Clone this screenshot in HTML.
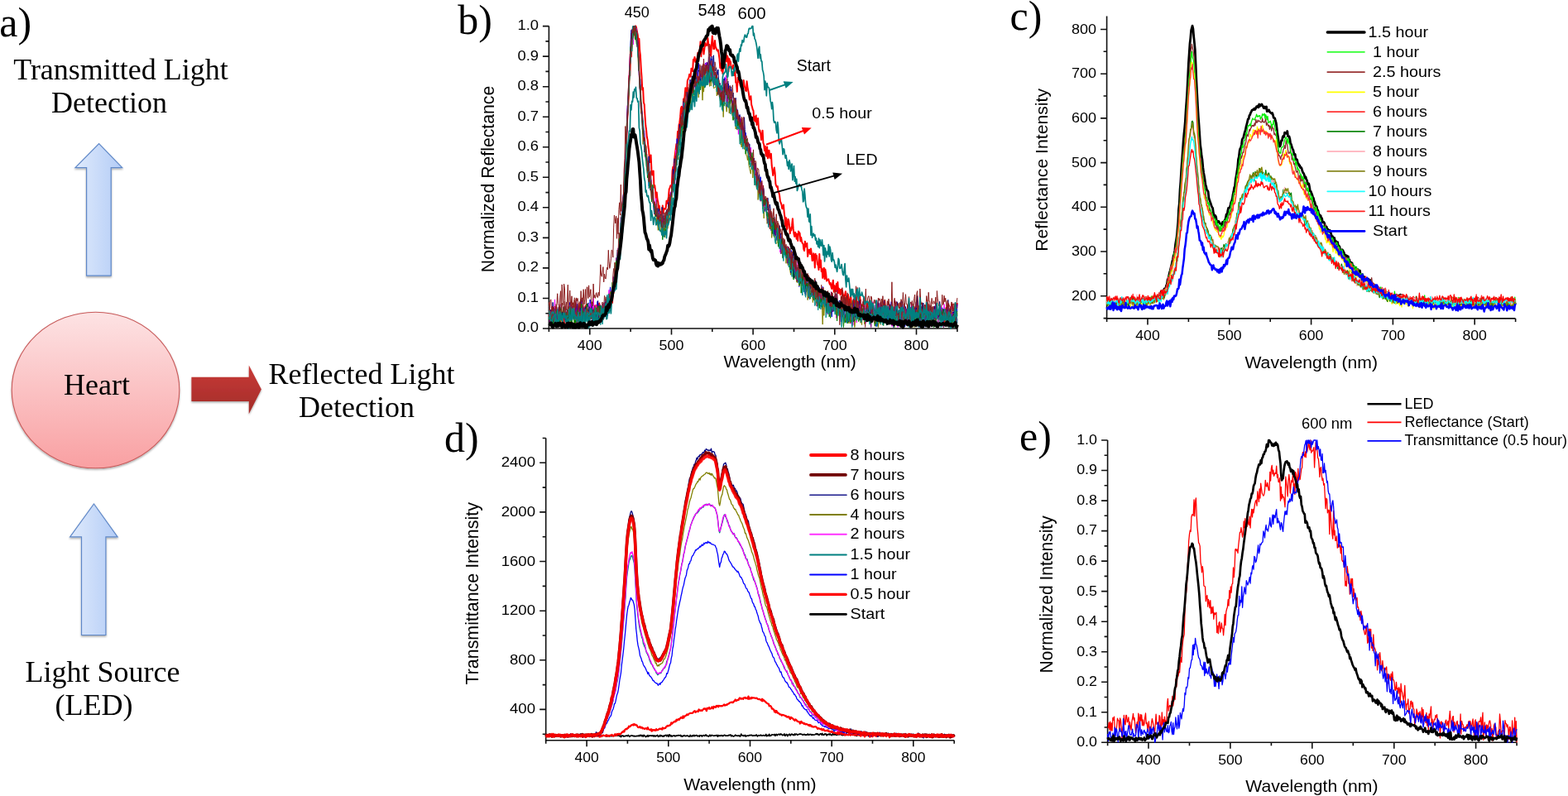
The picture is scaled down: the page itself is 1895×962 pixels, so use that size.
<!DOCTYPE html>
<html><head><meta charset="utf-8"><title>Figure</title>
<style>html,body{margin:0;padding:0;background:#fff;overflow:hidden;}svg{display:block;}</style></head>
<body><svg width="1895" height="962" viewBox="0 0 1895 962">
<rect width="1895" height="962" fill="#fff"/>
<defs>
<linearGradient id="gh" x1="0" y1="0" x2="0" y2="1">
 <stop offset="0" stop-color="#fde3e4"/><stop offset="1" stop-color="#f9a0a2"/>
</linearGradient>
<linearGradient id="gb" x1="0" y1="0" x2="1" y2="0">
 <stop offset="0" stop-color="#dfeafc"/><stop offset="1" stop-color="#b3ccf6"/>
</linearGradient>
<linearGradient id="gr" x1="0" y1="0" x2="0" y2="1">
 <stop offset="0" stop-color="#c93b38"/><stop offset="1" stop-color="#a22b28"/>
</linearGradient>
<filter id="sh" x="-20%" y="-20%" width="140%" height="140%"><feDropShadow dx="0" dy="1.5" stdDeviation="1.2" flood-color="#000" flood-opacity="0.35"/></filter>
</defs>
<path d="M119.6 173.7L147.7 202.7L134.2 202.7L134.2 333.2L104.6 333.2L104.6 202.7L91.0 202.7Z" fill="url(#gb)" stroke="#5f88c8" stroke-width="1.2" filter="url(#sh)"/>
<path d="M113.5 609.0L142.1 648.8L127.9 648.8L127.9 767.5L98.5 767.5L98.5 648.8L84.6 648.8Z" fill="url(#gb)" stroke="#5f88c8" stroke-width="1.2" filter="url(#sh)"/>
<ellipse cx="115.5" cy="471.5" rx="101.3" ry="94.3" fill="url(#gh)" stroke="#c85a5a" stroke-width="1.1" filter="url(#sh)"/>
<path d="M231.4 455.8H300.8V441.6L315.9 470.4L300.8 500.3V485.0H231.4Z" fill="url(#gr)" filter="url(#sh)"/>
<g font-family="Liberation Serif, Times New Roman, serif" fill="#000">
<text x="-0.8" y="44" font-size="50">a)</text>
<text x="146" y="95.8" font-size="36" text-anchor="middle">Transmitted Light</text>
<text x="132" y="136.1" font-size="36" text-anchor="middle">Detection</text>
<text x="117" y="476.5" font-size="36" text-anchor="middle">Heart</text>
<text x="437" y="463.5" font-size="36" text-anchor="middle">Reflected Light</text>
<text x="431" y="503.8" font-size="36" text-anchor="middle">Detection</text>
<text x="124" y="823.5" font-size="36" text-anchor="middle">Light Source</text>
<text x="113.5" y="863.6" font-size="36" text-anchor="middle">(LED)</text>
<text x="553.2" y="40.6" font-size="50">b)</text>
<text x="1220.5" y="35.8" font-size="50">c)</text>
<text x="537" y="546.3" font-size="50">d)</text>
<text x="1232" y="544" font-size="50">e)</text>
</g>
<g stroke="#111" stroke-width="1.6" fill="none">
<path d="M663.4 397.8V31.6"/>
<path d="M662.6 397.0H1156.9"/>
<path d="M655.9 397.0H663.4M655.9 360.5H663.4M655.9 323.9H663.4M655.9 287.4H663.4M655.9 250.8H663.4M655.9 214.3H663.4M655.9 177.8H663.4M655.9 141.2H663.4M655.9 104.7H663.4M655.9 68.1H663.4M655.9 31.6H663.4M659.4 378.7H663.4M659.4 342.2H663.4M659.4 305.6H663.4M659.4 269.1H663.4M659.4 232.6H663.4M659.4 196.0H663.4M659.4 159.5H663.4M659.4 123.0H663.4M659.4 86.4H663.4M659.4 49.9H663.4M712.8 397.0V404.5M811.5 397.0V404.5M910.1 397.0V404.5M1008.8 397.0V404.5M1107.5 397.0V404.5M663.4 397.0V401.0M762.1 397.0V401.0M860.8 397.0V401.0M959.5 397.0V401.0M1058.2 397.0V401.0M1156.9 397.0V401.0"/>
</g>
<g font-family="Liberation Sans, Arial, sans-serif" fill="#000">
<text transform="translate(651.00 401.40) scale(1.080 1.000)" font-size="17" text-anchor="end">0.0</text>
<text transform="translate(651.00 364.86) scale(1.080 1.000)" font-size="17" text-anchor="end">0.1</text>
<text transform="translate(651.00 328.32) scale(1.080 1.000)" font-size="17" text-anchor="end">0.2</text>
<text transform="translate(651.00 291.78) scale(1.080 1.000)" font-size="17" text-anchor="end">0.3</text>
<text transform="translate(651.00 255.24) scale(1.080 1.000)" font-size="17" text-anchor="end">0.4</text>
<text transform="translate(651.00 218.70) scale(1.080 1.000)" font-size="17" text-anchor="end">0.5</text>
<text transform="translate(651.00 182.16) scale(1.080 1.000)" font-size="17" text-anchor="end">0.6</text>
<text transform="translate(651.00 145.62) scale(1.080 1.000)" font-size="17" text-anchor="end">0.7</text>
<text transform="translate(651.00 109.08) scale(1.080 1.000)" font-size="17" text-anchor="end">0.8</text>
<text transform="translate(651.00 72.54) scale(1.080 1.000)" font-size="17" text-anchor="end">0.9</text>
<text transform="translate(651.00 36.00) scale(1.080 1.000)" font-size="17" text-anchor="end">1.0</text>
<text transform="translate(712.75 422.60) scale(1.055 1.000)" font-size="17" text-anchor="middle">400</text>
<text transform="translate(811.45 422.60) scale(1.055 1.000)" font-size="17" text-anchor="middle">500</text>
<text transform="translate(910.15 422.60) scale(1.055 1.000)" font-size="17" text-anchor="middle">600</text>
<text transform="translate(1008.85 422.60) scale(1.055 1.000)" font-size="17" text-anchor="middle">700</text>
<text transform="translate(1107.55 422.60) scale(1.055 1.000)" font-size="17" text-anchor="middle">800</text>
</g>
<g fill="none" stroke-linejoin="round">
<polyline points="663.4,380.2 664.2,383.6 665.0,381.2 665.8,384.2 666.6,378.4 667.3,371.4 668.1,381.4 668.9,382.1 669.7,376.0 670.5,376.7 671.3,378.1 672.1,383.8 672.9,378.8 673.7,374.8 674.5,386.0 675.2,381.1 676.0,389.0 676.8,385.7 677.6,388.7 678.4,379.8 679.2,385.5 680.0,377.0 680.8,377.6 681.6,379.5 682.4,392.3 683.1,381.4 683.9,378.7 684.7,377.8 685.5,386.7 686.3,381.0 687.1,383.7 687.9,382.7 688.7,372.4 689.5,382.6 690.2,378.4 691.0,373.3 691.8,381.3 692.6,378.7 693.4,377.4 694.2,377.7 695.0,384.7 695.8,377.5 696.6,370.5 697.4,386.3 698.1,373.1 698.9,377.1 699.7,381.3 700.5,366.7 701.3,373.5 702.1,384.2 702.9,377.1 703.7,374.3 704.5,378.5 705.2,373.7 706.0,377.7 706.8,373.7 707.6,369.4 708.4,380.9 709.2,376.0 710.0,379.6 710.8,376.3 711.6,383.5 712.4,380.1 713.1,377.9 713.9,371.9 714.7,370.5 715.5,383.9 716.3,380.9 717.1,372.9 717.9,387.2 718.7,378.7 719.5,376.6 720.3,369.0 721.0,371.9 721.8,377.3 722.6,377.4 723.4,376.5 724.2,366.5 725.0,377.0 725.8,376.1 726.6,372.2 727.4,374.5 728.1,374.6 728.9,379.3 729.7,372.9 730.5,374.9 731.3,365.7 732.1,368.1 732.9,371.3 733.7,366.7 734.5,371.2 735.3,362.2 736.0,366.3 736.8,361.2 737.6,369.4 738.4,358.0 739.2,366.7 740.0,365.9 740.8,353.6 741.6,353.9 742.4,344.9 743.1,330.0 743.9,342.5 744.7,336.4 745.5,326.2 746.3,318.4 747.1,315.4 747.9,308.6 748.7,296.4 749.5,290.0 750.3,290.5 751.0,276.5 751.8,266.4 752.6,262.0 753.4,243.5 754.2,237.3 755.0,212.4 755.8,198.6 756.6,179.4 757.4,162.8 758.2,140.9 758.9,134.0 759.7,114.4 760.5,91.5 761.3,91.4 762.1,63.2 762.9,68.4 763.7,48.4 764.5,51.2 765.3,37.0 766.0,36.1 766.8,42.0 767.6,31.6 768.4,31.6 769.2,34.1 770.0,38.6 770.8,42.5 771.6,52.3 772.4,46.7 773.2,61.7 773.9,67.2 774.7,81.8 775.5,92.7 776.3,108.5 777.1,106.1 777.9,123.8 778.7,126.3 779.5,139.9 780.3,151.7 781.1,157.2 781.8,165.5 782.6,168.9 783.4,177.0 784.2,182.4 785.0,193.8 785.8,195.9 786.6,187.4 787.4,204.9 788.2,211.6 788.9,208.3 789.7,206.6 790.5,226.5 791.3,224.1 792.1,230.9 792.9,241.6 793.7,232.4 794.5,240.8 795.3,244.2 796.1,252.2 796.8,248.7 797.6,256.5 798.4,256.1 799.2,262.3 800.0,262.9 800.8,248.5 801.6,257.7 802.4,252.0 803.2,252.3 803.9,252.7 804.7,251.1 805.5,242.8 806.3,245.7 807.1,242.5 807.9,238.5 808.7,228.6 809.5,227.2 810.3,224.3 811.1,224.7 811.8,224.3 812.6,206.6 813.4,201.7 814.2,202.8 815.0,193.6 815.8,186.6 816.6,180.5 817.4,174.0 818.2,175.6 819.0,158.9 819.7,168.3 820.5,151.3 821.3,148.2 822.1,141.4 822.9,131.2 823.7,128.9 824.5,138.9 825.3,137.6 826.1,119.5 826.8,125.3 827.6,115.3 828.4,106.2 829.2,115.6 830.0,114.1 830.8,97.6 831.6,95.6 832.4,94.2 833.2,89.7 834.0,91.8 834.7,92.7 835.5,82.7 836.3,84.7 837.1,86.1 837.9,72.1 838.7,73.3 839.5,68.9 840.3,74.9 841.1,71.7 841.8,72.4 842.6,70.7 843.4,63.7 844.2,68.1 845.0,61.0 845.8,60.2 846.6,50.2 847.4,68.2 848.2,54.9 849.0,59.6 849.7,58.4 850.5,65.5 851.3,59.3 852.1,51.8 852.9,55.4 853.7,53.5 854.5,54.6 855.3,45.8 856.1,51.4 856.9,62.7 857.6,54.0 858.4,60.7 859.2,67.7 860.0,53.1 860.8,43.5 861.6,51.4 862.4,59.1 863.2,59.1 864.0,49.1 864.7,56.0 865.5,58.1 866.3,60.3 867.1,61.6 867.9,60.3 868.7,65.3 869.5,71.1 870.3,81.9 871.1,76.7 871.9,85.6 872.6,76.8 873.4,89.0 874.2,80.9 875.0,77.6 875.8,82.3 876.6,63.5 877.4,63.8 878.2,74.4 879.0,67.6 879.8,69.9 880.5,86.4 881.3,71.0 882.1,73.7 882.9,74.4 883.7,82.8 884.5,80.8 885.3,83.0 886.1,78.4 886.9,86.1 887.6,91.0 888.4,85.5 889.2,99.6 890.0,101.0 890.8,110.8 891.6,93.8 892.4,97.9 893.2,98.7 894.0,100.4 894.8,103.8 895.5,103.5 896.3,106.2 897.1,106.2 897.9,104.9 898.7,97.1 899.5,102.6 900.3,106.2 901.1,109.4 901.9,110.1 902.6,98.3 903.4,105.1 904.2,109.1 905.0,113.6 905.8,120.5 906.6,117.9 907.4,116.2 908.2,126.6 909.0,129.2 909.8,132.6 910.5,133.8 911.3,145.8 912.1,140.9 912.9,146.7 913.7,139.5 914.5,150.9 915.3,145.8 916.1,142.9 916.9,155.3 917.7,159.3 918.4,157.5 919.2,161.1 920.0,169.1 920.8,163.7 921.6,157.7 922.4,172.7 923.2,174.9 924.0,181.9 924.8,176.7 925.5,187.4 926.3,188.6 927.1,177.4 927.9,191.3 928.7,182.2 929.5,181.7 930.3,190.6 931.1,191.1 931.9,185.8 932.7,200.0 933.4,204.9 934.2,212.0 935.0,207.4 935.8,202.6 936.6,208.6 937.4,222.2 938.2,224.8 939.0,226.1 939.8,225.1 940.5,231.4 941.3,232.8 942.1,236.0 942.9,243.0 943.7,245.2 944.5,247.3 945.3,252.2 946.1,252.1 946.9,247.4 947.7,256.8 948.4,261.8 949.2,273.0 950.0,263.2 950.8,277.5 951.6,275.9 952.4,264.7 953.2,266.7 954.0,272.5 954.8,282.2 955.6,275.8 956.3,278.5 957.1,272.2 957.9,264.3 958.7,276.4 959.5,282.8 960.3,285.9 961.1,280.7 961.9,282.4 962.7,288.8 963.4,282.9 964.2,290.9 965.0,279.6 965.8,280.9 966.6,281.9 967.4,291.4 968.2,287.1 969.0,291.7 969.8,294.1 970.6,294.9 971.3,301.2 972.1,303.0 972.9,291.8 973.7,298.3 974.5,297.1 975.3,293.9 976.1,310.0 976.9,305.9 977.7,301.7 978.5,301.7 979.2,307.0 980.0,300.4 980.8,306.1 981.6,315.0 982.4,314.6 983.2,306.2 984.0,309.3 984.8,323.4 985.6,306.7 986.3,312.0 987.1,309.0 987.9,319.6 988.7,320.3 989.5,326.0 990.3,307.0 991.1,323.0 991.9,314.5 992.7,327.9 993.5,324.7 994.2,335.9 995.0,330.0 995.8,323.7 996.6,337.2 997.4,325.6 998.2,330.8 999.0,339.5 999.8,337.7 1000.6,338.5 1001.3,337.3 1002.1,341.1 1002.9,343.7 1003.7,341.8 1004.5,346.6 1005.3,349.0 1006.1,343.0 1006.9,338.8 1007.7,352.8 1008.5,345.3 1009.2,349.7 1010.0,352.3 1010.8,343.1 1011.6,351.4 1012.4,341.1 1013.2,354.3 1014.0,348.7 1014.8,352.8 1015.6,356.4 1016.4,349.7 1017.1,354.5 1017.9,351.0 1018.7,355.2 1019.5,361.6 1020.3,356.8 1021.1,356.6 1021.9,352.2 1022.7,363.0 1023.5,358.8 1024.2,368.6 1025.0,356.1 1025.8,366.1 1026.6,370.6 1027.4,361.6 1028.2,355.7 1029.0,370.6 1029.8,368.8 1030.6,367.4 1031.4,370.0 1032.1,362.3 1032.9,369.3 1033.7,369.3 1034.5,362.6 1035.3,370.4 1036.1,364.4 1036.9,372.5 1037.7,374.3 1038.5,378.1 1039.2,358.3 1040.0,370.6 1040.8,367.9 1041.6,369.7 1042.4,369.0 1043.2,369.9 1044.0,360.0 1044.8,376.4 1045.6,379.4 1046.4,376.6 1047.1,378.6 1047.9,367.3 1048.7,367.0 1049.5,376.8 1050.3,379.3 1051.1,373.7 1051.9,364.2 1052.7,387.3 1053.5,369.1 1054.3,378.0 1055.0,366.4 1055.8,378.1 1056.6,373.9 1057.4,380.6 1058.2,377.8 1059.0,364.9 1059.8,368.1 1060.6,374.9 1061.4,377.5 1062.1,383.2 1062.9,375.1 1063.7,373.2 1064.5,373.5 1065.3,373.6 1066.1,379.3 1066.9,373.6 1067.7,373.6 1068.5,366.3 1069.3,363.2 1070.0,374.3 1070.8,377.8 1071.6,374.0 1072.4,377.1 1073.2,377.9 1074.0,374.2 1074.8,379.6 1075.6,370.7 1076.4,374.6 1077.2,372.7 1077.9,375.2 1078.7,378.2 1079.5,379.5 1080.3,375.6 1081.1,377.4 1081.9,373.2 1082.7,374.5 1083.5,382.0 1084.3,374.3 1085.0,382.0 1085.8,378.1 1086.6,376.4 1087.4,386.2 1088.2,374.4 1089.0,374.1 1089.8,375.8 1090.6,377.3 1091.4,377.1 1092.2,380.5 1092.9,376.6 1093.7,378.2 1094.5,374.8 1095.3,381.9 1096.1,374.1 1096.9,374.6 1097.7,376.2 1098.5,377.9 1099.3,372.5 1100.0,384.7 1100.8,373.1 1101.6,374.3 1102.4,374.1 1103.2,373.6 1104.0,379.3 1104.8,377.2 1105.6,372.3 1106.4,373.5 1107.2,374.7 1107.9,384.2 1108.7,373.0 1109.5,369.6 1110.3,370.5 1111.1,374.8 1111.9,384.6 1112.7,370.9 1113.5,376.9 1114.3,390.0 1115.1,374.1 1115.8,384.4 1116.6,383.4 1117.4,379.8 1118.2,369.3 1119.0,378.4 1119.8,374.9 1120.6,366.8 1121.4,367.7 1122.2,377.0 1122.9,377.8 1123.7,383.4 1124.5,380.3 1125.3,374.2 1126.1,374.4 1126.9,375.9 1127.7,371.1 1128.5,380.8 1129.3,376.9 1130.1,372.6 1130.8,373.4 1131.6,370.8 1132.4,374.5 1133.2,378.4 1134.0,374.7 1134.8,382.2 1135.6,385.7 1136.4,373.6 1137.2,377.1 1137.9,375.1 1138.7,386.1 1139.5,378.8 1140.3,380.1 1141.1,381.5 1141.9,389.2 1142.7,378.7 1143.5,371.9 1144.3,374.8 1145.1,380.1 1145.8,376.9 1146.6,372.7 1147.4,392.0 1148.2,377.6 1149.0,373.9 1149.8,373.1 1150.6,367.6 1151.4,370.7 1152.2,375.2 1153.0,375.2 1153.7,372.6 1154.5,379.9 1155.3,377.1 1156.1,371.9 1156.9,366.2" stroke="#ff0000" stroke-width="2.00"/>
<polyline points="663.4,380.8 664.2,370.9 665.0,386.9 665.8,381.8 666.6,381.9 667.3,375.4 668.1,373.7 668.9,390.5 669.7,386.5 670.5,378.3 671.3,384.8 672.1,390.5 672.9,373.7 673.7,377.2 674.5,377.2 675.2,383.6 676.0,373.7 676.8,382.0 677.6,373.2 678.4,386.4 679.2,386.0 680.0,379.0 680.8,385.0 681.6,375.9 682.4,378.6 683.1,386.3 683.9,379.8 684.7,382.5 685.5,374.2 686.3,384.3 687.1,383.0 687.9,372.1 688.7,365.4 689.5,366.9 690.2,379.6 691.0,378.5 691.8,369.9 692.6,380.7 693.4,386.3 694.2,379.1 695.0,376.8 695.8,385.2 696.6,390.6 697.4,389.1 698.1,375.3 698.9,384.6 699.7,380.5 700.5,378.1 701.3,375.4 702.1,381.6 702.9,376.1 703.7,385.2 704.5,381.7 705.2,386.0 706.0,371.8 706.8,379.3 707.6,384.0 708.4,381.4 709.2,380.4 710.0,374.3 710.8,389.4 711.6,385.6 712.4,381.2 713.1,362.0 713.9,372.3 714.7,379.3 715.5,373.8 716.3,364.8 717.1,379.7 717.9,380.5 718.7,369.9 719.5,374.5 720.3,373.1 721.0,380.7 721.8,364.5 722.6,365.7 723.4,372.9 724.2,371.9 725.0,389.5 725.8,371.6 726.6,376.8 727.4,372.3 728.1,370.3 728.9,376.5 729.7,384.7 730.5,370.3 731.3,376.7 732.1,372.9 732.9,373.5 733.7,370.5 734.5,382.0 735.3,357.3 736.0,361.9 736.8,354.5 737.6,346.9 738.4,357.3 739.2,366.1 740.0,356.3 740.8,354.0 741.6,344.7 742.4,335.9 743.1,344.6 743.9,324.1 744.7,331.4 745.5,314.3 746.3,311.6 747.1,307.2 747.9,299.5 748.7,296.1 749.5,289.6 750.3,289.5 751.0,271.0 751.8,250.4 752.6,240.5 753.4,234.9 754.2,227.9 755.0,223.4 755.8,192.7 756.6,183.8 757.4,164.4 758.2,146.6 758.9,126.4 759.7,113.3 760.5,93.3 761.3,82.9 762.1,63.8 762.9,36.4 763.7,46.4 764.5,42.8 765.3,33.9 766.0,31.6 766.8,40.8 767.6,35.7 768.4,32.0 769.2,41.8 770.0,49.1 770.8,48.4 771.6,75.4 772.4,84.5 773.2,102.8 773.9,102.2 774.7,136.0 775.5,138.6 776.3,148.2 777.1,150.1 777.9,159.2 778.7,161.6 779.5,188.2 780.3,179.4 781.1,192.3 781.8,200.4 782.6,197.8 783.4,212.5 784.2,224.9 785.0,218.3 785.8,230.0 786.6,228.5 787.4,225.8 788.2,230.1 788.9,225.6 789.7,242.6 790.5,254.9 791.3,253.0 792.1,257.1 792.9,261.7 793.7,253.1 794.5,262.2 795.3,273.0 796.1,257.4 796.8,264.5 797.6,263.1 798.4,266.1 799.2,263.7 800.0,268.2 800.8,260.4 801.6,265.4 802.4,264.9 803.2,263.8 803.9,274.7 804.7,264.7 805.5,263.6 806.3,258.6 807.1,266.7 807.9,243.9 808.7,250.1 809.5,254.3 810.3,252.7 811.1,238.5 811.8,232.3 812.6,231.1 813.4,220.1 814.2,218.9 815.0,204.9 815.8,207.2 816.6,196.8 817.4,184.2 818.2,167.6 819.0,185.0 819.7,175.6 820.5,172.5 821.3,156.7 822.1,164.8 822.9,156.0 823.7,148.8 824.5,151.1 825.3,147.2 826.1,140.5 826.8,147.9 827.6,140.3 828.4,130.4 829.2,123.8 830.0,123.3 830.8,131.3 831.6,120.4 832.4,109.9 833.2,109.4 834.0,111.6 834.7,115.0 835.5,103.1 836.3,109.3 837.1,111.5 837.9,107.5 838.7,91.2 839.5,97.8 840.3,90.3 841.1,99.9 841.8,89.4 842.6,98.5 843.4,94.5 844.2,76.1 845.0,86.4 845.8,93.8 846.6,90.2 847.4,86.7 848.2,80.1 849.0,90.6 849.7,98.2 850.5,88.0 851.3,85.5 852.1,84.4 852.9,76.0 853.7,82.1 854.5,78.3 855.3,90.5 856.1,77.2 856.9,68.8 857.6,77.3 858.4,80.6 859.2,81.3 860.0,70.9 860.8,89.3 861.6,84.7 862.4,82.0 863.2,81.3 864.0,90.5 864.7,87.0 865.5,92.5 866.3,91.5 867.1,95.1 867.9,104.9 868.7,101.7 869.5,100.4 870.3,117.1 871.1,116.3 871.9,113.0 872.6,125.5 873.4,116.1 874.2,121.6 875.0,104.0 875.8,93.5 876.6,94.3 877.4,109.2 878.2,103.5 879.0,108.4 879.8,109.6 880.5,101.3 881.3,121.5 882.1,107.2 882.9,115.9 883.7,107.9 884.5,117.8 885.3,125.5 886.1,121.5 886.9,120.9 887.6,127.9 888.4,127.4 889.2,136.5 890.0,149.4 890.8,131.8 891.6,135.4 892.4,141.3 893.2,144.1 894.0,140.1 894.8,152.2 895.5,156.2 896.3,155.2 897.1,148.6 897.9,167.9 898.7,153.4 899.5,167.9 900.3,173.3 901.1,160.3 901.9,171.7 902.6,182.2 903.4,178.5 904.2,172.6 905.0,173.5 905.8,186.8 906.6,183.9 907.4,184.5 908.2,196.1 909.0,192.1 909.8,197.3 910.5,203.2 911.3,205.5 912.1,204.5 912.9,207.4 913.7,214.0 914.5,215.7 915.3,208.3 916.1,216.9 916.9,215.1 917.7,215.7 918.4,222.3 919.2,213.8 920.0,236.6 920.8,228.3 921.6,238.1 922.4,226.1 923.2,229.4 924.0,255.7 924.8,251.5 925.5,242.9 926.3,244.3 927.1,246.8 927.9,254.2 928.7,252.8 929.5,253.6 930.3,260.4 931.1,255.2 931.9,278.7 932.7,261.6 933.4,274.5 934.2,263.3 935.0,272.9 935.8,279.1 936.6,272.6 937.4,282.8 938.2,284.6 939.0,290.6 939.8,282.2 940.5,280.5 941.3,278.8 942.1,288.1 942.9,282.0 943.7,290.5 944.5,292.9 945.3,290.2 946.1,288.6 946.9,299.5 947.7,300.5 948.4,301.6 949.2,301.6 950.0,309.6 950.8,298.5 951.6,309.5 952.4,305.3 953.2,315.3 954.0,309.0 954.8,310.3 955.6,317.2 956.3,302.6 957.1,314.9 957.9,307.1 958.7,313.9 959.5,326.0 960.3,325.5 961.1,321.5 961.9,325.3 962.7,326.7 963.4,330.2 964.2,341.4 965.0,332.2 965.8,346.5 966.6,330.6 967.4,339.0 968.2,340.0 969.0,337.8 969.8,335.7 970.6,347.9 971.3,351.1 972.1,347.6 972.9,355.0 973.7,348.8 974.5,333.0 975.3,351.3 976.1,341.0 976.9,355.1 977.7,345.0 978.5,349.9 979.2,349.1 980.0,345.7 980.8,338.7 981.6,349.8 982.4,351.0 983.2,359.0 984.0,349.6 984.8,355.8 985.6,349.5 986.3,356.0 987.1,345.0 987.9,370.2 988.7,359.9 989.5,352.9 990.3,361.7 991.1,365.2 991.9,362.4 992.7,370.4 993.5,361.1 994.2,346.4 995.0,355.4 995.8,370.7 996.6,369.6 997.4,367.0 998.2,358.2 999.0,370.6 999.8,370.2 1000.6,360.2 1001.3,360.8 1002.1,369.3 1002.9,374.6 1003.7,377.8 1004.5,372.6 1005.3,383.0 1006.1,363.7 1006.9,373.2 1007.7,366.2 1008.5,357.4 1009.2,362.3 1010.0,378.0 1010.8,365.0 1011.6,363.5 1012.4,376.3 1013.2,378.0 1014.0,372.8 1014.8,383.0 1015.6,363.1 1016.4,388.9 1017.1,380.7 1017.9,375.5 1018.7,375.5 1019.5,373.2 1020.3,372.8 1021.1,376.3 1021.9,367.6 1022.7,389.4 1023.5,375.5 1024.2,380.4 1025.0,375.0 1025.8,374.6 1026.6,382.2 1027.4,380.6 1028.2,371.3 1029.0,374.3 1029.8,381.2 1030.6,363.5 1031.4,361.8 1032.1,386.7 1032.9,375.3 1033.7,360.9 1034.5,372.3 1035.3,376.1 1036.1,379.1 1036.9,381.4 1037.7,379.3 1038.5,381.7 1039.2,373.2 1040.0,380.9 1040.8,381.2 1041.6,386.3 1042.4,378.9 1043.2,384.5 1044.0,379.9 1044.8,371.9 1045.6,376.5 1046.4,375.6 1047.1,376.7 1047.9,378.7 1048.7,380.0 1049.5,381.2 1050.3,374.3 1051.1,386.4 1051.9,370.5 1052.7,379.2 1053.5,384.4 1054.3,382.7 1055.0,384.0 1055.8,378.5 1056.6,384.3 1057.4,372.1 1058.2,384.8 1059.0,394.6 1059.8,384.5 1060.6,392.9 1061.4,380.0 1062.1,372.8 1062.9,375.5 1063.7,388.6 1064.5,384.8 1065.3,368.1 1066.1,377.7 1066.9,379.8 1067.7,372.9 1068.5,363.7 1069.3,371.3 1070.0,379.0 1070.8,377.6 1071.6,375.9 1072.4,384.0 1073.2,386.9 1074.0,379.6 1074.8,386.2 1075.6,380.4 1076.4,379.4 1077.2,364.6 1077.9,385.6 1078.7,380.9 1079.5,381.2 1080.3,377.2 1081.1,373.2 1081.9,383.3 1082.7,385.5 1083.5,390.9 1084.3,386.2 1085.0,376.6 1085.8,379.9 1086.6,386.9 1087.4,382.7 1088.2,380.0 1089.0,376.9 1089.8,384.1 1090.6,381.9 1091.4,392.2 1092.2,387.8 1092.9,369.6 1093.7,394.7 1094.5,382.5 1095.3,378.9 1096.1,382.8 1096.9,385.7 1097.7,380.7 1098.5,380.4 1099.3,380.9 1100.0,392.7 1100.8,381.4 1101.6,386.0 1102.4,384.0 1103.2,378.9 1104.0,376.2 1104.8,374.5 1105.6,383.7 1106.4,374.4 1107.2,372.7 1107.9,373.0 1108.7,371.3 1109.5,381.4 1110.3,381.6 1111.1,375.1 1111.9,389.5 1112.7,379.1 1113.5,384.0 1114.3,383.0 1115.1,392.0 1115.8,386.4 1116.6,380.7 1117.4,374.7 1118.2,374.1 1119.0,381.1 1119.8,381.8 1120.6,386.0 1121.4,377.9 1122.2,382.2 1122.9,376.6 1123.7,369.1 1124.5,380.8 1125.3,390.5 1126.1,386.3 1126.9,390.2 1127.7,388.5 1128.5,372.1 1129.3,379.2 1130.1,390.6 1130.8,376.4 1131.6,372.4 1132.4,383.0 1133.2,385.1 1134.0,382.9 1134.8,378.8 1135.6,376.5 1136.4,372.9 1137.2,372.7 1137.9,372.9 1138.7,371.7 1139.5,376.3 1140.3,390.8 1141.1,381.6 1141.9,378.6 1142.7,383.2 1143.5,374.7 1144.3,383.1 1145.1,386.8 1145.8,371.2 1146.6,376.3 1147.4,379.3 1148.2,374.6 1149.0,373.7 1149.8,378.5 1150.6,395.5 1151.4,385.2 1152.2,383.7 1153.0,387.2 1153.7,379.4 1154.5,372.9 1155.3,383.9 1156.1,388.2 1156.9,367.4" stroke="#0000ff" stroke-width="1.00"/>
<polyline points="663.4,385.2 664.2,375.4 665.0,383.8 665.8,386.6 666.6,379.4 667.3,375.5 668.1,384.7 668.9,378.4 669.7,381.1 670.5,361.9 671.3,385.2 672.1,371.4 672.9,380.8 673.7,381.3 674.5,375.7 675.2,374.6 676.0,372.1 676.8,378.3 677.6,384.4 678.4,383.9 679.2,377.0 680.0,376.5 680.8,371.1 681.6,377.6 682.4,373.3 683.1,370.3 683.9,379.2 684.7,390.0 685.5,387.9 686.3,389.6 687.1,369.7 687.9,385.7 688.7,372.0 689.5,376.2 690.2,368.7 691.0,373.4 691.8,380.6 692.6,381.2 693.4,379.3 694.2,378.7 695.0,383.3 695.8,380.0 696.6,369.1 697.4,390.9 698.1,378.0 698.9,385.6 699.7,378.3 700.5,374.0 701.3,379.9 702.1,374.4 702.9,389.8 703.7,372.1 704.5,383.3 705.2,375.2 706.0,378.0 706.8,395.5 707.6,384.1 708.4,377.6 709.2,368.8 710.0,377.0 710.8,377.2 711.6,388.1 712.4,369.3 713.1,366.8 713.9,378.4 714.7,380.0 715.5,389.1 716.3,372.5 717.1,360.4 717.9,373.4 718.7,369.6 719.5,374.2 720.3,384.0 721.0,368.6 721.8,385.3 722.6,378.3 723.4,374.8 724.2,370.6 725.0,373.4 725.8,373.3 726.6,380.5 727.4,383.6 728.1,374.4 728.9,378.9 729.7,382.2 730.5,381.1 731.3,375.0 732.1,382.9 732.9,378.4 733.7,379.0 734.5,365.6 735.3,362.6 736.0,350.4 736.8,371.7 737.6,364.4 738.4,351.5 739.2,355.6 740.0,352.5 740.8,334.8 741.6,343.6 742.4,344.1 743.1,340.1 743.9,324.2 744.7,319.4 745.5,325.3 746.3,317.3 747.1,301.6 747.9,295.2 748.7,296.7 749.5,281.5 750.3,274.6 751.0,282.5 751.8,264.6 752.6,250.8 753.4,247.4 754.2,246.6 755.0,220.8 755.8,197.2 756.6,173.1 757.4,178.3 758.2,127.5 758.9,134.4 759.7,104.1 760.5,84.6 761.3,69.3 762.1,60.4 762.9,59.1 763.7,41.8 764.5,46.0 765.3,54.0 766.0,31.6 766.8,31.6 767.6,31.6 768.4,44.1 769.2,33.9 770.0,39.4 770.8,48.4 771.6,71.1 772.4,93.0 773.2,100.5 773.9,126.5 774.7,134.4 775.5,133.6 776.3,151.3 777.1,155.6 777.9,163.9 778.7,158.1 779.5,169.3 780.3,184.6 781.1,182.4 781.8,201.2 782.6,203.6 783.4,200.5 784.2,219.5 785.0,217.7 785.8,228.9 786.6,223.5 787.4,217.5 788.2,237.1 788.9,234.5 789.7,248.8 790.5,253.9 791.3,257.7 792.1,243.0 792.9,239.6 793.7,254.2 794.5,264.1 795.3,256.7 796.1,265.5 796.8,259.9 797.6,264.9 798.4,266.3 799.2,265.1 800.0,273.5 800.8,272.5 801.6,280.9 802.4,271.7 803.2,277.1 803.9,267.4 804.7,271.2 805.5,262.5 806.3,258.4 807.1,268.6 807.9,261.4 808.7,258.4 809.5,242.9 810.3,231.9 811.1,232.6 811.8,235.7 812.6,218.5 813.4,232.4 814.2,206.6 815.0,214.7 815.8,222.7 816.6,181.2 817.4,182.3 818.2,193.4 819.0,179.5 819.7,176.2 820.5,168.6 821.3,174.0 822.1,164.1 822.9,152.2 823.7,149.7 824.5,139.3 825.3,143.0 826.1,124.6 826.8,141.4 827.6,131.8 828.4,143.0 829.2,135.8 830.0,116.1 830.8,128.6 831.6,116.7 832.4,118.4 833.2,122.8 834.0,116.2 834.7,115.4 835.5,113.4 836.3,103.5 837.1,102.5 837.9,109.0 838.7,109.6 839.5,100.4 840.3,101.6 841.1,93.0 841.8,81.2 842.6,92.0 843.4,96.7 844.2,96.6 845.0,100.2 845.8,99.6 846.6,99.4 847.4,94.5 848.2,94.0 849.0,85.6 849.7,92.5 850.5,90.6 851.3,96.8 852.1,77.5 852.9,84.4 853.7,75.5 854.5,81.6 855.3,76.6 856.1,87.7 856.9,81.1 857.6,67.8 858.4,93.5 859.2,77.8 860.0,74.6 860.8,83.6 861.6,82.1 862.4,79.8 863.2,93.8 864.0,88.0 864.7,98.0 865.5,98.3 866.3,99.5 867.1,98.2 867.9,99.4 868.7,101.5 869.5,118.7 870.3,100.3 871.1,109.7 871.9,115.4 872.6,123.7 873.4,120.8 874.2,113.8 875.0,111.5 875.8,123.0 876.6,105.5 877.4,91.1 878.2,123.7 879.0,105.4 879.8,110.7 880.5,115.1 881.3,106.4 882.1,125.0 882.9,117.3 883.7,110.1 884.5,123.2 885.3,126.7 886.1,125.3 886.9,131.4 887.6,120.4 888.4,139.4 889.2,129.8 890.0,146.5 890.8,135.8 891.6,143.3 892.4,162.3 893.2,147.2 894.0,156.6 894.8,154.7 895.5,143.7 896.3,164.0 897.1,166.0 897.9,151.4 898.7,162.8 899.5,155.6 900.3,166.3 901.1,176.9 901.9,173.8 902.6,167.6 903.4,172.0 904.2,181.0 905.0,183.2 905.8,186.9 906.6,192.6 907.4,178.2 908.2,193.9 909.0,204.2 909.8,202.3 910.5,196.8 911.3,199.9 912.1,207.8 912.9,214.0 913.7,212.0 914.5,226.1 915.3,226.3 916.1,214.7 916.9,226.0 917.7,222.8 918.4,219.7 919.2,226.0 920.0,232.7 920.8,220.9 921.6,233.1 922.4,242.3 923.2,237.2 924.0,241.7 924.8,252.4 925.5,248.3 926.3,252.1 927.1,266.4 927.9,256.3 928.7,259.2 929.5,262.2 930.3,272.4 931.1,265.7 931.9,265.5 932.7,266.5 933.4,276.7 934.2,266.6 935.0,280.9 935.8,276.0 936.6,267.5 937.4,282.7 938.2,283.2 939.0,274.3 939.8,285.8 940.5,286.9 941.3,285.1 942.1,281.2 942.9,304.9 943.7,297.3 944.5,300.1 945.3,302.3 946.1,302.4 946.9,303.9 947.7,297.8 948.4,307.5 949.2,302.2 950.0,301.9 950.8,311.1 951.6,306.9 952.4,298.2 953.2,308.6 954.0,316.5 954.8,314.2 955.6,321.4 956.3,314.9 957.1,312.3 957.9,325.1 958.7,322.4 959.5,314.9 960.3,327.1 961.1,323.9 961.9,333.3 962.7,333.2 963.4,332.4 964.2,315.9 965.0,334.1 965.8,336.0 966.6,337.4 967.4,335.9 968.2,331.6 969.0,335.8 969.8,324.5 970.6,337.7 971.3,330.6 972.1,339.3 972.9,338.1 973.7,352.5 974.5,344.8 975.3,345.3 976.1,347.4 976.9,360.8 977.7,341.7 978.5,350.9 979.2,352.0 980.0,351.6 980.8,352.3 981.6,348.9 982.4,360.7 983.2,359.2 984.0,351.9 984.8,353.6 985.6,357.8 986.3,359.9 987.1,362.3 987.9,358.0 988.7,350.6 989.5,366.0 990.3,349.7 991.1,354.9 991.9,364.0 992.7,356.5 993.5,371.9 994.2,374.1 995.0,371.7 995.8,366.4 996.6,366.4 997.4,368.1 998.2,364.5 999.0,379.6 999.8,362.7 1000.6,375.7 1001.3,371.1 1002.1,369.9 1002.9,375.1 1003.7,376.9 1004.5,374.9 1005.3,368.7 1006.1,365.1 1006.9,365.6 1007.7,376.2 1008.5,375.2 1009.2,376.4 1010.0,367.7 1010.8,384.4 1011.6,363.2 1012.4,374.9 1013.2,377.2 1014.0,370.1 1014.8,365.9 1015.6,370.8 1016.4,366.4 1017.1,372.8 1017.9,365.9 1018.7,366.1 1019.5,375.2 1020.3,365.4 1021.1,374.0 1021.9,374.8 1022.7,381.6 1023.5,377.7 1024.2,370.8 1025.0,384.8 1025.8,372.0 1026.6,374.1 1027.4,374.7 1028.2,391.2 1029.0,377.5 1029.8,372.7 1030.6,382.1 1031.4,376.6 1032.1,393.0 1032.9,373.0 1033.7,381.9 1034.5,372.0 1035.3,389.9 1036.1,373.4 1036.9,379.6 1037.7,372.8 1038.5,384.3 1039.2,382.4 1040.0,363.7 1040.8,384.0 1041.6,383.3 1042.4,380.5 1043.2,385.5 1044.0,371.1 1044.8,367.6 1045.6,383.7 1046.4,390.5 1047.1,371.5 1047.9,372.0 1048.7,373.9 1049.5,371.8 1050.3,385.1 1051.1,380.6 1051.9,388.6 1052.7,388.9 1053.5,373.2 1054.3,384.1 1055.0,364.7 1055.8,379.3 1056.6,384.0 1057.4,374.5 1058.2,368.0 1059.0,376.6 1059.8,387.9 1060.6,377.4 1061.4,370.8 1062.1,383.1 1062.9,385.0 1063.7,373.2 1064.5,379.0 1065.3,387.2 1066.1,382.5 1066.9,385.0 1067.7,378.1 1068.5,379.3 1069.3,372.5 1070.0,375.4 1070.8,390.4 1071.6,377.4 1072.4,374.2 1073.2,377.1 1074.0,373.4 1074.8,383.8 1075.6,386.4 1076.4,374.1 1077.2,387.2 1077.9,394.4 1078.7,373.5 1079.5,385.0 1080.3,382.3 1081.1,389.5 1081.9,389.0 1082.7,387.9 1083.5,382.7 1084.3,377.9 1085.0,395.4 1085.8,375.4 1086.6,388.1 1087.4,387.4 1088.2,375.9 1089.0,380.9 1089.8,390.5 1090.6,368.3 1091.4,386.1 1092.2,378.8 1092.9,379.1 1093.7,371.2 1094.5,383.5 1095.3,373.9 1096.1,385.4 1096.9,373.1 1097.7,385.5 1098.5,382.9 1099.3,368.1 1100.0,378.5 1100.8,379.8 1101.6,365.8 1102.4,378.2 1103.2,386.0 1104.0,375.8 1104.8,388.4 1105.6,373.2 1106.4,372.7 1107.2,384.4 1107.9,384.8 1108.7,379.5 1109.5,380.6 1110.3,387.1 1111.1,376.9 1111.9,394.1 1112.7,383.5 1113.5,383.3 1114.3,382.5 1115.1,378.7 1115.8,388.8 1116.6,376.8 1117.4,381.9 1118.2,385.0 1119.0,389.7 1119.8,388.5 1120.6,378.4 1121.4,387.1 1122.2,380.3 1122.9,373.8 1123.7,374.0 1124.5,370.5 1125.3,382.7 1126.1,387.9 1126.9,374.1 1127.7,378.8 1128.5,373.4 1129.3,380.7 1130.1,372.9 1130.8,375.3 1131.6,376.1 1132.4,377.5 1133.2,378.2 1134.0,379.3 1134.8,379.4 1135.6,374.3 1136.4,384.2 1137.2,369.4 1137.9,381.5 1138.7,374.4 1139.5,381.4 1140.3,382.5 1141.1,367.5 1141.9,382.9 1142.7,389.3 1143.5,385.6 1144.3,383.0 1145.1,366.7 1145.8,379.5 1146.6,374.7 1147.4,387.5 1148.2,378.6 1149.0,376.5 1149.8,369.0 1150.6,385.5 1151.4,376.9 1152.2,378.9 1153.0,387.6 1153.7,381.0 1154.5,382.6 1155.3,395.5 1156.1,376.9 1156.9,377.3" stroke="#ff00ff" stroke-width="1.00"/>
<polyline points="663.4,378.3 664.2,375.7 665.0,388.4 665.8,379.6 666.6,386.5 667.3,385.3 668.1,385.5 668.9,384.9 669.7,377.6 670.5,384.1 671.3,385.9 672.1,386.7 672.9,382.6 673.7,390.7 674.5,388.2 675.2,385.2 676.0,388.5 676.8,385.6 677.6,388.8 678.4,371.6 679.2,376.0 680.0,381.8 680.8,385.1 681.6,370.3 682.4,382.5 683.1,385.2 683.9,382.6 684.7,382.6 685.5,375.3 686.3,384.7 687.1,370.7 687.9,390.3 688.7,379.9 689.5,391.0 690.2,372.5 691.0,386.5 691.8,384.7 692.6,378.2 693.4,376.0 694.2,391.5 695.0,386.5 695.8,393.3 696.6,383.2 697.4,384.7 698.1,386.3 698.9,388.5 699.7,386.5 700.5,388.8 701.3,380.4 702.1,373.8 702.9,395.5 703.7,384.5 704.5,386.4 705.2,380.4 706.0,389.8 706.8,384.5 707.6,390.3 708.4,378.8 709.2,382.7 710.0,384.4 710.8,380.8 711.6,384.8 712.4,393.4 713.1,379.2 713.9,381.1 714.7,383.9 715.5,376.4 716.3,374.7 717.1,389.8 717.9,387.6 718.7,372.1 719.5,372.8 720.3,386.8 721.0,389.5 721.8,385.7 722.6,384.6 723.4,391.5 724.2,380.6 725.0,388.9 725.8,388.2 726.6,373.9 727.4,384.0 728.1,379.6 728.9,374.5 729.7,372.6 730.5,379.4 731.3,375.9 732.1,380.6 732.9,362.5 733.7,368.4 734.5,378.5 735.3,369.6 736.0,363.3 736.8,363.1 737.6,352.3 738.4,352.8 739.2,362.2 740.0,355.4 740.8,358.9 741.6,344.1 742.4,339.9 743.1,318.0 743.9,330.1 744.7,339.6 745.5,325.1 746.3,314.5 747.1,317.7 747.9,309.1 748.7,299.3 749.5,287.8 750.3,283.9 751.0,281.0 751.8,261.8 752.6,261.5 753.4,251.3 754.2,246.0 755.0,228.5 755.8,202.3 756.6,198.5 757.4,168.8 758.2,144.4 758.9,133.9 759.7,113.2 760.5,104.5 761.3,71.5 762.1,58.5 762.9,54.3 763.7,61.9 764.5,52.5 765.3,35.4 766.0,31.6 766.8,35.9 767.6,31.6 768.4,46.4 769.2,49.2 770.0,54.2 770.8,60.2 771.6,85.4 772.4,83.3 773.2,95.0 773.9,123.9 774.7,136.5 775.5,136.3 776.3,153.4 777.1,174.5 777.9,162.2 778.7,174.2 779.5,185.4 780.3,174.8 781.1,193.8 781.8,205.4 782.6,205.1 783.4,217.7 784.2,220.7 785.0,217.7 785.8,228.2 786.6,231.6 787.4,221.6 788.2,230.9 788.9,235.1 789.7,247.7 790.5,251.4 791.3,248.1 792.1,260.7 792.9,250.9 793.7,271.5 794.5,268.9 795.3,278.3 796.1,273.4 796.8,269.5 797.6,264.9 798.4,280.2 799.2,276.7 800.0,279.7 800.8,282.3 801.6,285.0 802.4,276.1 803.2,286.9 803.9,273.5 804.7,272.5 805.5,275.3 806.3,275.9 807.1,276.2 807.9,251.8 808.7,269.1 809.5,245.8 810.3,247.4 811.1,249.1 811.8,249.6 812.6,230.0 813.4,219.9 814.2,231.6 815.0,221.5 815.8,206.8 816.6,205.8 817.4,189.1 818.2,200.1 819.0,186.9 819.7,193.0 820.5,165.7 821.3,179.4 822.1,184.6 822.9,166.7 823.7,162.7 824.5,145.4 825.3,156.6 826.1,151.0 826.8,143.8 827.6,134.2 828.4,142.0 829.2,132.0 830.0,132.8 830.8,135.7 831.6,131.1 832.4,129.3 833.2,133.5 834.0,117.6 834.7,132.8 835.5,114.2 836.3,113.9 837.1,119.2 837.9,122.0 838.7,117.0 839.5,111.1 840.3,108.0 841.1,109.9 841.8,104.1 842.6,113.3 843.4,107.0 844.2,117.9 845.0,101.6 845.8,104.7 846.6,107.6 847.4,96.5 848.2,98.8 849.0,121.2 849.7,101.8 850.5,111.1 851.3,94.0 852.1,84.2 852.9,103.5 853.7,99.1 854.5,100.8 855.3,96.4 856.1,94.1 856.9,89.6 857.6,104.4 858.4,87.5 859.2,104.0 860.0,96.3 860.8,91.0 861.6,94.8 862.4,106.6 863.2,106.2 864.0,106.0 864.7,104.7 865.5,98.3 866.3,115.9 867.1,106.2 867.9,108.3 868.7,112.7 869.5,117.8 870.3,115.3 871.1,125.8 871.9,126.1 872.6,129.0 873.4,119.8 874.2,141.5 875.0,117.5 875.8,125.0 876.6,124.1 877.4,128.8 878.2,135.2 879.0,126.3 879.8,129.3 880.5,122.7 881.3,136.9 882.1,119.1 882.9,128.1 883.7,133.1 884.5,137.9 885.3,140.4 886.1,144.8 886.9,143.3 887.6,142.0 888.4,145.6 889.2,156.0 890.0,150.8 890.8,157.1 891.6,152.4 892.4,143.4 893.2,153.8 894.0,162.2 894.8,173.1 895.5,174.0 896.3,178.0 897.1,164.5 897.9,176.6 898.7,173.5 899.5,180.4 900.3,178.1 901.1,171.8 901.9,188.0 902.6,188.1 903.4,193.7 904.2,185.1 905.0,200.1 905.8,203.3 906.6,207.5 907.4,210.2 908.2,200.4 909.0,189.1 909.8,215.1 910.5,204.8 911.3,211.9 912.1,223.4 912.9,220.5 913.7,222.8 914.5,228.4 915.3,213.7 916.1,241.5 916.9,229.1 917.7,231.9 918.4,240.4 919.2,238.1 920.0,235.7 920.8,242.8 921.6,243.3 922.4,243.7 923.2,263.9 924.0,243.0 924.8,239.9 925.5,250.5 926.3,252.4 927.1,270.4 927.9,264.0 928.7,270.5 929.5,271.0 930.3,262.8 931.1,276.4 931.9,273.8 932.7,287.4 933.4,277.7 934.2,277.9 935.0,284.9 935.8,286.8 936.6,271.4 937.4,293.4 938.2,294.1 939.0,294.2 939.8,282.6 940.5,278.4 941.3,291.6 942.1,300.2 942.9,299.9 943.7,291.7 944.5,306.4 945.3,292.4 946.1,294.3 946.9,304.7 947.7,302.5 948.4,303.4 949.2,299.6 950.0,318.3 950.8,305.1 951.6,316.9 952.4,320.9 953.2,316.7 954.0,320.2 954.8,326.7 955.6,332.2 956.3,329.3 957.1,315.0 957.9,313.0 958.7,323.1 959.5,320.9 960.3,333.4 961.1,331.9 961.9,330.8 962.7,341.0 963.4,341.6 964.2,335.6 965.0,339.5 965.8,345.6 966.6,337.2 967.4,342.5 968.2,335.2 969.0,343.0 969.8,345.9 970.6,344.1 971.3,347.1 972.1,351.3 972.9,350.5 973.7,343.9 974.5,345.5 975.3,342.1 976.1,362.6 976.9,354.9 977.7,355.9 978.5,352.8 979.2,357.7 980.0,358.9 980.8,351.2 981.6,355.9 982.4,365.5 983.2,349.8 984.0,352.8 984.8,363.8 985.6,355.3 986.3,366.4 987.1,354.9 987.9,364.4 988.7,369.0 989.5,366.9 990.3,370.1 991.1,364.5 991.9,365.2 992.7,366.7 993.5,371.2 994.2,392.1 995.0,367.9 995.8,381.4 996.6,367.8 997.4,362.4 998.2,368.5 999.0,373.3 999.8,372.3 1000.6,372.4 1001.3,375.5 1002.1,376.1 1002.9,378.7 1003.7,365.2 1004.5,373.5 1005.3,367.4 1006.1,375.7 1006.9,373.9 1007.7,375.8 1008.5,372.0 1009.2,369.9 1010.0,374.1 1010.8,380.5 1011.6,381.5 1012.4,365.8 1013.2,378.9 1014.0,379.3 1014.8,368.1 1015.6,370.9 1016.4,374.8 1017.1,381.3 1017.9,363.5 1018.7,376.6 1019.5,375.9 1020.3,380.9 1021.1,389.3 1021.9,389.0 1022.7,377.8 1023.5,378.1 1024.2,382.5 1025.0,388.7 1025.8,390.7 1026.6,383.5 1027.4,391.0 1028.2,375.7 1029.0,374.1 1029.8,363.2 1030.6,376.2 1031.4,386.0 1032.1,387.9 1032.9,395.5 1033.7,386.4 1034.5,383.7 1035.3,376.3 1036.1,378.8 1036.9,379.0 1037.7,381.6 1038.5,378.7 1039.2,373.7 1040.0,390.3 1040.8,386.4 1041.6,392.6 1042.4,372.9 1043.2,375.1 1044.0,378.8 1044.8,391.7 1045.6,382.7 1046.4,385.5 1047.1,383.5 1047.9,385.3 1048.7,380.7 1049.5,386.8 1050.3,378.6 1051.1,382.7 1051.9,386.3 1052.7,385.2 1053.5,387.4 1054.3,379.1 1055.0,386.3 1055.8,382.6 1056.6,387.2 1057.4,394.4 1058.2,378.7 1059.0,391.6 1059.8,380.2 1060.6,381.9 1061.4,395.5 1062.1,390.9 1062.9,388.1 1063.7,390.2 1064.5,392.5 1065.3,379.9 1066.1,386.4 1066.9,382.3 1067.7,387.7 1068.5,382.8 1069.3,389.8 1070.0,385.1 1070.8,381.1 1071.6,384.6 1072.4,387.9 1073.2,392.1 1074.0,383.9 1074.8,382.7 1075.6,386.7 1076.4,390.1 1077.2,381.4 1077.9,368.7 1078.7,387.0 1079.5,382.8 1080.3,382.6 1081.1,395.5 1081.9,384.3 1082.7,389.8 1083.5,376.0 1084.3,386.8 1085.0,390.3 1085.8,386.6 1086.6,384.1 1087.4,388.9 1088.2,385.5 1089.0,394.1 1089.8,386.7 1090.6,380.1 1091.4,372.3 1092.2,380.6 1092.9,383.5 1093.7,377.5 1094.5,378.6 1095.3,374.3 1096.1,378.2 1096.9,386.1 1097.7,383.6 1098.5,384.2 1099.3,383.4 1100.0,384.0 1100.8,390.5 1101.6,395.5 1102.4,389.8 1103.2,395.5 1104.0,384.9 1104.8,385.4 1105.6,395.5 1106.4,380.9 1107.2,379.7 1107.9,384.8 1108.7,374.5 1109.5,373.1 1110.3,393.4 1111.1,378.7 1111.9,382.6 1112.7,382.7 1113.5,379.3 1114.3,390.2 1115.1,389.4 1115.8,390.9 1116.6,390.5 1117.4,386.2 1118.2,395.1 1119.0,392.4 1119.8,381.7 1120.6,386.0 1121.4,383.0 1122.2,395.5 1122.9,390.7 1123.7,389.2 1124.5,385.4 1125.3,389.4 1126.1,379.4 1126.9,386.0 1127.7,385.5 1128.5,385.5 1129.3,380.9 1130.1,388.7 1130.8,378.2 1131.6,382.6 1132.4,384.6 1133.2,385.4 1134.0,382.2 1134.8,379.0 1135.6,379.4 1136.4,383.2 1137.2,379.9 1137.9,384.9 1138.7,377.4 1139.5,385.8 1140.3,395.5 1141.1,376.9 1141.9,385.0 1142.7,393.4 1143.5,387.0 1144.3,391.5 1145.1,371.9 1145.8,382.4 1146.6,395.5 1147.4,382.1 1148.2,388.3 1149.0,373.1 1149.8,392.6 1150.6,395.5 1151.4,385.2 1152.2,388.0 1153.0,388.4 1153.7,395.5 1154.5,382.9 1155.3,374.7 1156.1,395.5 1156.9,378.0" stroke="#808000" stroke-width="1.00"/>
<polyline points="663.4,371.5 664.2,375.3 665.0,382.6 665.8,374.1 666.6,382.1 667.3,390.5 668.1,365.4 668.9,381.0 669.7,382.7 670.5,376.5 671.3,388.9 672.1,387.6 672.9,381.9 673.7,382.1 674.5,378.2 675.2,371.2 676.0,381.7 676.8,375.4 677.6,374.6 678.4,385.7 679.2,377.0 680.0,384.7 680.8,371.5 681.6,375.5 682.4,378.4 683.1,387.3 683.9,377.7 684.7,383.4 685.5,373.7 686.3,379.1 687.1,383.7 687.9,372.2 688.7,373.5 689.5,382.1 690.2,370.5 691.0,380.1 691.8,380.2 692.6,377.3 693.4,383.0 694.2,380.9 695.0,379.0 695.8,367.9 696.6,368.0 697.4,379.6 698.1,367.2 698.9,378.1 699.7,375.2 700.5,371.9 701.3,375.7 702.1,361.7 702.9,376.0 703.7,385.4 704.5,368.9 705.2,380.1 706.0,379.4 706.8,395.5 707.6,370.7 708.4,371.8 709.2,371.9 710.0,370.7 710.8,365.9 711.6,377.3 712.4,370.8 713.1,381.8 713.9,379.1 714.7,369.8 715.5,374.0 716.3,385.3 717.1,374.0 717.9,377.4 718.7,381.5 719.5,373.1 720.3,378.4 721.0,385.9 721.8,382.6 722.6,363.5 723.4,384.8 724.2,373.1 725.0,370.3 725.8,369.8 726.6,381.7 727.4,375.5 728.1,372.0 728.9,367.2 729.7,376.0 730.5,378.6 731.3,363.4 732.1,361.7 732.9,365.3 733.7,370.4 734.5,362.3 735.3,362.7 736.0,356.3 736.8,368.2 737.6,357.4 738.4,356.7 739.2,359.7 740.0,347.1 740.8,344.0 741.6,342.3 742.4,332.0 743.1,338.9 743.9,324.9 744.7,316.8 745.5,312.6 746.3,301.9 747.1,311.2 747.9,307.1 748.7,289.1 749.5,280.8 750.3,262.6 751.0,264.9 751.8,266.5 752.6,246.4 753.4,247.4 754.2,240.5 755.0,199.9 755.8,198.2 756.6,176.9 757.4,158.4 758.2,131.0 758.9,123.3 759.7,100.6 760.5,97.7 761.3,83.1 762.1,50.1 762.9,39.9 763.7,40.8 764.5,38.0 765.3,34.5 766.0,37.4 766.8,31.6 767.6,31.6 768.4,32.9 769.2,39.3 770.0,41.2 770.8,53.4 771.6,64.2 772.4,90.9 773.2,94.2 773.9,95.8 774.7,124.8 775.5,133.3 776.3,137.1 777.1,146.4 777.9,157.2 778.7,179.6 779.5,172.7 780.3,190.3 781.1,194.0 781.8,190.6 782.6,201.5 783.4,199.3 784.2,188.8 785.0,208.9 785.8,213.6 786.6,228.3 787.4,230.6 788.2,237.3 788.9,237.7 789.7,245.1 790.5,245.8 791.3,246.1 792.1,254.3 792.9,259.7 793.7,261.6 794.5,251.7 795.3,256.4 796.1,252.0 796.8,253.8 797.6,264.5 798.4,259.3 799.2,274.2 800.0,250.3 800.8,257.6 801.6,266.5 802.4,272.0 803.2,260.8 803.9,274.3 804.7,265.5 805.5,253.7 806.3,256.3 807.1,257.8 807.9,245.1 808.7,254.3 809.5,241.1 810.3,241.4 811.1,238.7 811.8,225.2 812.6,229.4 813.4,204.5 814.2,214.8 815.0,191.7 815.8,205.9 816.6,188.7 817.4,194.6 818.2,189.3 819.0,173.3 819.7,163.9 820.5,171.2 821.3,149.9 822.1,158.2 822.9,147.7 823.7,141.8 824.5,136.4 825.3,148.3 826.1,122.3 826.8,125.9 827.6,129.1 828.4,129.9 829.2,131.4 830.0,126.4 830.8,111.4 831.6,114.9 832.4,118.0 833.2,111.9 834.0,96.1 834.7,106.6 835.5,106.4 836.3,91.8 837.1,96.0 837.9,97.1 838.7,99.9 839.5,104.6 840.3,100.8 841.1,95.1 841.8,92.2 842.6,87.3 843.4,84.9 844.2,86.1 845.0,85.1 845.8,92.2 846.6,98.9 847.4,87.3 848.2,89.4 849.0,86.7 849.7,83.6 850.5,89.4 851.3,88.0 852.1,80.8 852.9,78.9 853.7,83.5 854.5,75.4 855.3,79.7 856.1,84.6 856.9,77.3 857.6,65.0 858.4,81.7 859.2,69.6 860.0,68.6 860.8,68.3 861.6,84.4 862.4,66.8 863.2,80.5 864.0,84.3 864.7,85.6 865.5,81.8 866.3,87.1 867.1,90.5 867.9,84.1 868.7,101.5 869.5,108.3 870.3,100.8 871.1,105.4 871.9,105.6 872.6,120.9 873.4,105.6 874.2,106.8 875.0,95.1 875.8,112.2 876.6,101.4 877.4,104.9 878.2,114.1 879.0,109.2 879.8,98.1 880.5,109.9 881.3,112.9 882.1,103.8 882.9,104.4 883.7,106.0 884.5,119.6 885.3,116.9 886.1,112.0 886.9,125.4 887.6,128.5 888.4,120.6 889.2,118.3 890.0,138.5 890.8,150.3 891.6,145.1 892.4,144.5 893.2,141.1 894.0,138.5 894.8,145.9 895.5,151.9 896.3,148.7 897.1,158.4 897.9,154.9 898.7,161.2 899.5,141.8 900.3,156.6 901.1,169.9 901.9,173.5 902.6,172.4 903.4,182.9 904.2,179.5 905.0,182.2 905.8,174.2 906.6,185.4 907.4,190.5 908.2,196.8 909.0,198.3 909.8,193.7 910.5,197.3 911.3,191.1 912.1,205.3 912.9,196.9 913.7,204.9 914.5,209.3 915.3,225.2 916.1,223.2 916.9,212.5 917.7,210.8 918.4,221.3 919.2,220.2 920.0,230.4 920.8,232.6 921.6,236.9 922.4,228.5 923.2,234.9 924.0,241.0 924.8,243.9 925.5,240.3 926.3,244.0 927.1,253.8 927.9,239.2 928.7,250.9 929.5,254.6 930.3,247.0 931.1,252.0 931.9,261.3 932.7,259.1 933.4,271.6 934.2,270.7 935.0,283.2 935.8,262.2 936.6,284.5 937.4,269.3 938.2,281.0 939.0,283.8 939.8,280.4 940.5,279.1 941.3,278.5 942.1,272.6 942.9,283.6 943.7,281.9 944.5,293.3 945.3,286.4 946.1,291.8 946.9,297.5 947.7,296.7 948.4,298.1 949.2,298.1 950.0,298.3 950.8,305.9 951.6,309.0 952.4,300.7 953.2,318.3 954.0,312.8 954.8,300.0 955.6,329.5 956.3,317.8 957.1,310.2 957.9,327.0 958.7,300.5 959.5,336.1 960.3,311.0 961.1,311.6 961.9,317.1 962.7,325.9 963.4,323.4 964.2,332.9 965.0,322.9 965.8,336.8 966.6,332.4 967.4,325.2 968.2,340.2 969.0,336.4 969.8,334.0 970.6,344.9 971.3,329.5 972.1,335.9 972.9,349.1 973.7,340.4 974.5,346.2 975.3,346.3 976.1,342.4 976.9,348.4 977.7,338.3 978.5,350.1 979.2,339.9 980.0,347.5 980.8,342.4 981.6,352.3 982.4,352.9 983.2,357.9 984.0,347.3 984.8,345.7 985.6,338.7 986.3,345.0 987.1,352.6 987.9,356.4 988.7,353.2 989.5,356.6 990.3,347.5 991.1,351.6 991.9,364.0 992.7,363.6 993.5,350.7 994.2,358.2 995.0,362.3 995.8,353.4 996.6,364.3 997.4,364.0 998.2,365.7 999.0,376.0 999.8,357.8 1000.6,371.9 1001.3,368.1 1002.1,369.6 1002.9,360.3 1003.7,365.9 1004.5,365.7 1005.3,377.2 1006.1,367.1 1006.9,376.6 1007.7,365.2 1008.5,365.2 1009.2,368.1 1010.0,354.8 1010.8,365.2 1011.6,365.1 1012.4,368.4 1013.2,371.0 1014.0,363.7 1014.8,363.1 1015.6,379.3 1016.4,364.1 1017.1,368.0 1017.9,365.4 1018.7,368.9 1019.5,380.5 1020.3,380.3 1021.1,360.8 1021.9,371.4 1022.7,382.6 1023.5,371.2 1024.2,376.1 1025.0,386.0 1025.8,389.1 1026.6,384.7 1027.4,372.5 1028.2,374.8 1029.0,376.2 1029.8,372.8 1030.6,370.9 1031.4,388.8 1032.1,377.1 1032.9,380.7 1033.7,383.5 1034.5,379.1 1035.3,376.4 1036.1,377.4 1036.9,385.4 1037.7,379.1 1038.5,362.8 1039.2,383.1 1040.0,387.3 1040.8,374.5 1041.6,372.5 1042.4,373.5 1043.2,384.0 1044.0,370.1 1044.8,381.9 1045.6,384.3 1046.4,380.9 1047.1,377.7 1047.9,372.4 1048.7,373.0 1049.5,377.3 1050.3,371.1 1051.1,376.8 1051.9,371.5 1052.7,386.6 1053.5,387.8 1054.3,372.4 1055.0,386.7 1055.8,379.5 1056.6,378.2 1057.4,380.8 1058.2,380.6 1059.0,368.5 1059.8,394.3 1060.6,371.9 1061.4,362.6 1062.1,377.6 1062.9,377.9 1063.7,373.0 1064.5,365.7 1065.3,385.6 1066.1,377.2 1066.9,379.1 1067.7,374.2 1068.5,376.8 1069.3,373.5 1070.0,380.7 1070.8,377.6 1071.6,382.3 1072.4,382.3 1073.2,378.9 1074.0,378.9 1074.8,385.7 1075.6,367.7 1076.4,378.9 1077.2,387.1 1077.9,370.8 1078.7,383.0 1079.5,374.7 1080.3,378.2 1081.1,376.5 1081.9,377.0 1082.7,381.9 1083.5,377.9 1084.3,364.8 1085.0,392.9 1085.8,377.7 1086.6,375.3 1087.4,385.1 1088.2,387.2 1089.0,364.0 1089.8,380.7 1090.6,364.6 1091.4,374.7 1092.2,377.8 1092.9,375.2 1093.7,374.1 1094.5,370.6 1095.3,375.5 1096.1,377.4 1096.9,377.2 1097.7,369.5 1098.5,373.0 1099.3,385.0 1100.0,382.6 1100.8,376.2 1101.6,382.5 1102.4,380.9 1103.2,384.7 1104.0,380.2 1104.8,375.7 1105.6,371.9 1106.4,378.4 1107.2,364.8 1107.9,379.0 1108.7,357.5 1109.5,371.9 1110.3,375.2 1111.1,381.8 1111.9,395.5 1112.7,379.5 1113.5,377.4 1114.3,365.9 1115.1,387.6 1115.8,366.0 1116.6,380.2 1117.4,373.8 1118.2,395.3 1119.0,377.7 1119.8,380.8 1120.6,374.1 1121.4,378.0 1122.2,386.1 1122.9,372.4 1123.7,374.0 1124.5,374.7 1125.3,372.0 1126.1,371.4 1126.9,378.8 1127.7,387.6 1128.5,387.8 1129.3,369.8 1130.1,374.0 1130.8,378.0 1131.6,381.5 1132.4,378.5 1133.2,378.5 1134.0,380.9 1134.8,383.3 1135.6,364.4 1136.4,377.2 1137.2,382.7 1137.9,387.3 1138.7,383.5 1139.5,374.0 1140.3,373.7 1141.1,380.1 1141.9,378.4 1142.7,380.7 1143.5,386.0 1144.3,370.2 1145.1,376.3 1145.8,362.4 1146.6,383.7 1147.4,379.6 1148.2,372.9 1149.0,380.3 1149.8,387.9 1150.6,385.0 1151.4,378.1 1152.2,376.5 1153.0,379.4 1153.7,372.1 1154.5,372.2 1155.3,376.6 1156.1,378.6 1156.9,380.4" stroke="#000080" stroke-width="1.00"/>
<polyline points="663.4,382.7 664.2,389.8 665.0,387.1 665.8,375.5 666.6,377.6 667.3,370.1 668.1,380.2 668.9,374.8 669.7,371.8 670.5,374.0 671.3,384.5 672.1,381.7 672.9,379.6 673.7,387.0 674.5,377.3 675.2,373.7 676.0,383.6 676.8,367.4 677.6,382.3 678.4,381.7 679.2,381.9 680.0,385.0 680.8,377.6 681.6,380.2 682.4,369.4 683.1,376.3 683.9,376.7 684.7,381.7 685.5,389.5 686.3,380.8 687.1,385.7 687.9,373.8 688.7,380.3 689.5,369.1 690.2,375.2 691.0,374.5 691.8,378.4 692.6,378.5 693.4,375.6 694.2,373.8 695.0,384.5 695.8,376.5 696.6,362.5 697.4,380.3 698.1,381.3 698.9,384.2 699.7,389.1 700.5,371.7 701.3,379.1 702.1,377.5 702.9,367.3 703.7,362.8 704.5,385.1 705.2,372.3 706.0,375.1 706.8,376.5 707.6,375.9 708.4,379.2 709.2,368.5 710.0,374.9 710.8,376.6 711.6,370.6 712.4,372.8 713.1,375.7 713.9,376.5 714.7,367.0 715.5,375.1 716.3,378.9 717.1,383.8 717.9,380.3 718.7,384.8 719.5,377.0 720.3,375.9 721.0,390.8 721.8,377.0 722.6,372.6 723.4,375.6 724.2,382.7 725.0,367.8 725.8,380.4 726.6,383.6 727.4,382.3 728.1,374.9 728.9,367.8 729.7,365.9 730.5,371.4 731.3,379.7 732.1,375.1 732.9,375.5 733.7,369.4 734.5,378.5 735.3,364.5 736.0,359.4 736.8,362.8 737.6,356.9 738.4,363.6 739.2,363.8 740.0,354.6 740.8,338.5 741.6,334.6 742.4,339.5 743.1,323.5 743.9,328.5 744.7,311.5 745.5,313.1 746.3,313.8 747.1,299.9 747.9,304.1 748.7,298.7 749.5,295.2 750.3,276.7 751.0,271.1 751.8,263.1 752.6,256.3 753.4,234.2 754.2,235.4 755.0,223.7 755.8,194.0 756.6,174.1 757.4,161.7 758.2,156.2 758.9,131.0 759.7,106.4 760.5,92.6 761.3,65.5 762.1,70.3 762.9,47.0 763.7,50.1 764.5,32.6 765.3,37.9 766.0,31.6 766.8,37.7 767.6,43.6 768.4,45.4 769.2,47.6 770.0,56.6 770.8,50.7 771.6,62.1 772.4,83.3 773.2,106.2 773.9,112.8 774.7,127.7 775.5,124.7 776.3,142.7 777.1,151.3 777.9,165.8 778.7,184.0 779.5,182.9 780.3,191.7 781.1,187.9 781.8,195.4 782.6,206.7 783.4,209.0 784.2,201.0 785.0,222.2 785.8,226.2 786.6,225.8 787.4,232.8 788.2,235.0 788.9,232.5 789.7,232.3 790.5,258.8 791.3,250.4 792.1,253.0 792.9,256.4 793.7,259.3 794.5,262.3 795.3,255.5 796.1,267.1 796.8,266.7 797.6,267.4 798.4,268.1 799.2,270.9 800.0,263.8 800.8,270.6 801.6,269.0 802.4,269.8 803.2,275.0 803.9,272.6 804.7,272.5 805.5,262.6 806.3,266.8 807.1,266.9 807.9,255.3 808.7,249.5 809.5,260.1 810.3,232.7 811.1,238.8 811.8,234.9 812.6,222.0 813.4,222.9 814.2,221.4 815.0,197.0 815.8,212.5 816.6,200.3 817.4,188.2 818.2,194.7 819.0,182.4 819.7,173.4 820.5,154.6 821.3,171.3 822.1,161.2 822.9,152.2 823.7,151.9 824.5,156.4 825.3,142.1 826.1,140.6 826.8,135.1 827.6,127.4 828.4,125.1 829.2,126.2 830.0,124.2 830.8,131.0 831.6,122.5 832.4,118.0 833.2,120.0 834.0,114.8 834.7,118.9 835.5,101.6 836.3,95.7 837.1,110.8 837.9,104.0 838.7,106.7 839.5,95.5 840.3,99.6 841.1,100.8 841.8,101.6 842.6,98.3 843.4,104.6 844.2,92.6 845.0,100.8 845.8,91.7 846.6,93.5 847.4,86.3 848.2,92.9 849.0,85.3 849.7,97.5 850.5,86.9 851.3,91.8 852.1,88.6 852.9,88.9 853.7,82.7 854.5,101.7 855.3,85.9 856.1,97.5 856.9,79.4 857.6,100.1 858.4,93.7 859.2,98.1 860.0,76.6 860.8,96.4 861.6,88.0 862.4,93.3 863.2,102.8 864.0,94.5 864.7,89.4 865.5,96.5 866.3,90.7 867.1,101.2 867.9,101.9 868.7,108.6 869.5,108.4 870.3,102.6 871.1,116.6 871.9,120.4 872.6,126.7 873.4,126.5 874.2,109.3 875.0,123.1 875.8,119.1 876.6,112.6 877.4,115.0 878.2,99.9 879.0,129.1 879.8,112.2 880.5,111.1 881.3,124.5 882.1,122.7 882.9,117.0 883.7,110.7 884.5,129.3 885.3,135.7 886.1,121.1 886.9,119.8 887.6,134.4 888.4,149.2 889.2,127.5 890.0,140.7 890.8,134.2 891.6,144.1 892.4,148.6 893.2,151.4 894.0,141.0 894.8,143.6 895.5,169.4 896.3,163.8 897.1,148.3 897.9,164.8 898.7,173.7 899.5,167.2 900.3,170.3 901.1,172.7 901.9,177.7 902.6,179.0 903.4,182.5 904.2,179.9 905.0,190.0 905.8,189.1 906.6,190.7 907.4,183.8 908.2,192.5 909.0,198.3 909.8,196.6 910.5,200.0 911.3,198.1 912.1,204.5 912.9,198.7 913.7,204.2 914.5,216.0 915.3,221.1 916.1,215.2 916.9,220.2 917.7,226.8 918.4,238.5 919.2,243.3 920.0,231.4 920.8,231.0 921.6,233.1 922.4,249.2 923.2,236.1 924.0,248.7 924.8,244.8 925.5,246.8 926.3,257.0 927.1,257.7 927.9,269.5 928.7,264.0 929.5,271.8 930.3,259.1 931.1,263.6 931.9,259.9 932.7,265.5 933.4,273.9 934.2,269.2 935.0,275.9 935.8,271.1 936.6,274.8 937.4,285.2 938.2,280.4 939.0,281.7 939.8,285.8 940.5,279.6 941.3,275.9 942.1,291.3 942.9,292.8 943.7,307.0 944.5,294.7 945.3,298.4 946.1,311.4 946.9,296.9 947.7,296.5 948.4,306.8 949.2,306.0 950.0,311.5 950.8,301.6 951.6,318.2 952.4,311.8 953.2,298.4 954.0,312.3 954.8,311.1 955.6,316.6 956.3,324.8 957.1,318.8 957.9,317.3 958.7,328.1 959.5,320.5 960.3,316.0 961.1,318.5 961.9,337.2 962.7,334.5 963.4,339.9 964.2,323.5 965.0,327.7 965.8,328.2 966.6,339.8 967.4,342.8 968.2,335.7 969.0,336.7 969.8,344.0 970.6,338.5 971.3,336.2 972.1,339.9 972.9,349.2 973.7,357.2 974.5,345.9 975.3,344.1 976.1,347.7 976.9,349.7 977.7,352.3 978.5,343.9 979.2,349.7 980.0,349.4 980.8,357.4 981.6,355.9 982.4,351.5 983.2,359.9 984.0,362.3 984.8,357.0 985.6,347.7 986.3,355.1 987.1,347.5 987.9,358.7 988.7,360.6 989.5,368.4 990.3,363.7 991.1,351.2 991.9,359.1 992.7,357.0 993.5,357.8 994.2,363.0 995.0,364.8 995.8,363.1 996.6,360.0 997.4,361.8 998.2,362.0 999.0,364.7 999.8,371.2 1000.6,368.2 1001.3,373.1 1002.1,360.7 1002.9,381.5 1003.7,369.5 1004.5,352.7 1005.3,371.0 1006.1,376.6 1006.9,369.6 1007.7,361.3 1008.5,371.2 1009.2,366.4 1010.0,370.1 1010.8,373.6 1011.6,350.7 1012.4,371.3 1013.2,375.7 1014.0,375.7 1014.8,370.3 1015.6,370.5 1016.4,368.4 1017.1,372.9 1017.9,383.5 1018.7,370.9 1019.5,376.7 1020.3,376.8 1021.1,384.9 1021.9,379.2 1022.7,380.4 1023.5,376.1 1024.2,385.6 1025.0,375.9 1025.8,375.6 1026.6,383.9 1027.4,380.8 1028.2,382.4 1029.0,370.9 1029.8,393.7 1030.6,379.4 1031.4,388.2 1032.1,380.3 1032.9,372.0 1033.7,381.8 1034.5,376.9 1035.3,383.5 1036.1,365.3 1036.9,372.1 1037.7,370.8 1038.5,387.1 1039.2,385.7 1040.0,371.4 1040.8,379.9 1041.6,380.4 1042.4,376.6 1043.2,387.1 1044.0,373.9 1044.8,378.9 1045.6,376.0 1046.4,383.6 1047.1,375.9 1047.9,384.0 1048.7,373.1 1049.5,372.0 1050.3,373.5 1051.1,376.2 1051.9,375.5 1052.7,395.5 1053.5,374.2 1054.3,381.6 1055.0,379.2 1055.8,381.7 1056.6,389.0 1057.4,383.4 1058.2,375.6 1059.0,370.6 1059.8,384.0 1060.6,385.9 1061.4,370.4 1062.1,385.8 1062.9,366.4 1063.7,379.7 1064.5,385.8 1065.3,373.6 1066.1,368.9 1066.9,389.5 1067.7,369.9 1068.5,382.0 1069.3,370.4 1070.0,382.7 1070.8,390.5 1071.6,376.9 1072.4,374.1 1073.2,366.4 1074.0,368.9 1074.8,375.7 1075.6,381.8 1076.4,383.7 1077.2,382.2 1077.9,385.8 1078.7,382.1 1079.5,395.5 1080.3,379.2 1081.1,380.5 1081.9,363.5 1082.7,375.4 1083.5,383.6 1084.3,376.7 1085.0,388.5 1085.8,384.4 1086.6,392.7 1087.4,371.0 1088.2,376.6 1089.0,388.2 1089.8,380.9 1090.6,374.3 1091.4,377.3 1092.2,378.0 1092.9,386.2 1093.7,384.7 1094.5,379.9 1095.3,374.5 1096.1,386.0 1096.9,388.0 1097.7,373.1 1098.5,386.7 1099.3,373.5 1100.0,379.0 1100.8,374.8 1101.6,369.2 1102.4,376.1 1103.2,375.6 1104.0,386.7 1104.8,385.3 1105.6,376.5 1106.4,370.6 1107.2,371.6 1107.9,365.5 1108.7,378.7 1109.5,379.4 1110.3,374.1 1111.1,380.6 1111.9,381.2 1112.7,387.7 1113.5,374.3 1114.3,387.8 1115.1,377.4 1115.8,390.1 1116.6,373.6 1117.4,387.6 1118.2,375.3 1119.0,391.3 1119.8,383.7 1120.6,373.1 1121.4,386.1 1122.2,380.4 1122.9,384.0 1123.7,395.5 1124.5,378.8 1125.3,378.0 1126.1,388.2 1126.9,377.1 1127.7,386.1 1128.5,387.5 1129.3,380.8 1130.1,385.4 1130.8,365.8 1131.6,391.1 1132.4,376.1 1133.2,374.4 1134.0,393.9 1134.8,392.3 1135.6,377.2 1136.4,384.1 1137.2,378.4 1137.9,373.4 1138.7,383.4 1139.5,387.9 1140.3,395.5 1141.1,379.6 1141.9,387.1 1142.7,378.9 1143.5,379.4 1144.3,390.1 1145.1,369.6 1145.8,373.8 1146.6,375.4 1147.4,388.7 1148.2,383.6 1149.0,384.6 1149.8,383.7 1150.6,388.4 1151.4,378.1 1152.2,379.5 1153.0,378.6 1153.7,384.3 1154.5,372.5 1155.3,379.7 1156.1,395.5 1156.9,385.2" stroke="#800080" stroke-width="1.00"/>
<polyline points="663.4,386.7 664.2,378.0 665.0,385.3 665.8,386.3 666.6,387.3 667.3,378.7 668.1,385.9 668.9,393.4 669.7,378.3 670.5,387.0 671.3,380.0 672.1,379.9 672.9,374.4 673.7,375.4 674.5,386.1 675.2,383.4 676.0,390.8 676.8,371.2 677.6,379.3 678.4,373.0 679.2,384.3 680.0,395.5 680.8,372.1 681.6,381.5 682.4,381.2 683.1,381.7 683.9,377.8 684.7,378.5 685.5,392.5 686.3,374.8 687.1,385.4 687.9,385.0 688.7,370.5 689.5,375.8 690.2,384.1 691.0,394.0 691.8,380.7 692.6,378.2 693.4,382.2 694.2,389.9 695.0,386.8 695.8,389.9 696.6,380.1 697.4,376.1 698.1,374.7 698.9,386.3 699.7,379.8 700.5,377.7 701.3,384.7 702.1,382.2 702.9,367.2 703.7,379.8 704.5,375.3 705.2,383.9 706.0,380.7 706.8,392.2 707.6,381.1 708.4,373.0 709.2,367.0 710.0,372.9 710.8,376.2 711.6,380.3 712.4,384.5 713.1,381.6 713.9,376.4 714.7,385.5 715.5,374.1 716.3,386.6 717.1,391.7 717.9,386.6 718.7,390.7 719.5,388.6 720.3,371.9 721.0,380.5 721.8,377.5 722.6,371.1 723.4,370.2 724.2,381.5 725.0,369.2 725.8,375.1 726.6,377.3 727.4,374.1 728.1,386.0 728.9,381.2 729.7,376.1 730.5,370.6 731.3,376.1 732.1,373.4 732.9,365.0 733.7,360.8 734.5,363.6 735.3,358.8 736.0,368.1 736.8,365.7 737.6,359.7 738.4,361.3 739.2,359.4 740.0,341.3 740.8,349.2 741.6,349.6 742.4,335.1 743.1,321.2 743.9,327.7 744.7,315.2 745.5,321.0 746.3,315.9 747.1,311.5 747.9,301.8 748.7,282.3 749.5,295.0 750.3,269.5 751.0,279.2 751.8,265.9 752.6,249.9 753.4,241.3 754.2,232.5 755.0,231.6 755.8,201.6 756.6,192.0 757.4,148.9 758.2,148.0 758.9,127.6 759.7,119.8 760.5,97.7 761.3,86.1 762.1,56.7 762.9,55.0 763.7,44.1 764.5,47.6 765.3,42.6 766.0,31.6 766.8,41.7 767.6,48.1 768.4,37.2 769.2,52.9 770.0,54.6 770.8,54.4 771.6,78.1 772.4,81.1 773.2,105.7 773.9,104.0 774.7,116.3 775.5,139.2 776.3,148.0 777.1,161.8 777.9,163.7 778.7,165.1 779.5,189.2 780.3,180.1 781.1,200.9 781.8,203.5 782.6,215.0 783.4,194.5 784.2,212.7 785.0,216.1 785.8,226.4 786.6,219.1 787.4,243.9 788.2,233.8 788.9,223.3 789.7,249.6 790.5,250.4 791.3,249.2 792.1,261.9 792.9,259.0 793.7,255.0 794.5,262.0 795.3,262.8 796.1,269.5 796.8,266.9 797.6,270.2 798.4,262.4 799.2,268.2 800.0,275.1 800.8,289.7 801.6,268.6 802.4,267.6 803.2,277.6 803.9,283.4 804.7,276.3 805.5,261.0 806.3,272.3 807.1,266.2 807.9,258.6 808.7,248.2 809.5,252.0 810.3,247.9 811.1,246.1 811.8,227.0 812.6,225.5 813.4,227.6 814.2,230.3 815.0,220.3 815.8,205.4 816.6,208.2 817.4,191.8 818.2,189.3 819.0,183.8 819.7,175.7 820.5,171.3 821.3,175.3 822.1,167.2 822.9,145.4 823.7,164.7 824.5,156.0 825.3,142.2 826.1,146.8 826.8,147.8 827.6,148.1 828.4,132.8 829.2,126.8 830.0,121.7 830.8,128.1 831.6,119.4 832.4,130.9 833.2,121.0 834.0,124.6 834.7,117.1 835.5,111.5 836.3,107.6 837.1,119.5 837.9,103.1 838.7,113.1 839.5,115.4 840.3,108.5 841.1,115.8 841.8,105.0 842.6,102.1 843.4,104.3 844.2,98.4 845.0,103.1 845.8,100.1 846.6,108.7 847.4,98.2 848.2,103.3 849.0,100.0 849.7,97.0 850.5,94.6 851.3,106.2 852.1,105.1 852.9,96.3 853.7,90.7 854.5,91.0 855.3,87.1 856.1,84.1 856.9,89.1 857.6,92.3 858.4,98.9 859.2,98.3 860.0,95.5 860.8,91.2 861.6,92.3 862.4,94.7 863.2,96.9 864.0,93.1 864.7,97.3 865.5,98.3 866.3,99.8 867.1,107.3 867.9,113.6 868.7,107.6 869.5,112.6 870.3,121.3 871.1,126.4 871.9,111.3 872.6,132.3 873.4,127.6 874.2,121.8 875.0,128.1 875.8,117.1 876.6,104.9 877.4,110.8 878.2,113.3 879.0,114.4 879.8,118.6 880.5,114.2 881.3,122.9 882.1,125.9 882.9,123.8 883.7,120.1 884.5,125.7 885.3,125.5 886.1,145.4 886.9,126.5 887.6,121.3 888.4,130.4 889.2,143.6 890.0,149.4 890.8,144.2 891.6,154.8 892.4,145.7 893.2,156.2 894.0,148.7 894.8,148.4 895.5,173.0 896.3,160.0 897.1,168.9 897.9,175.9 898.7,173.1 899.5,172.8 900.3,167.0 901.1,186.2 901.9,171.7 902.6,167.8 903.4,179.7 904.2,182.5 905.0,188.7 905.8,198.9 906.6,190.2 907.4,193.8 908.2,194.0 909.0,184.5 909.8,199.2 910.5,203.7 911.3,198.8 912.1,220.5 912.9,221.7 913.7,219.3 914.5,223.7 915.3,217.5 916.1,226.7 916.9,215.8 917.7,219.8 918.4,227.3 919.2,237.3 920.0,233.2 920.8,234.2 921.6,248.9 922.4,241.8 923.2,241.7 924.0,247.2 924.8,240.4 925.5,244.9 926.3,260.5 927.1,256.3 927.9,264.7 928.7,257.4 929.5,268.9 930.3,259.1 931.1,264.6 931.9,262.7 932.7,271.9 933.4,282.4 934.2,263.0 935.0,277.6 935.8,269.2 936.6,277.1 937.4,277.3 938.2,271.4 939.0,282.9 939.8,277.6 940.5,298.2 941.3,284.4 942.1,293.4 942.9,294.3 943.7,295.1 944.5,294.5 945.3,287.5 946.1,312.2 946.9,301.3 947.7,307.9 948.4,297.1 949.2,309.1 950.0,304.9 950.8,312.0 951.6,306.5 952.4,305.7 953.2,316.5 954.0,315.0 954.8,326.2 955.6,316.3 956.3,314.1 957.1,324.8 957.9,315.2 958.7,337.6 959.5,337.6 960.3,335.9 961.1,331.2 961.9,329.2 962.7,331.1 963.4,332.3 964.2,328.3 965.0,337.3 965.8,343.7 966.6,344.7 967.4,323.7 968.2,354.2 969.0,340.9 969.8,331.2 970.6,338.6 971.3,348.3 972.1,343.8 972.9,339.1 973.7,337.7 974.5,352.5 975.3,342.5 976.1,346.7 976.9,342.0 977.7,340.9 978.5,353.2 979.2,361.2 980.0,349.9 980.8,341.6 981.6,349.6 982.4,353.3 983.2,339.8 984.0,363.2 984.8,351.1 985.6,361.6 986.3,358.2 987.1,358.7 987.9,350.1 988.7,366.9 989.5,365.0 990.3,372.6 991.1,359.6 991.9,366.4 992.7,361.2 993.5,371.6 994.2,367.5 995.0,358.8 995.8,367.2 996.6,362.4 997.4,363.5 998.2,369.7 999.0,378.1 999.8,361.8 1000.6,367.5 1001.3,362.6 1002.1,382.7 1002.9,380.7 1003.7,384.3 1004.5,376.3 1005.3,364.0 1006.1,367.5 1006.9,371.8 1007.7,371.0 1008.5,367.2 1009.2,374.5 1010.0,370.3 1010.8,372.3 1011.6,387.9 1012.4,376.4 1013.2,365.3 1014.0,377.2 1014.8,375.8 1015.6,379.2 1016.4,378.7 1017.1,368.5 1017.9,377.9 1018.7,383.2 1019.5,395.5 1020.3,380.8 1021.1,390.2 1021.9,389.5 1022.7,372.5 1023.5,373.3 1024.2,390.7 1025.0,372.7 1025.8,375.4 1026.6,383.7 1027.4,373.9 1028.2,389.5 1029.0,386.9 1029.8,388.5 1030.6,386.5 1031.4,373.6 1032.1,388.2 1032.9,387.1 1033.7,386.0 1034.5,378.5 1035.3,382.2 1036.1,374.4 1036.9,384.8 1037.7,388.7 1038.5,383.7 1039.2,380.2 1040.0,386.7 1040.8,378.8 1041.6,368.8 1042.4,384.7 1043.2,380.7 1044.0,372.2 1044.8,385.4 1045.6,386.8 1046.4,388.5 1047.1,378.8 1047.9,378.1 1048.7,382.5 1049.5,381.3 1050.3,373.3 1051.1,376.0 1051.9,391.0 1052.7,381.9 1053.5,381.2 1054.3,377.2 1055.0,383.4 1055.8,386.2 1056.6,385.0 1057.4,393.7 1058.2,382.2 1059.0,386.0 1059.8,379.1 1060.6,388.9 1061.4,385.0 1062.1,388.6 1062.9,389.2 1063.7,377.6 1064.5,385.3 1065.3,379.4 1066.1,389.7 1066.9,381.7 1067.7,393.5 1068.5,385.5 1069.3,385.7 1070.0,378.6 1070.8,381.2 1071.6,383.6 1072.4,377.0 1073.2,381.2 1074.0,379.0 1074.8,377.5 1075.6,383.0 1076.4,384.5 1077.2,380.4 1077.9,385.3 1078.7,380.1 1079.5,375.3 1080.3,377.0 1081.1,385.2 1081.9,391.1 1082.7,383.0 1083.5,383.5 1084.3,375.4 1085.0,385.2 1085.8,384.1 1086.6,377.9 1087.4,385.9 1088.2,383.8 1089.0,371.5 1089.8,373.0 1090.6,378.7 1091.4,381.1 1092.2,389.2 1092.9,379.2 1093.7,382.5 1094.5,381.4 1095.3,386.3 1096.1,383.0 1096.9,384.1 1097.7,380.8 1098.5,373.5 1099.3,380.6 1100.0,393.8 1100.8,389.3 1101.6,393.4 1102.4,388.2 1103.2,379.3 1104.0,380.4 1104.8,386.9 1105.6,381.3 1106.4,388.0 1107.2,392.3 1107.9,392.3 1108.7,388.7 1109.5,373.7 1110.3,391.9 1111.1,374.9 1111.9,374.4 1112.7,384.3 1113.5,383.4 1114.3,387.1 1115.1,383.3 1115.8,378.8 1116.6,383.1 1117.4,376.6 1118.2,375.4 1119.0,380.9 1119.8,381.0 1120.6,383.6 1121.4,380.9 1122.2,390.5 1122.9,380.5 1123.7,381.8 1124.5,388.9 1125.3,369.1 1126.1,389.6 1126.9,388.9 1127.7,381.4 1128.5,395.5 1129.3,388.4 1130.1,393.2 1130.8,389.6 1131.6,384.1 1132.4,381.2 1133.2,376.0 1134.0,378.0 1134.8,375.5 1135.6,379.4 1136.4,386.3 1137.2,376.0 1137.9,386.5 1138.7,387.3 1139.5,373.2 1140.3,378.1 1141.1,381.9 1141.9,378.4 1142.7,377.5 1143.5,392.3 1144.3,383.9 1145.1,391.1 1145.8,382.5 1146.6,387.7 1147.4,374.4 1148.2,379.9 1149.0,388.6 1149.8,383.4 1150.6,391.3 1151.4,383.1 1152.2,379.7 1153.0,381.6 1153.7,395.5 1154.5,385.5 1155.3,380.0 1156.1,381.3 1156.9,375.7" stroke="#008000" stroke-width="1.00"/>
<polyline points="663.4,375.3 664.2,373.5 665.0,381.8 665.8,376.8 666.6,385.7 667.3,387.3 668.1,374.3 668.9,378.3 669.7,388.6 670.5,383.6 671.3,377.8 672.1,367.7 672.9,371.1 673.7,372.7 674.5,389.7 675.2,378.5 676.0,374.8 676.8,375.3 677.6,375.1 678.4,379.4 679.2,366.3 680.0,368.1 680.8,378.4 681.6,384.2 682.4,364.2 683.1,381.4 683.9,369.8 684.7,365.1 685.5,383.9 686.3,375.7 687.1,379.9 687.9,374.2 688.7,375.4 689.5,364.7 690.2,373.6 691.0,377.5 691.8,370.0 692.6,379.2 693.4,379.7 694.2,362.6 695.0,382.7 695.8,380.4 696.6,376.9 697.4,384.1 698.1,391.0 698.9,370.1 699.7,382.2 700.5,380.5 701.3,379.4 702.1,383.4 702.9,383.9 703.7,375.7 704.5,361.0 705.2,371.9 706.0,371.7 706.8,386.5 707.6,376.7 708.4,384.3 709.2,371.4 710.0,377.9 710.8,376.1 711.6,376.9 712.4,380.1 713.1,386.2 713.9,372.3 714.7,385.1 715.5,383.7 716.3,377.8 717.1,380.3 717.9,373.8 718.7,368.7 719.5,373.6 720.3,373.7 721.0,374.7 721.8,369.0 722.6,386.5 723.4,371.7 724.2,380.0 725.0,381.7 725.8,373.3 726.6,375.5 727.4,368.8 728.1,365.0 728.9,387.0 729.7,371.5 730.5,357.3 731.3,363.6 732.1,358.7 732.9,366.4 733.7,375.2 734.5,371.7 735.3,358.1 736.0,354.8 736.8,364.1 737.6,359.2 738.4,353.2 739.2,363.2 740.0,350.2 740.8,332.9 741.6,324.5 742.4,334.6 743.1,316.9 743.9,327.3 744.7,324.2 745.5,328.5 746.3,302.0 747.1,305.0 747.9,281.1 748.7,287.8 749.5,281.8 750.3,287.7 751.0,258.4 751.8,262.4 752.6,252.1 753.4,255.6 754.2,223.9 755.0,209.9 755.8,203.6 756.6,180.3 757.4,158.8 758.2,135.8 758.9,123.8 759.7,96.5 760.5,91.8 761.3,77.2 762.1,61.9 762.9,65.6 763.7,48.7 764.5,32.1 765.3,33.1 766.0,37.6 766.8,31.6 767.6,45.1 768.4,37.4 769.2,37.6 770.0,42.7 770.8,61.1 771.6,62.3 772.4,70.2 773.2,99.6 773.9,104.5 774.7,130.9 775.5,144.6 776.3,138.2 777.1,151.6 777.9,159.3 778.7,172.1 779.5,177.2 780.3,176.4 781.1,176.5 781.8,194.9 782.6,209.7 783.4,195.5 784.2,204.7 785.0,208.8 785.8,216.4 786.6,206.4 787.4,225.1 788.2,226.2 788.9,245.6 789.7,242.5 790.5,246.7 791.3,245.7 792.1,246.2 792.9,256.0 793.7,241.9 794.5,262.4 795.3,260.4 796.1,257.8 796.8,269.5 797.6,259.1 798.4,260.1 799.2,267.2 800.0,253.3 800.8,265.4 801.6,263.8 802.4,271.3 803.2,274.9 803.9,266.7 804.7,263.1 805.5,262.3 806.3,252.4 807.1,270.9 807.9,259.5 808.7,260.2 809.5,234.9 810.3,242.6 811.1,237.4 811.8,236.4 812.6,217.9 813.4,220.8 814.2,210.6 815.0,219.3 815.8,192.2 816.6,191.4 817.4,184.4 818.2,173.8 819.0,177.1 819.7,171.0 820.5,159.6 821.3,156.5 822.1,156.2 822.9,149.9 823.7,149.3 824.5,137.4 825.3,132.2 826.1,134.8 826.8,119.1 827.6,138.3 828.4,126.7 829.2,110.9 830.0,122.3 830.8,127.5 831.6,105.5 832.4,109.0 833.2,118.4 834.0,103.4 834.7,113.3 835.5,113.5 836.3,103.9 837.1,104.4 837.9,106.8 838.7,100.5 839.5,103.3 840.3,95.0 841.1,94.3 841.8,88.1 842.6,94.9 843.4,99.6 844.2,98.5 845.0,90.5 845.8,77.8 846.6,81.4 847.4,90.4 848.2,79.2 849.0,92.4 849.7,77.4 850.5,86.1 851.3,78.0 852.1,78.4 852.9,83.8 853.7,79.4 854.5,88.1 855.3,81.1 856.1,73.1 856.9,53.0 857.6,75.2 858.4,79.1 859.2,86.4 860.0,73.0 860.8,91.5 861.6,86.7 862.4,80.0 863.2,91.6 864.0,74.8 864.7,79.2 865.5,91.8 866.3,93.3 867.1,100.3 867.9,104.0 868.7,96.0 869.5,99.5 870.3,105.8 871.1,110.3 871.9,118.5 872.6,113.5 873.4,124.4 874.2,112.0 875.0,99.1 875.8,97.4 876.6,108.0 877.4,107.4 878.2,96.6 879.0,94.8 879.8,117.5 880.5,111.7 881.3,108.7 882.1,103.5 882.9,118.4 883.7,110.3 884.5,118.4 885.3,102.8 886.1,117.9 886.9,124.0 887.6,127.7 888.4,121.0 889.2,125.9 890.0,139.9 890.8,133.6 891.6,146.2 892.4,144.6 893.2,150.5 894.0,153.0 894.8,151.1 895.5,155.4 896.3,147.9 897.1,148.5 897.9,157.7 898.7,166.0 899.5,155.7 900.3,176.8 901.1,178.7 901.9,163.7 902.6,166.7 903.4,167.1 904.2,177.6 905.0,187.1 905.8,184.7 906.6,180.2 907.4,191.6 908.2,193.8 909.0,201.1 909.8,202.1 910.5,191.5 911.3,196.7 912.1,210.0 912.9,212.1 913.7,211.3 914.5,206.7 915.3,220.7 916.1,216.8 916.9,232.5 917.7,229.3 918.4,220.8 919.2,220.2 920.0,236.2 920.8,236.1 921.6,228.1 922.4,238.3 923.2,241.5 924.0,236.8 924.8,241.2 925.5,237.3 926.3,241.6 927.1,252.8 927.9,251.9 928.7,253.6 929.5,264.2 930.3,263.7 931.1,252.9 931.9,271.7 932.7,256.6 933.4,263.2 934.2,267.9 935.0,265.2 935.8,267.5 936.6,264.4 937.4,276.8 938.2,277.5 939.0,279.3 939.8,267.0 940.5,274.9 941.3,289.0 942.1,286.8 942.9,290.9 943.7,287.9 944.5,288.2 945.3,276.2 946.1,305.0 946.9,287.8 947.7,293.4 948.4,302.5 949.2,300.4 950.0,304.3 950.8,302.3 951.6,297.5 952.4,315.7 953.2,298.5 954.0,311.2 954.8,300.3 955.6,309.0 956.3,305.1 957.1,310.9 957.9,309.0 958.7,317.2 959.5,324.4 960.3,315.9 961.1,317.0 961.9,309.2 962.7,337.5 963.4,326.9 964.2,319.8 965.0,336.3 965.8,330.7 966.6,316.4 967.4,322.1 968.2,338.4 969.0,324.3 969.8,327.0 970.6,330.7 971.3,334.3 972.1,336.3 972.9,344.6 973.7,343.2 974.5,335.9 975.3,340.7 976.1,330.3 976.9,345.6 977.7,360.1 978.5,347.3 979.2,344.1 980.0,344.2 980.8,347.1 981.6,353.8 982.4,339.3 983.2,354.3 984.0,346.0 984.8,353.3 985.6,360.1 986.3,343.6 987.1,370.2 987.9,360.1 988.7,352.3 989.5,358.3 990.3,351.7 991.1,357.9 991.9,360.9 992.7,344.3 993.5,360.6 994.2,360.7 995.0,367.3 995.8,365.6 996.6,356.8 997.4,357.9 998.2,362.0 999.0,367.0 999.8,358.3 1000.6,374.5 1001.3,365.9 1002.1,365.7 1002.9,370.0 1003.7,363.8 1004.5,369.5 1005.3,370.8 1006.1,354.0 1006.9,361.3 1007.7,358.6 1008.5,366.5 1009.2,360.9 1010.0,362.4 1010.8,359.9 1011.6,352.7 1012.4,370.1 1013.2,367.2 1014.0,369.6 1014.8,392.7 1015.6,379.1 1016.4,370.1 1017.1,366.4 1017.9,374.7 1018.7,363.7 1019.5,363.0 1020.3,374.4 1021.1,362.6 1021.9,360.7 1022.7,369.4 1023.5,379.1 1024.2,363.2 1025.0,374.1 1025.8,375.6 1026.6,372.5 1027.4,377.0 1028.2,366.5 1029.0,368.6 1029.8,365.8 1030.6,370.1 1031.4,379.3 1032.1,375.3 1032.9,368.6 1033.7,377.1 1034.5,355.4 1035.3,376.3 1036.1,378.7 1036.9,367.3 1037.7,370.1 1038.5,375.3 1039.2,376.7 1040.0,372.5 1040.8,369.9 1041.6,370.5 1042.4,377.6 1043.2,372.8 1044.0,370.2 1044.8,370.8 1045.6,395.5 1046.4,381.9 1047.1,381.2 1047.9,377.7 1048.7,375.0 1049.5,370.2 1050.3,372.3 1051.1,377.2 1051.9,376.3 1052.7,364.9 1053.5,380.6 1054.3,374.6 1055.0,366.3 1055.8,374.4 1056.6,390.1 1057.4,374.2 1058.2,379.3 1059.0,377.5 1059.8,369.8 1060.6,373.7 1061.4,378.5 1062.1,370.9 1062.9,374.0 1063.7,376.1 1064.5,374.9 1065.3,375.2 1066.1,379.1 1066.9,379.9 1067.7,376.8 1068.5,383.2 1069.3,385.2 1070.0,368.4 1070.8,378.6 1071.6,377.2 1072.4,377.9 1073.2,376.9 1074.0,376.9 1074.8,376.6 1075.6,382.4 1076.4,371.0 1077.2,381.7 1077.9,370.3 1078.7,389.8 1079.5,384.1 1080.3,370.6 1081.1,378.1 1081.9,381.6 1082.7,374.7 1083.5,384.1 1084.3,376.7 1085.0,391.8 1085.8,380.2 1086.6,381.5 1087.4,373.7 1088.2,371.5 1089.0,382.9 1089.8,366.7 1090.6,381.2 1091.4,390.9 1092.2,393.0 1092.9,367.2 1093.7,377.9 1094.5,381.6 1095.3,382.3 1096.1,384.6 1096.9,368.5 1097.7,378.0 1098.5,365.7 1099.3,378.8 1100.0,392.9 1100.8,371.9 1101.6,379.9 1102.4,379.0 1103.2,367.2 1104.0,379.2 1104.8,369.9 1105.6,377.6 1106.4,382.5 1107.2,374.2 1107.9,381.5 1108.7,369.5 1109.5,371.2 1110.3,377.2 1111.1,373.6 1111.9,373.9 1112.7,379.4 1113.5,371.7 1114.3,379.1 1115.1,373.6 1115.8,383.9 1116.6,377.0 1117.4,374.9 1118.2,382.8 1119.0,380.4 1119.8,381.1 1120.6,372.9 1121.4,382.4 1122.2,374.8 1122.9,367.6 1123.7,375.3 1124.5,388.3 1125.3,376.8 1126.1,370.8 1126.9,379.5 1127.7,370.4 1128.5,373.6 1129.3,374.9 1130.1,379.4 1130.8,381.0 1131.6,379.4 1132.4,377.3 1133.2,374.2 1134.0,374.9 1134.8,379.7 1135.6,377.3 1136.4,375.1 1137.2,388.4 1137.9,382.7 1138.7,382.9 1139.5,379.0 1140.3,379.5 1141.1,379.4 1141.9,383.4 1142.7,373.3 1143.5,375.9 1144.3,388.5 1145.1,377.6 1145.8,385.1 1146.6,366.5 1147.4,380.7 1148.2,380.3 1149.0,377.1 1149.8,379.0 1150.6,378.1 1151.4,367.5 1152.2,376.2 1153.0,372.2 1153.7,370.3 1154.5,384.1 1155.3,366.6 1156.1,373.2 1156.9,371.4" stroke="#8b3030" stroke-width="1.00"/>
<polyline points="663.4,368.3 664.2,379.6 665.0,384.9 665.8,382.1 666.6,377.4 667.3,375.9 668.1,379.5 668.9,375.3 669.7,373.7 670.5,391.4 671.3,386.5 672.1,389.5 672.9,382.6 673.7,373.8 674.5,379.0 675.2,390.1 676.0,385.2 676.8,376.4 677.6,386.7 678.4,383.8 679.2,381.2 680.0,395.1 680.8,378.0 681.6,380.9 682.4,379.3 683.1,389.5 683.9,388.1 684.7,386.9 685.5,381.3 686.3,382.5 687.1,382.1 687.9,371.1 688.7,374.3 689.5,387.6 690.2,387.1 691.0,371.5 691.8,384.8 692.6,373.6 693.4,372.2 694.2,386.2 695.0,384.4 695.8,382.0 696.6,388.2 697.4,388.9 698.1,385.1 698.9,376.8 699.7,385.3 700.5,383.7 701.3,385.3 702.1,391.2 702.9,372.4 703.7,395.5 704.5,386.4 705.2,378.4 706.0,391.2 706.8,378.0 707.6,373.6 708.4,387.5 709.2,380.4 710.0,389.0 710.8,378.3 711.6,381.0 712.4,380.1 713.1,372.5 713.9,378.3 714.7,372.5 715.5,377.1 716.3,389.0 717.1,379.3 717.9,377.6 718.7,390.2 719.5,371.8 720.3,379.9 721.0,377.7 721.8,385.8 722.6,379.2 723.4,377.5 724.2,381.3 725.0,378.4 725.8,392.6 726.6,369.3 727.4,385.3 728.1,391.9 728.9,383.4 729.7,381.9 730.5,372.0 731.3,380.6 732.1,371.7 732.9,378.7 733.7,356.5 734.5,366.0 735.3,355.2 736.0,373.1 736.8,360.3 737.6,369.1 738.4,356.5 739.2,352.6 740.0,363.7 740.8,356.4 741.6,351.9 742.4,349.2 743.1,339.1 743.9,335.5 744.7,333.8 745.5,318.5 746.3,310.1 747.1,316.6 747.9,305.5 748.7,295.3 749.5,290.0 750.3,285.8 751.0,268.3 751.8,259.8 752.6,251.9 753.4,247.8 754.2,222.3 755.0,210.3 755.8,207.7 756.6,187.1 757.4,159.0 758.2,152.8 758.9,127.2 759.7,113.0 760.5,100.2 761.3,80.1 762.1,74.5 762.9,57.9 763.7,61.9 764.5,31.6 765.3,31.6 766.0,31.6 766.8,34.4 767.6,31.6 768.4,32.6 769.2,39.8 770.0,46.7 770.8,67.5 771.6,71.0 772.4,91.5 773.2,110.0 773.9,122.4 774.7,123.3 775.5,130.2 776.3,156.6 777.1,145.9 777.9,156.4 778.7,176.2 779.5,183.8 780.3,187.7 781.1,186.8 781.8,201.4 782.6,211.6 783.4,207.1 784.2,227.8 785.0,217.8 785.8,215.5 786.6,225.2 787.4,226.0 788.2,231.8 788.9,234.1 789.7,248.0 790.5,257.8 791.3,257.0 792.1,258.9 792.9,252.7 793.7,252.4 794.5,262.3 795.3,272.0 796.1,273.8 796.8,272.0 797.6,263.2 798.4,271.5 799.2,275.0 800.0,280.3 800.8,269.6 801.6,273.2 802.4,274.7 803.2,272.7 803.9,261.0 804.7,271.6 805.5,257.8 806.3,258.9 807.1,264.6 807.9,256.1 808.7,258.9 809.5,259.2 810.3,250.9 811.1,250.4 811.8,236.3 812.6,234.4 813.4,225.2 814.2,217.7 815.0,237.7 815.8,209.2 816.6,217.4 817.4,198.7 818.2,199.6 819.0,187.3 819.7,173.2 820.5,188.1 821.3,170.7 822.1,167.9 822.9,175.6 823.7,154.8 824.5,155.0 825.3,155.0 826.1,152.9 826.8,123.8 827.6,144.4 828.4,150.6 829.2,142.1 830.0,135.8 830.8,133.5 831.6,129.3 832.4,133.5 833.2,121.1 834.0,125.8 834.7,129.7 835.5,124.3 836.3,119.8 837.1,110.0 837.9,110.9 838.7,114.8 839.5,111.1 840.3,108.5 841.1,95.4 841.8,111.7 842.6,103.5 843.4,100.8 844.2,110.8 845.0,102.4 845.8,101.7 846.6,105.0 847.4,97.4 848.2,93.6 849.0,92.2 849.7,100.3 850.5,97.3 851.3,82.5 852.1,104.8 852.9,95.6 853.7,90.7 854.5,95.1 855.3,91.4 856.1,94.2 856.9,90.1 857.6,86.4 858.4,96.2 859.2,93.5 860.0,95.4 860.8,98.3 861.6,96.5 862.4,104.8 863.2,93.7 864.0,88.7 864.7,90.1 865.5,94.5 866.3,110.8 867.1,96.3 867.9,114.1 868.7,113.8 869.5,105.8 870.3,129.4 871.1,120.6 871.9,127.0 872.6,130.8 873.4,134.5 874.2,123.3 875.0,126.1 875.8,113.5 876.6,111.2 877.4,128.6 878.2,123.4 879.0,122.9 879.8,129.7 880.5,130.4 881.3,123.8 882.1,127.0 882.9,137.9 883.7,132.1 884.5,126.9 885.3,140.3 886.1,140.6 886.9,126.4 887.6,130.5 888.4,152.2 889.2,152.8 890.0,143.8 890.8,156.3 891.6,152.3 892.4,155.9 893.2,151.5 894.0,174.0 894.8,174.2 895.5,170.0 896.3,157.6 897.1,167.6 897.9,180.2 898.7,168.0 899.5,169.0 900.3,177.6 901.1,180.6 901.9,178.0 902.6,175.4 903.4,184.8 904.2,184.8 905.0,191.1 905.8,195.9 906.6,201.9 907.4,196.7 908.2,203.0 909.0,205.1 909.8,200.0 910.5,205.4 911.3,205.4 912.1,224.0 912.9,212.6 913.7,222.7 914.5,226.8 915.3,229.7 916.1,218.7 916.9,223.8 917.7,236.5 918.4,241.8 919.2,236.6 920.0,242.2 920.8,230.6 921.6,253.4 922.4,258.1 923.2,249.9 924.0,250.4 924.8,251.8 925.5,249.8 926.3,243.2 927.1,261.2 927.9,264.6 928.7,274.6 929.5,263.4 930.3,261.4 931.1,270.6 931.9,263.1 932.7,272.5 933.4,264.6 934.2,274.2 935.0,285.1 935.8,284.1 936.6,291.8 937.4,294.8 938.2,283.4 939.0,281.1 939.8,275.6 940.5,290.5 941.3,293.4 942.1,300.7 942.9,288.6 943.7,294.2 944.5,302.3 945.3,295.5 946.1,297.9 946.9,315.5 947.7,299.9 948.4,305.5 949.2,310.5 950.0,312.2 950.8,299.5 951.6,302.4 952.4,302.0 953.2,323.0 954.0,321.2 954.8,312.4 955.6,327.8 956.3,326.0 957.1,334.5 957.9,311.9 958.7,318.5 959.5,323.8 960.3,326.8 961.1,332.3 961.9,333.4 962.7,328.0 963.4,338.0 964.2,326.4 965.0,338.9 965.8,342.5 966.6,329.4 967.4,340.0 968.2,336.4 969.0,343.9 969.8,357.0 970.6,339.6 971.3,353.1 972.1,338.1 972.9,356.3 973.7,359.3 974.5,345.9 975.3,346.1 976.1,349.0 976.9,358.6 977.7,345.6 978.5,361.9 979.2,356.1 980.0,359.0 980.8,357.1 981.6,349.8 982.4,360.3 983.2,353.2 984.0,353.1 984.8,369.6 985.6,366.8 986.3,362.4 987.1,364.5 987.9,359.3 988.7,374.8 989.5,358.0 990.3,358.5 991.1,365.2 991.9,373.8 992.7,365.3 993.5,369.4 994.2,362.6 995.0,367.4 995.8,362.6 996.6,370.7 997.4,358.8 998.2,383.8 999.0,375.8 999.8,366.3 1000.6,379.8 1001.3,365.5 1002.1,378.7 1002.9,370.4 1003.7,377.4 1004.5,374.7 1005.3,371.0 1006.1,373.1 1006.9,375.3 1007.7,359.0 1008.5,373.4 1009.2,380.2 1010.0,368.0 1010.8,369.0 1011.6,366.7 1012.4,363.4 1013.2,381.6 1014.0,368.8 1014.8,368.6 1015.6,376.4 1016.4,375.1 1017.1,395.5 1017.9,381.1 1018.7,365.9 1019.5,389.7 1020.3,381.7 1021.1,376.6 1021.9,374.9 1022.7,368.2 1023.5,390.7 1024.2,379.0 1025.0,373.8 1025.8,388.3 1026.6,380.0 1027.4,367.5 1028.2,371.4 1029.0,376.6 1029.8,395.5 1030.6,381.3 1031.4,378.0 1032.1,382.7 1032.9,381.2 1033.7,360.6 1034.5,382.4 1035.3,387.5 1036.1,379.6 1036.9,383.4 1037.7,383.5 1038.5,382.1 1039.2,376.5 1040.0,380.2 1040.8,389.7 1041.6,382.8 1042.4,378.9 1043.2,385.2 1044.0,374.6 1044.8,377.1 1045.6,388.8 1046.4,380.3 1047.1,369.4 1047.9,372.3 1048.7,383.0 1049.5,376.8 1050.3,387.2 1051.1,392.3 1051.9,379.2 1052.7,381.2 1053.5,379.5 1054.3,383.1 1055.0,380.8 1055.8,386.4 1056.6,379.9 1057.4,377.6 1058.2,383.5 1059.0,377.7 1059.8,394.8 1060.6,388.3 1061.4,373.7 1062.1,371.6 1062.9,381.5 1063.7,383.9 1064.5,391.6 1065.3,380.8 1066.1,378.1 1066.9,393.0 1067.7,379.6 1068.5,380.1 1069.3,380.4 1070.0,390.7 1070.8,379.8 1071.6,393.2 1072.4,373.6 1073.2,382.5 1074.0,391.1 1074.8,374.6 1075.6,375.8 1076.4,387.7 1077.2,369.0 1077.9,390.1 1078.7,381.4 1079.5,375.7 1080.3,395.5 1081.1,376.9 1081.9,384.0 1082.7,383.7 1083.5,390.7 1084.3,381.4 1085.0,390.9 1085.8,390.0 1086.6,386.6 1087.4,391.7 1088.2,373.3 1089.0,392.4 1089.8,388.6 1090.6,385.8 1091.4,383.7 1092.2,378.5 1092.9,378.3 1093.7,385.7 1094.5,386.3 1095.3,383.5 1096.1,378.3 1096.9,379.2 1097.7,387.2 1098.5,395.5 1099.3,369.7 1100.0,377.5 1100.8,382.1 1101.6,381.6 1102.4,387.3 1103.2,390.4 1104.0,386.0 1104.8,385.3 1105.6,388.0 1106.4,393.5 1107.2,385.9 1107.9,380.1 1108.7,387.2 1109.5,383.8 1110.3,395.5 1111.1,385.3 1111.9,384.7 1112.7,392.0 1113.5,395.3 1114.3,381.2 1115.1,389.3 1115.8,380.8 1116.6,386.7 1117.4,379.9 1118.2,386.2 1119.0,393.9 1119.8,384.6 1120.6,386.2 1121.4,379.7 1122.2,387.0 1122.9,386.6 1123.7,378.4 1124.5,376.4 1125.3,379.0 1126.1,377.2 1126.9,381.1 1127.7,379.0 1128.5,378.3 1129.3,381.4 1130.1,383.7 1130.8,383.1 1131.6,368.3 1132.4,384.0 1133.2,385.6 1134.0,386.5 1134.8,384.3 1135.6,382.5 1136.4,391.5 1137.2,395.5 1137.9,382.2 1138.7,394.7 1139.5,382.4 1140.3,383.2 1141.1,376.5 1141.9,373.1 1142.7,381.7 1143.5,387.8 1144.3,391.8 1145.1,389.3 1145.8,383.9 1146.6,395.5 1147.4,383.6 1148.2,384.2 1149.0,379.9 1149.8,386.3 1150.6,383.5 1151.4,389.0 1152.2,387.2 1153.0,395.5 1153.7,383.3 1154.5,374.0 1155.3,383.1 1156.1,381.7 1156.9,390.6" stroke="#008b8b" stroke-width="1.00"/>
<polyline points="663.4,365.2 664.2,375.3 665.0,362.9 665.8,361.9 666.6,376.6 667.3,374.2 668.1,370.2 668.9,376.5 669.7,371.3 670.5,369.9 671.3,370.8 672.1,375.7 672.9,366.9 673.7,354.8 674.5,366.7 675.2,369.3 676.0,376.3 676.8,359.1 677.6,351.7 678.4,374.5 679.2,343.9 680.0,360.9 680.8,368.7 681.6,343.2 682.4,348.9 683.1,373.7 683.9,374.8 684.7,374.2 685.5,364.0 686.3,344.2 687.1,373.3 687.9,363.0 688.7,351.0 689.5,366.4 690.2,369.9 691.0,357.8 691.8,372.9 692.6,365.7 693.4,371.6 694.2,359.9 695.0,360.7 695.8,372.4 696.6,359.9 697.4,363.5 698.1,360.5 698.9,369.0 699.7,373.6 700.5,364.6 701.3,372.2 702.1,351.6 702.9,364.5 703.7,359.9 704.5,360.8 705.2,349.7 706.0,367.9 706.8,361.7 707.6,349.6 708.4,368.4 709.2,347.1 710.0,346.9 710.8,360.6 711.6,344.9 712.4,359.1 713.1,355.6 713.9,349.7 714.7,367.1 715.5,364.8 716.3,370.0 717.1,343.1 717.9,360.2 718.7,356.5 719.5,360.4 720.3,354.3 721.0,353.6 721.8,359.2 722.6,359.4 723.4,353.3 724.2,357.5 725.0,341.0 725.8,319.8 726.6,332.8 727.4,334.3 728.1,329.3 728.9,322.6 729.7,340.9 730.5,331.0 731.3,336.0 732.1,337.1 732.9,327.0 733.7,323.2 734.5,325.9 735.3,302.3 736.0,315.6 736.8,324.4 737.6,320.2 738.4,312.8 739.2,302.1 740.0,302.7 740.8,311.1 741.6,275.9 742.4,260.1 743.1,263.8 743.9,270.0 744.7,261.2 745.5,288.3 746.3,263.5 747.1,282.8 747.9,253.6 748.7,244.8 749.5,259.9 750.3,223.1 751.0,255.3 751.8,245.9 752.6,242.3 753.4,235.1 754.2,204.9 755.0,191.6 755.8,152.6 756.6,173.6 757.4,163.9 758.2,152.0 758.9,131.5 759.7,114.3 760.5,85.0 761.3,85.1 762.1,62.1 762.9,56.1 763.7,35.5 764.5,39.7 765.3,40.5 766.0,31.6 766.8,33.4 767.6,38.2 768.4,31.6 769.2,38.8 770.0,37.7 770.8,50.5 771.6,65.6 772.4,84.5 773.2,107.6 773.9,107.2 774.7,123.0 775.5,129.7 776.3,145.2 777.1,159.8 777.9,170.8 778.7,166.1 779.5,168.8 780.3,186.8 781.1,187.4 781.8,186.3 782.6,207.8 783.4,209.3 784.2,219.7 785.0,207.6 785.8,218.6 786.6,227.9 787.4,240.6 788.2,233.8 788.9,229.1 789.7,243.7 790.5,248.2 791.3,243.7 792.1,260.3 792.9,253.6 793.7,251.9 794.5,263.9 795.3,266.3 796.1,260.5 796.8,264.8 797.6,267.4 798.4,265.6 799.2,266.5 800.0,275.4 800.8,273.7 801.6,265.3 802.4,259.7 803.2,256.9 803.9,271.5 804.7,255.9 805.5,256.6 806.3,260.5 807.1,254.5 807.9,248.9 808.7,238.0 809.5,254.2 810.3,237.4 811.1,237.9 811.8,233.5 812.6,218.4 813.4,215.0 814.2,222.3 815.0,210.8 815.8,201.1 816.6,207.1 817.4,184.6 818.2,185.3 819.0,177.5 819.7,170.3 820.5,154.1 821.3,161.8 822.1,160.0 822.9,140.4 823.7,152.5 824.5,148.7 825.3,151.2 826.1,129.8 826.8,132.3 827.6,127.6 828.4,126.7 829.2,126.0 830.0,128.0 830.8,125.5 831.6,114.4 832.4,114.5 833.2,101.5 834.0,116.8 834.7,112.9 835.5,114.9 836.3,95.7 837.1,112.9 837.9,96.8 838.7,90.5 839.5,100.5 840.3,92.9 841.1,112.3 841.8,98.6 842.6,106.7 843.4,92.4 844.2,92.6 845.0,97.2 845.8,83.9 846.6,87.3 847.4,92.8 848.2,92.0 849.0,98.2 849.7,88.3 850.5,71.0 851.3,91.0 852.1,82.3 852.9,88.8 853.7,78.5 854.5,80.7 855.3,85.1 856.1,96.0 856.9,86.5 857.6,73.9 858.4,84.2 859.2,78.0 860.0,86.3 860.8,96.9 861.6,81.1 862.4,82.9 863.2,90.6 864.0,90.4 864.7,87.2 865.5,95.1 866.3,90.0 867.1,95.8 867.9,114.6 868.7,102.8 869.5,110.7 870.3,117.0 871.1,111.9 871.9,121.1 872.6,114.7 873.4,109.6 874.2,113.8 875.0,122.8 875.8,114.2 876.6,101.2 877.4,109.8 878.2,114.4 879.0,110.0 879.8,106.8 880.5,109.8 881.3,108.3 882.1,120.3 882.9,117.7 883.7,119.1 884.5,119.3 885.3,136.4 886.1,125.2 886.9,135.5 887.6,118.2 888.4,119.5 889.2,121.0 890.0,129.7 890.8,141.3 891.6,133.2 892.4,143.8 893.2,140.3 894.0,153.5 894.8,153.6 895.5,148.4 896.3,141.3 897.1,156.7 897.9,142.6 898.7,141.4 899.5,173.0 900.3,166.4 901.1,175.6 901.9,172.2 902.6,177.6 903.4,176.8 904.2,171.9 905.0,174.7 905.8,182.2 906.6,186.7 907.4,188.5 908.2,191.0 909.0,190.4 909.8,197.2 910.5,180.9 911.3,205.0 912.1,196.2 912.9,194.2 913.7,195.5 914.5,223.5 915.3,202.9 916.1,203.9 916.9,205.0 917.7,234.3 918.4,225.6 919.2,224.0 920.0,229.0 920.8,218.4 921.6,235.4 922.4,223.9 923.2,231.0 924.0,248.0 924.8,246.9 925.5,245.2 926.3,243.3 927.1,238.9 927.9,249.6 928.7,243.7 929.5,263.9 930.3,276.7 931.1,258.9 931.9,255.0 932.7,263.0 933.4,269.6 934.2,261.0 935.0,251.8 935.8,268.5 936.6,274.9 937.4,277.5 938.2,258.7 939.0,275.2 939.8,272.1 940.5,269.4 941.3,272.1 942.1,288.5 942.9,276.4 943.7,278.9 944.5,283.2 945.3,281.1 946.1,294.2 946.9,292.3 947.7,297.2 948.4,289.5 949.2,301.4 950.0,295.3 950.8,307.8 951.6,302.2 952.4,305.5 953.2,305.2 954.0,304.9 954.8,308.8 955.6,310.5 956.3,325.5 957.1,303.8 957.9,317.9 958.7,316.5 959.5,322.2 960.3,310.2 961.1,325.5 961.9,316.6 962.7,312.9 963.4,310.8 964.2,315.3 965.0,320.7 965.8,335.2 966.6,318.1 967.4,320.0 968.2,323.7 969.0,325.0 969.8,331.4 970.6,336.8 971.3,326.2 972.1,325.7 972.9,343.6 973.7,330.3 974.5,336.1 975.3,332.3 976.1,337.7 976.9,332.5 977.7,334.0 978.5,335.8 979.2,346.2 980.0,337.9 980.8,344.4 981.6,353.7 982.4,341.1 983.2,357.0 984.0,341.3 984.8,336.2 985.6,353.0 986.3,343.4 987.1,347.6 987.9,346.9 988.7,362.2 989.5,348.6 990.3,352.8 991.1,349.0 991.9,355.0 992.7,347.7 993.5,354.2 994.2,351.8 995.0,347.3 995.8,356.4 996.6,351.0 997.4,357.0 998.2,355.3 999.0,363.4 999.8,354.4 1000.6,351.5 1001.3,361.4 1002.1,355.4 1002.9,355.9 1003.7,369.9 1004.5,359.7 1005.3,353.1 1006.1,366.5 1006.9,360.2 1007.7,362.2 1008.5,364.3 1009.2,350.6 1010.0,362.2 1010.8,365.0 1011.6,369.9 1012.4,363.9 1013.2,369.2 1014.0,365.6 1014.8,367.2 1015.6,368.4 1016.4,357.9 1017.1,372.3 1017.9,347.7 1018.7,373.2 1019.5,360.9 1020.3,356.9 1021.1,370.7 1021.9,358.9 1022.7,369.8 1023.5,359.1 1024.2,353.8 1025.0,365.1 1025.8,371.1 1026.6,361.0 1027.4,369.4 1028.2,374.7 1029.0,371.1 1029.8,375.8 1030.6,370.3 1031.4,360.6 1032.1,367.9 1032.9,370.5 1033.7,363.0 1034.5,345.8 1035.3,376.1 1036.1,347.4 1036.9,354.5 1037.7,369.3 1038.5,369.8 1039.2,367.5 1040.0,361.8 1040.8,373.1 1041.6,375.9 1042.4,366.2 1043.2,364.2 1044.0,369.7 1044.8,370.7 1045.6,362.9 1046.4,349.1 1047.1,374.1 1047.9,367.6 1048.7,360.0 1049.5,357.9 1050.3,357.9 1051.1,374.6 1051.9,364.5 1052.7,357.9 1053.5,360.0 1054.3,374.7 1055.0,367.6 1055.8,367.1 1056.6,362.1 1057.4,366.6 1058.2,362.7 1059.0,368.2 1059.8,368.2 1060.6,371.7 1061.4,360.1 1062.1,363.2 1062.9,360.7 1063.7,364.7 1064.5,370.9 1065.3,361.2 1066.1,371.7 1066.9,357.7 1067.7,369.7 1068.5,369.1 1069.3,361.9 1070.0,373.2 1070.8,374.1 1071.6,373.2 1072.4,363.7 1073.2,369.0 1074.0,361.2 1074.8,370.2 1075.6,372.1 1076.4,369.2 1077.2,369.2 1077.9,340.8 1078.7,373.3 1079.5,375.9 1080.3,366.9 1081.1,360.3 1081.9,370.3 1082.7,365.6 1083.5,364.6 1084.3,373.9 1085.0,371.6 1085.8,366.4 1086.6,372.6 1087.4,365.6 1088.2,372.2 1089.0,361.7 1089.8,364.5 1090.6,368.3 1091.4,353.5 1092.2,368.4 1092.9,371.3 1093.7,365.1 1094.5,355.7 1095.3,367.6 1096.1,367.2 1096.9,374.1 1097.7,367.8 1098.5,358.6 1099.3,371.6 1100.0,367.0 1100.8,364.9 1101.6,369.1 1102.4,363.5 1103.2,370.5 1104.0,371.2 1104.8,360.6 1105.6,356.0 1106.4,371.8 1107.2,371.7 1107.9,354.3 1108.7,351.6 1109.5,373.9 1110.3,372.0 1111.1,374.7 1111.9,349.1 1112.7,363.2 1113.5,368.0 1114.3,365.7 1115.1,371.3 1115.8,372.0 1116.6,376.7 1117.4,368.2 1118.2,370.1 1119.0,369.6 1119.8,357.6 1120.6,364.7 1121.4,374.6 1122.2,353.3 1122.9,364.1 1123.7,364.2 1124.5,374.3 1125.3,370.9 1126.1,360.4 1126.9,366.9 1127.7,367.5 1128.5,363.7 1129.3,365.6 1130.1,367.5 1130.8,359.2 1131.6,376.7 1132.4,351.5 1133.2,360.9 1134.0,365.9 1134.8,370.0 1135.6,368.0 1136.4,374.5 1137.2,371.3 1137.9,370.5 1138.7,356.3 1139.5,368.4 1140.3,367.5 1141.1,357.3 1141.9,364.8 1142.7,360.3 1143.5,367.4 1144.3,374.3 1145.1,363.3 1145.8,371.5 1146.6,367.5 1147.4,370.0 1148.2,370.1 1149.0,374.8 1149.8,365.0 1150.6,365.5 1151.4,375.9 1152.2,368.7 1153.0,366.7 1153.7,371.3 1154.5,366.5 1155.3,369.5 1156.1,366.6 1156.9,360.1" stroke="#8b1a1a" stroke-width="1.00"/>
<polyline points="663.4,385.3 664.2,383.7 665.0,386.2 665.8,386.4 666.6,389.1 667.3,388.2 668.1,384.3 668.9,382.9 669.7,382.5 670.5,380.6 671.3,379.6 672.1,395.4 672.9,388.6 673.7,386.7 674.5,389.3 675.2,380.4 676.0,381.9 676.8,386.4 677.6,385.2 678.4,379.2 679.2,387.7 680.0,387.5 680.8,381.1 681.6,383.3 682.4,378.3 683.1,383.9 683.9,381.9 684.7,388.6 685.5,390.7 686.3,385.8 687.1,397.0 687.9,383.6 688.7,380.6 689.5,385.3 690.2,386.9 691.0,380.0 691.8,385.9 692.6,380.5 693.4,374.1 694.2,381.8 695.0,380.7 695.8,383.0 696.6,384.3 697.4,384.1 698.1,385.2 698.9,379.8 699.7,394.0 700.5,386.9 701.3,382.0 702.1,389.9 702.9,386.0 703.7,389.1 704.5,383.1 705.2,380.9 706.0,377.7 706.8,382.7 707.6,389.1 708.4,384.0 709.2,382.3 710.0,377.9 710.8,396.5 711.6,383.3 712.4,394.7 713.1,381.4 713.9,382.8 714.7,382.4 715.5,380.3 716.3,382.8 717.1,388.1 717.9,382.8 718.7,378.2 719.5,384.9 720.3,383.9 721.0,390.2 721.8,377.6 722.6,386.0 723.4,387.0 724.2,385.2 725.0,387.0 725.8,383.5 726.6,375.2 727.4,377.3 728.1,373.6 728.9,372.9 729.7,384.9 730.5,377.3 731.3,371.5 732.1,366.8 732.9,385.7 733.7,384.9 734.5,373.9 735.3,376.7 736.0,378.5 736.8,369.4 737.6,373.3 738.4,378.8 739.2,364.5 740.0,361.1 740.8,355.6 741.6,351.1 742.4,352.1 743.1,350.8 743.9,349.0 744.7,349.4 745.5,337.8 746.3,324.5 747.1,320.2 747.9,306.5 748.7,311.4 749.5,313.1 750.3,292.1 751.0,282.9 751.8,285.7 752.6,278.8 753.4,259.9 754.2,247.0 755.0,245.6 755.8,229.3 756.6,218.6 757.4,207.3 758.2,194.9 758.9,174.9 759.7,166.3 760.5,158.1 761.3,158.7 762.1,126.8 762.9,132.9 763.7,122.3 764.5,123.0 765.3,111.1 766.0,117.8 766.8,107.8 767.6,109.6 768.4,105.3 769.2,118.3 770.0,119.0 770.8,123.2 771.6,122.3 772.4,154.4 773.2,158.4 773.9,173.8 774.7,176.8 775.5,182.6 776.3,192.5 777.1,198.8 777.9,205.2 778.7,215.8 779.5,219.4 780.3,232.2 781.1,230.1 781.8,236.5 782.6,237.8 783.4,236.4 784.2,242.0 785.0,245.0 785.8,245.0 786.6,266.4 787.4,254.7 788.2,259.8 788.9,262.7 789.7,271.3 790.5,263.6 791.3,262.3 792.1,264.5 792.9,271.8 793.7,269.5 794.5,269.4 795.3,266.1 796.1,270.5 796.8,277.4 797.6,278.7 798.4,279.2 799.2,279.7 800.0,284.0 800.8,277.7 801.6,285.5 802.4,285.8 803.2,279.1 803.9,282.9 804.7,279.8 805.5,287.7 806.3,270.7 807.1,272.6 807.9,270.9 808.7,265.2 809.5,263.9 810.3,265.9 811.1,249.0 811.8,259.0 812.6,248.1 813.4,239.6 814.2,247.8 815.0,239.0 815.8,238.5 816.6,223.2 817.4,224.7 818.2,223.0 819.0,204.7 819.7,201.3 820.5,205.5 821.3,189.8 822.1,190.3 822.9,172.3 823.7,172.7 824.5,179.7 825.3,173.4 826.1,171.9 826.8,162.0 827.6,158.0 828.4,150.1 829.2,149.5 830.0,153.9 830.8,147.0 831.6,132.3 832.4,130.7 833.2,134.8 834.0,131.9 834.7,129.5 835.5,126.0 836.3,132.5 837.1,116.7 837.9,122.7 838.7,116.5 839.5,128.6 840.3,112.4 841.1,105.0 841.8,122.2 842.6,101.0 843.4,105.1 844.2,110.1 845.0,113.3 845.8,97.7 846.6,101.2 847.4,98.4 848.2,101.9 849.0,103.7 849.7,94.1 850.5,102.8 851.3,92.3 852.1,104.9 852.9,100.2 853.7,102.2 854.5,86.9 855.3,102.2 856.1,98.3 856.9,88.2 857.6,90.0 858.4,79.2 859.2,80.7 860.0,86.9 860.8,86.4 861.6,99.9 862.4,95.7 863.2,93.9 864.0,94.5 864.7,102.4 865.5,101.8 866.3,103.1 867.1,94.8 867.9,99.7 868.7,104.9 869.5,105.5 870.3,103.1 871.1,108.1 871.9,104.2 872.6,109.2 873.4,93.4 874.2,88.7 875.0,89.3 875.8,87.3 876.6,87.0 877.4,77.5 878.2,86.6 879.0,94.0 879.8,92.2 880.5,82.5 881.3,80.3 882.1,81.4 882.9,80.6 883.7,83.4 884.5,91.6 885.3,86.7 886.1,91.5 886.9,82.7 887.6,86.3 888.4,76.9 889.2,76.4 890.0,83.6 890.8,67.4 891.6,65.1 892.4,74.1 893.2,63.9 894.0,58.8 894.8,62.1 895.5,54.0 896.3,55.4 897.1,48.5 897.9,51.0 898.7,50.8 899.5,45.3 900.3,42.1 901.1,43.2 901.9,45.1 902.6,45.0 903.4,41.0 904.2,40.5 905.0,35.0 905.8,34.1 906.6,34.8 907.4,34.3 908.2,33.9 909.0,31.6 909.8,31.6 910.5,43.0 911.3,40.2 912.1,46.8 912.9,48.2 913.7,51.5 914.5,55.9 915.3,62.1 916.1,70.4 916.9,58.9 917.7,56.4 918.4,70.3 919.2,65.9 920.0,73.9 920.8,74.1 921.6,84.6 922.4,87.1 923.2,91.9 924.0,108.6 924.8,98.1 925.5,102.0 926.3,115.8 927.1,100.5 927.9,105.3 928.7,105.4 929.5,106.5 930.3,113.4 931.1,121.9 931.9,125.0 932.7,131.6 933.4,123.7 934.2,129.9 935.0,145.6 935.8,148.2 936.6,146.9 937.4,148.1 938.2,157.1 939.0,160.9 939.8,147.5 940.5,154.3 941.3,170.4 942.1,173.9 942.9,171.5 943.7,168.6 944.5,169.6 945.3,177.2 946.1,186.7 946.9,179.8 947.7,180.4 948.4,186.2 949.2,191.2 950.0,187.7 950.8,193.1 951.6,200.4 952.4,195.5 953.2,204.4 954.0,193.7 954.8,197.7 955.6,206.9 956.3,202.0 957.1,198.0 957.9,217.7 958.7,208.6 959.5,200.6 960.3,219.2 961.1,213.5 961.9,221.8 962.7,216.3 963.4,230.4 964.2,228.1 965.0,224.2 965.8,222.6 966.6,223.3 967.4,225.3 968.2,223.8 969.0,228.9 969.8,231.6 970.6,243.9 971.3,242.7 972.1,228.0 972.9,236.2 973.7,247.0 974.5,250.5 975.3,252.0 976.1,262.1 976.9,252.1 977.7,267.4 978.5,268.4 979.2,258.9 980.0,284.3 980.8,273.6 981.6,287.1 982.4,283.4 983.2,282.2 984.0,285.2 984.8,283.8 985.6,290.2 986.3,287.9 987.1,294.9 987.9,291.7 988.7,298.2 989.5,288.1 990.3,299.6 991.1,289.8 991.9,296.7 992.7,297.0 993.5,289.9 994.2,296.7 995.0,308.4 995.8,296.5 996.6,315.9 997.4,299.8 998.2,304.5 999.0,310.9 999.8,304.0 1000.6,307.1 1001.3,295.6 1002.1,309.9 1002.9,298.1 1003.7,302.1 1004.5,314.0 1005.3,316.1 1006.1,305.6 1006.9,314.5 1007.7,314.0 1008.5,317.3 1009.2,323.5 1010.0,320.0 1010.8,324.2 1011.6,328.3 1012.4,322.6 1013.2,312.3 1014.0,314.2 1014.8,324.3 1015.6,324.3 1016.4,323.2 1017.1,319.7 1017.9,326.4 1018.7,331.9 1019.5,332.6 1020.3,325.5 1021.1,318.7 1021.9,337.7 1022.7,346.9 1023.5,333.0 1024.2,339.6 1025.0,340.2 1025.8,336.1 1026.6,344.2 1027.4,353.4 1028.2,358.4 1029.0,349.3 1029.8,356.5 1030.6,349.5 1031.4,359.0 1032.1,354.8 1032.9,361.8 1033.7,356.5 1034.5,357.8 1035.3,352.8 1036.1,349.5 1036.9,358.5 1037.7,362.8 1038.5,348.1 1039.2,357.4 1040.0,356.6 1040.8,357.2 1041.6,353.2 1042.4,356.2 1043.2,358.5 1044.0,358.5 1044.8,367.9 1045.6,367.1 1046.4,364.8 1047.1,364.3 1047.9,365.2 1048.7,364.1 1049.5,366.2 1050.3,369.1 1051.1,376.2 1051.9,363.3 1052.7,365.1 1053.5,373.6 1054.3,366.6 1055.0,367.6 1055.8,369.8 1056.6,380.7 1057.4,377.7 1058.2,374.8 1059.0,363.1 1059.8,377.1 1060.6,374.6 1061.4,379.2 1062.1,376.1 1062.9,371.9 1063.7,385.4 1064.5,389.8 1065.3,371.0 1066.1,374.6 1066.9,378.3 1067.7,369.8 1068.5,370.0 1069.3,386.9 1070.0,376.5 1070.8,369.6 1071.6,379.4 1072.4,377.6 1073.2,370.8 1074.0,377.6 1074.8,382.8 1075.6,380.1 1076.4,383.7 1077.2,373.5 1077.9,386.1 1078.7,371.2 1079.5,385.8 1080.3,376.6 1081.1,385.0 1081.9,378.8 1082.7,371.5 1083.5,371.1 1084.3,370.1 1085.0,377.9 1085.8,376.9 1086.6,376.2 1087.4,374.2 1088.2,379.8 1089.0,371.7 1089.8,376.0 1090.6,371.6 1091.4,375.3 1092.2,374.2 1092.9,382.0 1093.7,380.3 1094.5,385.2 1095.3,379.8 1096.1,379.2 1096.9,373.7 1097.7,385.2 1098.5,360.6 1099.3,379.1 1100.0,371.6 1100.8,372.8 1101.6,392.4 1102.4,380.0 1103.2,370.6 1104.0,392.0 1104.8,374.5 1105.6,383.8 1106.4,381.4 1107.2,377.6 1107.9,389.1 1108.7,377.9 1109.5,382.5 1110.3,383.1 1111.1,375.2 1111.9,359.9 1112.7,377.3 1113.5,376.2 1114.3,379.5 1115.1,383.2 1115.8,377.9 1116.6,371.0 1117.4,378.4 1118.2,374.6 1119.0,380.7 1119.8,365.7 1120.6,388.6 1121.4,376.4 1122.2,376.7 1122.9,378.2 1123.7,385.8 1124.5,386.0 1125.3,381.1 1126.1,379.3 1126.9,386.5 1127.7,385.8 1128.5,376.9 1129.3,374.3 1130.1,383.1 1130.8,383.9 1131.6,384.1 1132.4,366.5 1133.2,377.5 1134.0,380.6 1134.8,374.7 1135.6,367.7 1136.4,373.9 1137.2,388.1 1137.9,380.8 1138.7,382.6 1139.5,382.3 1140.3,387.1 1141.1,382.6 1141.9,386.4 1142.7,378.6 1143.5,380.3 1144.3,388.3 1145.1,389.9 1145.8,383.2 1146.6,377.0 1147.4,377.9 1148.2,381.0 1149.0,397.0 1149.8,383.4 1150.6,384.8 1151.4,382.6 1152.2,387.4 1153.0,383.1 1153.7,384.4 1154.5,365.8 1155.3,376.9 1156.1,381.8 1156.9,381.0" stroke="#008080" stroke-width="1.70"/>
<polyline points="663.4,390.8 664.2,391.2 665.0,392.2 665.8,390.3 666.6,392.4 667.3,394.6 668.1,395.5 668.9,394.1 669.7,393.0 670.5,392.2 671.3,390.9 672.1,394.0 672.9,394.4 673.7,391.5 674.5,390.8 675.2,393.9 676.0,392.4 676.8,390.5 677.6,392.4 678.4,393.1 679.2,395.5 680.0,390.6 680.8,391.8 681.6,392.8 682.4,393.9 683.1,395.3 683.9,393.2 684.7,393.2 685.5,391.0 686.3,395.3 687.1,390.4 687.9,393.0 688.7,390.9 689.5,394.8 690.2,392.4 691.0,390.8 691.8,392.8 692.6,395.5 693.4,393.7 694.2,392.1 695.0,395.5 695.8,395.5 696.6,392.6 697.4,394.7 698.1,391.7 698.9,395.1 699.7,395.5 700.5,394.3 701.3,390.1 702.1,394.4 702.9,392.8 703.7,392.2 704.5,394.4 705.2,390.6 706.0,392.2 706.8,391.7 707.6,395.5 708.4,395.5 709.2,395.5 710.0,392.6 710.8,392.6 711.6,390.7 712.4,389.3 713.1,392.4 713.9,392.3 714.7,390.9 715.5,388.8 716.3,393.0 717.1,390.2 717.9,391.6 718.7,391.6 719.5,389.3 720.3,392.0 721.0,392.3 721.8,388.8 722.6,389.8 723.4,389.8 724.2,389.1 725.0,387.2 725.8,388.0 726.6,385.0 727.4,384.7 728.1,381.7 728.9,381.1 729.7,380.7 730.5,381.3 731.3,379.4 732.1,379.2 732.9,371.3 733.7,375.2 734.5,372.0 735.3,368.6 736.0,371.5 736.8,368.4 737.6,365.4 738.4,363.9 739.2,361.5 740.0,357.0 740.8,350.4 741.6,347.9 742.4,345.4 743.1,341.5 743.9,340.4 744.7,331.4 745.5,327.0 746.3,324.4 747.1,316.5 747.9,311.5 748.7,306.1 749.5,300.9 750.3,294.0 751.0,287.8 751.8,278.2 752.6,271.1 753.4,263.5 754.2,256.4 755.0,248.4 755.8,234.7 756.6,231.9 757.4,216.2 758.2,207.8 758.9,198.8 759.7,190.0 760.5,179.8 761.3,174.0 762.1,169.4 762.9,162.7 763.7,162.2 764.5,156.2 765.3,156.0 766.0,165.5 766.8,163.7 767.6,163.2 768.4,168.1 769.2,173.4 770.0,178.1 770.8,183.3 771.6,189.8 772.4,196.0 773.2,208.2 773.9,217.6 774.7,235.0 775.5,243.1 776.3,254.0 777.1,257.4 777.9,263.0 778.7,272.5 779.5,280.9 780.3,282.6 781.1,285.9 781.8,288.7 782.6,289.9 783.4,292.7 784.2,301.6 785.0,296.5 785.8,302.0 786.6,304.1 787.4,302.6 788.2,307.8 788.9,312.0 789.7,314.1 790.5,313.6 791.3,314.0 792.1,314.6 792.9,319.0 793.7,320.7 794.5,317.5 795.3,321.5 796.1,317.9 796.8,319.9 797.6,319.4 798.4,319.8 799.2,318.2 800.0,318.9 800.8,318.1 801.6,315.5 802.4,314.5 803.2,310.5 803.9,308.6 804.7,306.9 805.5,304.5 806.3,302.5 807.1,296.8 807.9,297.9 808.7,296.6 809.5,293.2 810.3,287.8 811.1,284.5 811.8,278.5 812.6,272.1 813.4,264.6 814.2,257.5 815.0,251.2 815.8,249.2 816.6,242.6 817.4,239.8 818.2,228.0 819.0,221.9 819.7,215.9 820.5,212.3 821.3,204.6 822.1,200.6 822.9,194.5 823.7,190.7 824.5,182.9 825.3,176.2 826.1,167.1 826.8,159.6 827.6,157.2 828.4,149.2 829.2,143.0 830.0,138.6 830.8,134.4 831.6,127.2 832.4,123.5 833.2,117.0 834.0,112.7 834.7,108.9 835.5,105.3 836.3,100.7 837.1,100.0 837.9,93.5 838.7,95.0 839.5,88.7 840.3,84.9 841.1,83.9 841.8,82.0 842.6,74.5 843.4,73.5 844.2,67.5 845.0,64.3 845.8,62.7 846.6,59.9 847.4,55.7 848.2,54.7 849.0,55.3 849.7,51.7 850.5,49.4 851.3,48.5 852.1,46.9 852.9,45.8 853.7,43.8 854.5,43.2 855.3,42.1 856.1,35.8 856.9,37.3 857.6,34.1 858.4,36.0 859.2,32.5 860.0,35.1 860.8,31.6 861.6,39.2 862.4,40.0 863.2,36.3 864.0,35.4 864.7,40.6 865.5,35.6 866.3,33.8 867.1,37.2 867.9,34.0 868.7,39.3 869.5,44.1 870.3,47.8 871.1,53.7 871.9,62.2 872.6,66.7 873.4,81.8 874.2,79.9 875.0,72.6 875.8,69.7 876.6,61.5 877.4,59.3 878.2,55.1 879.0,55.5 879.8,56.6 880.5,59.2 881.3,61.2 882.1,60.0 882.9,65.7 883.7,66.6 884.5,67.3 885.3,66.8 886.1,68.6 886.9,69.2 887.6,75.1 888.4,74.1 889.2,76.9 890.0,79.3 890.8,80.8 891.6,87.2 892.4,86.0 893.2,89.4 894.0,95.7 894.8,96.9 895.5,97.6 896.3,104.9 897.1,106.8 897.9,111.9 898.7,116.4 899.5,119.9 900.3,121.9 901.1,121.5 901.9,125.0 902.6,130.3 903.4,129.6 904.2,133.9 905.0,137.2 905.8,137.4 906.6,142.1 907.4,145.5 908.2,142.5 909.0,150.5 909.8,148.5 910.5,154.6 911.3,154.4 912.1,157.3 912.9,160.3 913.7,166.1 914.5,165.0 915.3,167.5 916.1,171.7 916.9,173.0 917.7,173.8 918.4,179.6 919.2,180.6 920.0,186.0 920.8,186.0 921.6,188.3 922.4,187.9 923.2,193.6 924.0,197.5 924.8,198.7 925.5,206.1 926.3,205.3 927.1,211.2 927.9,214.3 928.7,214.1 929.5,218.4 930.3,219.1 931.1,226.7 931.9,226.1 932.7,230.0 933.4,232.0 934.2,237.4 935.0,234.6 935.8,238.3 936.6,242.7 937.4,245.6 938.2,247.0 939.0,245.2 939.8,250.2 940.5,253.0 941.3,253.9 942.1,257.2 942.9,259.4 943.7,261.3 944.5,265.0 945.3,266.9 946.1,273.4 946.9,273.7 947.7,276.6 948.4,277.8 949.2,279.9 950.0,282.7 950.8,283.9 951.6,283.3 952.4,287.7 953.2,290.8 954.0,289.3 954.8,290.4 955.6,294.5 956.3,295.6 957.1,299.1 957.9,299.9 958.7,299.4 959.5,301.9 960.3,305.1 961.1,307.9 961.9,312.3 962.7,310.8 963.4,312.3 964.2,312.9 965.0,312.8 965.8,317.4 966.6,317.9 967.4,323.1 968.2,320.5 969.0,322.6 969.8,323.3 970.6,326.1 971.3,328.2 972.1,328.0 972.9,333.3 973.7,332.2 974.5,332.5 975.3,336.8 976.1,338.3 976.9,336.3 977.7,337.7 978.5,337.5 979.2,338.2 980.0,341.5 980.8,340.3 981.6,339.6 982.4,343.1 983.2,343.7 984.0,346.0 984.8,343.3 985.6,342.0 986.3,348.7 987.1,345.6 987.9,346.1 988.7,349.4 989.5,349.8 990.3,351.7 991.1,352.0 991.9,351.0 992.7,350.8 993.5,352.4 994.2,351.8 995.0,353.6 995.8,356.7 996.6,352.7 997.4,353.8 998.2,357.8 999.0,354.0 999.8,356.9 1000.6,358.1 1001.3,355.5 1002.1,364.0 1002.9,363.0 1003.7,359.4 1004.5,361.7 1005.3,363.5 1006.1,359.6 1006.9,362.0 1007.7,365.7 1008.5,365.1 1009.2,363.0 1010.0,361.8 1010.8,369.1 1011.6,365.6 1012.4,367.3 1013.2,370.2 1014.0,367.9 1014.8,371.0 1015.6,369.6 1016.4,366.2 1017.1,368.7 1017.9,368.7 1018.7,369.5 1019.5,370.4 1020.3,369.7 1021.1,374.0 1021.9,373.0 1022.7,371.2 1023.5,374.5 1024.2,374.4 1025.0,371.8 1025.8,371.6 1026.6,375.8 1027.4,376.6 1028.2,374.5 1029.0,375.4 1029.8,377.5 1030.6,375.6 1031.4,376.0 1032.1,377.2 1032.9,372.5 1033.7,375.7 1034.5,377.0 1035.3,377.0 1036.1,373.8 1036.9,377.5 1037.7,381.0 1038.5,379.5 1039.2,380.2 1040.0,381.7 1040.8,380.5 1041.6,380.8 1042.4,381.6 1043.2,382.6 1044.0,380.5 1044.8,385.1 1045.6,381.0 1046.4,382.7 1047.1,382.4 1047.9,387.3 1048.7,380.2 1049.5,386.5 1050.3,385.1 1051.1,382.6 1051.9,385.0 1052.7,384.8 1053.5,388.2 1054.3,385.1 1055.0,384.1 1055.8,383.4 1056.6,385.2 1057.4,384.5 1058.2,384.2 1059.0,386.4 1059.8,386.7 1060.6,382.0 1061.4,387.2 1062.1,383.6 1062.9,385.9 1063.7,383.5 1064.5,387.5 1065.3,385.7 1066.1,386.2 1066.9,387.4 1067.7,386.7 1068.5,388.8 1069.3,387.8 1070.0,388.5 1070.8,386.7 1071.6,388.4 1072.4,390.9 1073.2,389.2 1074.0,388.9 1074.8,390.5 1075.6,386.6 1076.4,388.4 1077.2,387.7 1077.9,390.7 1078.7,390.1 1079.5,387.6 1080.3,392.1 1081.1,388.9 1081.9,389.5 1082.7,390.6 1083.5,389.6 1084.3,391.8 1085.0,389.5 1085.8,392.2 1086.6,392.3 1087.4,387.6 1088.2,391.4 1089.0,394.0 1089.8,388.5 1090.6,391.7 1091.4,395.5 1092.2,390.5 1092.9,388.8 1093.7,389.9 1094.5,387.5 1095.3,390.8 1096.1,389.5 1096.9,392.5 1097.7,390.4 1098.5,388.0 1099.3,389.9 1100.0,390.5 1100.8,394.4 1101.6,391.5 1102.4,393.2 1103.2,389.5 1104.0,392.3 1104.8,390.3 1105.6,392.8 1106.4,387.7 1107.2,393.2 1107.9,390.9 1108.7,386.4 1109.5,390.8 1110.3,392.7 1111.1,390.1 1111.9,389.5 1112.7,389.7 1113.5,394.8 1114.3,390.9 1115.1,395.2 1115.8,387.9 1116.6,391.3 1117.4,392.2 1118.2,390.2 1119.0,390.6 1119.8,393.6 1120.6,388.6 1121.4,392.0 1122.2,394.7 1122.9,389.1 1123.7,388.8 1124.5,389.4 1125.3,390.7 1126.1,393.3 1126.9,390.0 1127.7,388.4 1128.5,390.3 1129.3,388.9 1130.1,393.2 1130.8,390.0 1131.6,390.1 1132.4,394.5 1133.2,394.8 1134.0,393.2 1134.8,391.7 1135.6,391.1 1136.4,392.3 1137.2,392.1 1137.9,392.2 1138.7,391.8 1139.5,390.9 1140.3,391.1 1141.1,392.1 1141.9,391.6 1142.7,392.9 1143.5,390.6 1144.3,393.0 1145.1,389.1 1145.8,392.1 1146.6,391.6 1147.4,393.5 1148.2,392.7 1149.0,391.8 1149.8,392.1 1150.6,393.3 1151.4,394.2 1152.2,392.1 1153.0,391.9 1153.7,391.2 1154.5,389.9 1155.3,392.7 1156.1,395.5 1156.9,392.4" stroke="#000000" stroke-width="3.90"/>
</g>
<g font-family="Liberation Sans, Arial, sans-serif" fill="#000">
<text transform="translate(769.80 21.10)" font-size="18" text-anchor="middle">450</text>
<text transform="translate(860.30 18.60) scale(1.030 1.000)" font-size="19.5" text-anchor="middle">548</text>
<text transform="translate(908.60 23.00) scale(1.050 1.000)" font-size="19.5" text-anchor="middle">600</text>
<text transform="translate(962.80 85.60)" font-size="19.5">Start</text>
<text transform="translate(981.30 142.50) scale(1.040 1.000)" font-size="19">0.5 hour</text>
<text transform="translate(1022.50 198.60) scale(1.030 1.000)" font-size="19">LED</text>
<text transform="translate(954.75 443.60) scale(1.059 1.000)" font-size="20" text-anchor="middle">Wavelength (nm)</text>
<text transform="translate(597.30 216.45) scale(1.090 1.012) rotate(-90)" font-size="21" text-anchor="middle">Normalized Reflectance</text>
</g>
<path d="M929.1 109.3L950.1 101.9" stroke="#008080" stroke-width="2.0"/>
<path d="M958.6 98.9L949.7 106.8L946.7 98.3Z" fill="#008080"/>
<path d="M926.0 174.7L972.3 157.5" stroke="#ff0000" stroke-width="2.0"/>
<path d="M980.7 154.4L972.0 162.4L968.8 154.0Z" fill="#ff0000"/>
<path d="M934.3 233.4L1009.4 212.1" stroke="#000000" stroke-width="2.0"/>
<path d="M1018.1 209.7L1008.7 217.0L1006.3 208.4Z" fill="#000000"/>
<g stroke="#111" stroke-width="1.6" fill="none">
<path d="M1337.6 385.7V19.6"/>
<path d="M1336.8 384.9H1831.6"/>
<path d="M1330.1 357.7H1337.6M1330.1 304.0H1337.6M1330.1 250.3H1337.6M1330.1 196.6H1337.6M1330.1 142.9H1337.6M1330.1 89.2H1337.6M1330.1 35.5H1337.6M1333.6 384.6H1337.6M1333.6 330.8H1337.6M1333.6 277.1H1337.6M1333.6 223.4H1337.6M1333.6 169.7H1337.6M1333.6 116.0H1337.6M1333.6 62.3H1337.6M1387.0 384.9V392.4M1485.8 384.9V392.4M1584.6 384.9V392.4M1683.4 384.9V392.4M1782.2 384.9V392.4M1337.6 384.9V388.9M1436.4 384.9V388.9M1535.2 384.9V388.9M1634.0 384.9V388.9M1732.8 384.9V388.9M1831.6 384.9V388.9"/>
</g>
<g font-family="Liberation Sans, Arial, sans-serif" fill="#000">
<text transform="translate(1325.00 362.70) scale(1.060 1.000)" font-size="17" text-anchor="end">200</text>
<text transform="translate(1325.00 309.00) scale(1.060 1.000)" font-size="17" text-anchor="end">300</text>
<text transform="translate(1325.00 255.30) scale(1.060 1.000)" font-size="17" text-anchor="end">400</text>
<text transform="translate(1325.00 201.60) scale(1.060 1.000)" font-size="17" text-anchor="end">500</text>
<text transform="translate(1325.00 147.90) scale(1.060 1.000)" font-size="17" text-anchor="end">600</text>
<text transform="translate(1325.00 94.20) scale(1.060 1.000)" font-size="17" text-anchor="end">700</text>
<text transform="translate(1325.00 40.50) scale(1.060 1.000)" font-size="17" text-anchor="end">800</text>
<text transform="translate(1387.00 411.20) scale(1.040 1.000)" font-size="17" text-anchor="middle">400</text>
<text transform="translate(1485.80 411.20) scale(1.040 1.000)" font-size="17" text-anchor="middle">500</text>
<text transform="translate(1584.60 411.20) scale(1.040 1.000)" font-size="17" text-anchor="middle">600</text>
<text transform="translate(1683.40 411.20) scale(1.040 1.000)" font-size="17" text-anchor="middle">700</text>
<text transform="translate(1782.20 411.20) scale(1.040 1.000)" font-size="17" text-anchor="middle">800</text>
</g>
<g fill="none" stroke-linejoin="round">
<polyline points="1337.6,366.0 1338.4,366.0 1339.2,365.3 1340.0,367.5 1340.8,364.5 1341.6,365.6 1342.3,362.7 1343.1,366.5 1343.9,363.8 1344.7,366.0 1345.5,363.7 1346.3,366.4 1347.1,364.1 1347.9,365.7 1348.7,366.2 1349.5,365.3 1350.2,364.4 1351.0,364.5 1351.8,362.9 1352.6,363.9 1353.4,368.5 1354.2,365.5 1355.0,367.6 1355.8,365.5 1356.6,364.1 1357.4,366.7 1358.2,366.5 1358.9,364.7 1359.7,365.2 1360.5,362.7 1361.3,364.4 1362.1,364.1 1362.9,362.4 1363.7,365.4 1364.5,364.7 1365.3,366.0 1366.1,364.3 1366.8,363.2 1367.6,362.8 1368.4,364.6 1369.2,365.5 1370.0,365.5 1370.8,366.3 1371.6,364.3 1372.4,362.6 1373.2,367.5 1374.0,367.2 1374.7,362.4 1375.5,366.4 1376.3,363.8 1377.1,365.8 1377.9,363.1 1378.7,363.0 1379.5,363.8 1380.3,362.9 1381.1,363.9 1381.9,363.1 1382.7,361.4 1383.4,362.3 1384.2,364.6 1385.0,364.7 1385.8,363.9 1386.6,363.9 1387.4,363.4 1388.2,364.2 1389.0,362.4 1389.8,363.0 1390.6,362.4 1391.3,362.6 1392.1,361.5 1392.9,363.6 1393.7,359.6 1394.5,360.9 1395.3,360.4 1396.1,359.8 1396.9,358.8 1397.7,358.9 1398.5,359.1 1399.3,359.1 1400.0,360.5 1400.8,357.4 1401.6,357.4 1402.4,356.7 1403.2,352.3 1404.0,357.2 1404.8,353.8 1405.6,351.2 1406.4,350.5 1407.2,348.9 1407.9,351.0 1408.7,349.1 1409.5,345.1 1410.3,343.8 1411.1,338.0 1411.9,336.6 1412.7,333.1 1413.5,329.3 1414.3,326.9 1415.1,323.2 1415.8,320.9 1416.6,316.7 1417.4,313.8 1418.2,309.0 1419.0,307.2 1419.8,302.9 1420.6,295.4 1421.4,290.4 1422.2,285.8 1423.0,276.9 1423.8,268.3 1424.5,253.1 1425.3,246.0 1426.1,229.0 1426.9,219.6 1427.7,205.3 1428.5,194.1 1429.3,183.1 1430.1,171.3 1430.9,162.2 1431.7,154.7 1432.4,146.3 1433.2,132.4 1434.0,122.1 1434.8,109.5 1435.6,93.3 1436.4,76.6 1437.2,64.9 1438.0,52.8 1438.8,45.8 1439.6,36.7 1440.4,33.6 1441.1,31.2 1441.9,34.8 1442.7,44.2 1443.5,51.8 1444.3,60.4 1445.1,78.2 1445.9,97.8 1446.7,113.3 1447.5,128.1 1448.3,141.4 1449.0,150.6 1449.8,162.8 1450.6,175.0 1451.4,180.5 1452.2,188.6 1453.0,193.1 1453.8,202.2 1454.6,208.4 1455.4,212.8 1456.2,217.6 1457.0,223.8 1457.7,225.4 1458.5,229.4 1459.3,230.2 1460.1,231.7 1460.9,239.2 1461.7,241.6 1462.5,244.0 1463.3,246.2 1464.1,248.8 1464.9,250.4 1465.6,251.5 1466.4,257.2 1467.2,259.9 1468.0,262.5 1468.8,260.6 1469.6,262.1 1470.4,267.4 1471.2,268.8 1472.0,267.5 1472.8,267.3 1473.5,268.4 1474.3,270.3 1475.1,270.3 1475.9,271.1 1476.7,272.3 1477.5,268.3 1478.3,269.6 1479.1,269.3 1479.9,266.5 1480.7,266.1 1481.5,262.3 1482.2,258.9 1483.0,260.1 1483.8,254.8 1484.6,251.3 1485.4,251.3 1486.2,250.8 1487.0,247.8 1487.8,244.4 1488.6,242.8 1489.4,239.6 1490.1,235.0 1490.9,231.4 1491.7,226.6 1492.5,225.0 1493.3,216.6 1494.1,212.9 1494.9,207.1 1495.7,202.5 1496.5,192.7 1497.3,189.7 1498.1,182.3 1498.8,179.5 1499.6,178.7 1500.4,175.0 1501.2,168.9 1502.0,167.2 1502.8,165.9 1503.6,162.5 1504.4,159.4 1505.2,157.3 1506.0,153.1 1506.7,150.5 1507.5,147.3 1508.3,143.8 1509.1,143.7 1509.9,139.7 1510.7,138.8 1511.5,136.4 1512.3,134.9 1513.1,133.2 1513.9,133.0 1514.6,132.1 1515.4,132.6 1516.2,130.9 1517.0,132.2 1517.8,130.7 1518.6,128.7 1519.4,129.3 1520.2,128.1 1521.0,129.7 1521.8,126.0 1522.6,128.4 1523.3,126.8 1524.1,127.3 1524.9,125.9 1525.7,127.8 1526.5,128.9 1527.3,130.6 1528.1,129.0 1528.9,130.9 1529.7,129.3 1530.5,128.9 1531.2,134.7 1532.0,134.4 1532.8,133.2 1533.6,132.9 1534.4,135.0 1535.2,135.9 1536.0,136.5 1536.8,137.2 1537.6,136.5 1538.4,138.8 1539.2,142.3 1539.9,142.5 1540.7,142.9 1541.5,146.0 1542.3,148.8 1543.1,154.9 1543.9,161.8 1544.7,166.4 1545.5,173.2 1546.3,177.1 1547.1,176.6 1547.8,174.4 1548.6,169.8 1549.4,169.9 1550.2,165.6 1551.0,164.2 1551.8,165.4 1552.6,160.1 1553.4,160.6 1554.2,161.1 1555.0,161.3 1555.8,158.5 1556.5,164.6 1557.3,165.2 1558.1,165.0 1558.9,168.1 1559.7,174.0 1560.5,174.5 1561.3,177.8 1562.1,180.0 1562.9,181.2 1563.7,185.3 1564.4,186.9 1565.2,186.4 1566.0,192.6 1566.8,192.4 1567.6,192.9 1568.4,196.9 1569.2,197.7 1570.0,200.3 1570.8,199.9 1571.6,202.6 1572.3,202.3 1573.1,203.6 1573.9,206.6 1574.7,208.8 1575.5,209.6 1576.3,211.6 1577.1,215.0 1577.9,213.7 1578.7,216.7 1579.5,217.8 1580.3,222.6 1581.0,221.6 1581.8,222.0 1582.6,226.1 1583.4,231.1 1584.2,231.3 1585.0,233.6 1585.8,235.5 1586.6,238.3 1587.4,239.6 1588.2,243.1 1588.9,244.3 1589.7,247.8 1590.5,248.8 1591.3,249.7 1592.1,253.8 1592.9,254.2 1593.7,258.2 1594.5,259.4 1595.3,260.9 1596.1,260.6 1596.9,264.9 1597.6,263.7 1598.4,268.8 1599.2,268.5 1600.0,268.5 1600.8,270.2 1601.6,273.8 1602.4,275.5 1603.2,273.9 1604.0,278.1 1604.8,276.9 1605.5,279.6 1606.3,280.1 1607.1,278.2 1607.9,280.4 1608.7,282.5 1609.5,286.7 1610.3,285.5 1611.1,287.0 1611.9,288.3 1612.7,287.5 1613.4,292.8 1614.2,291.1 1615.0,292.5 1615.8,294.8 1616.6,292.6 1617.4,297.8 1618.2,297.1 1619.0,298.2 1619.8,302.4 1620.6,302.5 1621.4,303.0 1622.1,301.8 1622.9,302.7 1623.7,304.3 1624.5,305.9 1625.3,310.3 1626.1,308.2 1626.9,310.3 1627.7,309.1 1628.5,309.9 1629.3,309.8 1630.0,313.0 1630.8,313.9 1631.6,317.4 1632.4,317.0 1633.2,319.8 1634.0,317.9 1634.8,321.8 1635.6,321.4 1636.4,323.2 1637.2,323.7 1638.0,323.4 1638.7,325.7 1639.5,325.5 1640.3,328.0 1641.1,325.6 1641.9,329.2 1642.7,327.8 1643.5,327.1 1644.3,334.1 1645.1,333.0 1645.9,332.7 1646.6,331.6 1647.4,334.6 1648.2,334.2 1649.0,336.4 1649.8,335.4 1650.6,338.5 1651.4,336.4 1652.2,342.3 1653.0,341.5 1653.8,337.1 1654.6,340.1 1655.3,342.2 1656.1,338.6 1656.9,340.8 1657.7,341.3 1658.5,344.0 1659.3,343.2 1660.1,343.9 1660.9,347.5 1661.7,345.0 1662.5,346.6 1663.2,345.2 1664.0,345.7 1664.8,348.9 1665.6,349.5 1666.4,348.9 1667.2,348.9 1668.0,350.9 1668.8,351.1 1669.6,350.6 1670.4,351.4 1671.1,350.9 1671.9,352.7 1672.7,354.8 1673.5,356.5 1674.3,353.4 1675.1,355.5 1675.9,356.0 1676.7,356.3 1677.5,358.5 1678.3,357.3 1679.1,360.7 1679.8,358.0 1680.6,359.0 1681.4,355.5 1682.2,357.7 1683.0,358.9 1683.8,358.6 1684.6,358.0 1685.4,360.2 1686.2,359.7 1687.0,360.1 1687.7,356.4 1688.5,359.9 1689.3,362.9 1690.1,359.3 1690.9,357.0 1691.7,362.0 1692.5,356.1 1693.3,361.1 1694.1,359.8 1694.9,362.1 1695.7,361.9 1696.4,363.4 1697.2,363.3 1698.0,364.9 1698.8,360.5 1699.6,363.8 1700.4,361.8 1701.2,362.0 1702.0,363.5 1702.8,362.7 1703.6,363.0 1704.3,363.6 1705.1,363.0 1705.9,363.1 1706.7,364.7 1707.5,365.1 1708.3,364.6 1709.1,363.4 1709.9,361.7 1710.7,361.6 1711.5,363.3 1712.2,362.5 1713.0,363.7 1713.8,362.4 1714.6,363.8 1715.4,363.5 1716.2,364.5 1717.0,364.1 1717.8,361.5 1718.6,365.9 1719.4,364.2 1720.2,365.1 1720.9,363.0 1721.7,361.8 1722.5,364.8 1723.3,368.3 1724.1,363.6 1724.9,363.7 1725.7,366.9 1726.5,364.9 1727.3,364.7 1728.1,367.9 1728.8,363.7 1729.6,364.1 1730.4,364.4 1731.2,366.2 1732.0,365.8 1732.8,365.7 1733.6,364.2 1734.4,366.3 1735.2,362.9 1736.0,364.4 1736.8,368.0 1737.5,362.6 1738.3,364.8 1739.1,365.8 1739.9,364.9 1740.7,367.6 1741.5,364.8 1742.3,368.5 1743.1,366.5 1743.9,363.2 1744.7,363.4 1745.4,365.6 1746.2,366.5 1747.0,363.8 1747.8,365.2 1748.6,364.9 1749.4,364.3 1750.2,366.7 1751.0,364.0 1751.8,368.1 1752.6,363.1 1753.4,367.3 1754.1,366.0 1754.9,366.1 1755.7,364.1 1756.5,364.1 1757.3,364.7 1758.1,364.4 1758.9,364.5 1759.7,365.3 1760.5,367.8 1761.3,368.4 1762.0,368.4 1762.8,365.2 1763.6,365.5 1764.4,365.4 1765.2,364.8 1766.0,365.5 1766.8,366.6 1767.6,367.3 1768.4,367.8 1769.2,363.5 1769.9,363.9 1770.7,367.1 1771.5,365.6 1772.3,364.6 1773.1,362.9 1773.9,366.0 1774.7,364.9 1775.5,363.5 1776.3,367.6 1777.1,366.2 1777.9,365.2 1778.6,366.2 1779.4,362.2 1780.2,364.0 1781.0,364.9 1781.8,366.5 1782.6,364.0 1783.4,364.3 1784.2,365.9 1785.0,365.8 1785.8,367.2 1786.5,365.3 1787.3,364.0 1788.1,363.8 1788.9,364.4 1789.7,364.0 1790.5,366.0 1791.3,365.8 1792.1,363.5 1792.9,364.5 1793.7,366.3 1794.5,364.5 1795.2,364.0 1796.0,364.2 1796.8,365.0 1797.6,365.9 1798.4,364.6 1799.2,362.8 1800.0,365.0 1800.8,366.1 1801.6,364.7 1802.4,366.9 1803.1,364.9 1803.9,365.6 1804.7,363.8 1805.5,365.0 1806.3,363.7 1807.1,362.0 1807.9,365.5 1808.7,366.4 1809.5,364.5 1810.3,365.3 1811.0,365.0 1811.8,366.0 1812.6,364.4 1813.4,365.1 1814.2,368.2 1815.0,365.5 1815.8,364.7 1816.6,363.5 1817.4,366.0 1818.2,366.3 1819.0,363.6 1819.7,366.0 1820.5,365.0 1821.3,364.5 1822.1,364.2 1822.9,365.2 1823.7,366.7 1824.5,363.8 1825.3,365.8 1826.1,365.9 1826.9,362.4 1827.6,364.0 1828.4,366.7 1829.2,365.9 1830.0,365.5 1830.8,366.2 1831.6,367.9" stroke="#000000" stroke-width="2.80"/>
<polyline points="1337.6,365.2 1338.4,364.1 1339.2,368.3 1340.0,366.5 1340.8,367.1 1341.6,364.0 1342.3,365.0 1343.1,368.9 1343.9,367.2 1344.7,361.3 1345.5,368.1 1346.3,365.3 1347.1,367.2 1347.9,362.5 1348.7,365.8 1349.5,366.7 1350.2,368.6 1351.0,366.2 1351.8,363.5 1352.6,363.9 1353.4,368.9 1354.2,361.7 1355.0,366.2 1355.8,368.2 1356.6,365.2 1357.4,367.1 1358.2,366.9 1358.9,367.1 1359.7,365.7 1360.5,366.7 1361.3,369.7 1362.1,364.1 1362.9,366.7 1363.7,362.4 1364.5,364.0 1365.3,363.8 1366.1,364.8 1366.8,362.0 1367.6,366.0 1368.4,367.7 1369.2,364.3 1370.0,371.9 1370.8,366.0 1371.6,364.5 1372.4,366.1 1373.2,361.9 1374.0,363.2 1374.7,364.6 1375.5,365.9 1376.3,362.1 1377.1,366.5 1377.9,365.8 1378.7,362.9 1379.5,363.2 1380.3,359.6 1381.1,365.1 1381.9,369.3 1382.7,362.9 1383.4,361.3 1384.2,364.8 1385.0,360.5 1385.8,359.9 1386.6,365.9 1387.4,365.4 1388.2,367.2 1389.0,362.6 1389.8,362.0 1390.6,362.1 1391.3,366.5 1392.1,365.0 1392.9,366.4 1393.7,366.6 1394.5,365.6 1395.3,365.9 1396.1,362.0 1396.9,360.2 1397.7,359.3 1398.5,360.5 1399.3,361.6 1400.0,359.4 1400.8,357.4 1401.6,358.9 1402.4,357.4 1403.2,357.6 1404.0,357.4 1404.8,355.2 1405.6,357.1 1406.4,350.7 1407.2,356.1 1407.9,349.9 1408.7,353.0 1409.5,344.2 1410.3,343.4 1411.1,344.7 1411.9,340.6 1412.7,339.0 1413.5,333.2 1414.3,328.9 1415.1,320.5 1415.8,327.2 1416.6,317.6 1417.4,318.8 1418.2,313.2 1419.0,307.9 1419.8,304.7 1420.6,300.4 1421.4,297.0 1422.2,290.9 1423.0,283.0 1423.8,271.4 1424.5,267.8 1425.3,254.2 1426.1,244.4 1426.9,231.8 1427.7,219.7 1428.5,203.7 1429.3,190.7 1430.1,183.3 1430.9,181.0 1431.7,169.5 1432.4,164.0 1433.2,150.8 1434.0,138.4 1434.8,126.7 1435.6,110.4 1436.4,98.1 1437.2,91.6 1438.0,81.7 1438.8,67.9 1439.6,59.0 1440.4,53.3 1441.1,57.8 1441.9,60.7 1442.7,66.6 1443.5,72.4 1444.3,84.3 1445.1,101.3 1445.9,113.4 1446.7,131.9 1447.5,145.1 1448.3,160.6 1449.0,168.2 1449.8,182.2 1450.6,191.7 1451.4,195.1 1452.2,202.7 1453.0,206.8 1453.8,210.7 1454.6,219.9 1455.4,220.3 1456.2,230.5 1457.0,230.8 1457.7,239.3 1458.5,239.0 1459.3,243.0 1460.1,245.4 1460.9,246.0 1461.7,254.6 1462.5,252.0 1463.3,256.7 1464.1,256.8 1464.9,258.5 1465.6,262.8 1466.4,265.1 1467.2,269.2 1468.0,267.1 1468.8,272.0 1469.6,270.9 1470.4,276.9 1471.2,271.2 1472.0,278.1 1472.8,273.7 1473.5,278.6 1474.3,277.0 1475.1,279.3 1475.9,277.6 1476.7,279.2 1477.5,275.4 1478.3,275.7 1479.1,274.1 1479.9,269.9 1480.7,274.0 1481.5,267.4 1482.2,268.7 1483.0,270.8 1483.8,264.0 1484.6,263.6 1485.4,256.7 1486.2,259.9 1487.0,256.1 1487.8,253.1 1488.6,255.7 1489.4,246.9 1490.1,247.6 1490.9,238.3 1491.7,234.2 1492.5,234.7 1493.3,234.6 1494.1,225.8 1494.9,220.3 1495.7,212.8 1496.5,209.2 1497.3,206.0 1498.1,199.3 1498.8,197.7 1499.6,187.8 1500.4,191.1 1501.2,188.2 1502.0,184.1 1502.8,184.4 1503.6,179.7 1504.4,176.0 1505.2,173.8 1506.0,170.0 1506.7,163.3 1507.5,162.7 1508.3,164.9 1509.1,160.9 1509.9,156.3 1510.7,158.2 1511.5,155.0 1512.3,154.0 1513.1,151.5 1513.9,152.3 1514.6,151.5 1515.4,152.6 1516.2,148.9 1517.0,151.5 1517.8,144.3 1518.6,148.1 1519.4,148.1 1520.2,145.1 1521.0,146.9 1521.8,146.1 1522.6,146.2 1523.3,147.7 1524.1,148.0 1524.9,147.4 1525.7,143.0 1526.5,147.6 1527.3,147.5 1528.1,148.1 1528.9,145.9 1529.7,143.4 1530.5,151.4 1531.2,148.5 1532.0,150.5 1532.8,152.4 1533.6,151.2 1534.4,156.5 1535.2,152.1 1536.0,154.4 1536.8,158.1 1537.6,152.5 1538.4,155.1 1539.2,155.3 1539.9,162.8 1540.7,161.2 1541.5,163.4 1542.3,163.9 1543.1,167.3 1543.9,181.5 1544.7,182.8 1545.5,188.1 1546.3,188.0 1547.1,190.6 1547.8,192.6 1548.6,188.2 1549.4,188.0 1550.2,185.0 1551.0,180.5 1551.8,179.6 1552.6,175.9 1553.4,179.3 1554.2,169.7 1555.0,172.8 1555.8,175.1 1556.5,181.5 1557.3,185.4 1558.1,184.3 1558.9,185.0 1559.7,181.3 1560.5,186.1 1561.3,193.1 1562.1,191.3 1562.9,193.6 1563.7,198.7 1564.4,197.6 1565.2,201.4 1566.0,205.5 1566.8,208.4 1567.6,207.4 1568.4,206.2 1569.2,213.5 1570.0,215.7 1570.8,211.8 1571.6,221.4 1572.3,211.7 1573.1,218.8 1573.9,217.4 1574.7,216.1 1575.5,225.8 1576.3,226.4 1577.1,219.9 1577.9,227.8 1578.7,229.0 1579.5,229.9 1580.3,229.6 1581.0,230.8 1581.8,235.8 1582.6,238.8 1583.4,240.1 1584.2,241.3 1585.0,240.8 1585.8,245.8 1586.6,243.7 1587.4,252.4 1588.2,251.0 1588.9,250.0 1589.7,253.2 1590.5,257.5 1591.3,262.5 1592.1,263.9 1592.9,264.4 1593.7,265.0 1594.5,268.1 1595.3,272.7 1596.1,272.5 1596.9,270.8 1597.6,271.4 1598.4,278.3 1599.2,277.1 1600.0,281.7 1600.8,280.2 1601.6,271.3 1602.4,281.1 1603.2,283.4 1604.0,285.1 1604.8,287.8 1605.5,290.6 1606.3,287.2 1607.1,288.9 1607.9,285.7 1608.7,294.4 1609.5,290.4 1610.3,289.2 1611.1,298.4 1611.9,293.0 1612.7,299.6 1613.4,295.4 1614.2,294.1 1615.0,298.8 1615.8,299.1 1616.6,302.5 1617.4,301.1 1618.2,300.1 1619.0,304.4 1619.8,305.3 1620.6,305.1 1621.4,305.1 1622.1,312.2 1622.9,309.0 1623.7,311.9 1624.5,310.1 1625.3,309.8 1626.1,312.6 1626.9,311.2 1627.7,317.8 1628.5,317.4 1629.3,319.9 1630.0,318.3 1630.8,319.2 1631.6,320.9 1632.4,324.3 1633.2,322.5 1634.0,324.3 1634.8,322.7 1635.6,325.7 1636.4,323.1 1637.2,326.3 1638.0,332.3 1638.7,329.0 1639.5,332.9 1640.3,327.8 1641.1,327.4 1641.9,331.8 1642.7,331.4 1643.5,336.9 1644.3,339.6 1645.1,336.1 1645.9,336.1 1646.6,339.9 1647.4,336.7 1648.2,336.8 1649.0,336.7 1649.8,335.1 1650.6,337.6 1651.4,341.2 1652.2,340.6 1653.0,340.1 1653.8,344.8 1654.6,339.5 1655.3,341.2 1656.1,344.5 1656.9,346.1 1657.7,335.7 1658.5,343.6 1659.3,343.9 1660.1,342.4 1660.9,344.9 1661.7,347.3 1662.5,346.6 1663.2,351.2 1664.0,347.7 1664.8,353.8 1665.6,349.4 1666.4,349.6 1667.2,355.4 1668.0,347.3 1668.8,355.4 1669.6,350.5 1670.4,354.9 1671.1,353.3 1671.9,356.2 1672.7,348.9 1673.5,353.0 1674.3,351.5 1675.1,354.4 1675.9,355.1 1676.7,356.8 1677.5,358.2 1678.3,356.4 1679.1,357.9 1679.8,359.0 1680.6,362.3 1681.4,359.9 1682.2,357.9 1683.0,360.8 1683.8,359.0 1684.6,360.4 1685.4,362.8 1686.2,362.6 1687.0,362.4 1687.7,361.5 1688.5,361.6 1689.3,358.3 1690.1,364.0 1690.9,366.5 1691.7,359.9 1692.5,362.9 1693.3,362.2 1694.1,355.7 1694.9,358.6 1695.7,360.9 1696.4,360.1 1697.2,362.3 1698.0,360.4 1698.8,364.4 1699.6,364.8 1700.4,364.3 1701.2,359.3 1702.0,359.5 1702.8,365.0 1703.6,360.7 1704.3,364.1 1705.1,361.1 1705.9,364.6 1706.7,361.6 1707.5,364.3 1708.3,364.8 1709.1,364.2 1709.9,363.9 1710.7,365.8 1711.5,367.8 1712.2,360.2 1713.0,365.5 1713.8,369.1 1714.6,370.2 1715.4,371.6 1716.2,366.2 1717.0,361.4 1717.8,368.8 1718.6,365.6 1719.4,369.4 1720.2,362.1 1720.9,364.0 1721.7,364.1 1722.5,361.6 1723.3,360.9 1724.1,362.5 1724.9,366.5 1725.7,368.4 1726.5,367.7 1727.3,369.5 1728.1,360.7 1728.8,365.7 1729.6,364.9 1730.4,364.8 1731.2,360.3 1732.0,366.7 1732.8,362.4 1733.6,364.6 1734.4,365.8 1735.2,370.2 1736.0,363.2 1736.8,367.3 1737.5,366.6 1738.3,365.0 1739.1,365.3 1739.9,362.8 1740.7,367.2 1741.5,365.2 1742.3,364.9 1743.1,365.5 1743.9,363.9 1744.7,366.3 1745.4,362.6 1746.2,367.4 1747.0,369.2 1747.8,365.8 1748.6,362.7 1749.4,366.9 1750.2,367.2 1751.0,366.5 1751.8,365.2 1752.6,366.1 1753.4,364.9 1754.1,369.9 1754.9,361.9 1755.7,364.2 1756.5,367.8 1757.3,362.2 1758.1,364.5 1758.9,362.0 1759.7,368.6 1760.5,361.5 1761.3,365.5 1762.0,370.8 1762.8,363.8 1763.6,366.4 1764.4,368.2 1765.2,366.2 1766.0,370.5 1766.8,364.2 1767.6,366.2 1768.4,366.3 1769.2,362.1 1769.9,365.6 1770.7,367.3 1771.5,368.0 1772.3,365.8 1773.1,363.0 1773.9,367.1 1774.7,368.2 1775.5,363.4 1776.3,365.5 1777.1,365.7 1777.9,360.5 1778.6,368.7 1779.4,365.2 1780.2,370.1 1781.0,366.4 1781.8,364.2 1782.6,362.9 1783.4,368.8 1784.2,363.6 1785.0,363.7 1785.8,366.0 1786.5,359.5 1787.3,365.7 1788.1,367.8 1788.9,364.6 1789.7,370.3 1790.5,361.8 1791.3,363.2 1792.1,366.6 1792.9,364.1 1793.7,364.3 1794.5,360.8 1795.2,367.2 1796.0,368.9 1796.8,370.7 1797.6,366.4 1798.4,369.6 1799.2,366.1 1800.0,364.6 1800.8,366.8 1801.6,368.0 1802.4,362.7 1803.1,366.2 1803.9,365.1 1804.7,363.3 1805.5,368.9 1806.3,367.9 1807.1,359.4 1807.9,366.0 1808.7,368.2 1809.5,366.3 1810.3,367.1 1811.0,368.7 1811.8,366.7 1812.6,365.7 1813.4,365.7 1814.2,364.3 1815.0,370.0 1815.8,369.4 1816.6,363.7 1817.4,366.8 1818.2,362.6 1819.0,364.9 1819.7,369.2 1820.5,364.3 1821.3,368.2 1822.1,365.0 1822.9,362.6 1823.7,360.4 1824.5,365.8 1825.3,363.9 1826.1,364.9 1826.9,363.7 1827.6,372.0 1828.4,366.6 1829.2,364.9 1830.0,364.5 1830.8,367.5 1831.6,363.6" stroke="#8b2d2d" stroke-width="1.30"/>
<polyline points="1337.6,364.2 1338.4,361.6 1339.2,360.9 1340.0,365.7 1340.8,366.9 1341.6,366.5 1342.3,362.1 1343.1,364.0 1343.9,363.8 1344.7,363.4 1345.5,363.6 1346.3,364.8 1347.1,367.1 1347.9,366.1 1348.7,364.2 1349.5,363.5 1350.2,365.4 1351.0,365.5 1351.8,361.1 1352.6,365.6 1353.4,363.9 1354.2,365.2 1355.0,366.6 1355.8,368.2 1356.6,365.7 1357.4,366.4 1358.2,362.3 1358.9,367.2 1359.7,365.3 1360.5,362.7 1361.3,364.6 1362.1,363.0 1362.9,362.2 1363.7,368.3 1364.5,365.2 1365.3,366.5 1366.1,360.8 1366.8,364.4 1367.6,362.9 1368.4,359.9 1369.2,364.9 1370.0,363.8 1370.8,363.0 1371.6,364.6 1372.4,360.8 1373.2,361.9 1374.0,361.4 1374.7,363.7 1375.5,364.6 1376.3,364.6 1377.1,364.6 1377.9,367.7 1378.7,362.7 1379.5,361.6 1380.3,363.6 1381.1,364.7 1381.9,363.4 1382.7,362.8 1383.4,362.5 1384.2,358.9 1385.0,365.4 1385.8,362.3 1386.6,361.5 1387.4,362.9 1388.2,363.6 1389.0,365.4 1389.8,364.2 1390.6,360.8 1391.3,358.7 1392.1,363.7 1392.9,360.6 1393.7,360.2 1394.5,358.7 1395.3,360.3 1396.1,359.5 1396.9,358.0 1397.7,362.7 1398.5,359.3 1399.3,363.3 1400.0,363.3 1400.8,359.9 1401.6,361.0 1402.4,355.4 1403.2,353.5 1404.0,356.0 1404.8,354.8 1405.6,354.1 1406.4,353.2 1407.2,351.2 1407.9,349.5 1408.7,350.1 1409.5,349.3 1410.3,346.3 1411.1,340.3 1411.9,340.2 1412.7,332.5 1413.5,333.5 1414.3,326.6 1415.1,329.9 1415.8,325.7 1416.6,319.8 1417.4,316.6 1418.2,314.8 1419.0,305.8 1419.8,306.6 1420.6,301.7 1421.4,299.0 1422.2,288.1 1423.0,282.8 1423.8,275.2 1424.5,270.3 1425.3,254.6 1426.1,245.3 1426.9,231.7 1427.7,219.1 1428.5,212.2 1429.3,199.8 1430.1,189.1 1430.9,182.6 1431.7,175.7 1432.4,169.2 1433.2,159.3 1434.0,150.7 1434.8,132.3 1435.6,119.3 1436.4,108.2 1437.2,94.5 1438.0,88.1 1438.8,84.0 1439.6,66.1 1440.4,62.4 1441.1,69.2 1441.9,71.2 1442.7,75.1 1443.5,84.1 1444.3,94.0 1445.1,107.2 1445.9,123.4 1446.7,140.4 1447.5,151.3 1448.3,163.4 1449.0,175.0 1449.8,182.5 1450.6,195.1 1451.4,195.0 1452.2,209.5 1453.0,211.8 1453.8,216.6 1454.6,221.7 1455.4,226.7 1456.2,228.2 1457.0,237.5 1457.7,238.1 1458.5,240.4 1459.3,244.5 1460.1,247.1 1460.9,244.8 1461.7,251.8 1462.5,253.3 1463.3,254.8 1464.1,256.7 1464.9,257.9 1465.6,260.9 1466.4,261.5 1467.2,264.0 1468.0,265.1 1468.8,264.6 1469.6,271.5 1470.4,266.7 1471.2,272.8 1472.0,271.1 1472.8,273.2 1473.5,275.2 1474.3,279.9 1475.1,271.8 1475.9,277.8 1476.7,277.9 1477.5,272.7 1478.3,273.8 1479.1,267.7 1479.9,266.4 1480.7,267.0 1481.5,266.4 1482.2,263.4 1483.0,266.5 1483.8,260.9 1484.6,258.9 1485.4,258.1 1486.2,254.0 1487.0,255.7 1487.8,247.4 1488.6,243.7 1489.4,247.0 1490.1,240.4 1490.9,233.6 1491.7,232.8 1492.5,232.5 1493.3,228.3 1494.1,219.3 1494.9,211.3 1495.7,212.0 1496.5,203.0 1497.3,199.4 1498.1,194.0 1498.8,188.9 1499.6,186.5 1500.4,185.1 1501.2,175.6 1502.0,178.3 1502.8,175.7 1503.6,169.8 1504.4,169.4 1505.2,166.7 1506.0,160.7 1506.7,162.4 1507.5,155.4 1508.3,152.5 1509.1,151.5 1509.9,151.8 1510.7,149.8 1511.5,152.5 1512.3,147.4 1513.1,145.2 1513.9,142.9 1514.6,143.9 1515.4,144.5 1516.2,144.9 1517.0,142.3 1517.8,141.3 1518.6,138.2 1519.4,140.5 1520.2,141.3 1521.0,139.9 1521.8,140.4 1522.6,139.6 1523.3,144.1 1524.1,142.5 1524.9,141.5 1525.7,137.6 1526.5,139.2 1527.3,139.1 1528.1,137.2 1528.9,143.1 1529.7,138.6 1530.5,141.2 1531.2,144.6 1532.0,140.3 1532.8,148.1 1533.6,148.3 1534.4,147.0 1535.2,146.3 1536.0,148.6 1536.8,154.0 1537.6,150.3 1538.4,150.7 1539.2,145.3 1539.9,149.3 1540.7,153.6 1541.5,158.1 1542.3,158.1 1543.1,167.1 1543.9,170.1 1544.7,175.9 1545.5,182.8 1546.3,184.0 1547.1,185.4 1547.8,184.9 1548.6,178.1 1549.4,178.1 1550.2,177.7 1551.0,176.3 1551.8,171.8 1552.6,169.0 1553.4,167.3 1554.2,165.6 1555.0,168.5 1555.8,173.3 1556.5,167.3 1557.3,171.2 1558.1,174.1 1558.9,175.2 1559.7,184.4 1560.5,184.3 1561.3,187.3 1562.1,185.7 1562.9,193.7 1563.7,193.9 1564.4,191.4 1565.2,195.2 1566.0,199.3 1566.8,195.6 1567.6,204.9 1568.4,202.2 1569.2,205.4 1570.0,205.2 1570.8,208.6 1571.6,211.5 1572.3,210.5 1573.1,215.7 1573.9,212.8 1574.7,216.4 1575.5,215.1 1576.3,219.9 1577.1,222.1 1577.9,221.2 1578.7,221.0 1579.5,230.6 1580.3,227.3 1581.0,228.0 1581.8,234.8 1582.6,235.5 1583.4,233.9 1584.2,239.5 1585.0,241.2 1585.8,237.7 1586.6,246.1 1587.4,248.1 1588.2,253.6 1588.9,252.8 1589.7,255.2 1590.5,250.2 1591.3,253.4 1592.1,261.3 1592.9,255.5 1593.7,260.1 1594.5,264.2 1595.3,263.5 1596.1,266.1 1596.9,270.3 1597.6,274.1 1598.4,273.5 1599.2,272.7 1600.0,274.9 1600.8,277.1 1601.6,274.3 1602.4,280.5 1603.2,277.0 1604.0,281.5 1604.8,281.3 1605.5,285.4 1606.3,283.9 1607.1,286.9 1607.9,290.3 1608.7,287.3 1609.5,288.5 1610.3,287.5 1611.1,289.9 1611.9,294.0 1612.7,294.1 1613.4,299.7 1614.2,297.5 1615.0,292.8 1615.8,293.3 1616.6,296.2 1617.4,298.3 1618.2,298.7 1619.0,300.0 1619.8,306.4 1620.6,305.4 1621.4,301.6 1622.1,302.7 1622.9,306.0 1623.7,308.4 1624.5,309.6 1625.3,311.1 1626.1,313.1 1626.9,316.5 1627.7,312.6 1628.5,315.1 1629.3,315.5 1630.0,312.0 1630.8,315.6 1631.6,319.7 1632.4,317.7 1633.2,323.6 1634.0,318.5 1634.8,321.3 1635.6,323.3 1636.4,322.4 1637.2,321.2 1638.0,326.7 1638.7,328.8 1639.5,322.3 1640.3,328.1 1641.1,325.4 1641.9,331.4 1642.7,329.6 1643.5,332.9 1644.3,330.6 1645.1,333.5 1645.9,335.2 1646.6,330.6 1647.4,334.2 1648.2,340.6 1649.0,337.0 1649.8,339.3 1650.6,340.7 1651.4,339.9 1652.2,340.3 1653.0,339.7 1653.8,342.3 1654.6,345.5 1655.3,343.0 1656.1,340.2 1656.9,346.2 1657.7,342.0 1658.5,343.0 1659.3,345.7 1660.1,344.5 1660.9,347.6 1661.7,347.3 1662.5,349.3 1663.2,346.3 1664.0,344.6 1664.8,350.1 1665.6,346.1 1666.4,354.7 1667.2,352.2 1668.0,353.1 1668.8,347.0 1669.6,353.1 1670.4,350.3 1671.1,357.6 1671.9,352.9 1672.7,352.3 1673.5,354.3 1674.3,361.2 1675.1,354.7 1675.9,353.6 1676.7,352.7 1677.5,355.4 1678.3,360.8 1679.1,357.5 1679.8,355.2 1680.6,359.7 1681.4,356.6 1682.2,359.4 1683.0,358.2 1683.8,356.8 1684.6,360.6 1685.4,352.2 1686.2,358.9 1687.0,358.6 1687.7,361.4 1688.5,359.6 1689.3,360.6 1690.1,363.7 1690.9,364.0 1691.7,359.8 1692.5,360.8 1693.3,367.1 1694.1,366.1 1694.9,361.8 1695.7,361.4 1696.4,359.9 1697.2,364.5 1698.0,360.2 1698.8,362.5 1699.6,363.1 1700.4,362.4 1701.2,359.8 1702.0,360.9 1702.8,360.2 1703.6,364.2 1704.3,363.3 1705.1,365.5 1705.9,364.1 1706.7,363.9 1707.5,364.1 1708.3,361.3 1709.1,362.1 1709.9,361.4 1710.7,363.0 1711.5,360.8 1712.2,363.1 1713.0,361.1 1713.8,362.3 1714.6,361.8 1715.4,363.8 1716.2,366.7 1717.0,367.2 1717.8,359.0 1718.6,362.9 1719.4,362.8 1720.2,364.3 1720.9,365.0 1721.7,357.0 1722.5,366.7 1723.3,364.2 1724.1,364.2 1724.9,366.8 1725.7,367.2 1726.5,365.8 1727.3,365.0 1728.1,365.4 1728.8,362.3 1729.6,367.1 1730.4,363.3 1731.2,360.8 1732.0,362.2 1732.8,367.1 1733.6,371.5 1734.4,362.4 1735.2,363.3 1736.0,365.9 1736.8,361.4 1737.5,365.5 1738.3,364.3 1739.1,367.1 1739.9,363.8 1740.7,365.6 1741.5,365.8 1742.3,362.0 1743.1,364.1 1743.9,368.3 1744.7,363.0 1745.4,362.6 1746.2,366.7 1747.0,365.6 1747.8,364.5 1748.6,365.3 1749.4,364.4 1750.2,363.1 1751.0,365.9 1751.8,359.7 1752.6,366.4 1753.4,366.0 1754.1,359.9 1754.9,358.9 1755.7,364.6 1756.5,365.1 1757.3,367.3 1758.1,361.9 1758.9,364.3 1759.7,366.7 1760.5,363.7 1761.3,361.4 1762.0,363.0 1762.8,359.3 1763.6,361.9 1764.4,363.6 1765.2,364.8 1766.0,363.4 1766.8,361.7 1767.6,362.6 1768.4,362.1 1769.2,364.1 1769.9,362.8 1770.7,361.7 1771.5,365.1 1772.3,367.8 1773.1,360.5 1773.9,363.3 1774.7,365.7 1775.5,364.1 1776.3,365.3 1777.1,368.8 1777.9,365.1 1778.6,368.1 1779.4,364.2 1780.2,364.9 1781.0,361.9 1781.8,365.0 1782.6,363.8 1783.4,365.4 1784.2,365.6 1785.0,368.1 1785.8,362.3 1786.5,364.3 1787.3,366.1 1788.1,364.2 1788.9,365.7 1789.7,366.4 1790.5,364.1 1791.3,361.7 1792.1,365.3 1792.9,368.1 1793.7,366.2 1794.5,360.3 1795.2,366.6 1796.0,361.8 1796.8,365.3 1797.6,362.9 1798.4,364.9 1799.2,368.5 1800.0,365.7 1800.8,359.6 1801.6,365.0 1802.4,363.3 1803.1,365.5 1803.9,365.0 1804.7,363.9 1805.5,363.5 1806.3,359.3 1807.1,364.7 1807.9,365.1 1808.7,366.3 1809.5,367.9 1810.3,368.6 1811.0,363.1 1811.8,369.2 1812.6,361.3 1813.4,362.6 1814.2,365.4 1815.0,367.5 1815.8,364.6 1816.6,364.6 1817.4,362.0 1818.2,366.5 1819.0,365.6 1819.7,364.8 1820.5,365.3 1821.3,366.2 1822.1,368.8 1822.9,368.6 1823.7,366.3 1824.5,365.2 1825.3,362.3 1826.1,359.1 1826.9,360.5 1827.6,363.7 1828.4,360.1 1829.2,365.0 1830.0,365.9 1830.8,359.1 1831.6,367.3" stroke="#00ee00" stroke-width="1.30"/>
<polyline points="1337.6,366.0 1338.4,368.9 1339.2,370.8 1340.0,367.3 1340.8,367.5 1341.6,370.7 1342.3,370.0 1343.1,369.8 1343.9,365.5 1344.7,366.8 1345.5,367.3 1346.3,366.7 1347.1,369.0 1347.9,366.7 1348.7,369.3 1349.5,371.0 1350.2,369.5 1351.0,367.3 1351.8,367.6 1352.6,365.2 1353.4,371.8 1354.2,368.3 1355.0,366.8 1355.8,370.1 1356.6,367.1 1357.4,368.7 1358.2,370.4 1358.9,365.0 1359.7,371.0 1360.5,365.2 1361.3,368.6 1362.1,369.9 1362.9,369.7 1363.7,369.3 1364.5,369.6 1365.3,366.8 1366.1,372.0 1366.8,364.4 1367.6,365.4 1368.4,364.0 1369.2,369.7 1370.0,372.9 1370.8,368.8 1371.6,367.7 1372.4,366.5 1373.2,368.5 1374.0,367.4 1374.7,366.8 1375.5,370.8 1376.3,362.7 1377.1,369.7 1377.9,366.4 1378.7,364.3 1379.5,368.8 1380.3,366.9 1381.1,362.9 1381.9,367.5 1382.7,364.2 1383.4,366.0 1384.2,366.1 1385.0,364.9 1385.8,367.1 1386.6,367.0 1387.4,364.1 1388.2,365.7 1389.0,365.0 1389.8,369.0 1390.6,365.8 1391.3,362.7 1392.1,363.3 1392.9,364.3 1393.7,366.1 1394.5,366.1 1395.3,363.2 1396.1,360.6 1396.9,363.6 1397.7,360.2 1398.5,363.6 1399.3,359.5 1400.0,364.3 1400.8,360.9 1401.6,363.4 1402.4,358.6 1403.2,358.1 1404.0,361.1 1404.8,359.8 1405.6,358.3 1406.4,359.9 1407.2,357.5 1407.9,356.2 1408.7,350.9 1409.5,347.9 1410.3,350.0 1411.1,347.0 1411.9,342.8 1412.7,341.5 1413.5,337.9 1414.3,332.3 1415.1,330.9 1415.8,328.8 1416.6,327.1 1417.4,319.1 1418.2,320.8 1419.0,315.5 1419.8,314.5 1420.6,309.2 1421.4,302.9 1422.2,298.7 1423.0,289.5 1423.8,282.2 1424.5,276.2 1425.3,268.0 1426.1,249.0 1426.9,241.7 1427.7,225.8 1428.5,218.8 1429.3,210.9 1430.1,199.0 1430.9,192.9 1431.7,184.5 1432.4,178.7 1433.2,166.3 1434.0,155.5 1434.8,146.9 1435.6,126.7 1436.4,118.6 1437.2,106.2 1438.0,101.5 1438.8,93.6 1439.6,77.1 1440.4,75.1 1441.1,76.1 1441.9,86.7 1442.7,88.0 1443.5,94.8 1444.3,104.2 1445.1,117.2 1445.9,136.4 1446.7,150.3 1447.5,165.0 1448.3,173.8 1449.0,182.0 1449.8,193.9 1450.6,200.9 1451.4,208.5 1452.2,214.1 1453.0,218.0 1453.8,225.4 1454.6,230.1 1455.4,239.1 1456.2,240.4 1457.0,241.0 1457.7,248.1 1458.5,249.9 1459.3,253.8 1460.1,250.7 1460.9,257.3 1461.7,260.2 1462.5,259.0 1463.3,260.0 1464.1,263.5 1464.9,264.5 1465.6,268.5 1466.4,271.4 1467.2,274.1 1468.0,276.2 1468.8,278.1 1469.6,277.3 1470.4,279.7 1471.2,280.3 1472.0,280.0 1472.8,282.5 1473.5,286.5 1474.3,285.8 1475.1,287.1 1475.9,289.4 1476.7,284.5 1477.5,287.0 1478.3,286.0 1479.1,284.0 1479.9,277.5 1480.7,278.7 1481.5,274.0 1482.2,275.0 1483.0,274.0 1483.8,269.7 1484.6,267.7 1485.4,266.8 1486.2,267.3 1487.0,263.6 1487.8,262.9 1488.6,258.1 1489.4,254.5 1490.1,248.2 1490.9,245.3 1491.7,243.7 1492.5,239.4 1493.3,237.4 1494.1,227.0 1494.9,224.6 1495.7,216.0 1496.5,215.7 1497.3,210.4 1498.1,204.8 1498.8,203.5 1499.6,200.2 1500.4,200.5 1501.2,193.3 1502.0,192.7 1502.8,188.5 1503.6,188.4 1504.4,189.3 1505.2,180.8 1506.0,176.2 1506.7,179.2 1507.5,175.9 1508.3,172.2 1509.1,170.4 1509.9,172.2 1510.7,162.4 1511.5,162.8 1512.3,165.5 1513.1,167.4 1513.9,161.2 1514.6,156.6 1515.4,158.8 1516.2,157.4 1517.0,161.8 1517.8,158.4 1518.6,162.1 1519.4,153.2 1520.2,156.1 1521.0,162.2 1521.8,161.3 1522.6,155.4 1523.3,156.0 1524.1,157.0 1524.9,154.7 1525.7,151.4 1526.5,155.6 1527.3,161.3 1528.1,157.8 1528.9,161.2 1529.7,160.6 1530.5,158.6 1531.2,160.6 1532.0,163.6 1532.8,161.9 1533.6,164.7 1534.4,162.3 1535.2,164.9 1536.0,164.1 1536.8,166.4 1537.6,164.7 1538.4,167.6 1539.2,168.2 1539.9,170.6 1540.7,170.1 1541.5,176.2 1542.3,168.7 1543.1,181.9 1543.9,185.9 1544.7,193.1 1545.5,197.8 1546.3,198.3 1547.1,200.5 1547.8,199.3 1548.6,199.9 1549.4,196.7 1550.2,195.0 1551.0,185.4 1551.8,190.9 1552.6,188.5 1553.4,184.5 1554.2,181.3 1555.0,189.3 1555.8,189.9 1556.5,187.3 1557.3,188.5 1558.1,194.7 1558.9,197.8 1559.7,198.1 1560.5,196.4 1561.3,200.7 1562.1,201.2 1562.9,205.5 1563.7,207.3 1564.4,207.5 1565.2,210.9 1566.0,211.6 1566.8,216.0 1567.6,216.7 1568.4,215.6 1569.2,218.8 1570.0,221.5 1570.8,219.6 1571.6,221.3 1572.3,224.0 1573.1,227.3 1573.9,224.8 1574.7,222.4 1575.5,231.9 1576.3,235.1 1577.1,234.8 1577.9,236.8 1578.7,239.2 1579.5,240.6 1580.3,237.5 1581.0,239.2 1581.8,239.6 1582.6,243.2 1583.4,248.1 1584.2,246.3 1585.0,252.3 1585.8,253.7 1586.6,257.7 1587.4,253.9 1588.2,256.4 1588.9,261.9 1589.7,263.5 1590.5,264.5 1591.3,266.0 1592.1,266.3 1592.9,269.9 1593.7,270.8 1594.5,277.0 1595.3,275.7 1596.1,280.8 1596.9,273.5 1597.6,275.8 1598.4,278.8 1599.2,279.1 1600.0,278.2 1600.8,282.0 1601.6,289.4 1602.4,287.2 1603.2,293.6 1604.0,291.0 1604.8,293.1 1605.5,291.3 1606.3,291.4 1607.1,295.6 1607.9,295.1 1608.7,294.8 1609.5,296.9 1610.3,298.0 1611.1,304.3 1611.9,300.6 1612.7,298.6 1613.4,300.9 1614.2,306.1 1615.0,304.2 1615.8,303.9 1616.6,307.9 1617.4,304.9 1618.2,309.5 1619.0,309.3 1619.8,309.8 1620.6,305.2 1621.4,312.3 1622.1,313.9 1622.9,311.8 1623.7,315.7 1624.5,315.1 1625.3,322.0 1626.1,316.8 1626.9,318.6 1627.7,322.7 1628.5,317.2 1629.3,322.1 1630.0,322.9 1630.8,326.6 1631.6,328.3 1632.4,326.6 1633.2,329.8 1634.0,325.9 1634.8,325.9 1635.6,330.4 1636.4,333.6 1637.2,331.5 1638.0,334.0 1638.7,331.8 1639.5,332.6 1640.3,334.8 1641.1,334.4 1641.9,332.8 1642.7,331.9 1643.5,338.0 1644.3,335.7 1645.1,338.7 1645.9,341.4 1646.6,336.5 1647.4,339.3 1648.2,340.6 1649.0,340.7 1649.8,342.6 1650.6,345.4 1651.4,339.2 1652.2,341.9 1653.0,344.1 1653.8,343.0 1654.6,342.8 1655.3,347.0 1656.1,345.6 1656.9,348.4 1657.7,346.6 1658.5,349.3 1659.3,343.4 1660.1,350.6 1660.9,349.0 1661.7,349.7 1662.5,352.1 1663.2,349.5 1664.0,352.5 1664.8,353.8 1665.6,353.3 1666.4,355.7 1667.2,351.5 1668.0,353.3 1668.8,353.0 1669.6,359.1 1670.4,355.7 1671.1,358.7 1671.9,357.1 1672.7,354.6 1673.5,357.5 1674.3,359.0 1675.1,356.3 1675.9,357.0 1676.7,355.3 1677.5,364.7 1678.3,359.7 1679.1,361.9 1679.8,363.3 1680.6,361.2 1681.4,364.5 1682.2,367.4 1683.0,364.4 1683.8,363.0 1684.6,358.0 1685.4,364.5 1686.2,365.7 1687.0,367.9 1687.7,364.1 1688.5,364.0 1689.3,363.2 1690.1,367.2 1690.9,365.8 1691.7,369.5 1692.5,363.8 1693.3,368.2 1694.1,371.1 1694.9,361.8 1695.7,363.6 1696.4,364.1 1697.2,364.2 1698.0,367.7 1698.8,362.7 1699.6,368.0 1700.4,360.9 1701.2,365.1 1702.0,370.2 1702.8,363.8 1703.6,361.2 1704.3,366.7 1705.1,363.6 1705.9,366.8 1706.7,367.8 1707.5,372.6 1708.3,363.5 1709.1,367.6 1709.9,365.7 1710.7,369.4 1711.5,369.0 1712.2,364.1 1713.0,367.8 1713.8,367.9 1714.6,370.0 1715.4,366.5 1716.2,365.2 1717.0,368.2 1717.8,367.6 1718.6,370.1 1719.4,363.8 1720.2,368.7 1720.9,367.6 1721.7,363.2 1722.5,367.9 1723.3,371.1 1724.1,369.6 1724.9,368.3 1725.7,363.1 1726.5,367.0 1727.3,368.1 1728.1,365.5 1728.8,364.4 1729.6,369.4 1730.4,364.2 1731.2,365.6 1732.0,366.6 1732.8,373.4 1733.6,367.3 1734.4,364.4 1735.2,368.4 1736.0,362.2 1736.8,367.6 1737.5,370.3 1738.3,366.4 1739.1,367.1 1739.9,365.9 1740.7,368.4 1741.5,364.7 1742.3,369.3 1743.1,367.6 1743.9,371.0 1744.7,369.9 1745.4,367.5 1746.2,369.6 1747.0,369.1 1747.8,368.5 1748.6,367.3 1749.4,366.1 1750.2,366.1 1751.0,365.5 1751.8,367.5 1752.6,369.3 1753.4,371.8 1754.1,368.8 1754.9,369.9 1755.7,372.4 1756.5,363.9 1757.3,372.4 1758.1,367.1 1758.9,366.6 1759.7,368.5 1760.5,361.6 1761.3,367.9 1762.0,369.8 1762.8,363.7 1763.6,369.9 1764.4,371.5 1765.2,370.4 1766.0,369.5 1766.8,367.8 1767.6,367.1 1768.4,371.7 1769.2,367.1 1769.9,362.5 1770.7,369.7 1771.5,368.3 1772.3,366.3 1773.1,365.0 1773.9,369.6 1774.7,370.3 1775.5,370.4 1776.3,365.3 1777.1,365.8 1777.9,373.3 1778.6,373.2 1779.4,371.0 1780.2,371.6 1781.0,367.0 1781.8,367.4 1782.6,363.2 1783.4,366.0 1784.2,367.7 1785.0,365.1 1785.8,370.1 1786.5,371.4 1787.3,367.9 1788.1,365.7 1788.9,371.9 1789.7,365.8 1790.5,365.8 1791.3,369.2 1792.1,367.5 1792.9,368.6 1793.7,367.8 1794.5,366.0 1795.2,369.9 1796.0,365.4 1796.8,365.8 1797.6,365.7 1798.4,372.8 1799.2,372.5 1800.0,366.3 1800.8,369.4 1801.6,369.7 1802.4,369.8 1803.1,371.3 1803.9,368.7 1804.7,369.7 1805.5,369.6 1806.3,366.8 1807.1,370.9 1807.9,365.2 1808.7,373.4 1809.5,361.8 1810.3,371.3 1811.0,366.5 1811.8,365.7 1812.6,368.0 1813.4,366.1 1814.2,368.2 1815.0,372.3 1815.8,367.1 1816.6,365.1 1817.4,369.3 1818.2,372.1 1819.0,369.4 1819.7,367.2 1820.5,367.2 1821.3,365.2 1822.1,366.6 1822.9,366.7 1823.7,372.9 1824.5,362.5 1825.3,367.8 1826.1,365.8 1826.9,368.8 1827.6,368.3 1828.4,367.8 1829.2,364.1 1830.0,364.2 1830.8,366.4 1831.6,363.1" stroke="#ffff00" stroke-width="1.30"/>
<polyline points="1337.6,363.0 1338.4,360.7 1339.2,358.9 1340.0,368.2 1340.8,357.8 1341.6,362.3 1342.3,363.9 1343.1,367.8 1343.9,363.8 1344.7,368.8 1345.5,362.9 1346.3,363.5 1347.1,358.6 1347.9,363.9 1348.7,360.4 1349.5,360.2 1350.2,357.9 1351.0,363.6 1351.8,361.1 1352.6,366.7 1353.4,365.7 1354.2,363.6 1355.0,363.0 1355.8,365.9 1356.6,363.9 1357.4,361.2 1358.2,364.0 1358.9,363.3 1359.7,365.1 1360.5,359.4 1361.3,358.4 1362.1,362.3 1362.9,363.1 1363.7,358.6 1364.5,361.5 1365.3,364.4 1366.1,366.0 1366.8,364.1 1367.6,357.2 1368.4,364.1 1369.2,355.4 1370.0,362.5 1370.8,363.0 1371.6,359.2 1372.4,363.1 1373.2,361.5 1374.0,365.0 1374.7,365.4 1375.5,364.1 1376.3,361.7 1377.1,363.9 1377.9,367.1 1378.7,361.0 1379.5,362.5 1380.3,362.8 1381.1,363.6 1381.9,367.6 1382.7,358.0 1383.4,363.1 1384.2,360.6 1385.0,358.4 1385.8,359.0 1386.6,361.2 1387.4,361.7 1388.2,360.8 1389.0,359.2 1389.8,359.9 1390.6,362.2 1391.3,359.8 1392.1,359.8 1392.9,358.7 1393.7,359.7 1394.5,356.5 1395.3,359.1 1396.1,357.1 1396.9,358.9 1397.7,360.0 1398.5,360.6 1399.3,358.2 1400.0,355.9 1400.8,353.6 1401.6,356.4 1402.4,356.8 1403.2,356.2 1404.0,351.0 1404.8,353.2 1405.6,353.9 1406.4,349.9 1407.2,354.0 1407.9,349.3 1408.7,348.5 1409.5,347.1 1410.3,347.5 1411.1,339.5 1411.9,334.9 1412.7,339.4 1413.5,332.8 1414.3,328.7 1415.1,321.9 1415.8,325.8 1416.6,324.2 1417.4,318.9 1418.2,310.7 1419.0,312.1 1419.8,307.8 1420.6,299.9 1421.4,305.1 1422.2,300.0 1423.0,285.6 1423.8,277.7 1424.5,273.6 1425.3,258.7 1426.1,249.2 1426.9,237.9 1427.7,229.7 1428.5,218.6 1429.3,210.1 1430.1,199.2 1430.9,192.1 1431.7,179.7 1432.4,174.5 1433.2,171.5 1434.0,157.1 1434.8,142.4 1435.6,131.0 1436.4,115.5 1437.2,108.1 1438.0,97.2 1438.8,92.9 1439.6,82.0 1440.4,83.8 1441.1,77.6 1441.9,88.1 1442.7,95.5 1443.5,96.0 1444.3,106.1 1445.1,118.6 1445.9,133.7 1446.7,150.3 1447.5,164.4 1448.3,172.1 1449.0,181.5 1449.8,190.1 1450.6,194.4 1451.4,208.3 1452.2,212.7 1453.0,217.5 1453.8,225.6 1454.6,232.5 1455.4,235.4 1456.2,235.2 1457.0,241.9 1457.7,242.7 1458.5,248.9 1459.3,248.6 1460.1,253.8 1460.9,256.4 1461.7,256.3 1462.5,258.5 1463.3,257.1 1464.1,266.9 1464.9,263.7 1465.6,263.1 1466.4,265.8 1467.2,272.1 1468.0,274.7 1468.8,275.9 1469.6,275.4 1470.4,277.0 1471.2,277.6 1472.0,277.9 1472.8,283.0 1473.5,284.0 1474.3,284.9 1475.1,285.7 1475.9,282.9 1476.7,281.9 1477.5,275.8 1478.3,279.6 1479.1,279.4 1479.9,274.3 1480.7,278.0 1481.5,273.8 1482.2,270.6 1483.0,269.4 1483.8,268.5 1484.6,268.5 1485.4,268.7 1486.2,263.9 1487.0,262.7 1487.8,257.2 1488.6,256.7 1489.4,252.3 1490.1,254.9 1490.9,245.4 1491.7,246.7 1492.5,245.1 1493.3,240.9 1494.1,234.9 1494.9,225.4 1495.7,220.7 1496.5,219.8 1497.3,211.6 1498.1,208.2 1498.8,208.6 1499.6,204.2 1500.4,204.1 1501.2,198.7 1502.0,200.6 1502.8,193.6 1503.6,191.4 1504.4,188.4 1505.2,185.5 1506.0,177.7 1506.7,178.6 1507.5,174.6 1508.3,171.4 1509.1,169.4 1509.9,168.4 1510.7,170.0 1511.5,170.0 1512.3,168.0 1513.1,166.3 1513.9,164.2 1514.6,163.8 1515.4,160.2 1516.2,162.6 1517.0,157.3 1517.8,158.6 1518.6,161.9 1519.4,158.1 1520.2,166.9 1521.0,156.0 1521.8,158.1 1522.6,157.8 1523.3,162.8 1524.1,152.3 1524.9,159.1 1525.7,158.9 1526.5,156.0 1527.3,159.7 1528.1,161.8 1528.9,158.6 1529.7,163.4 1530.5,159.8 1531.2,162.0 1532.0,160.4 1532.8,167.0 1533.6,161.7 1534.4,164.9 1535.2,161.5 1536.0,168.7 1536.8,163.1 1537.6,166.7 1538.4,167.2 1539.2,171.9 1539.9,169.7 1540.7,170.6 1541.5,175.8 1542.3,179.7 1543.1,183.6 1543.9,183.8 1544.7,192.6 1545.5,195.3 1546.3,199.4 1547.1,199.9 1547.8,198.6 1548.6,198.5 1549.4,192.5 1550.2,192.8 1551.0,190.4 1551.8,192.3 1552.6,186.5 1553.4,187.9 1554.2,187.3 1555.0,184.0 1555.8,190.2 1556.5,189.3 1557.3,188.9 1558.1,189.5 1558.9,195.7 1559.7,195.9 1560.5,198.3 1561.3,204.2 1562.1,208.9 1562.9,210.6 1563.7,206.3 1564.4,209.2 1565.2,214.4 1566.0,214.2 1566.8,215.1 1567.6,216.4 1568.4,217.1 1569.2,213.0 1570.0,221.8 1570.8,220.9 1571.6,224.5 1572.3,225.6 1573.1,227.6 1573.9,227.4 1574.7,229.6 1575.5,228.8 1576.3,230.6 1577.1,234.8 1577.9,229.4 1578.7,238.6 1579.5,236.4 1580.3,233.6 1581.0,242.4 1581.8,239.2 1582.6,240.8 1583.4,245.3 1584.2,252.6 1585.0,246.4 1585.8,251.6 1586.6,255.1 1587.4,252.5 1588.2,259.4 1588.9,256.9 1589.7,262.7 1590.5,261.9 1591.3,267.7 1592.1,267.7 1592.9,270.7 1593.7,271.9 1594.5,271.2 1595.3,273.6 1596.1,274.2 1596.9,272.8 1597.6,277.6 1598.4,283.2 1599.2,280.5 1600.0,280.8 1600.8,279.7 1601.6,280.9 1602.4,282.2 1603.2,286.2 1604.0,285.2 1604.8,291.4 1605.5,285.7 1606.3,288.9 1607.1,289.7 1607.9,292.9 1608.7,292.9 1609.5,295.7 1610.3,293.6 1611.1,299.2 1611.9,294.5 1612.7,296.6 1613.4,293.9 1614.2,299.9 1615.0,301.0 1615.8,301.3 1616.6,302.6 1617.4,303.9 1618.2,307.4 1619.0,308.3 1619.8,308.0 1620.6,308.3 1621.4,311.5 1622.1,312.4 1622.9,311.2 1623.7,309.6 1624.5,312.9 1625.3,311.7 1626.1,311.9 1626.9,313.4 1627.7,317.3 1628.5,318.2 1629.3,322.7 1630.0,320.7 1630.8,318.8 1631.6,323.6 1632.4,318.4 1633.2,319.1 1634.0,324.4 1634.8,322.1 1635.6,328.7 1636.4,328.7 1637.2,327.8 1638.0,327.7 1638.7,328.9 1639.5,331.4 1640.3,325.2 1641.1,330.0 1641.9,330.8 1642.7,330.5 1643.5,332.4 1644.3,334.1 1645.1,335.6 1645.9,339.0 1646.6,331.9 1647.4,338.5 1648.2,341.0 1649.0,339.5 1649.8,342.1 1650.6,333.8 1651.4,338.5 1652.2,336.5 1653.0,337.0 1653.8,339.7 1654.6,340.3 1655.3,344.1 1656.1,343.0 1656.9,344.9 1657.7,343.8 1658.5,346.2 1659.3,341.8 1660.1,343.6 1660.9,346.2 1661.7,350.6 1662.5,345.2 1663.2,345.2 1664.0,348.1 1664.8,351.5 1665.6,347.8 1666.4,346.8 1667.2,354.6 1668.0,349.0 1668.8,355.3 1669.6,351.1 1670.4,347.5 1671.1,352.0 1671.9,351.5 1672.7,353.9 1673.5,353.6 1674.3,348.2 1675.1,351.1 1675.9,355.5 1676.7,356.1 1677.5,355.5 1678.3,350.4 1679.1,355.6 1679.8,353.7 1680.6,357.6 1681.4,360.1 1682.2,354.0 1683.0,357.6 1683.8,359.6 1684.6,359.5 1685.4,359.6 1686.2,359.6 1687.0,362.1 1687.7,355.5 1688.5,357.7 1689.3,356.4 1690.1,359.8 1690.9,358.3 1691.7,358.9 1692.5,356.5 1693.3,357.5 1694.1,358.8 1694.9,361.4 1695.7,362.9 1696.4,362.1 1697.2,361.8 1698.0,361.7 1698.8,363.5 1699.6,356.5 1700.4,360.0 1701.2,365.8 1702.0,363.6 1702.8,364.3 1703.6,360.5 1704.3,358.6 1705.1,363.7 1705.9,359.8 1706.7,362.1 1707.5,358.7 1708.3,358.3 1709.1,360.9 1709.9,360.0 1710.7,361.8 1711.5,362.8 1712.2,364.8 1713.0,361.2 1713.8,362.2 1714.6,363.0 1715.4,362.3 1716.2,362.6 1717.0,364.7 1717.8,363.5 1718.6,359.5 1719.4,362.9 1720.2,358.9 1720.9,365.2 1721.7,365.7 1722.5,362.1 1723.3,360.6 1724.1,364.1 1724.9,361.0 1725.7,360.3 1726.5,360.0 1727.3,362.9 1728.1,362.8 1728.8,366.7 1729.6,362.6 1730.4,362.0 1731.2,359.3 1732.0,365.9 1732.8,364.9 1733.6,365.3 1734.4,360.6 1735.2,369.1 1736.0,365.5 1736.8,357.9 1737.5,361.3 1738.3,366.2 1739.1,363.1 1739.9,360.9 1740.7,361.6 1741.5,363.5 1742.3,365.0 1743.1,361.0 1743.9,363.1 1744.7,361.1 1745.4,362.1 1746.2,364.2 1747.0,359.5 1747.8,364.3 1748.6,362.0 1749.4,364.6 1750.2,363.6 1751.0,363.7 1751.8,364.7 1752.6,362.5 1753.4,359.9 1754.1,358.5 1754.9,359.6 1755.7,363.5 1756.5,359.5 1757.3,362.0 1758.1,358.7 1758.9,366.1 1759.7,359.5 1760.5,364.5 1761.3,360.2 1762.0,364.2 1762.8,360.8 1763.6,363.8 1764.4,367.7 1765.2,365.4 1766.0,363.7 1766.8,363.0 1767.6,368.5 1768.4,366.0 1769.2,364.9 1769.9,363.6 1770.7,362.5 1771.5,365.1 1772.3,366.8 1773.1,362.3 1773.9,363.9 1774.7,360.9 1775.5,364.4 1776.3,361.5 1777.1,365.2 1777.9,362.4 1778.6,362.9 1779.4,362.0 1780.2,365.3 1781.0,363.4 1781.8,365.1 1782.6,363.5 1783.4,361.6 1784.2,355.8 1785.0,363.0 1785.8,361.3 1786.5,362.8 1787.3,360.3 1788.1,361.9 1788.9,360.5 1789.7,362.2 1790.5,357.2 1791.3,359.7 1792.1,367.2 1792.9,362.3 1793.7,362.9 1794.5,368.4 1795.2,365.2 1796.0,364.2 1796.8,364.8 1797.6,362.7 1798.4,367.4 1799.2,361.2 1800.0,361.2 1800.8,362.2 1801.6,363.9 1802.4,363.0 1803.1,364.2 1803.9,360.3 1804.7,361.8 1805.5,358.2 1806.3,364.0 1807.1,359.5 1807.9,364.5 1808.7,363.5 1809.5,365.6 1810.3,361.8 1811.0,363.2 1811.8,361.5 1812.6,359.4 1813.4,363.2 1814.2,362.1 1815.0,360.9 1815.8,363.2 1816.6,364.4 1817.4,362.2 1818.2,361.8 1819.0,361.2 1819.7,361.0 1820.5,364.7 1821.3,362.0 1822.1,360.1 1822.9,364.2 1823.7,362.2 1824.5,364.6 1825.3,362.6 1826.1,358.8 1826.9,362.6 1827.6,365.4 1828.4,362.2 1829.2,362.5 1830.0,360.3 1830.8,366.4 1831.6,365.3" stroke="#ff3030" stroke-width="1.30"/>
<polyline points="1337.6,367.7 1338.4,369.3 1339.2,367.3 1340.0,363.8 1340.8,364.3 1341.6,363.5 1342.3,364.3 1343.1,370.7 1343.9,365.0 1344.7,370.2 1345.5,366.9 1346.3,366.7 1347.1,367.0 1347.9,364.5 1348.7,367.7 1349.5,361.5 1350.2,364.2 1351.0,362.8 1351.8,363.8 1352.6,363.5 1353.4,365.7 1354.2,360.9 1355.0,368.2 1355.8,364.5 1356.6,365.6 1357.4,366.1 1358.2,364.8 1358.9,367.4 1359.7,363.4 1360.5,363.6 1361.3,365.3 1362.1,363.7 1362.9,368.0 1363.7,369.9 1364.5,366.9 1365.3,366.0 1366.1,359.4 1366.8,366.0 1367.6,362.9 1368.4,363.3 1369.2,360.2 1370.0,365.0 1370.8,363.7 1371.6,365.7 1372.4,367.3 1373.2,367.7 1374.0,367.1 1374.7,361.7 1375.5,364.5 1376.3,365.5 1377.1,365.1 1377.9,366.4 1378.7,365.1 1379.5,365.1 1380.3,363.4 1381.1,362.7 1381.9,368.9 1382.7,364.3 1383.4,361.5 1384.2,367.3 1385.0,365.4 1385.8,364.3 1386.6,362.0 1387.4,363.2 1388.2,365.1 1389.0,363.3 1389.8,361.9 1390.6,363.3 1391.3,359.6 1392.1,362.9 1392.9,366.3 1393.7,365.4 1394.5,363.6 1395.3,363.6 1396.1,361.3 1396.9,361.7 1397.7,358.2 1398.5,360.1 1399.3,358.1 1400.0,363.1 1400.8,361.9 1401.6,358.8 1402.4,359.7 1403.2,358.0 1404.0,358.3 1404.8,359.9 1405.6,353.6 1406.4,354.3 1407.2,360.0 1407.9,356.9 1408.7,354.4 1409.5,351.6 1410.3,351.8 1411.1,352.9 1411.9,345.4 1412.7,345.6 1413.5,339.9 1414.3,339.9 1415.1,336.1 1415.8,334.4 1416.6,332.1 1417.4,333.1 1418.2,327.0 1419.0,326.3 1419.8,327.0 1420.6,321.8 1421.4,318.1 1422.2,312.2 1423.0,306.5 1423.8,304.5 1424.5,292.9 1425.3,287.1 1426.1,281.3 1426.9,268.4 1427.7,264.0 1428.5,257.2 1429.3,245.2 1430.1,238.3 1430.9,236.1 1431.7,226.1 1432.4,220.3 1433.2,217.5 1434.0,204.2 1434.8,199.8 1435.6,188.2 1436.4,184.2 1437.2,169.1 1438.0,165.2 1438.8,156.2 1439.6,156.4 1440.4,146.7 1441.1,146.3 1441.9,148.0 1442.7,164.2 1443.5,161.1 1444.3,168.0 1445.1,186.2 1445.9,192.9 1446.7,203.1 1447.5,208.6 1448.3,222.1 1449.0,227.0 1449.8,234.5 1450.6,239.6 1451.4,246.8 1452.2,248.7 1453.0,253.1 1453.8,263.0 1454.6,260.8 1455.4,268.7 1456.2,270.5 1457.0,269.7 1457.7,274.5 1458.5,275.5 1459.3,277.0 1460.1,279.3 1460.9,283.7 1461.7,286.4 1462.5,284.0 1463.3,285.4 1464.1,288.0 1464.9,291.0 1465.6,290.0 1466.4,293.7 1467.2,298.5 1468.0,295.9 1468.8,296.7 1469.6,297.1 1470.4,302.1 1471.2,302.6 1472.0,300.7 1472.8,303.2 1473.5,303.0 1474.3,301.1 1475.1,302.8 1475.9,299.6 1476.7,303.2 1477.5,299.3 1478.3,300.0 1479.1,295.3 1479.9,300.1 1480.7,299.1 1481.5,294.6 1482.2,297.8 1483.0,296.3 1483.8,293.2 1484.6,291.4 1485.4,294.2 1486.2,288.5 1487.0,288.2 1487.8,285.7 1488.6,283.3 1489.4,282.1 1490.1,276.9 1490.9,276.0 1491.7,275.1 1492.5,271.8 1493.3,266.7 1494.1,264.1 1494.9,259.0 1495.7,258.0 1496.5,253.0 1497.3,244.6 1498.1,246.6 1498.8,239.9 1499.6,239.7 1500.4,240.7 1501.2,241.1 1502.0,234.3 1502.8,235.6 1503.6,233.7 1504.4,234.1 1505.2,224.8 1506.0,225.2 1506.7,223.2 1507.5,220.4 1508.3,219.3 1509.1,218.3 1509.9,216.1 1510.7,216.9 1511.5,221.4 1512.3,212.6 1513.1,212.5 1513.9,212.8 1514.6,208.6 1515.4,215.3 1516.2,218.4 1517.0,207.4 1517.8,209.6 1518.6,214.1 1519.4,210.8 1520.2,208.0 1521.0,212.1 1521.8,207.6 1522.6,203.7 1523.3,205.3 1524.1,208.6 1524.9,207.7 1525.7,210.8 1526.5,208.4 1527.3,209.8 1528.1,211.8 1528.9,213.1 1529.7,205.7 1530.5,210.7 1531.2,213.9 1532.0,213.1 1532.8,209.1 1533.6,209.4 1534.4,215.4 1535.2,214.1 1536.0,212.9 1536.8,216.4 1537.6,218.9 1538.4,219.1 1539.2,217.3 1539.9,220.0 1540.7,222.2 1541.5,220.7 1542.3,220.3 1543.1,224.7 1543.9,231.3 1544.7,230.4 1545.5,240.4 1546.3,240.6 1547.1,243.7 1547.8,237.8 1548.6,238.8 1549.4,240.9 1550.2,237.1 1551.0,229.1 1551.8,230.1 1552.6,230.3 1553.4,227.7 1554.2,233.5 1555.0,232.0 1555.8,233.9 1556.5,233.7 1557.3,233.9 1558.1,233.2 1558.9,233.7 1559.7,235.5 1560.5,233.2 1561.3,242.6 1562.1,243.2 1562.9,243.6 1563.7,248.3 1564.4,248.3 1565.2,247.9 1566.0,252.2 1566.8,250.1 1567.6,249.4 1568.4,256.1 1569.2,260.0 1570.0,255.4 1570.8,259.2 1571.6,257.3 1572.3,259.9 1573.1,259.1 1573.9,258.2 1574.7,260.1 1575.5,264.0 1576.3,267.1 1577.1,271.4 1577.9,271.8 1578.7,269.7 1579.5,268.8 1580.3,271.9 1581.0,273.1 1581.8,276.8 1582.6,278.4 1583.4,280.0 1584.2,275.8 1585.0,283.5 1585.8,278.6 1586.6,283.9 1587.4,281.9 1588.2,284.1 1588.9,284.3 1589.7,284.7 1590.5,290.9 1591.3,292.7 1592.1,292.8 1592.9,294.9 1593.7,292.8 1594.5,295.8 1595.3,296.7 1596.1,296.8 1596.9,300.0 1597.6,297.3 1598.4,305.3 1599.2,301.3 1600.0,301.6 1600.8,305.5 1601.6,306.3 1602.4,303.3 1603.2,307.1 1604.0,311.8 1604.8,311.3 1605.5,306.4 1606.3,311.8 1607.1,307.3 1607.9,307.9 1608.7,312.5 1609.5,311.4 1610.3,315.5 1611.1,315.2 1611.9,316.7 1612.7,314.3 1613.4,319.6 1614.2,317.5 1615.0,317.8 1615.8,317.5 1616.6,324.5 1617.4,324.5 1618.2,323.0 1619.0,322.2 1619.8,322.1 1620.6,322.7 1621.4,319.1 1622.1,323.1 1622.9,324.0 1623.7,327.3 1624.5,325.0 1625.3,326.0 1626.1,326.8 1626.9,329.4 1627.7,328.3 1628.5,326.9 1629.3,333.2 1630.0,337.2 1630.8,330.7 1631.6,331.6 1632.4,334.6 1633.2,335.8 1634.0,328.8 1634.8,337.2 1635.6,339.7 1636.4,338.5 1637.2,336.8 1638.0,340.1 1638.7,340.2 1639.5,339.1 1640.3,341.5 1641.1,340.7 1641.9,341.6 1642.7,344.6 1643.5,342.5 1644.3,345.9 1645.1,341.4 1645.9,346.4 1646.6,345.3 1647.4,349.6 1648.2,346.8 1649.0,349.2 1649.8,343.1 1650.6,347.4 1651.4,346.4 1652.2,352.3 1653.0,351.5 1653.8,349.4 1654.6,352.7 1655.3,347.1 1656.1,351.2 1656.9,350.3 1657.7,350.4 1658.5,351.9 1659.3,350.0 1660.1,353.9 1660.9,351.8 1661.7,350.2 1662.5,352.9 1663.2,353.5 1664.0,355.0 1664.8,354.4 1665.6,353.3 1666.4,355.9 1667.2,359.7 1668.0,355.7 1668.8,356.8 1669.6,355.7 1670.4,357.1 1671.1,353.7 1671.9,360.7 1672.7,360.5 1673.5,357.0 1674.3,361.3 1675.1,358.4 1675.9,359.5 1676.7,364.4 1677.5,358.4 1678.3,357.0 1679.1,360.0 1679.8,364.1 1680.6,359.1 1681.4,363.6 1682.2,361.6 1683.0,360.5 1683.8,363.5 1684.6,365.8 1685.4,362.3 1686.2,362.1 1687.0,364.2 1687.7,364.2 1688.5,360.7 1689.3,362.8 1690.1,363.8 1690.9,364.2 1691.7,362.5 1692.5,362.8 1693.3,363.5 1694.1,366.5 1694.9,364.2 1695.7,364.9 1696.4,363.4 1697.2,360.9 1698.0,361.5 1698.8,362.3 1699.6,363.7 1700.4,364.8 1701.2,363.3 1702.0,365.3 1702.8,365.1 1703.6,366.3 1704.3,364.5 1705.1,364.6 1705.9,360.2 1706.7,363.3 1707.5,365.5 1708.3,362.9 1709.1,365.9 1709.9,362.4 1710.7,363.0 1711.5,358.1 1712.2,367.5 1713.0,365.2 1713.8,365.3 1714.6,364.4 1715.4,363.4 1716.2,367.4 1717.0,366.9 1717.8,364.5 1718.6,362.9 1719.4,367.9 1720.2,368.9 1720.9,362.6 1721.7,363.3 1722.5,362.8 1723.3,367.6 1724.1,365.9 1724.9,364.9 1725.7,364.4 1726.5,365.7 1727.3,365.6 1728.1,363.1 1728.8,366.5 1729.6,366.8 1730.4,366.6 1731.2,366.8 1732.0,365.3 1732.8,366.1 1733.6,366.7 1734.4,362.4 1735.2,365.0 1736.0,366.5 1736.8,362.8 1737.5,367.0 1738.3,365.7 1739.1,366.0 1739.9,367.1 1740.7,366.7 1741.5,365.6 1742.3,369.1 1743.1,366.7 1743.9,365.2 1744.7,365.2 1745.4,365.1 1746.2,360.4 1747.0,364.3 1747.8,366.2 1748.6,366.1 1749.4,365.8 1750.2,364.8 1751.0,366.5 1751.8,362.4 1752.6,368.4 1753.4,364.4 1754.1,364.7 1754.9,368.5 1755.7,364.4 1756.5,364.6 1757.3,367.3 1758.1,360.5 1758.9,364.2 1759.7,366.6 1760.5,366.9 1761.3,367.6 1762.0,365.2 1762.8,365.7 1763.6,369.1 1764.4,368.2 1765.2,367.5 1766.0,366.8 1766.8,366.7 1767.6,367.4 1768.4,364.4 1769.2,363.7 1769.9,365.7 1770.7,370.9 1771.5,366.2 1772.3,364.6 1773.1,366.0 1773.9,365.2 1774.7,365.6 1775.5,369.3 1776.3,371.7 1777.1,364.4 1777.9,367.0 1778.6,364.9 1779.4,366.5 1780.2,366.2 1781.0,362.7 1781.8,368.6 1782.6,365.9 1783.4,368.4 1784.2,365.7 1785.0,364.8 1785.8,364.4 1786.5,365.5 1787.3,369.0 1788.1,365.3 1788.9,363.8 1789.7,363.6 1790.5,360.9 1791.3,364.6 1792.1,368.2 1792.9,367.0 1793.7,365.7 1794.5,363.4 1795.2,368.5 1796.0,363.8 1796.8,364.4 1797.6,367.8 1798.4,364.5 1799.2,367.6 1800.0,365.9 1800.8,366.5 1801.6,365.3 1802.4,368.6 1803.1,364.6 1803.9,370.8 1804.7,366.8 1805.5,367.1 1806.3,362.2 1807.1,364.6 1807.9,367.0 1808.7,367.9 1809.5,365.8 1810.3,367.3 1811.0,360.7 1811.8,372.2 1812.6,365.7 1813.4,371.5 1814.2,363.5 1815.0,367.7 1815.8,362.2 1816.6,367.1 1817.4,363.4 1818.2,365.4 1819.0,363.1 1819.7,365.8 1820.5,372.7 1821.3,367.5 1822.1,369.4 1822.9,363.7 1823.7,364.6 1824.5,365.8 1825.3,364.8 1826.1,365.4 1826.9,367.2 1827.6,361.4 1828.4,365.3 1829.2,366.3 1830.0,369.2 1830.8,367.3 1831.6,365.8" stroke="#008000" stroke-width="1.30"/>
<polyline points="1337.6,363.7 1338.4,367.2 1339.2,365.7 1340.0,365.4 1340.8,361.7 1341.6,362.6 1342.3,363.5 1343.1,366.3 1343.9,364.6 1344.7,361.8 1345.5,360.8 1346.3,367.1 1347.1,364.7 1347.9,363.4 1348.7,362.9 1349.5,363.6 1350.2,362.1 1351.0,367.0 1351.8,360.0 1352.6,366.2 1353.4,363.5 1354.2,362.4 1355.0,360.9 1355.8,361.5 1356.6,361.6 1357.4,360.6 1358.2,363.9 1358.9,361.8 1359.7,360.0 1360.5,365.2 1361.3,366.7 1362.1,365.8 1362.9,360.2 1363.7,360.6 1364.5,364.2 1365.3,362.8 1366.1,362.3 1366.8,360.9 1367.6,367.7 1368.4,364.6 1369.2,363.9 1370.0,362.5 1370.8,363.1 1371.6,364.0 1372.4,362.5 1373.2,369.1 1374.0,356.1 1374.7,361.2 1375.5,361.1 1376.3,364.6 1377.1,362.1 1377.9,358.3 1378.7,358.8 1379.5,362.8 1380.3,365.8 1381.1,362.5 1381.9,363.6 1382.7,360.9 1383.4,365.8 1384.2,363.2 1385.0,362.1 1385.8,363.8 1386.6,360.2 1387.4,365.3 1388.2,365.4 1389.0,363.3 1389.8,360.4 1390.6,362.9 1391.3,363.4 1392.1,360.0 1392.9,361.2 1393.7,362.7 1394.5,361.0 1395.3,361.7 1396.1,359.5 1396.9,360.3 1397.7,362.2 1398.5,361.2 1399.3,360.7 1400.0,358.6 1400.8,358.2 1401.6,360.5 1402.4,358.6 1403.2,357.0 1404.0,354.7 1404.8,356.1 1405.6,351.5 1406.4,355.3 1407.2,352.9 1407.9,354.6 1408.7,355.2 1409.5,351.5 1410.3,349.1 1411.1,347.5 1411.9,345.8 1412.7,344.7 1413.5,343.7 1414.3,340.5 1415.1,336.7 1415.8,333.5 1416.6,341.2 1417.4,330.0 1418.2,326.6 1419.0,323.6 1419.8,322.9 1420.6,319.3 1421.4,318.5 1422.2,313.9 1423.0,307.5 1423.8,305.3 1424.5,297.7 1425.3,288.0 1426.1,283.8 1426.9,272.6 1427.7,268.4 1428.5,257.0 1429.3,250.4 1430.1,245.6 1430.9,240.7 1431.7,234.1 1432.4,232.4 1433.2,222.0 1434.0,213.9 1434.8,202.5 1435.6,196.0 1436.4,185.4 1437.2,174.4 1438.0,167.0 1438.8,166.0 1439.6,157.6 1440.4,154.7 1441.1,156.5 1441.9,162.6 1442.7,166.8 1443.5,168.5 1444.3,170.5 1445.1,185.9 1445.9,193.5 1446.7,203.9 1447.5,220.0 1448.3,226.1 1449.0,228.3 1449.8,236.0 1450.6,242.9 1451.4,249.3 1452.2,252.6 1453.0,259.9 1453.8,256.6 1454.6,268.7 1455.4,273.5 1456.2,271.7 1457.0,271.1 1457.7,277.8 1458.5,278.8 1459.3,282.9 1460.1,282.4 1460.9,286.2 1461.7,287.7 1462.5,290.3 1463.3,289.6 1464.1,285.5 1464.9,291.4 1465.6,292.4 1466.4,289.1 1467.2,297.1 1468.0,299.3 1468.8,297.0 1469.6,302.1 1470.4,299.4 1471.2,298.2 1472.0,304.1 1472.8,303.4 1473.5,298.9 1474.3,305.8 1475.1,305.3 1475.9,303.3 1476.7,304.6 1477.5,305.4 1478.3,298.8 1479.1,302.8 1479.9,299.4 1480.7,300.0 1481.5,298.4 1482.2,299.9 1483.0,293.3 1483.8,295.1 1484.6,289.7 1485.4,293.8 1486.2,290.7 1487.0,286.8 1487.8,285.9 1488.6,285.8 1489.4,282.6 1490.1,283.2 1490.9,277.8 1491.7,281.7 1492.5,272.5 1493.3,267.1 1494.1,265.1 1494.9,261.3 1495.7,260.0 1496.5,253.7 1497.3,252.0 1498.1,248.4 1498.8,246.0 1499.6,251.4 1500.4,239.4 1501.2,238.6 1502.0,235.9 1502.8,238.3 1503.6,232.6 1504.4,231.0 1505.2,235.2 1506.0,231.9 1506.7,225.6 1507.5,225.4 1508.3,222.5 1509.1,222.7 1509.9,216.5 1510.7,223.3 1511.5,221.1 1512.3,219.3 1513.1,219.5 1513.9,217.0 1514.6,215.2 1515.4,217.8 1516.2,213.4 1517.0,210.8 1517.8,210.9 1518.6,208.4 1519.4,210.0 1520.2,212.4 1521.0,207.9 1521.8,210.2 1522.6,207.3 1523.3,212.0 1524.1,216.3 1524.9,214.1 1525.7,211.0 1526.5,210.4 1527.3,212.4 1528.1,209.9 1528.9,215.4 1529.7,214.8 1530.5,211.4 1531.2,214.2 1532.0,214.6 1532.8,212.2 1533.6,213.5 1534.4,218.5 1535.2,216.8 1536.0,221.7 1536.8,218.3 1537.6,217.9 1538.4,223.4 1539.2,216.4 1539.9,216.1 1540.7,220.5 1541.5,220.5 1542.3,221.5 1543.1,229.0 1543.9,230.5 1544.7,236.2 1545.5,244.0 1546.3,244.4 1547.1,243.7 1547.8,239.1 1548.6,240.2 1549.4,236.6 1550.2,238.3 1551.0,238.5 1551.8,229.2 1552.6,226.4 1553.4,231.1 1554.2,232.4 1555.0,229.5 1555.8,235.5 1556.5,234.4 1557.3,238.5 1558.1,235.4 1558.9,237.6 1559.7,240.7 1560.5,243.1 1561.3,246.8 1562.1,246.9 1562.9,243.7 1563.7,248.9 1564.4,246.4 1565.2,252.5 1566.0,251.8 1566.8,253.8 1567.6,254.4 1568.4,253.1 1569.2,260.7 1570.0,255.3 1570.8,256.4 1571.6,259.1 1572.3,259.9 1573.1,261.7 1573.9,260.6 1574.7,263.1 1575.5,266.3 1576.3,265.0 1577.1,264.3 1577.9,266.8 1578.7,268.7 1579.5,269.5 1580.3,272.4 1581.0,273.6 1581.8,278.2 1582.6,275.6 1583.4,274.3 1584.2,278.9 1585.0,281.5 1585.8,278.7 1586.6,281.9 1587.4,283.4 1588.2,284.0 1588.9,284.9 1589.7,288.0 1590.5,291.2 1591.3,286.6 1592.1,291.8 1592.9,295.0 1593.7,294.0 1594.5,292.8 1595.3,300.0 1596.1,294.8 1596.9,299.1 1597.6,295.2 1598.4,299.2 1599.2,301.9 1600.0,299.7 1600.8,300.5 1601.6,305.1 1602.4,304.6 1603.2,307.2 1604.0,304.7 1604.8,310.9 1605.5,308.8 1606.3,314.1 1607.1,308.6 1607.9,315.9 1608.7,313.9 1609.5,311.6 1610.3,313.7 1611.1,314.7 1611.9,316.6 1612.7,316.2 1613.4,319.9 1614.2,315.8 1615.0,315.4 1615.8,316.2 1616.6,318.8 1617.4,316.6 1618.2,319.0 1619.0,318.6 1619.8,320.7 1620.6,322.2 1621.4,324.8 1622.1,329.8 1622.9,323.0 1623.7,325.5 1624.5,321.3 1625.3,331.2 1626.1,325.4 1626.9,330.2 1627.7,328.8 1628.5,331.5 1629.3,329.3 1630.0,330.9 1630.8,329.5 1631.6,331.9 1632.4,331.8 1633.2,330.6 1634.0,333.0 1634.8,335.1 1635.6,332.6 1636.4,336.3 1637.2,335.7 1638.0,338.0 1638.7,339.4 1639.5,345.3 1640.3,337.4 1641.1,342.2 1641.9,338.4 1642.7,336.5 1643.5,344.2 1644.3,339.6 1645.1,342.4 1645.9,341.6 1646.6,345.9 1647.4,343.6 1648.2,343.7 1649.0,341.3 1649.8,340.1 1650.6,344.8 1651.4,346.8 1652.2,341.3 1653.0,347.1 1653.8,347.4 1654.6,347.5 1655.3,347.0 1656.1,346.9 1656.9,350.2 1657.7,349.6 1658.5,345.4 1659.3,346.4 1660.1,349.4 1660.9,350.2 1661.7,351.7 1662.5,349.2 1663.2,353.1 1664.0,352.0 1664.8,353.7 1665.6,354.5 1666.4,353.3 1667.2,353.7 1668.0,355.4 1668.8,354.6 1669.6,354.7 1670.4,356.2 1671.1,357.0 1671.9,356.2 1672.7,354.6 1673.5,354.0 1674.3,356.4 1675.1,357.7 1675.9,357.5 1676.7,353.3 1677.5,355.8 1678.3,360.4 1679.1,358.5 1679.8,359.9 1680.6,359.7 1681.4,362.9 1682.2,359.2 1683.0,362.5 1683.8,360.9 1684.6,356.2 1685.4,357.5 1686.2,361.9 1687.0,362.4 1687.7,362.2 1688.5,364.6 1689.3,362.6 1690.1,361.1 1690.9,363.0 1691.7,359.0 1692.5,361.0 1693.3,362.2 1694.1,357.0 1694.9,359.5 1695.7,361.1 1696.4,357.1 1697.2,358.4 1698.0,363.2 1698.8,360.9 1699.6,362.7 1700.4,365.1 1701.2,357.5 1702.0,358.5 1702.8,364.9 1703.6,361.0 1704.3,365.9 1705.1,359.8 1705.9,362.4 1706.7,363.0 1707.5,359.5 1708.3,362.5 1709.1,363.1 1709.9,360.5 1710.7,363.3 1711.5,360.7 1712.2,362.7 1713.0,360.8 1713.8,361.3 1714.6,361.0 1715.4,365.2 1716.2,358.5 1717.0,363.3 1717.8,358.9 1718.6,364.3 1719.4,363.6 1720.2,363.6 1720.9,360.4 1721.7,364.0 1722.5,362.1 1723.3,366.7 1724.1,364.2 1724.9,362.6 1725.7,363.4 1726.5,367.5 1727.3,362.1 1728.1,365.5 1728.8,358.8 1729.6,363.7 1730.4,358.1 1731.2,361.8 1732.0,362.3 1732.8,364.5 1733.6,363.6 1734.4,362.3 1735.2,367.9 1736.0,361.1 1736.8,366.2 1737.5,364.1 1738.3,369.8 1739.1,362.4 1739.9,361.8 1740.7,362.8 1741.5,362.8 1742.3,364.4 1743.1,363.2 1743.9,360.7 1744.7,364.5 1745.4,362.4 1746.2,361.9 1747.0,364.1 1747.8,363.0 1748.6,363.1 1749.4,364.7 1750.2,357.9 1751.0,364.6 1751.8,359.6 1752.6,361.1 1753.4,368.3 1754.1,363.0 1754.9,361.2 1755.7,361.7 1756.5,365.7 1757.3,363.0 1758.1,366.4 1758.9,366.0 1759.7,364.1 1760.5,363.1 1761.3,359.8 1762.0,362.7 1762.8,361.1 1763.6,366.4 1764.4,366.3 1765.2,364.7 1766.0,359.5 1766.8,366.7 1767.6,367.3 1768.4,363.7 1769.2,360.8 1769.9,367.4 1770.7,364.2 1771.5,366.7 1772.3,360.2 1773.1,361.9 1773.9,362.9 1774.7,363.7 1775.5,364.1 1776.3,363.2 1777.1,365.1 1777.9,365.6 1778.6,366.2 1779.4,363.5 1780.2,365.4 1781.0,361.5 1781.8,368.5 1782.6,362.2 1783.4,362.3 1784.2,360.7 1785.0,364.2 1785.8,367.1 1786.5,365.7 1787.3,360.9 1788.1,364.3 1788.9,364.5 1789.7,365.0 1790.5,363.7 1791.3,364.1 1792.1,367.2 1792.9,365.0 1793.7,361.2 1794.5,360.2 1795.2,363.9 1796.0,364.8 1796.8,360.4 1797.6,364.0 1798.4,366.3 1799.2,363.9 1800.0,361.9 1800.8,359.9 1801.6,364.7 1802.4,362.3 1803.1,364.4 1803.9,360.9 1804.7,363.0 1805.5,363.0 1806.3,365.9 1807.1,364.3 1807.9,364.3 1808.7,372.0 1809.5,361.6 1810.3,363.6 1811.0,364.1 1811.8,364.4 1812.6,363.5 1813.4,363.0 1814.2,366.7 1815.0,363.3 1815.8,363.3 1816.6,363.5 1817.4,367.1 1818.2,363.9 1819.0,366.6 1819.7,362.8 1820.5,360.5 1821.3,361.5 1822.1,364.4 1822.9,364.9 1823.7,364.9 1824.5,362.8 1825.3,365.2 1826.1,364.8 1826.9,369.5 1827.6,365.6 1828.4,365.4 1829.2,364.9 1830.0,360.7 1830.8,366.8 1831.6,366.7" stroke="#ffb6c1" stroke-width="1.30"/>
<polyline points="1337.6,366.2 1338.4,368.1 1339.2,364.1 1340.0,362.8 1340.8,368.6 1341.6,366.9 1342.3,364.1 1343.1,366.8 1343.9,368.6 1344.7,367.3 1345.5,364.3 1346.3,368.6 1347.1,365.6 1347.9,365.3 1348.7,367.8 1349.5,364.9 1350.2,364.7 1351.0,363.9 1351.8,364.0 1352.6,369.7 1353.4,364.1 1354.2,364.8 1355.0,363.9 1355.8,368.2 1356.6,364.0 1357.4,365.3 1358.2,368.8 1358.9,363.1 1359.7,367.9 1360.5,368.5 1361.3,365.1 1362.1,367.5 1362.9,365.2 1363.7,366.6 1364.5,365.3 1365.3,364.1 1366.1,366.0 1366.8,363.9 1367.6,363.9 1368.4,367.9 1369.2,363.9 1370.0,364.4 1370.8,365.5 1371.6,363.2 1372.4,361.9 1373.2,364.0 1374.0,369.2 1374.7,364.7 1375.5,366.0 1376.3,366.3 1377.1,364.8 1377.9,366.4 1378.7,361.7 1379.5,364.9 1380.3,365.5 1381.1,363.6 1381.9,363.6 1382.7,362.6 1383.4,363.9 1384.2,365.4 1385.0,365.0 1385.8,370.3 1386.6,368.7 1387.4,362.8 1388.2,365.9 1389.0,360.8 1389.8,360.7 1390.6,367.7 1391.3,363.9 1392.1,357.7 1392.9,366.1 1393.7,363.1 1394.5,364.3 1395.3,364.1 1396.1,364.0 1396.9,363.2 1397.7,361.1 1398.5,364.4 1399.3,361.0 1400.0,363.5 1400.8,360.2 1401.6,360.2 1402.4,362.3 1403.2,359.7 1404.0,361.2 1404.8,360.9 1405.6,355.5 1406.4,361.9 1407.2,355.5 1407.9,354.3 1408.7,356.4 1409.5,351.2 1410.3,350.0 1411.1,353.2 1411.9,346.7 1412.7,344.5 1413.5,345.1 1414.3,339.9 1415.1,337.3 1415.8,338.6 1416.6,339.4 1417.4,331.5 1418.2,331.7 1419.0,331.4 1419.8,325.4 1420.6,326.9 1421.4,318.7 1422.2,310.4 1423.0,315.4 1423.8,301.3 1424.5,297.4 1425.3,288.4 1426.1,281.4 1426.9,269.5 1427.7,262.8 1428.5,256.7 1429.3,250.7 1430.1,242.1 1430.9,232.4 1431.7,232.1 1432.4,222.3 1433.2,216.0 1434.0,214.2 1434.8,197.6 1435.6,189.4 1436.4,173.7 1437.2,167.1 1438.0,164.9 1438.8,158.2 1439.6,155.2 1440.4,153.3 1441.1,148.5 1441.9,153.7 1442.7,158.5 1443.5,163.4 1444.3,167.8 1445.1,177.3 1445.9,191.7 1446.7,203.9 1447.5,212.4 1448.3,215.7 1449.0,232.9 1449.8,237.6 1450.6,239.9 1451.4,246.1 1452.2,248.5 1453.0,252.9 1453.8,255.5 1454.6,265.9 1455.4,266.0 1456.2,270.9 1457.0,270.6 1457.7,274.8 1458.5,275.2 1459.3,281.0 1460.1,280.7 1460.9,284.0 1461.7,285.1 1462.5,287.1 1463.3,290.0 1464.1,286.5 1464.9,290.1 1465.6,289.8 1466.4,296.3 1467.2,300.0 1468.0,298.3 1468.8,298.4 1469.6,297.3 1470.4,297.7 1471.2,298.0 1472.0,298.0 1472.8,300.6 1473.5,302.7 1474.3,305.3 1475.1,302.3 1475.9,305.3 1476.7,306.0 1477.5,302.2 1478.3,302.2 1479.1,299.6 1479.9,302.0 1480.7,296.3 1481.5,297.0 1482.2,297.0 1483.0,297.1 1483.8,296.5 1484.6,295.7 1485.4,287.6 1486.2,292.6 1487.0,286.0 1487.8,286.3 1488.6,285.1 1489.4,282.8 1490.1,279.7 1490.9,275.0 1491.7,273.3 1492.5,272.0 1493.3,272.4 1494.1,270.2 1494.9,257.5 1495.7,259.9 1496.5,256.9 1497.3,246.6 1498.1,249.8 1498.8,242.0 1499.6,239.3 1500.4,238.8 1501.2,235.1 1502.0,238.8 1502.8,236.6 1503.6,232.2 1504.4,229.6 1505.2,227.6 1506.0,224.0 1506.7,224.7 1507.5,226.1 1508.3,218.5 1509.1,218.7 1509.9,215.0 1510.7,210.9 1511.5,214.6 1512.3,212.5 1513.1,215.3 1513.9,210.3 1514.6,211.1 1515.4,210.9 1516.2,208.8 1517.0,213.2 1517.8,208.8 1518.6,208.7 1519.4,205.6 1520.2,213.3 1521.0,209.0 1521.8,203.3 1522.6,209.3 1523.3,209.2 1524.1,203.8 1524.9,202.1 1525.7,207.8 1526.5,210.0 1527.3,210.0 1528.1,209.9 1528.9,211.4 1529.7,211.8 1530.5,210.1 1531.2,211.0 1532.0,210.5 1532.8,212.2 1533.6,215.8 1534.4,211.8 1535.2,213.5 1536.0,216.0 1536.8,215.8 1537.6,215.0 1538.4,216.1 1539.2,217.3 1539.9,216.0 1540.7,216.2 1541.5,220.6 1542.3,222.3 1543.1,228.6 1543.9,230.8 1544.7,233.6 1545.5,236.2 1546.3,239.8 1547.1,240.5 1547.8,241.2 1548.6,237.7 1549.4,239.2 1550.2,234.6 1551.0,233.1 1551.8,233.7 1552.6,229.5 1553.4,230.0 1554.2,228.0 1555.0,230.9 1555.8,229.3 1556.5,227.8 1557.3,232.3 1558.1,232.4 1558.9,237.4 1559.7,238.5 1560.5,243.9 1561.3,241.6 1562.1,245.7 1562.9,244.4 1563.7,251.0 1564.4,249.5 1565.2,248.5 1566.0,249.0 1566.8,255.0 1567.6,253.2 1568.4,247.2 1569.2,252.5 1570.0,255.1 1570.8,263.1 1571.6,259.8 1572.3,257.5 1573.1,259.2 1573.9,259.8 1574.7,259.7 1575.5,262.9 1576.3,262.2 1577.1,269.6 1577.9,260.6 1578.7,268.5 1579.5,270.5 1580.3,266.7 1581.0,270.2 1581.8,270.7 1582.6,275.9 1583.4,275.2 1584.2,275.6 1585.0,281.5 1585.8,280.8 1586.6,282.3 1587.4,283.9 1588.2,286.4 1588.9,289.1 1589.7,286.6 1590.5,288.5 1591.3,287.7 1592.1,292.0 1592.9,294.7 1593.7,297.8 1594.5,295.4 1595.3,297.5 1596.1,293.1 1596.9,293.5 1597.6,296.2 1598.4,303.1 1599.2,305.2 1600.0,303.4 1600.8,305.9 1601.6,301.3 1602.4,305.3 1603.2,307.4 1604.0,307.3 1604.8,305.1 1605.5,311.2 1606.3,308.6 1607.1,313.7 1607.9,311.8 1608.7,313.7 1609.5,312.1 1610.3,313.3 1611.1,311.5 1611.9,313.5 1612.7,317.3 1613.4,319.8 1614.2,319.3 1615.0,319.1 1615.8,319.4 1616.6,321.4 1617.4,317.8 1618.2,318.9 1619.0,322.5 1619.8,323.8 1620.6,323.9 1621.4,324.2 1622.1,324.9 1622.9,329.4 1623.7,327.4 1624.5,331.5 1625.3,327.8 1626.1,327.0 1626.9,331.9 1627.7,329.7 1628.5,332.2 1629.3,333.2 1630.0,327.6 1630.8,330.8 1631.6,332.5 1632.4,335.4 1633.2,334.1 1634.0,336.2 1634.8,335.3 1635.6,339.2 1636.4,337.8 1637.2,339.2 1638.0,342.3 1638.7,335.5 1639.5,338.2 1640.3,342.6 1641.1,344.8 1641.9,343.6 1642.7,344.4 1643.5,344.4 1644.3,347.0 1645.1,346.0 1645.9,344.4 1646.6,344.1 1647.4,350.2 1648.2,346.0 1649.0,348.9 1649.8,349.5 1650.6,348.2 1651.4,349.6 1652.2,346.8 1653.0,347.2 1653.8,350.1 1654.6,351.3 1655.3,346.0 1656.1,346.2 1656.9,350.1 1657.7,351.8 1658.5,349.5 1659.3,348.8 1660.1,353.9 1660.9,348.8 1661.7,353.8 1662.5,351.2 1663.2,355.4 1664.0,354.4 1664.8,356.0 1665.6,355.3 1666.4,353.3 1667.2,358.2 1668.0,357.2 1668.8,355.5 1669.6,358.3 1670.4,352.7 1671.1,361.4 1671.9,352.2 1672.7,360.2 1673.5,356.6 1674.3,355.4 1675.1,358.3 1675.9,363.2 1676.7,361.0 1677.5,360.3 1678.3,359.3 1679.1,358.6 1679.8,358.5 1680.6,357.9 1681.4,363.9 1682.2,359.4 1683.0,366.1 1683.8,361.7 1684.6,364.8 1685.4,366.6 1686.2,360.3 1687.0,362.7 1687.7,360.4 1688.5,366.7 1689.3,365.9 1690.1,363.3 1690.9,364.8 1691.7,363.2 1692.5,364.9 1693.3,364.4 1694.1,366.4 1694.9,360.7 1695.7,364.6 1696.4,366.8 1697.2,362.5 1698.0,363.0 1698.8,363.7 1699.6,363.8 1700.4,365.4 1701.2,364.8 1702.0,369.9 1702.8,368.4 1703.6,367.7 1704.3,364.1 1705.1,362.0 1705.9,365.4 1706.7,365.7 1707.5,362.4 1708.3,366.0 1709.1,363.6 1709.9,364.2 1710.7,368.5 1711.5,364.6 1712.2,364.9 1713.0,368.2 1713.8,368.0 1714.6,368.6 1715.4,362.3 1716.2,360.5 1717.0,363.9 1717.8,361.9 1718.6,368.9 1719.4,362.3 1720.2,361.0 1720.9,361.9 1721.7,368.0 1722.5,363.2 1723.3,366.1 1724.1,363.3 1724.9,367.4 1725.7,365.9 1726.5,367.3 1727.3,364.8 1728.1,366.2 1728.8,363.3 1729.6,364.0 1730.4,365.0 1731.2,366.1 1732.0,366.8 1732.8,366.1 1733.6,364.3 1734.4,365.8 1735.2,365.4 1736.0,366.2 1736.8,366.3 1737.5,367.8 1738.3,370.7 1739.1,364.8 1739.9,364.9 1740.7,368.6 1741.5,361.6 1742.3,369.1 1743.1,363.8 1743.9,365.6 1744.7,365.5 1745.4,363.5 1746.2,364.1 1747.0,366.2 1747.8,368.8 1748.6,369.2 1749.4,365.8 1750.2,362.5 1751.0,364.2 1751.8,366.4 1752.6,365.5 1753.4,364.6 1754.1,362.1 1754.9,368.1 1755.7,364.5 1756.5,365.6 1757.3,368.1 1758.1,368.7 1758.9,363.2 1759.7,365.5 1760.5,366.8 1761.3,366.0 1762.0,363.9 1762.8,366.1 1763.6,362.4 1764.4,366.9 1765.2,368.2 1766.0,366.6 1766.8,368.5 1767.6,367.1 1768.4,363.3 1769.2,362.2 1769.9,364.8 1770.7,365.8 1771.5,368.5 1772.3,368.7 1773.1,365.4 1773.9,365.9 1774.7,367.7 1775.5,367.4 1776.3,362.5 1777.1,363.9 1777.9,366.2 1778.6,365.7 1779.4,363.2 1780.2,365.4 1781.0,365.7 1781.8,370.1 1782.6,370.3 1783.4,370.9 1784.2,371.7 1785.0,366.3 1785.8,365.5 1786.5,368.4 1787.3,365.2 1788.1,365.2 1788.9,366.5 1789.7,369.8 1790.5,362.8 1791.3,363.0 1792.1,367.7 1792.9,361.6 1793.7,366.2 1794.5,368.2 1795.2,367.3 1796.0,370.8 1796.8,367.1 1797.6,370.1 1798.4,363.5 1799.2,365.5 1800.0,369.6 1800.8,364.9 1801.6,370.4 1802.4,365.9 1803.1,365.1 1803.9,366.1 1804.7,369.0 1805.5,366.5 1806.3,366.7 1807.1,366.1 1807.9,362.7 1808.7,362.2 1809.5,362.5 1810.3,367.8 1811.0,368.1 1811.8,366.2 1812.6,365.2 1813.4,371.3 1814.2,367.8 1815.0,362.0 1815.8,369.3 1816.6,368.1 1817.4,368.0 1818.2,365.1 1819.0,366.4 1819.7,367.1 1820.5,370.0 1821.3,364.8 1822.1,366.3 1822.9,367.9 1823.7,366.2 1824.5,364.4 1825.3,369.9 1826.1,370.0 1826.9,368.8 1827.6,368.4 1828.4,373.7 1829.2,367.7 1830.0,363.6 1830.8,367.1 1831.6,363.8" stroke="#808000" stroke-width="1.30"/>
<polyline points="1337.6,365.9 1338.4,366.7 1339.2,363.7 1340.0,367.6 1340.8,365.6 1341.6,368.7 1342.3,364.5 1343.1,364.7 1343.9,360.7 1344.7,363.8 1345.5,366.3 1346.3,364.9 1347.1,367.8 1347.9,364.6 1348.7,365.2 1349.5,363.6 1350.2,362.4 1351.0,369.5 1351.8,363.8 1352.6,362.8 1353.4,367.5 1354.2,360.0 1355.0,366.3 1355.8,358.6 1356.6,362.7 1357.4,362.2 1358.2,363.9 1358.9,362.1 1359.7,367.0 1360.5,366.5 1361.3,369.2 1362.1,363.2 1362.9,366.2 1363.7,362.6 1364.5,363.0 1365.3,367.7 1366.1,362.7 1366.8,363.7 1367.6,363.9 1368.4,363.2 1369.2,364.4 1370.0,364.3 1370.8,361.7 1371.6,366.7 1372.4,367.1 1373.2,366.1 1374.0,361.7 1374.7,364.9 1375.5,359.5 1376.3,371.6 1377.1,365.8 1377.9,365.1 1378.7,363.4 1379.5,360.8 1380.3,364.4 1381.1,366.4 1381.9,361.9 1382.7,360.1 1383.4,370.1 1384.2,362.4 1385.0,363.1 1385.8,365.8 1386.6,364.9 1387.4,363.0 1388.2,363.6 1389.0,364.2 1389.8,366.3 1390.6,362.6 1391.3,364.8 1392.1,362.8 1392.9,364.3 1393.7,362.2 1394.5,360.6 1395.3,361.7 1396.1,360.4 1396.9,365.2 1397.7,360.4 1398.5,360.6 1399.3,362.5 1400.0,361.0 1400.8,367.0 1401.6,359.6 1402.4,360.4 1403.2,364.5 1404.0,357.3 1404.8,359.5 1405.6,356.7 1406.4,357.3 1407.2,354.9 1407.9,355.1 1408.7,355.1 1409.5,352.1 1410.3,349.7 1411.1,355.4 1411.9,347.8 1412.7,347.2 1413.5,346.4 1414.3,338.6 1415.1,337.5 1415.8,340.4 1416.6,338.6 1417.4,331.8 1418.2,333.0 1419.0,329.9 1419.8,331.2 1420.6,323.9 1421.4,317.7 1422.2,317.9 1423.0,312.3 1423.8,302.0 1424.5,297.6 1425.3,289.1 1426.1,283.6 1426.9,274.6 1427.7,274.0 1428.5,264.7 1429.3,260.1 1430.1,244.7 1430.9,244.2 1431.7,239.6 1432.4,235.6 1433.2,230.3 1434.0,228.0 1434.8,207.3 1435.6,202.9 1436.4,193.1 1437.2,189.5 1438.0,180.0 1438.8,173.0 1439.6,169.5 1440.4,165.3 1441.1,169.1 1441.9,168.8 1442.7,171.5 1443.5,177.3 1444.3,183.5 1445.1,193.9 1445.9,207.2 1446.7,214.2 1447.5,224.9 1448.3,233.6 1449.0,236.2 1449.8,248.2 1450.6,251.2 1451.4,253.0 1452.2,257.0 1453.0,264.4 1453.8,267.2 1454.6,269.5 1455.4,274.0 1456.2,278.3 1457.0,277.7 1457.7,280.4 1458.5,282.4 1459.3,281.6 1460.1,285.1 1460.9,288.4 1461.7,288.3 1462.5,285.3 1463.3,293.0 1464.1,293.3 1464.9,295.9 1465.6,294.5 1466.4,299.7 1467.2,296.8 1468.0,297.3 1468.8,302.1 1469.6,303.3 1470.4,305.6 1471.2,302.6 1472.0,306.0 1472.8,305.4 1473.5,305.5 1474.3,306.6 1475.1,303.3 1475.9,301.6 1476.7,310.6 1477.5,307.0 1478.3,303.5 1479.1,305.6 1479.9,303.1 1480.7,300.1 1481.5,296.1 1482.2,295.4 1483.0,297.7 1483.8,295.4 1484.6,295.1 1485.4,293.2 1486.2,294.0 1487.0,293.8 1487.8,288.7 1488.6,283.6 1489.4,282.1 1490.1,286.4 1490.9,280.1 1491.7,278.8 1492.5,274.0 1493.3,274.6 1494.1,266.7 1494.9,265.6 1495.7,259.5 1496.5,254.6 1497.3,257.7 1498.1,250.7 1498.8,244.1 1499.6,245.5 1500.4,241.1 1501.2,240.7 1502.0,241.1 1502.8,237.4 1503.6,233.7 1504.4,231.1 1505.2,228.6 1506.0,232.6 1506.7,225.8 1507.5,229.3 1508.3,224.9 1509.1,223.8 1509.9,220.6 1510.7,220.3 1511.5,217.1 1512.3,220.7 1513.1,216.5 1513.9,216.9 1514.6,217.4 1515.4,219.8 1516.2,215.1 1517.0,215.3 1517.8,213.7 1518.6,215.3 1519.4,215.5 1520.2,213.6 1521.0,213.2 1521.8,212.4 1522.6,209.3 1523.3,215.2 1524.1,208.8 1524.9,220.8 1525.7,211.4 1526.5,215.9 1527.3,209.3 1528.1,216.6 1528.9,212.4 1529.7,217.8 1530.5,218.7 1531.2,214.6 1532.0,215.0 1532.8,219.4 1533.6,212.5 1534.4,219.6 1535.2,215.7 1536.0,222.4 1536.8,222.8 1537.6,220.8 1538.4,224.0 1539.2,221.1 1539.9,228.1 1540.7,223.4 1541.5,226.2 1542.3,229.5 1543.1,230.2 1543.9,235.5 1544.7,240.2 1545.5,240.5 1546.3,243.6 1547.1,243.5 1547.8,240.5 1548.6,242.6 1549.4,238.9 1550.2,240.3 1551.0,236.1 1551.8,234.8 1552.6,236.2 1553.4,237.8 1554.2,237.1 1555.0,236.6 1555.8,233.7 1556.5,236.3 1557.3,237.9 1558.1,237.5 1558.9,238.4 1559.7,238.5 1560.5,245.0 1561.3,244.0 1562.1,245.3 1562.9,250.9 1563.7,249.7 1564.4,253.5 1565.2,253.0 1566.0,252.6 1566.8,258.8 1567.6,257.9 1568.4,258.8 1569.2,257.7 1570.0,260.7 1570.8,259.1 1571.6,263.0 1572.3,263.2 1573.1,261.6 1573.9,263.3 1574.7,264.7 1575.5,266.3 1576.3,264.8 1577.1,265.0 1577.9,270.4 1578.7,272.4 1579.5,274.3 1580.3,268.9 1581.0,276.5 1581.8,278.8 1582.6,276.3 1583.4,275.8 1584.2,282.7 1585.0,281.4 1585.8,286.0 1586.6,285.6 1587.4,281.5 1588.2,286.4 1588.9,288.8 1589.7,289.4 1590.5,290.3 1591.3,292.5 1592.1,296.4 1592.9,297.7 1593.7,291.2 1594.5,299.1 1595.3,295.5 1596.1,301.1 1596.9,297.3 1597.6,299.7 1598.4,302.8 1599.2,298.4 1600.0,306.4 1600.8,305.6 1601.6,307.9 1602.4,308.6 1603.2,308.4 1604.0,310.6 1604.8,309.9 1605.5,306.1 1606.3,314.9 1607.1,314.5 1607.9,314.5 1608.7,314.1 1609.5,311.3 1610.3,312.7 1611.1,314.0 1611.9,315.4 1612.7,310.8 1613.4,320.0 1614.2,320.8 1615.0,318.8 1615.8,318.9 1616.6,320.7 1617.4,322.8 1618.2,324.7 1619.0,322.9 1619.8,324.7 1620.6,324.9 1621.4,327.0 1622.1,321.9 1622.9,324.8 1623.7,322.1 1624.5,328.5 1625.3,327.9 1626.1,329.3 1626.9,329.4 1627.7,330.7 1628.5,331.2 1629.3,336.2 1630.0,332.8 1630.8,331.2 1631.6,338.2 1632.4,335.0 1633.2,333.5 1634.0,332.4 1634.8,336.3 1635.6,335.7 1636.4,333.2 1637.2,334.9 1638.0,339.7 1638.7,340.6 1639.5,337.3 1640.3,339.7 1641.1,342.1 1641.9,341.9 1642.7,341.1 1643.5,342.9 1644.3,343.5 1645.1,344.0 1645.9,347.5 1646.6,340.2 1647.4,341.9 1648.2,341.7 1649.0,346.1 1649.8,346.0 1650.6,345.4 1651.4,345.2 1652.2,352.0 1653.0,347.2 1653.8,350.9 1654.6,349.1 1655.3,350.9 1656.1,345.7 1656.9,348.8 1657.7,350.6 1658.5,347.6 1659.3,351.5 1660.1,353.4 1660.9,352.5 1661.7,353.3 1662.5,352.7 1663.2,351.1 1664.0,353.8 1664.8,354.0 1665.6,351.8 1666.4,353.9 1667.2,352.7 1668.0,355.0 1668.8,358.8 1669.6,358.7 1670.4,360.3 1671.1,354.0 1671.9,356.0 1672.7,358.5 1673.5,360.0 1674.3,357.1 1675.1,358.6 1675.9,357.8 1676.7,360.9 1677.5,361.8 1678.3,355.6 1679.1,361.9 1679.8,359.9 1680.6,356.8 1681.4,364.6 1682.2,358.7 1683.0,360.4 1683.8,361.0 1684.6,360.1 1685.4,363.8 1686.2,366.4 1687.0,356.6 1687.7,362.0 1688.5,359.3 1689.3,358.9 1690.1,361.0 1690.9,360.7 1691.7,360.2 1692.5,358.2 1693.3,360.9 1694.1,359.2 1694.9,363.0 1695.7,363.4 1696.4,362.3 1697.2,361.6 1698.0,361.4 1698.8,358.1 1699.6,360.8 1700.4,362.8 1701.2,358.2 1702.0,362.3 1702.8,362.3 1703.6,362.0 1704.3,364.1 1705.1,366.0 1705.9,363.1 1706.7,364.2 1707.5,365.6 1708.3,363.3 1709.1,364.1 1709.9,365.1 1710.7,368.0 1711.5,364.2 1712.2,359.6 1713.0,361.7 1713.8,361.3 1714.6,364.0 1715.4,361.4 1716.2,365.6 1717.0,365.1 1717.8,362.8 1718.6,367.5 1719.4,364.0 1720.2,363.4 1720.9,360.1 1721.7,365.9 1722.5,363.2 1723.3,365.8 1724.1,365.6 1724.9,370.7 1725.7,366.5 1726.5,361.6 1727.3,363.1 1728.1,364.0 1728.8,358.5 1729.6,363.1 1730.4,367.4 1731.2,364.9 1732.0,364.6 1732.8,360.6 1733.6,366.6 1734.4,363.5 1735.2,362.2 1736.0,366.5 1736.8,364.3 1737.5,369.4 1738.3,364.3 1739.1,369.9 1739.9,365.5 1740.7,360.5 1741.5,363.6 1742.3,364.5 1743.1,364.3 1743.9,359.5 1744.7,363.3 1745.4,362.2 1746.2,365.7 1747.0,365.7 1747.8,367.2 1748.6,365.1 1749.4,366.3 1750.2,362.3 1751.0,363.1 1751.8,364.9 1752.6,366.0 1753.4,371.6 1754.1,366.1 1754.9,363.9 1755.7,363.1 1756.5,372.0 1757.3,370.4 1758.1,364.3 1758.9,367.1 1759.7,365.2 1760.5,365.8 1761.3,363.3 1762.0,369.1 1762.8,366.0 1763.6,362.4 1764.4,364.2 1765.2,366.6 1766.0,363.6 1766.8,364.0 1767.6,366.8 1768.4,363.0 1769.2,363.1 1769.9,365.0 1770.7,362.4 1771.5,367.5 1772.3,362.8 1773.1,365.1 1773.9,366.9 1774.7,366.1 1775.5,361.9 1776.3,366.0 1777.1,365.5 1777.9,366.2 1778.6,366.6 1779.4,362.4 1780.2,359.4 1781.0,361.5 1781.8,363.5 1782.6,362.9 1783.4,365.5 1784.2,365.9 1785.0,367.5 1785.8,361.2 1786.5,365.5 1787.3,366.4 1788.1,366.2 1788.9,364.2 1789.7,366.0 1790.5,364.6 1791.3,364.3 1792.1,361.5 1792.9,367.6 1793.7,364.0 1794.5,366.3 1795.2,365.7 1796.0,360.8 1796.8,363.2 1797.6,365.6 1798.4,363.5 1799.2,364.7 1800.0,362.0 1800.8,365.8 1801.6,363.5 1802.4,365.2 1803.1,364.6 1803.9,365.0 1804.7,366.1 1805.5,364.4 1806.3,362.3 1807.1,366.1 1807.9,365.6 1808.7,363.8 1809.5,366.5 1810.3,362.6 1811.0,363.0 1811.8,370.1 1812.6,366.2 1813.4,367.2 1814.2,362.7 1815.0,362.4 1815.8,367.5 1816.6,366.3 1817.4,364.9 1818.2,365.5 1819.0,362.9 1819.7,362.3 1820.5,363.2 1821.3,362.1 1822.1,362.4 1822.9,364.8 1823.7,365.7 1824.5,366.4 1825.3,362.7 1826.1,362.5 1826.9,362.2 1827.6,365.4 1828.4,365.6 1829.2,364.0 1830.0,361.7 1830.8,363.8 1831.6,364.1" stroke="#00ffff" stroke-width="1.30"/>
<polyline points="1337.6,357.8 1338.4,364.2 1339.2,359.8 1340.0,362.4 1340.8,361.6 1341.6,363.8 1342.3,363.3 1343.1,360.3 1343.9,362.4 1344.7,362.8 1345.5,359.8 1346.3,360.2 1347.1,361.5 1347.9,361.4 1348.7,357.8 1349.5,362.3 1350.2,361.0 1351.0,360.9 1351.8,365.2 1352.6,366.5 1353.4,361.6 1354.2,359.8 1355.0,361.4 1355.8,363.1 1356.6,363.4 1357.4,359.9 1358.2,362.5 1358.9,365.6 1359.7,360.2 1360.5,361.2 1361.3,360.9 1362.1,359.3 1362.9,358.6 1363.7,360.4 1364.5,362.1 1365.3,366.7 1366.1,361.0 1366.8,362.0 1367.6,358.5 1368.4,358.6 1369.2,360.5 1370.0,358.4 1370.8,361.8 1371.6,361.7 1372.4,363.6 1373.2,362.3 1374.0,361.0 1374.7,359.0 1375.5,363.2 1376.3,359.5 1377.1,355.9 1377.9,364.6 1378.7,362.0 1379.5,361.3 1380.3,358.9 1381.1,356.6 1381.9,358.3 1382.7,361.3 1383.4,363.2 1384.2,361.3 1385.0,361.3 1385.8,360.6 1386.6,363.2 1387.4,357.4 1388.2,362.7 1389.0,359.3 1389.8,360.3 1390.6,363.3 1391.3,360.4 1392.1,360.4 1392.9,360.7 1393.7,358.2 1394.5,361.0 1395.3,353.7 1396.1,356.8 1396.9,361.5 1397.7,365.0 1398.5,355.9 1399.3,358.0 1400.0,358.1 1400.8,360.2 1401.6,361.0 1402.4,361.6 1403.2,350.6 1404.0,352.5 1404.8,357.1 1405.6,350.8 1406.4,359.1 1407.2,352.4 1407.9,351.7 1408.7,354.6 1409.5,352.6 1410.3,352.6 1411.1,348.4 1411.9,343.4 1412.7,342.3 1413.5,341.8 1414.3,338.3 1415.1,343.5 1415.8,332.6 1416.6,335.7 1417.4,336.8 1418.2,332.5 1419.0,330.9 1419.8,326.7 1420.6,323.6 1421.4,327.0 1422.2,315.1 1423.0,309.6 1423.8,310.9 1424.5,298.9 1425.3,292.9 1426.1,286.6 1426.9,278.2 1427.7,278.5 1428.5,266.9 1429.3,264.9 1430.1,251.3 1430.9,254.3 1431.7,250.0 1432.4,239.4 1433.2,235.2 1434.0,230.5 1434.8,222.4 1435.6,212.1 1436.4,200.8 1437.2,200.1 1438.0,194.0 1438.8,188.6 1439.6,183.2 1440.4,180.7 1441.1,184.0 1441.9,182.5 1442.7,190.0 1443.5,192.3 1444.3,197.5 1445.1,205.9 1445.9,212.0 1446.7,221.5 1447.5,230.5 1448.3,235.9 1449.0,246.7 1449.8,248.3 1450.6,256.9 1451.4,260.8 1452.2,264.8 1453.0,272.5 1453.8,274.2 1454.6,276.3 1455.4,277.8 1456.2,281.4 1457.0,285.2 1457.7,287.8 1458.5,286.7 1459.3,291.1 1460.1,292.5 1460.9,291.2 1461.7,291.8 1462.5,295.4 1463.3,298.9 1464.1,295.1 1464.9,295.0 1465.6,299.2 1466.4,300.3 1467.2,306.2 1468.0,299.5 1468.8,305.3 1469.6,301.8 1470.4,305.7 1471.2,305.3 1472.0,305.9 1472.8,310.4 1473.5,299.9 1474.3,310.8 1475.1,307.0 1475.9,309.4 1476.7,308.0 1477.5,303.7 1478.3,310.7 1479.1,305.5 1479.9,302.9 1480.7,302.6 1481.5,300.9 1482.2,302.6 1483.0,303.6 1483.8,301.6 1484.6,298.1 1485.4,293.9 1486.2,294.1 1487.0,288.9 1487.8,290.9 1488.6,289.0 1489.4,287.1 1490.1,289.9 1490.9,282.2 1491.7,284.1 1492.5,280.0 1493.3,270.9 1494.1,276.8 1494.9,270.0 1495.7,265.7 1496.5,262.2 1497.3,259.1 1498.1,257.8 1498.8,249.4 1499.6,257.1 1500.4,252.9 1501.2,245.1 1502.0,245.7 1502.8,247.2 1503.6,245.8 1504.4,242.4 1505.2,233.5 1506.0,236.6 1506.7,238.4 1507.5,233.7 1508.3,234.4 1509.1,228.1 1509.9,230.0 1510.7,226.7 1511.5,228.4 1512.3,223.1 1513.1,226.3 1513.9,226.1 1514.6,228.7 1515.4,226.9 1516.2,224.5 1517.0,226.2 1517.8,218.7 1518.6,224.3 1519.4,225.8 1520.2,221.3 1521.0,224.7 1521.8,222.2 1522.6,223.3 1523.3,224.7 1524.1,219.5 1524.9,222.6 1525.7,220.3 1526.5,223.9 1527.3,226.8 1528.1,226.6 1528.9,225.3 1529.7,224.9 1530.5,224.8 1531.2,224.2 1532.0,229.0 1532.8,226.0 1533.6,230.1 1534.4,229.3 1535.2,222.0 1536.0,225.6 1536.8,230.0 1537.6,225.3 1538.4,226.7 1539.2,228.6 1539.9,227.8 1540.7,232.8 1541.5,233.5 1542.3,237.4 1543.1,237.2 1543.9,245.5 1544.7,247.5 1545.5,248.3 1546.3,252.4 1547.1,250.3 1547.8,246.1 1548.6,251.8 1549.4,244.6 1550.2,248.1 1551.0,247.1 1551.8,242.9 1552.6,239.9 1553.4,243.4 1554.2,243.4 1555.0,243.0 1555.8,244.3 1556.5,243.0 1557.3,246.3 1558.1,246.5 1558.9,246.5 1559.7,249.8 1560.5,247.6 1561.3,253.6 1562.1,255.4 1562.9,250.1 1563.7,252.7 1564.4,257.3 1565.2,256.6 1566.0,258.8 1566.8,261.9 1567.6,260.0 1568.4,261.9 1569.2,260.5 1570.0,269.0 1570.8,263.6 1571.6,266.0 1572.3,269.1 1573.1,269.4 1573.9,270.3 1574.7,273.5 1575.5,272.6 1576.3,270.3 1577.1,276.9 1577.9,275.2 1578.7,281.1 1579.5,277.8 1580.3,276.6 1581.0,278.9 1581.8,279.8 1582.6,283.9 1583.4,281.1 1584.2,285.9 1585.0,282.8 1585.8,285.8 1586.6,288.6 1587.4,285.4 1588.2,291.2 1588.9,289.1 1589.7,292.6 1590.5,294.1 1591.3,292.9 1592.1,295.4 1592.9,297.7 1593.7,299.1 1594.5,299.3 1595.3,300.7 1596.1,302.6 1596.9,305.3 1597.6,309.9 1598.4,304.8 1599.2,306.0 1600.0,303.3 1600.8,305.9 1601.6,305.0 1602.4,304.4 1603.2,309.6 1604.0,312.1 1604.8,308.9 1605.5,313.0 1606.3,312.9 1607.1,309.5 1607.9,312.3 1608.7,311.7 1609.5,318.3 1610.3,315.6 1611.1,313.6 1611.9,320.1 1612.7,317.2 1613.4,317.3 1614.2,324.5 1615.0,315.8 1615.8,322.0 1616.6,321.3 1617.4,317.5 1618.2,326.6 1619.0,321.8 1619.8,324.6 1620.6,324.1 1621.4,326.9 1622.1,322.3 1622.9,328.9 1623.7,326.0 1624.5,326.2 1625.3,328.4 1626.1,329.5 1626.9,330.1 1627.7,327.7 1628.5,329.7 1629.3,331.6 1630.0,334.7 1630.8,332.3 1631.6,332.0 1632.4,334.0 1633.2,331.0 1634.0,339.7 1634.8,329.7 1635.6,336.7 1636.4,339.6 1637.2,341.6 1638.0,335.8 1638.7,337.1 1639.5,339.5 1640.3,339.6 1641.1,339.6 1641.9,341.5 1642.7,338.2 1643.5,339.9 1644.3,342.2 1645.1,346.3 1645.9,339.5 1646.6,344.4 1647.4,346.2 1648.2,341.1 1649.0,343.4 1649.8,349.9 1650.6,349.5 1651.4,346.8 1652.2,349.3 1653.0,347.0 1653.8,340.7 1654.6,340.3 1655.3,347.9 1656.1,346.3 1656.9,346.4 1657.7,349.2 1658.5,352.9 1659.3,347.1 1660.1,350.4 1660.9,349.2 1661.7,349.0 1662.5,353.0 1663.2,347.3 1664.0,351.5 1664.8,351.5 1665.6,353.4 1666.4,350.9 1667.2,350.5 1668.0,354.7 1668.8,352.2 1669.6,355.0 1670.4,357.3 1671.1,355.4 1671.9,353.4 1672.7,353.9 1673.5,352.9 1674.3,357.4 1675.1,356.8 1675.9,356.2 1676.7,355.1 1677.5,357.1 1678.3,359.4 1679.1,361.0 1679.8,354.6 1680.6,355.1 1681.4,359.4 1682.2,354.4 1683.0,358.3 1683.8,357.2 1684.6,355.3 1685.4,359.7 1686.2,360.5 1687.0,362.9 1687.7,358.1 1688.5,357.9 1689.3,357.0 1690.1,357.7 1690.9,359.0 1691.7,356.6 1692.5,362.0 1693.3,358.6 1694.1,358.4 1694.9,360.0 1695.7,355.7 1696.4,358.9 1697.2,356.8 1698.0,357.9 1698.8,360.6 1699.6,355.6 1700.4,357.6 1701.2,360.4 1702.0,360.8 1702.8,363.1 1703.6,361.0 1704.3,361.3 1705.1,360.2 1705.9,361.8 1706.7,359.5 1707.5,361.1 1708.3,364.8 1709.1,362.2 1709.9,363.2 1710.7,364.2 1711.5,361.8 1712.2,359.0 1713.0,363.9 1713.8,366.1 1714.6,361.7 1715.4,354.1 1716.2,362.8 1717.0,360.7 1717.8,362.4 1718.6,359.3 1719.4,357.9 1720.2,361.8 1720.9,358.6 1721.7,364.1 1722.5,361.0 1723.3,364.6 1724.1,361.1 1724.9,363.1 1725.7,361.0 1726.5,364.3 1727.3,361.1 1728.1,361.4 1728.8,363.1 1729.6,363.6 1730.4,364.6 1731.2,362.7 1732.0,360.8 1732.8,362.1 1733.6,361.4 1734.4,358.7 1735.2,362.6 1736.0,361.1 1736.8,359.8 1737.5,360.6 1738.3,360.9 1739.1,361.7 1739.9,357.2 1740.7,362.1 1741.5,362.8 1742.3,360.5 1743.1,357.9 1743.9,358.5 1744.7,361.8 1745.4,359.9 1746.2,360.7 1747.0,361.7 1747.8,360.3 1748.6,360.4 1749.4,361.6 1750.2,357.8 1751.0,362.8 1751.8,358.6 1752.6,356.8 1753.4,356.8 1754.1,361.3 1754.9,362.4 1755.7,365.8 1756.5,362.1 1757.3,356.0 1758.1,365.7 1758.9,365.7 1759.7,359.9 1760.5,360.4 1761.3,366.4 1762.0,362.1 1762.8,361.1 1763.6,365.6 1764.4,359.6 1765.2,365.1 1766.0,359.2 1766.8,361.4 1767.6,363.6 1768.4,365.8 1769.2,362.8 1769.9,362.2 1770.7,362.2 1771.5,363.4 1772.3,362.4 1773.1,359.8 1773.9,364.1 1774.7,362.4 1775.5,360.8 1776.3,362.0 1777.1,359.8 1777.9,358.2 1778.6,362.8 1779.4,361.4 1780.2,369.1 1781.0,362.8 1781.8,360.3 1782.6,364.7 1783.4,358.7 1784.2,366.5 1785.0,358.7 1785.8,363.2 1786.5,364.4 1787.3,363.1 1788.1,362.6 1788.9,364.4 1789.7,365.3 1790.5,363.2 1791.3,359.7 1792.1,361.0 1792.9,358.7 1793.7,363.4 1794.5,362.8 1795.2,362.8 1796.0,361.6 1796.8,360.8 1797.6,357.7 1798.4,360.2 1799.2,361.6 1800.0,358.7 1800.8,363.9 1801.6,365.1 1802.4,360.3 1803.1,361.6 1803.9,361.7 1804.7,359.7 1805.5,362.8 1806.3,362.2 1807.1,361.0 1807.9,360.4 1808.7,359.6 1809.5,361.7 1810.3,361.3 1811.0,367.8 1811.8,359.0 1812.6,365.8 1813.4,362.1 1814.2,355.8 1815.0,362.8 1815.8,365.8 1816.6,358.1 1817.4,363.3 1818.2,362.4 1819.0,362.4 1819.7,360.2 1820.5,360.1 1821.3,362.3 1822.1,359.3 1822.9,364.2 1823.7,360.3 1824.5,363.5 1825.3,360.3 1826.1,363.6 1826.9,363.0 1827.6,358.4 1828.4,364.7 1829.2,364.8 1830.0,360.6 1830.8,362.6 1831.6,363.0" stroke="#ff0000" stroke-width="1.30"/>
<polyline points="1337.6,371.3 1338.4,373.5 1339.2,371.7 1340.0,370.7 1340.8,373.4 1341.6,369.4 1342.3,373.8 1343.1,371.8 1343.9,370.9 1344.7,365.4 1345.5,374.9 1346.3,370.9 1347.1,366.6 1347.9,372.6 1348.7,369.3 1349.5,371.0 1350.2,374.2 1351.0,370.7 1351.8,373.1 1352.6,371.2 1353.4,374.3 1354.2,370.0 1355.0,376.0 1355.8,371.7 1356.6,368.8 1357.4,370.3 1358.2,372.0 1358.9,371.8 1359.7,372.1 1360.5,366.0 1361.3,371.4 1362.1,371.3 1362.9,372.7 1363.7,372.2 1364.5,370.1 1365.3,372.4 1366.1,372.8 1366.8,372.3 1367.6,371.9 1368.4,370.9 1369.2,372.1 1370.0,371.6 1370.8,372.6 1371.6,368.8 1372.4,371.0 1373.2,371.8 1374.0,370.6 1374.7,371.3 1375.5,374.2 1376.3,371.5 1377.1,368.0 1377.9,370.2 1378.7,368.9 1379.5,372.4 1380.3,374.0 1381.1,372.5 1381.9,368.5 1382.7,373.1 1383.4,372.7 1384.2,369.0 1385.0,371.6 1385.8,371.5 1386.6,370.4 1387.4,371.0 1388.2,371.7 1389.0,370.6 1389.8,372.5 1390.6,371.2 1391.3,369.9 1392.1,373.2 1392.9,371.5 1393.7,373.3 1394.5,369.7 1395.3,369.9 1396.1,369.3 1396.9,369.1 1397.7,369.1 1398.5,369.7 1399.3,372.6 1400.0,369.3 1400.8,372.9 1401.6,366.6 1402.4,370.5 1403.2,369.8 1404.0,373.1 1404.8,368.3 1405.6,367.8 1406.4,372.7 1407.2,370.4 1407.9,369.8 1408.7,369.8 1409.5,365.5 1410.3,363.6 1411.1,369.5 1411.9,365.0 1412.7,367.1 1413.5,363.4 1414.3,370.3 1415.1,365.7 1415.8,361.8 1416.6,364.7 1417.4,359.9 1418.2,362.1 1419.0,357.7 1419.8,357.5 1420.6,358.0 1421.4,357.0 1422.2,353.9 1423.0,349.3 1423.8,349.3 1424.5,348.1 1425.3,337.7 1426.1,344.2 1426.9,338.1 1427.7,332.7 1428.5,331.4 1429.3,324.2 1430.1,318.3 1430.9,312.6 1431.7,301.2 1432.4,297.3 1433.2,291.0 1434.0,281.9 1434.8,281.4 1435.6,273.4 1436.4,267.9 1437.2,264.6 1438.0,262.5 1438.8,261.4 1439.6,261.3 1440.4,256.4 1441.1,254.6 1441.9,256.5 1442.7,258.9 1443.5,257.9 1444.3,264.6 1445.1,264.8 1445.9,269.7 1446.7,275.7 1447.5,273.4 1448.3,279.4 1449.0,283.4 1449.8,290.6 1450.6,290.7 1451.4,292.1 1452.2,296.2 1453.0,293.4 1453.8,302.2 1454.6,298.6 1455.4,305.3 1456.2,306.3 1457.0,307.5 1457.7,305.7 1458.5,310.1 1459.3,311.9 1460.1,314.3 1460.9,317.2 1461.7,317.9 1462.5,319.7 1463.3,319.9 1464.1,321.3 1464.9,326.2 1465.6,323.5 1466.4,320.5 1467.2,324.3 1468.0,324.1 1468.8,325.9 1469.6,326.3 1470.4,325.5 1471.2,328.3 1472.0,326.3 1472.8,329.5 1473.5,325.7 1474.3,329.5 1475.1,325.0 1475.9,323.9 1476.7,328.4 1477.5,323.1 1478.3,324.2 1479.1,320.0 1479.9,322.0 1480.7,320.2 1481.5,318.8 1482.2,314.5 1483.0,319.3 1483.8,312.6 1484.6,312.2 1485.4,311.5 1486.2,309.0 1487.0,304.6 1487.8,302.6 1488.6,298.7 1489.4,301.0 1490.1,301.3 1490.9,296.7 1491.7,294.2 1492.5,292.9 1493.3,287.9 1494.1,284.1 1494.9,286.0 1495.7,288.5 1496.5,281.4 1497.3,283.1 1498.1,280.3 1498.8,277.3 1499.6,276.9 1500.4,276.6 1501.2,274.7 1502.0,272.7 1502.8,271.9 1503.6,268.1 1504.4,276.9 1505.2,271.7 1506.0,270.4 1506.7,266.9 1507.5,267.3 1508.3,265.5 1509.1,269.3 1509.9,266.5 1510.7,264.4 1511.5,265.3 1512.3,265.6 1513.1,264.0 1513.9,261.0 1514.6,267.9 1515.4,260.5 1516.2,262.7 1517.0,264.6 1517.8,261.4 1518.6,262.3 1519.4,259.8 1520.2,263.4 1521.0,259.7 1521.8,263.0 1522.6,260.3 1523.3,259.2 1524.1,260.3 1524.9,258.5 1525.7,260.5 1526.5,256.8 1527.3,259.4 1528.1,259.3 1528.9,257.8 1529.7,257.2 1530.5,258.3 1531.2,254.8 1532.0,256.2 1532.8,254.4 1533.6,258.2 1534.4,257.6 1535.2,255.3 1536.0,256.6 1536.8,254.8 1537.6,253.5 1538.4,252.5 1539.2,252.2 1539.9,254.1 1540.7,257.7 1541.5,256.0 1542.3,259.0 1543.1,257.9 1543.9,261.9 1544.7,258.2 1545.5,260.8 1546.3,262.8 1547.1,265.4 1547.8,262.6 1548.6,264.2 1549.4,262.4 1550.2,263.5 1551.0,262.1 1551.8,258.6 1552.6,255.8 1553.4,260.1 1554.2,257.3 1555.0,255.9 1555.8,257.0 1556.5,257.8 1557.3,253.1 1558.1,259.3 1558.9,257.5 1559.7,259.7 1560.5,259.5 1561.3,264.4 1562.1,258.8 1562.9,261.4 1563.7,263.3 1564.4,258.6 1565.2,262.6 1566.0,263.3 1566.8,263.6 1567.6,259.7 1568.4,261.3 1569.2,261.5 1570.0,262.8 1570.8,261.3 1571.6,258.1 1572.3,258.0 1573.1,261.0 1573.9,258.0 1574.7,255.0 1575.5,249.4 1576.3,255.3 1577.1,257.4 1577.9,251.0 1578.7,252.8 1579.5,254.0 1580.3,250.1 1581.0,251.5 1581.8,253.0 1582.6,253.9 1583.4,252.2 1584.2,252.6 1585.0,257.1 1585.8,252.9 1586.6,258.4 1587.4,254.6 1588.2,258.0 1588.9,260.4 1589.7,260.8 1590.5,264.0 1591.3,264.2 1592.1,262.1 1592.9,267.5 1593.7,266.0 1594.5,270.5 1595.3,269.9 1596.1,269.2 1596.9,274.6 1597.6,272.9 1598.4,278.9 1599.2,278.1 1600.0,277.9 1600.8,276.6 1601.6,278.1 1602.4,282.5 1603.2,282.2 1604.0,282.8 1604.8,287.3 1605.5,284.7 1606.3,284.1 1607.1,285.6 1607.9,290.3 1608.7,291.2 1609.5,293.4 1610.3,293.8 1611.1,294.5 1611.9,293.9 1612.7,296.2 1613.4,299.4 1614.2,297.2 1615.0,298.2 1615.8,302.2 1616.6,302.7 1617.4,303.5 1618.2,307.6 1619.0,305.3 1619.8,305.4 1620.6,304.1 1621.4,308.6 1622.1,310.6 1622.9,311.5 1623.7,311.2 1624.5,312.0 1625.3,316.3 1626.1,315.4 1626.9,315.6 1627.7,321.8 1628.5,316.3 1629.3,320.5 1630.0,319.4 1630.8,322.2 1631.6,323.5 1632.4,324.1 1633.2,324.4 1634.0,324.1 1634.8,327.1 1635.6,329.6 1636.4,329.5 1637.2,330.8 1638.0,328.2 1638.7,332.2 1639.5,328.1 1640.3,331.4 1641.1,332.5 1641.9,330.5 1642.7,334.3 1643.5,334.8 1644.3,333.3 1645.1,334.0 1645.9,337.9 1646.6,331.8 1647.4,336.0 1648.2,340.1 1649.0,338.6 1649.8,337.0 1650.6,338.9 1651.4,338.2 1652.2,335.8 1653.0,339.1 1653.8,337.5 1654.6,340.6 1655.3,343.7 1656.1,340.0 1656.9,344.8 1657.7,342.1 1658.5,343.2 1659.3,346.6 1660.1,346.9 1660.9,346.4 1661.7,345.8 1662.5,344.5 1663.2,347.5 1664.0,344.5 1664.8,347.0 1665.6,350.5 1666.4,351.0 1667.2,350.2 1668.0,352.0 1668.8,351.7 1669.6,350.6 1670.4,352.1 1671.1,351.3 1671.9,355.0 1672.7,355.9 1673.5,357.5 1674.3,358.7 1675.1,356.6 1675.9,356.1 1676.7,357.1 1677.5,357.2 1678.3,353.7 1679.1,360.2 1679.8,359.0 1680.6,359.8 1681.4,361.0 1682.2,356.9 1683.0,359.9 1683.8,357.7 1684.6,362.6 1685.4,357.1 1686.2,356.6 1687.0,362.9 1687.7,361.5 1688.5,362.0 1689.3,360.9 1690.1,364.8 1690.9,361.6 1691.7,361.3 1692.5,364.2 1693.3,367.6 1694.1,364.8 1694.9,364.4 1695.7,362.4 1696.4,365.3 1697.2,366.6 1698.0,363.3 1698.8,364.0 1699.6,363.5 1700.4,365.0 1701.2,363.3 1702.0,364.5 1702.8,369.1 1703.6,365.5 1704.3,364.5 1705.1,366.1 1705.9,363.5 1706.7,367.4 1707.5,365.3 1708.3,369.2 1709.1,367.0 1709.9,368.2 1710.7,369.2 1711.5,369.9 1712.2,367.1 1713.0,366.8 1713.8,369.0 1714.6,370.3 1715.4,369.7 1716.2,366.6 1717.0,370.5 1717.8,366.1 1718.6,371.7 1719.4,368.0 1720.2,367.3 1720.9,366.4 1721.7,369.7 1722.5,370.4 1723.3,371.8 1724.1,367.4 1724.9,369.5 1725.7,370.2 1726.5,370.2 1727.3,369.0 1728.1,369.5 1728.8,367.4 1729.6,373.9 1730.4,368.2 1731.2,371.0 1732.0,370.2 1732.8,370.7 1733.6,370.3 1734.4,368.8 1735.2,369.9 1736.0,373.2 1736.8,370.6 1737.5,370.7 1738.3,369.9 1739.1,370.6 1739.9,370.9 1740.7,368.8 1741.5,372.9 1742.3,366.7 1743.1,372.0 1743.9,373.0 1744.7,369.5 1745.4,368.9 1746.2,368.6 1747.0,368.3 1747.8,370.2 1748.6,371.0 1749.4,370.4 1750.2,371.1 1751.0,372.2 1751.8,368.1 1752.6,367.7 1753.4,371.2 1754.1,371.6 1754.9,372.1 1755.7,374.5 1756.5,372.5 1757.3,372.2 1758.1,371.3 1758.9,373.2 1759.7,374.9 1760.5,370.0 1761.3,367.9 1762.0,375.4 1762.8,371.6 1763.6,369.6 1764.4,373.6 1765.2,374.1 1766.0,371.3 1766.8,371.8 1767.6,372.6 1768.4,368.2 1769.2,368.5 1769.9,370.1 1770.7,371.5 1771.5,372.0 1772.3,369.7 1773.1,371.8 1773.9,368.5 1774.7,369.0 1775.5,372.6 1776.3,369.9 1777.1,368.4 1777.9,370.1 1778.6,373.2 1779.4,371.9 1780.2,372.1 1781.0,371.2 1781.8,371.4 1782.6,372.1 1783.4,369.8 1784.2,368.8 1785.0,372.5 1785.8,374.3 1786.5,370.7 1787.3,371.4 1788.1,370.6 1788.9,372.8 1789.7,370.9 1790.5,373.2 1791.3,369.3 1792.1,368.2 1792.9,373.3 1793.7,376.5 1794.5,372.4 1795.2,372.5 1796.0,371.1 1796.8,371.4 1797.6,370.5 1798.4,366.2 1799.2,372.5 1800.0,372.2 1800.8,370.6 1801.6,375.0 1802.4,369.9 1803.1,372.7 1803.9,374.3 1804.7,373.1 1805.5,370.5 1806.3,369.9 1807.1,369.1 1807.9,370.6 1808.7,372.9 1809.5,370.4 1810.3,371.6 1811.0,367.0 1811.8,375.5 1812.6,368.4 1813.4,370.0 1814.2,370.7 1815.0,371.7 1815.8,372.6 1816.6,373.3 1817.4,374.5 1818.2,367.5 1819.0,369.7 1819.7,370.2 1820.5,370.8 1821.3,375.2 1822.1,372.0 1822.9,371.2 1823.7,369.2 1824.5,373.4 1825.3,370.9 1826.1,371.9 1826.9,371.4 1827.6,373.0 1828.4,370.8 1829.2,371.3 1830.0,375.1 1830.8,369.1 1831.6,367.2" stroke="#0000ff" stroke-width="2.50"/>
</g>
<path d="M1604.3 39.0H1649" stroke="#000000" stroke-width="3.4" stroke-linecap="round"/>
<path d="M1604.3 62.9H1649" stroke="#33ff33" stroke-width="1.6" stroke-linecap="round"/>
<path d="M1604.3 87.1H1649" stroke="#993333" stroke-width="1.8" stroke-linecap="round"/>
<path d="M1604.3 111.3H1649" stroke="#ffff00" stroke-width="1.8" stroke-linecap="round"/>
<path d="M1604.3 135.1H1649" stroke="#ff3333" stroke-width="1.8" stroke-linecap="round"/>
<path d="M1604.3 158.8H1649" stroke="#118811" stroke-width="1.8" stroke-linecap="round"/>
<path d="M1604.3 183.0H1649" stroke="#ffbbc4" stroke-width="1.8" stroke-linecap="round"/>
<path d="M1604.3 206.9H1649" stroke="#888822" stroke-width="1.8" stroke-linecap="round"/>
<path d="M1604.3 231.3H1649" stroke="#22ffff" stroke-width="1.8" stroke-linecap="round"/>
<path d="M1604.3 255.3H1649" stroke="#ff2222" stroke-width="1.8" stroke-linecap="round"/>
<path d="M1604.3 279.4H1649" stroke="#0000ff" stroke-width="2.8" stroke-linecap="round"/>
<g font-family="Liberation Sans, Arial, sans-serif" fill="#000">
<text transform="translate(1653.60 44.90) scale(1.040 1.000)" font-size="19" xml:space="preserve">1.5 hour</text>
<text transform="translate(1653.60 68.80) scale(1.040 1.000)" font-size="19" xml:space="preserve"> 1 hour</text>
<text transform="translate(1653.60 93.00) scale(1.040 1.000)" font-size="19" xml:space="preserve"> 2.5 hours</text>
<text transform="translate(1653.60 117.20) scale(1.040 1.000)" font-size="19" xml:space="preserve"> 5 hour</text>
<text transform="translate(1653.60 141.00) scale(1.040 1.000)" font-size="19" xml:space="preserve"> 6 hours</text>
<text transform="translate(1653.60 164.70) scale(1.040 1.000)" font-size="19" xml:space="preserve"> 7 hours</text>
<text transform="translate(1653.60 188.90) scale(1.040 1.000)" font-size="19" xml:space="preserve"> 8 hours</text>
<text transform="translate(1653.60 212.80) scale(1.040 1.000)" font-size="19" xml:space="preserve"> 9 hours</text>
<text transform="translate(1653.60 237.20) scale(1.040 1.000)" font-size="19" xml:space="preserve">10 hours</text>
<text transform="translate(1653.60 261.20) scale(1.040 1.000)" font-size="19" xml:space="preserve">11 hours</text>
<text transform="translate(1653.60 285.30) scale(1.040 1.000)" font-size="19" xml:space="preserve"> Start</text>
<text transform="translate(1584.70 444.60) scale(1.010 1.000)" font-size="21" text-anchor="middle">Wavelength (nm)</text>
<text transform="translate(1265.50 205.35) scale(0.930 1.010) rotate(-90)" font-size="21" text-anchor="middle">Reflectance Intensity</text>
</g>
<g stroke="#111" stroke-width="1.6" fill="none">
<path d="M659.7 895.5V529.5"/>
<path d="M658.9 894.7H1153.2"/>
<path d="M652.2 857.4H659.7M652.2 797.8H659.7M652.2 738.2H659.7M652.2 678.5H659.7M652.2 618.9H659.7M652.2 559.3H659.7M655.7 887.2H659.7M655.7 827.6H659.7M655.7 768.0H659.7M655.7 708.4H659.7M655.7 648.7H659.7M655.7 589.1H659.7M655.7 529.5H659.7M709.1 894.7V902.2M807.8 894.7V902.2M906.5 894.7V902.2M1005.2 894.7V902.2M1103.8 894.7V902.2M659.7 894.7V898.7M758.4 894.7V898.7M857.1 894.7V898.7M955.8 894.7V898.7M1054.5 894.7V898.7M1153.2 894.7V898.7"/>
</g>
<g font-family="Liberation Sans, Arial, sans-serif" fill="#000">
<text transform="translate(647.00 862.40) scale(1.094 1.000)" font-size="17" text-anchor="end">400</text>
<text transform="translate(647.00 802.78) scale(1.094 1.000)" font-size="17" text-anchor="end">800</text>
<text transform="translate(647.00 743.16) scale(1.094 1.000)" font-size="17" text-anchor="end">1200</text>
<text transform="translate(647.00 683.54) scale(1.094 1.000)" font-size="17" text-anchor="end">1600</text>
<text transform="translate(647.00 623.92) scale(1.094 1.000)" font-size="17" text-anchor="end">2000</text>
<text transform="translate(647.00 564.30) scale(1.094 1.000)" font-size="17" text-anchor="end">2400</text>
<text transform="translate(709.05 921.10) scale(1.030 1.000)" font-size="17" text-anchor="middle">400</text>
<text transform="translate(807.75 921.10) scale(1.030 1.000)" font-size="17" text-anchor="middle">500</text>
<text transform="translate(906.45 921.10) scale(1.030 1.000)" font-size="17" text-anchor="middle">600</text>
<text transform="translate(1005.15 921.10) scale(1.030 1.000)" font-size="17" text-anchor="middle">700</text>
<text transform="translate(1103.85 921.10) scale(1.030 1.000)" font-size="17" text-anchor="middle">800</text>
</g>
<g fill="none" stroke-linejoin="round">
<polyline points="659.7,888.2 660.5,889.1 661.3,888.3 662.1,889.1 662.9,888.6 663.6,889.3 664.4,888.4 665.2,888.2 666.0,888.8 666.8,889.6 667.6,889.4 668.4,889.8 669.2,888.9 670.0,888.9 670.8,889.6 671.5,888.7 672.3,889.6 673.1,888.1 673.9,888.7 674.7,888.3 675.5,889.6 676.3,889.8 677.1,890.3 677.9,888.8 678.7,889.9 679.4,888.4 680.2,889.1 681.0,888.8 681.8,890.0 682.6,889.6 683.4,889.1 684.2,888.8 685.0,890.0 685.8,889.0 686.5,889.7 687.3,888.7 688.1,889.3 688.9,889.4 689.7,889.0 690.5,888.5 691.3,889.4 692.1,888.5 692.9,889.8 693.7,889.0 694.4,889.9 695.2,889.1 696.0,889.8 696.8,889.2 697.6,888.8 698.4,889.8 699.2,890.3 700.0,889.3 700.8,888.9 701.5,889.1 702.3,889.7 703.1,888.7 703.9,889.4 704.7,888.8 705.5,889.7 706.3,888.9 707.1,888.5 707.9,889.6 708.7,889.4 709.4,888.8 710.2,888.9 711.0,889.0 711.8,889.3 712.6,890.1 713.4,889.2 714.2,890.0 715.0,889.2 715.8,890.6 716.6,888.4 717.3,888.1 718.1,888.9 718.9,889.7 719.7,889.4 720.5,888.7 721.3,888.8 722.1,889.6 722.9,888.5 723.7,888.8 724.4,888.9 725.2,889.4 726.0,889.2 726.8,889.6 727.6,889.1 728.4,889.6 729.2,888.5 730.0,889.2 730.8,889.1 731.6,889.0 732.3,889.0 733.1,890.0 733.9,888.4 734.7,889.1 735.5,889.5 736.3,889.8 737.1,889.6 737.9,889.6 738.7,889.2 739.4,889.7 740.2,889.1 741.0,889.1 741.8,889.6 742.6,887.9 743.4,889.3 744.2,889.0 745.0,889.1 745.8,889.3 746.6,888.8 747.3,888.4 748.1,889.2 748.9,889.7 749.7,888.9 750.5,890.5 751.3,889.1 752.1,889.3 752.9,889.0 753.7,890.1 754.5,889.5 755.2,889.8 756.0,889.5 756.8,888.9 757.6,889.3 758.4,889.6 759.2,888.5 760.0,889.2 760.8,890.4 761.6,889.8 762.3,889.0 763.1,888.9 763.9,889.1 764.7,889.1 765.5,889.7 766.3,889.3 767.1,889.9 767.9,889.7 768.7,889.7 769.5,889.7 770.2,889.4 771.0,889.3 771.8,889.7 772.6,888.6 773.4,889.5 774.2,888.3 775.0,888.6 775.8,889.9 776.6,888.7 777.4,890.0 778.1,888.4 778.9,889.0 779.7,889.8 780.5,890.5 781.3,889.5 782.1,890.0 782.9,888.6 783.7,890.0 784.5,889.4 785.2,888.9 786.0,889.2 786.8,889.1 787.6,889.4 788.4,888.8 789.2,889.8 790.0,888.9 790.8,889.9 791.6,889.1 792.4,889.9 793.1,889.3 793.9,888.9 794.7,888.5 795.5,890.3 796.3,889.7 797.1,889.8 797.9,888.5 798.7,889.7 799.5,888.8 800.2,889.5 801.0,890.1 801.8,889.2 802.6,889.9 803.4,888.8 804.2,888.7 805.0,888.4 805.8,889.8 806.6,888.3 807.4,888.6 808.1,890.3 808.9,887.9 809.7,888.2 810.5,889.8 811.3,889.0 812.1,890.0 812.9,889.3 813.7,889.1 814.5,888.8 815.3,889.7 816.0,889.2 816.8,889.7 817.6,889.0 818.4,888.8 819.2,889.2 820.0,888.5 820.8,888.7 821.6,889.0 822.4,888.5 823.1,889.9 823.9,889.2 824.7,890.2 825.5,889.2 826.3,889.5 827.1,888.7 827.9,889.4 828.7,889.6 829.5,889.2 830.3,889.3 831.0,888.9 831.8,889.7 832.6,890.1 833.4,890.1 834.2,888.5 835.0,889.9 835.8,889.4 836.6,889.8 837.4,888.6 838.1,889.5 838.9,888.4 839.7,889.6 840.5,889.0 841.3,888.7 842.1,888.6 842.9,889.9 843.7,889.4 844.5,889.2 845.3,890.2 846.0,888.7 846.8,888.9 847.6,888.8 848.4,890.0 849.2,889.0 850.0,888.9 850.8,888.5 851.6,889.4 852.4,888.7 853.2,888.0 853.9,889.4 854.7,889.4 855.5,889.3 856.3,890.0 857.1,889.3 857.9,888.2 858.7,889.7 859.5,889.2 860.3,888.4 861.0,888.8 861.8,889.0 862.6,889.3 863.4,889.2 864.2,889.1 865.0,888.7 865.8,889.1 866.6,888.5 867.4,890.2 868.2,888.6 868.9,889.4 869.7,889.1 870.5,889.3 871.3,888.7 872.1,889.2 872.9,888.7 873.7,889.6 874.5,889.0 875.3,888.4 876.1,888.4 876.8,889.3 877.6,889.0 878.4,889.3 879.2,889.1 880.0,889.1 880.8,888.4 881.6,888.7 882.4,888.2 883.2,888.2 883.9,889.8 884.7,888.9 885.5,889.3 886.3,890.0 887.1,889.7 887.9,889.3 888.7,888.1 889.5,889.0 890.3,889.2 891.1,889.1 891.8,889.5 892.6,888.9 893.4,889.1 894.2,890.0 895.0,889.3 895.8,887.1 896.6,888.7 897.4,889.1 898.2,888.6 898.9,889.6 899.7,889.0 900.5,888.5 901.3,890.0 902.1,889.4 902.9,889.2 903.7,889.2 904.5,889.3 905.3,888.8 906.1,888.4 906.8,888.8 907.6,888.4 908.4,888.4 909.2,889.3 910.0,888.8 910.8,889.2 911.6,888.6 912.4,889.1 913.2,889.0 914.0,887.9 914.7,889.0 915.5,889.8 916.3,888.8 917.1,888.7 917.9,889.1 918.7,888.8 919.5,888.2 920.3,889.1 921.1,888.8 921.8,889.1 922.6,888.5 923.4,888.7 924.2,889.2 925.0,888.7 925.8,887.5 926.6,889.6 927.4,889.3 928.2,888.3 929.0,889.3 929.7,887.3 930.5,889.3 931.3,889.2 932.1,888.7 932.9,887.7 933.7,887.9 934.5,888.0 935.3,888.1 936.1,887.5 936.8,889.3 937.6,888.0 938.4,887.3 939.2,888.8 940.0,887.9 940.8,887.4 941.6,887.3 942.4,888.1 943.2,886.9 944.0,887.7 944.7,887.4 945.5,888.6 946.3,888.4 947.1,888.4 947.9,886.9 948.7,889.2 949.5,888.9 950.3,887.4 951.1,887.8 951.9,889.6 952.6,888.1 953.4,888.0 954.2,887.1 955.0,888.9 955.8,888.1 956.6,887.2 957.4,887.3 958.2,888.3 959.0,887.9 959.7,888.6 960.5,887.0 961.3,888.0 962.1,887.0 962.9,887.3 963.7,888.3 964.5,887.8 965.3,887.4 966.1,887.5 966.9,886.9 967.6,887.1 968.4,887.5 969.2,887.3 970.0,888.1 970.8,888.1 971.6,887.4 972.4,887.5 973.2,888.4 974.0,887.8 974.8,888.2 975.5,888.0 976.3,887.0 977.1,888.2 977.9,888.1 978.7,887.4 979.5,887.6 980.3,887.6 981.1,888.5 981.9,887.7 982.6,887.9 983.4,888.1 984.2,888.0 985.0,887.8 985.8,887.2 986.6,886.6 987.4,887.6 988.2,886.8 989.0,887.6 989.8,888.5 990.5,887.6 991.3,886.9 992.1,886.8 992.9,888.2 993.7,886.4 994.5,888.1 995.3,888.1 996.1,887.9 996.9,886.8 997.6,887.4 998.4,887.1 999.2,888.9 1000.0,887.7 1000.8,887.7 1001.6,887.2 1002.4,887.9 1003.2,886.9 1004.0,888.0 1004.8,888.4 1005.5,888.6 1006.3,886.9 1007.1,887.2 1007.9,888.1 1008.7,887.0 1009.5,887.8 1010.3,887.7 1011.1,888.5 1011.9,888.0 1012.7,887.6 1013.4,887.6 1014.2,888.0 1015.0,887.2 1015.8,886.9 1016.6,888.2 1017.4,887.5 1018.2,888.7 1019.0,887.6 1019.8,888.4 1020.5,887.9 1021.3,887.8 1022.1,888.0 1022.9,887.3 1023.7,888.4 1024.5,888.2 1025.3,887.8 1026.1,888.0 1026.9,887.9 1027.7,888.1 1028.4,888.5 1029.2,887.7 1030.0,888.0 1030.8,887.6 1031.6,887.4 1032.4,888.4 1033.2,888.6 1034.0,888.5 1034.8,888.6 1035.5,889.4 1036.3,887.3 1037.1,888.1 1037.9,887.0 1038.7,888.7 1039.5,888.0 1040.3,888.2 1041.1,888.4 1041.9,887.9 1042.7,888.4 1043.4,888.5 1044.2,888.4 1045.0,889.8 1045.8,888.9 1046.6,889.0 1047.4,887.6 1048.2,888.2 1049.0,888.1 1049.8,888.2 1050.6,888.7 1051.3,887.7 1052.1,888.8 1052.9,889.5 1053.7,888.3 1054.5,888.0 1055.3,888.6 1056.1,888.5 1056.9,888.1 1057.7,887.8 1058.4,888.4 1059.2,887.7 1060.0,888.6 1060.8,887.5 1061.6,889.5 1062.4,888.2 1063.2,888.6 1064.0,888.7 1064.8,889.5 1065.6,888.2 1066.3,888.9 1067.1,889.4 1067.9,889.2 1068.7,888.9 1069.5,888.8 1070.3,889.3 1071.1,889.4 1071.9,888.6 1072.7,888.9 1073.5,887.7 1074.2,889.1 1075.0,888.4 1075.8,887.9 1076.6,889.0 1077.4,888.3 1078.2,888.7 1079.0,888.9 1079.8,888.0 1080.6,889.5 1081.3,889.3 1082.1,889.9 1082.9,889.0 1083.7,888.4 1084.5,889.1 1085.3,888.5 1086.1,889.4 1086.9,888.3 1087.7,889.0 1088.5,889.2 1089.2,888.0 1090.0,889.0 1090.8,888.7 1091.6,888.9 1092.4,888.6 1093.2,888.9 1094.0,889.7 1094.8,888.9 1095.6,888.8 1096.3,888.8 1097.1,889.2 1097.9,888.0 1098.7,889.5 1099.5,889.0 1100.3,888.9 1101.1,889.7 1101.9,889.8 1102.7,888.7 1103.5,888.7 1104.2,889.0 1105.0,890.0 1105.8,889.3 1106.6,889.0 1107.4,888.8 1108.2,888.4 1109.0,888.9 1109.8,888.6 1110.6,888.2 1111.4,890.5 1112.1,888.6 1112.9,889.4 1113.7,888.9 1114.5,889.0 1115.3,889.7 1116.1,889.7 1116.9,888.9 1117.7,889.3 1118.5,888.8 1119.2,889.4 1120.0,888.0 1120.8,889.3 1121.6,888.0 1122.4,889.6 1123.2,888.9 1124.0,888.6 1124.8,890.0 1125.6,889.8 1126.4,889.0 1127.1,888.6 1127.9,888.4 1128.7,888.9 1129.5,888.6 1130.3,889.9 1131.1,889.5 1131.9,888.4 1132.7,889.5 1133.5,889.4 1134.2,890.2 1135.0,889.3 1135.8,890.2 1136.6,889.0 1137.4,888.4 1138.2,889.1 1139.0,889.2 1139.8,889.5 1140.6,888.9 1141.4,889.9 1142.1,889.5 1142.9,888.0 1143.7,890.0 1144.5,889.6 1145.3,890.1 1146.1,888.6 1146.9,889.4 1147.7,890.0 1148.5,890.0 1149.3,888.6 1150.0,888.9 1150.8,888.8 1151.6,889.3 1152.4,888.8 1153.2,888.5" stroke="#000000" stroke-width="1.70"/>
<polyline points="659.7,889.1 660.5,890.3 661.3,890.0 662.1,889.2 662.9,889.9 663.6,890.2 664.4,888.6 665.2,888.9 666.0,888.7 666.8,888.6 667.6,888.2 668.4,889.3 669.2,889.4 670.0,890.5 670.8,889.5 671.5,889.7 672.3,888.5 673.1,888.8 673.9,888.2 674.7,888.5 675.5,888.4 676.3,888.9 677.1,889.2 677.9,889.6 678.7,889.3 679.4,890.0 680.2,889.0 681.0,889.3 681.8,890.7 682.6,891.2 683.4,889.8 684.2,889.6 685.0,889.5 685.8,888.3 686.5,889.7 687.3,890.2 688.1,889.0 688.9,888.6 689.7,888.1 690.5,890.0 691.3,889.4 692.1,889.6 692.9,888.2 693.7,888.8 694.4,889.2 695.2,888.7 696.0,889.5 696.8,889.4 697.6,889.3 698.4,889.6 699.2,889.4 700.0,889.0 700.8,889.1 701.5,888.2 702.3,888.6 703.1,889.3 703.9,890.8 704.7,890.3 705.5,889.6 706.3,889.5 707.1,890.2 707.9,889.5 708.7,889.1 709.4,889.7 710.2,889.3 711.0,889.3 711.8,889.7 712.6,889.8 713.4,889.3 714.2,889.0 715.0,889.9 715.8,890.6 716.6,889.9 717.3,888.8 718.1,890.3 718.9,888.5 719.7,889.6 720.5,889.1 721.3,889.7 722.1,888.7 722.9,889.1 723.7,888.9 724.4,890.5 725.2,888.6 726.0,890.3 726.8,889.4 727.6,888.7 728.4,889.2 729.2,888.8 730.0,889.0 730.8,889.0 731.6,889.7 732.3,888.4 733.1,888.3 733.9,889.4 734.7,889.7 735.5,888.9 736.3,889.6 737.1,888.9 737.9,888.5 738.7,888.6 739.4,888.0 740.2,888.6 741.0,889.6 741.8,889.4 742.6,888.3 743.4,887.2 744.2,888.6 745.0,888.8 745.8,887.0 746.6,887.9 747.3,887.1 748.1,886.6 748.9,887.8 749.7,887.0 750.5,886.7 751.3,885.4 752.1,884.7 752.9,884.8 753.7,883.3 754.5,884.3 755.2,882.0 756.0,881.3 756.8,880.9 757.6,881.3 758.4,879.9 759.2,880.0 760.0,877.7 760.8,878.4 761.6,877.8 762.3,877.2 763.1,876.3 763.9,876.2 764.7,875.6 765.5,876.5 766.3,875.0 767.1,876.2 767.9,875.6 768.7,876.4 769.5,876.3 770.2,877.5 771.0,879.0 771.8,879.2 772.6,879.0 773.4,878.1 774.2,879.6 775.0,879.5 775.8,878.9 776.6,880.4 777.4,880.0 778.1,880.2 778.9,881.0 779.7,880.6 780.5,880.2 781.3,880.3 782.1,881.4 782.9,879.2 783.7,881.1 784.5,881.6 785.2,882.0 786.0,882.3 786.8,881.1 787.6,883.7 788.4,881.9 789.2,882.8 790.0,882.0 790.8,882.0 791.6,882.9 792.4,882.7 793.1,881.1 793.9,882.4 794.7,882.0 795.5,882.1 796.3,881.2 797.1,880.7 797.9,880.8 798.7,880.8 799.5,880.5 800.2,881.5 801.0,879.5 801.8,880.5 802.6,880.5 803.4,879.8 804.2,879.8 805.0,878.5 805.8,877.9 806.6,877.0 807.4,877.5 808.1,877.3 808.9,876.5 809.7,876.6 810.5,875.8 811.3,873.3 812.1,874.7 812.9,874.0 813.7,872.8 814.5,872.5 815.3,871.7 816.0,872.3 816.8,871.9 817.6,869.7 818.4,870.6 819.2,869.7 820.0,869.0 820.8,869.9 821.6,868.3 822.4,868.1 823.1,866.9 823.9,867.0 824.7,868.0 825.5,865.5 826.3,867.5 827.1,865.6 827.9,865.4 828.7,865.0 829.5,864.3 830.3,863.3 831.0,864.2 831.8,863.7 832.6,862.5 833.4,862.3 834.2,861.9 835.0,861.8 835.8,862.0 836.6,861.8 837.4,861.6 838.1,860.3 838.9,859.7 839.7,859.1 840.5,860.9 841.3,860.1 842.1,859.7 842.9,859.6 843.7,860.1 844.5,857.5 845.3,857.8 846.0,858.8 846.8,858.8 847.6,858.3 848.4,858.9 849.2,858.1 850.0,857.2 850.8,856.4 851.6,856.8 852.4,856.3 853.2,857.8 853.9,859.2 854.7,855.7 855.5,856.4 856.3,856.4 857.1,855.0 857.9,856.7 858.7,856.5 859.5,856.2 860.3,854.4 861.0,854.7 861.8,856.4 862.6,853.8 863.4,854.7 864.2,854.3 865.0,854.9 865.8,852.9 866.6,853.7 867.4,852.9 868.2,854.3 868.9,852.9 869.7,853.2 870.5,853.2 871.3,853.4 872.1,853.1 872.9,853.3 873.7,852.7 874.5,852.1 875.3,851.4 876.1,852.7 876.8,852.1 877.6,851.6 878.4,852.1 879.2,850.9 880.0,850.7 880.8,850.4 881.6,849.7 882.4,849.1 883.2,848.9 883.9,849.0 884.7,848.5 885.5,849.1 886.3,848.8 887.1,847.4 887.9,847.0 888.7,845.5 889.5,846.9 890.3,847.0 891.1,845.8 891.8,846.0 892.6,846.0 893.4,844.1 894.2,843.4 895.0,844.3 895.8,844.8 896.6,844.0 897.4,844.1 898.2,844.9 898.9,843.3 899.7,843.5 900.5,842.8 901.3,844.0 902.1,843.6 902.9,843.6 903.7,844.6 904.5,841.6 905.3,844.8 906.1,844.1 906.8,843.5 907.6,844.4 908.4,843.0 909.2,843.6 910.0,843.3 910.8,843.3 911.6,843.5 912.4,843.6 913.2,843.9 914.0,843.7 914.7,843.6 915.5,844.6 916.3,844.9 917.1,845.1 917.9,844.8 918.7,845.5 919.5,845.8 920.3,846.8 921.1,844.7 921.8,847.3 922.6,845.7 923.4,846.8 924.2,847.2 925.0,848.3 925.8,848.8 926.6,849.6 927.4,850.1 928.2,850.6 929.0,850.9 929.7,853.4 930.5,853.2 931.3,853.1 932.1,854.1 932.9,856.6 933.7,856.4 934.5,857.1 935.3,857.9 936.1,860.4 936.8,858.8 937.6,861.2 938.4,859.1 939.2,860.7 940.0,861.8 940.8,861.7 941.6,862.5 942.4,863.4 943.2,863.4 944.0,863.5 944.7,864.7 945.5,863.9 946.3,864.0 947.1,864.3 947.9,864.6 948.7,864.8 949.5,865.6 950.3,865.4 951.1,866.6 951.9,866.7 952.6,866.2 953.4,866.1 954.2,868.1 955.0,869.1 955.8,866.8 956.6,867.8 957.4,867.6 958.2,868.6 959.0,869.3 959.7,870.2 960.5,870.8 961.3,869.3 962.1,869.9 962.9,870.7 963.7,872.0 964.5,871.9 965.3,872.3 966.1,872.3 966.9,874.5 967.6,872.5 968.4,871.8 969.2,873.7 970.0,873.5 970.8,873.6 971.6,874.8 972.4,874.1 973.2,875.3 974.0,875.3 974.8,875.0 975.5,875.5 976.3,875.7 977.1,876.7 977.9,875.8 978.7,877.3 979.5,876.2 980.3,877.4 981.1,878.2 981.9,877.7 982.6,878.6 983.4,878.5 984.2,878.5 985.0,878.1 985.8,878.3 986.6,878.8 987.4,879.7 988.2,880.8 989.0,880.1 989.8,880.5 990.5,880.6 991.3,881.2 992.1,881.4 992.9,880.7 993.7,882.5 994.5,881.8 995.3,881.1 996.1,882.8 996.9,883.2 997.6,882.9 998.4,883.2 999.2,883.0 1000.0,882.4 1000.8,883.6 1001.6,883.3 1002.4,884.3 1003.2,884.4 1004.0,884.0 1004.8,884.9 1005.5,883.7 1006.3,885.0 1007.1,885.0 1007.9,885.7 1008.7,885.4 1009.5,886.0 1010.3,885.8 1011.1,886.8 1011.9,885.7 1012.7,884.5 1013.4,887.3 1014.2,884.8 1015.0,886.3 1015.8,885.7 1016.6,887.1 1017.4,885.0 1018.2,887.4 1019.0,886.8 1019.8,885.7 1020.5,887.8 1021.3,888.7 1022.1,887.1 1022.9,887.7 1023.7,887.9 1024.5,887.9 1025.3,888.4 1026.1,886.3 1026.9,886.5 1027.7,888.5 1028.4,887.6 1029.2,887.9 1030.0,886.8 1030.8,888.3 1031.6,886.6 1032.4,887.8 1033.2,888.4 1034.0,888.0 1034.8,888.4 1035.5,886.3 1036.3,887.9 1037.1,888.4 1037.9,888.1 1038.7,887.1 1039.5,888.9 1040.3,889.5 1041.1,887.3 1041.9,887.9 1042.7,888.7 1043.4,888.4 1044.2,887.6 1045.0,890.5 1045.8,887.5 1046.6,888.6 1047.4,888.0 1048.2,888.6 1049.0,886.3 1049.8,889.1 1050.6,887.8 1051.3,890.6 1052.1,888.6 1052.9,888.1 1053.7,889.8 1054.5,890.2 1055.3,888.6 1056.1,888.0 1056.9,887.8 1057.7,889.2 1058.4,888.5 1059.2,889.8 1060.0,887.5 1060.8,889.2 1061.6,887.8 1062.4,889.0 1063.2,889.0 1064.0,887.6 1064.8,889.5 1065.6,887.9 1066.3,889.1 1067.1,889.5 1067.9,889.5 1068.7,888.0 1069.5,888.9 1070.3,889.1 1071.1,890.0 1071.9,888.0 1072.7,888.1 1073.5,888.7 1074.2,888.3 1075.0,891.3 1075.8,889.3 1076.6,888.8 1077.4,888.9 1078.2,889.4 1079.0,888.8 1079.8,889.5 1080.6,889.5 1081.3,889.9 1082.1,888.9 1082.9,889.5 1083.7,889.4 1084.5,888.0 1085.3,889.1 1086.1,889.1 1086.9,890.2 1087.7,889.4 1088.5,888.3 1089.2,888.6 1090.0,889.0 1090.8,889.2 1091.6,889.0 1092.4,888.8 1093.2,889.3 1094.0,890.9 1094.8,887.6 1095.6,888.3 1096.3,889.2 1097.1,888.1 1097.9,890.1 1098.7,888.2 1099.5,889.0 1100.3,888.5 1101.1,889.4 1101.9,889.0 1102.7,888.7 1103.5,888.4 1104.2,888.8 1105.0,888.8 1105.8,889.6 1106.6,887.9 1107.4,889.0 1108.2,889.3 1109.0,889.4 1109.8,890.1 1110.6,889.7 1111.4,890.3 1112.1,889.0 1112.9,889.3 1113.7,889.0 1114.5,890.1 1115.3,889.5 1116.1,889.7 1116.9,888.5 1117.7,890.3 1118.5,890.4 1119.2,888.3 1120.0,889.0 1120.8,890.4 1121.6,888.2 1122.4,888.1 1123.2,888.4 1124.0,890.8 1124.8,889.2 1125.6,889.9 1126.4,889.5 1127.1,890.4 1127.9,888.0 1128.7,889.8 1129.5,889.1 1130.3,888.7 1131.1,888.8 1131.9,889.0 1132.7,889.6 1133.5,889.1 1134.2,889.4 1135.0,891.0 1135.8,888.5 1136.6,889.8 1137.4,889.7 1138.2,889.6 1139.0,890.3 1139.8,890.2 1140.6,890.6 1141.4,888.9 1142.1,888.4 1142.9,889.2 1143.7,890.1 1144.5,888.3 1145.3,889.5 1146.1,890.5 1146.9,890.7 1147.7,889.2 1148.5,888.2 1149.3,889.6 1150.0,889.8 1150.8,889.5 1151.6,889.9 1152.4,889.7 1153.2,889.1" stroke="#ff0000" stroke-width="2.20"/>
<polyline points="659.7,888.7 660.5,889.3 661.3,889.2 662.1,889.2 662.9,887.8 663.6,889.6 664.4,888.1 665.2,888.2 666.0,889.3 666.8,887.8 667.6,890.8 668.4,888.8 669.2,888.9 670.0,889.0 670.8,888.4 671.5,889.3 672.3,889.1 673.1,888.1 673.9,889.1 674.7,889.8 675.5,888.6 676.3,889.0 677.1,889.4 677.9,888.6 678.7,889.6 679.4,889.7 680.2,889.2 681.0,889.1 681.8,888.9 682.6,889.9 683.4,887.7 684.2,888.5 685.0,888.9 685.8,888.8 686.5,890.8 687.3,888.3 688.1,889.7 688.9,888.6 689.7,889.8 690.5,888.2 691.3,889.3 692.1,889.1 692.9,887.8 693.7,888.2 694.4,889.9 695.2,889.4 696.0,888.8 696.8,889.1 697.6,888.3 698.4,889.4 699.2,890.3 700.0,889.6 700.8,889.0 701.5,888.5 702.3,888.3 703.1,887.9 703.9,888.7 704.7,889.0 705.5,888.3 706.3,888.9 707.1,889.2 707.9,889.2 708.7,888.1 709.4,887.7 710.2,887.8 711.0,890.0 711.8,888.0 712.6,889.6 713.4,889.0 714.2,888.3 715.0,889.6 715.8,889.5 716.6,889.1 717.3,887.3 718.1,887.7 718.9,889.1 719.7,888.2 720.5,888.2 721.3,887.9 722.1,888.6 722.9,886.9 723.7,888.2 724.4,887.1 725.2,888.6 726.0,886.4 726.8,885.7 727.6,883.8 728.4,885.6 729.2,881.9 730.0,880.4 730.8,879.7 731.6,877.1 732.3,875.0 733.1,874.4 733.9,873.0 734.7,871.1 735.5,870.1 736.3,867.9 737.1,866.5 737.9,865.6 738.7,863.9 739.4,860.2 740.2,858.4 741.0,857.0 741.8,854.1 742.6,850.4 743.4,850.1 744.2,846.6 745.0,842.4 745.8,839.1 746.6,837.2 747.3,833.4 748.1,828.0 748.9,822.0 749.7,817.3 750.5,812.8 751.3,803.7 752.1,797.6 752.9,790.8 753.7,784.2 754.5,775.2 755.2,768.8 756.0,760.4 756.8,751.3 757.6,743.0 758.4,737.0 759.2,732.6 760.0,731.2 760.8,727.5 761.6,725.5 762.3,722.5 763.1,723.5 763.9,725.1 764.7,725.4 765.5,728.0 766.3,730.6 767.1,736.5 767.9,747.7 768.7,760.0 769.5,766.6 770.2,774.1 771.0,779.7 771.8,782.9 772.6,786.3 773.4,791.9 774.2,793.9 775.0,795.9 775.8,799.0 776.6,800.1 777.4,803.2 778.1,804.5 778.9,805.6 779.7,806.8 780.5,808.6 781.3,810.6 782.1,811.8 782.9,814.5 783.7,812.6 784.5,815.7 785.2,816.8 786.0,817.5 786.8,818.3 787.6,819.4 788.4,821.0 789.2,822.6 790.0,822.5 790.8,823.9 791.6,824.7 792.4,825.2 793.1,825.8 793.9,825.6 794.7,827.0 795.5,828.3 796.3,826.5 797.1,825.9 797.9,827.4 798.7,825.1 799.5,824.6 800.2,824.3 801.0,822.9 801.8,821.8 802.6,820.6 803.4,819.1 804.2,818.7 805.0,817.1 805.8,813.6 806.6,814.2 807.4,811.4 808.1,809.0 808.9,805.5 809.7,802.5 810.5,801.2 811.3,795.4 812.1,792.3 812.9,784.0 813.7,780.5 814.5,773.0 815.3,767.8 816.0,761.2 816.8,756.7 817.6,750.4 818.4,744.8 819.2,739.6 820.0,734.5 820.8,731.3 821.6,727.4 822.4,724.5 823.1,720.1 823.9,717.0 824.7,712.6 825.5,709.4 826.3,707.1 827.1,702.9 827.9,699.0 828.7,697.0 829.5,694.7 830.3,689.1 831.0,687.9 831.8,685.2 832.6,681.3 833.4,681.4 834.2,678.2 835.0,677.7 835.8,673.9 836.6,672.1 837.4,671.5 838.1,670.1 838.9,668.3 839.7,667.2 840.5,664.7 841.3,665.0 842.1,664.0 842.9,663.2 843.7,663.4 844.5,661.8 845.3,661.7 846.0,659.9 846.8,661.0 847.6,659.6 848.4,658.0 849.2,659.3 850.0,658.5 850.8,656.1 851.6,657.4 852.4,656.0 853.2,655.4 853.9,656.2 854.7,656.6 855.5,654.2 856.3,655.8 857.1,655.2 857.9,656.4 858.7,655.9 859.5,657.5 860.3,657.8 861.0,657.9 861.8,658.0 862.6,658.5 863.4,658.9 864.2,659.1 865.0,661.2 865.8,662.6 866.6,666.9 867.4,669.8 868.2,675.6 868.9,681.0 869.7,685.4 870.5,680.6 871.3,679.8 872.1,674.7 872.9,673.1 873.7,670.2 874.5,669.0 875.3,666.2 876.1,666.3 876.8,667.9 877.6,669.1 878.4,669.6 879.2,671.3 880.0,673.5 880.8,676.4 881.6,678.1 882.4,679.1 883.2,680.6 883.9,681.5 884.7,683.4 885.5,685.0 886.3,685.2 887.1,686.0 887.9,687.6 888.7,687.8 889.5,689.7 890.3,689.8 891.1,691.4 891.8,690.3 892.6,692.1 893.4,694.0 894.2,696.4 895.0,697.6 895.8,697.6 896.6,699.7 897.4,700.8 898.2,703.8 898.9,705.3 899.7,705.7 900.5,707.6 901.3,710.0 902.1,711.3 902.9,711.8 903.7,714.4 904.5,715.3 905.3,716.2 906.1,718.9 906.8,720.8 907.6,723.1 908.4,723.5 909.2,727.3 910.0,728.9 910.8,730.0 911.6,733.0 912.4,733.1 913.2,736.3 914.0,737.5 914.7,740.3 915.5,742.6 916.3,744.8 917.1,748.9 917.9,750.8 918.7,753.0 919.5,753.6 920.3,757.2 921.1,759.8 921.8,763.4 922.6,764.2 923.4,766.1 924.2,768.6 925.0,769.2 925.8,774.2 926.6,776.1 927.4,777.4 928.2,779.9 929.0,781.1 929.7,782.7 930.5,785.0 931.3,786.7 932.1,788.4 932.9,789.9 933.7,792.7 934.5,794.5 935.3,794.8 936.1,797.7 936.8,799.7 937.6,800.6 938.4,802.7 939.2,803.9 940.0,805.6 940.8,806.6 941.6,808.0 942.4,810.8 943.2,812.5 944.0,811.9 944.7,815.1 945.5,817.1 946.3,818.8 947.1,818.8 947.9,820.6 948.7,822.9 949.5,823.6 950.3,825.0 951.1,824.8 951.9,826.6 952.6,828.1 953.4,830.3 954.2,830.7 955.0,831.3 955.8,832.9 956.6,833.5 957.4,835.4 958.2,836.1 959.0,837.5 959.7,839.4 960.5,839.1 961.3,841.0 962.1,841.8 962.9,844.3 963.7,845.4 964.5,845.9 965.3,847.5 966.1,847.5 966.9,848.8 967.6,849.3 968.4,850.9 969.2,853.3 970.0,852.8 970.8,855.1 971.6,856.2 972.4,856.6 973.2,857.7 974.0,857.9 974.8,857.5 975.5,860.3 976.3,860.4 977.1,862.6 977.9,863.0 978.7,864.5 979.5,865.3 980.3,864.7 981.1,866.1 981.9,866.8 982.6,868.4 983.4,867.2 984.2,869.2 985.0,870.2 985.8,870.4 986.6,870.5 987.4,871.0 988.2,871.1 989.0,873.6 989.8,873.7 990.5,872.8 991.3,872.8 992.1,875.5 992.9,875.6 993.7,877.2 994.5,877.1 995.3,877.6 996.1,877.5 996.9,878.7 997.6,877.6 998.4,878.7 999.2,879.2 1000.0,878.7 1000.8,879.9 1001.6,880.9 1002.4,880.3 1003.2,878.9 1004.0,880.7 1004.8,880.6 1005.5,881.4 1006.3,881.6 1007.1,881.3 1007.9,883.9 1008.7,883.0 1009.5,882.7 1010.3,882.7 1011.1,881.6 1011.9,881.0 1012.7,882.5 1013.4,882.9 1014.2,882.8 1015.0,882.3 1015.8,884.3 1016.6,884.1 1017.4,883.8 1018.2,883.8 1019.0,885.6 1019.8,884.0 1020.5,885.6 1021.3,883.9 1022.1,884.0 1022.9,886.4 1023.7,884.5 1024.5,884.8 1025.3,885.5 1026.1,884.4 1026.9,883.8 1027.7,885.0 1028.4,886.3 1029.2,886.6 1030.0,886.5 1030.8,886.5 1031.6,885.0 1032.4,885.7 1033.2,886.1 1034.0,885.5 1034.8,886.2 1035.5,886.3 1036.3,887.0 1037.1,886.9 1037.9,886.5 1038.7,887.5 1039.5,885.5 1040.3,886.7 1041.1,887.3 1041.9,886.2 1042.7,887.8 1043.4,886.3 1044.2,887.1 1045.0,885.8 1045.8,887.7 1046.6,887.6 1047.4,888.0 1048.2,888.4 1049.0,887.3 1049.8,888.3 1050.6,887.3 1051.3,888.1 1052.1,886.9 1052.9,889.6 1053.7,887.4 1054.5,887.7 1055.3,887.8 1056.1,888.3 1056.9,886.5 1057.7,888.1 1058.4,887.6 1059.2,888.1 1060.0,888.2 1060.8,887.9 1061.6,887.5 1062.4,888.8 1063.2,888.3 1064.0,889.1 1064.8,887.7 1065.6,888.7 1066.3,888.6 1067.1,887.6 1067.9,888.1 1068.7,887.8 1069.5,888.3 1070.3,887.9 1071.1,888.1 1071.9,889.0 1072.7,888.1 1073.5,888.5 1074.2,888.5 1075.0,888.1 1075.8,888.7 1076.6,889.1 1077.4,887.5 1078.2,887.0 1079.0,888.6 1079.8,887.6 1080.6,888.1 1081.3,888.9 1082.1,889.1 1082.9,888.7 1083.7,888.8 1084.5,888.8 1085.3,888.6 1086.1,889.4 1086.9,887.9 1087.7,889.4 1088.5,889.4 1089.2,887.9 1090.0,888.0 1090.8,887.5 1091.6,888.5 1092.4,889.1 1093.2,887.8 1094.0,888.8 1094.8,888.8 1095.6,889.3 1096.3,888.4 1097.1,890.5 1097.9,888.4 1098.7,890.3 1099.5,888.1 1100.3,890.0 1101.1,888.3 1101.9,887.0 1102.7,889.0 1103.5,889.7 1104.2,887.4 1105.0,889.2 1105.8,889.7 1106.6,888.0 1107.4,891.0 1108.2,890.0 1109.0,889.9 1109.8,889.4 1110.6,890.4 1111.4,888.3 1112.1,888.2 1112.9,889.0 1113.7,889.3 1114.5,890.2 1115.3,888.7 1116.1,889.5 1116.9,888.6 1117.7,888.3 1118.5,889.0 1119.2,890.6 1120.0,889.7 1120.8,888.0 1121.6,888.9 1122.4,888.0 1123.2,890.7 1124.0,889.2 1124.8,889.2 1125.6,890.3 1126.4,889.6 1127.1,888.4 1127.9,888.7 1128.7,889.5 1129.5,888.9 1130.3,888.3 1131.1,889.9 1131.9,888.9 1132.7,888.4 1133.5,889.7 1134.2,888.2 1135.0,889.2 1135.8,888.3 1136.6,888.5 1137.4,889.0 1138.2,889.4 1139.0,889.7 1139.8,889.1 1140.6,889.0 1141.4,888.1 1142.1,889.3 1142.9,888.9 1143.7,887.9 1144.5,889.0 1145.3,888.9 1146.1,888.0 1146.9,889.1 1147.7,888.9 1148.5,888.6 1149.3,889.3 1150.0,890.0 1150.8,890.3 1151.6,889.4 1152.4,888.4 1153.2,888.5" stroke="#0000ff" stroke-width="1.30"/>
<polyline points="659.7,889.4 660.5,889.2 661.3,889.6 662.1,888.3 662.9,889.6 663.6,888.6 664.4,888.4 665.2,890.3 666.0,889.3 666.8,888.1 667.6,888.4 668.4,888.9 669.2,889.8 670.0,889.5 670.8,888.9 671.5,888.1 672.3,888.6 673.1,889.1 673.9,888.8 674.7,888.4 675.5,890.3 676.3,889.7 677.1,889.0 677.9,888.1 678.7,888.2 679.4,889.6 680.2,889.0 681.0,889.5 681.8,889.3 682.6,888.9 683.4,889.2 684.2,889.4 685.0,889.8 685.8,890.1 686.5,889.1 687.3,888.8 688.1,888.5 688.9,889.5 689.7,889.5 690.5,888.0 691.3,888.6 692.1,888.3 692.9,889.3 693.7,889.4 694.4,889.8 695.2,888.2 696.0,889.7 696.8,890.2 697.6,889.4 698.4,887.9 699.2,888.8 700.0,888.7 700.8,888.8 701.5,888.9 702.3,889.0 703.1,889.9 703.9,887.6 704.7,888.9 705.5,887.9 706.3,890.0 707.1,888.4 707.9,889.7 708.7,889.7 709.4,888.6 710.2,888.0 711.0,887.7 711.8,887.7 712.6,888.9 713.4,888.1 714.2,889.0 715.0,889.0 715.8,888.3 716.6,888.5 717.3,887.7 718.1,889.7 718.9,887.4 719.7,888.6 720.5,886.9 721.3,887.1 722.1,888.7 722.9,887.7 723.7,887.1 724.4,887.9 725.2,887.3 726.0,886.2 726.8,884.3 727.6,882.8 728.4,882.3 729.2,879.7 730.0,877.4 730.8,875.9 731.6,875.2 732.3,873.3 733.1,870.6 733.9,868.2 734.7,866.5 735.5,865.0 736.3,863.2 737.1,859.2 737.9,857.8 738.7,853.7 739.4,853.2 740.2,849.7 741.0,846.9 741.8,841.9 742.6,838.9 743.4,836.6 744.2,833.9 745.0,827.7 745.8,824.3 746.6,820.8 747.3,816.2 748.1,809.0 748.9,802.7 749.7,794.9 750.5,786.6 751.3,778.5 752.1,769.4 752.9,759.4 753.7,750.5 754.5,741.2 755.2,731.2 756.0,722.3 756.8,707.9 757.6,697.7 758.4,691.1 759.2,685.8 760.0,680.2 760.8,676.9 761.6,675.6 762.3,673.1 763.1,671.7 763.9,671.3 764.7,674.0 765.5,677.4 766.3,680.3 767.1,688.7 767.9,702.9 768.7,717.8 769.5,732.3 770.2,737.7 771.0,744.7 771.8,751.2 772.6,756.6 773.4,761.4 774.2,764.2 775.0,767.7 775.8,770.8 776.6,772.5 777.4,778.0 778.1,779.3 778.9,781.6 779.7,782.6 780.5,785.7 781.3,788.5 782.1,789.8 782.9,791.8 783.7,792.9 784.5,795.9 785.2,798.3 786.0,800.1 786.8,802.0 787.6,802.6 788.4,803.8 789.2,806.0 790.0,807.4 790.8,807.8 791.6,810.1 792.4,811.1 793.1,813.4 793.9,813.9 794.7,815.6 795.5,815.3 796.3,814.0 797.1,813.1 797.9,813.7 798.7,813.7 799.5,811.9 800.2,810.1 801.0,810.0 801.8,808.1 802.6,807.6 803.4,807.2 804.2,805.4 805.0,803.1 805.8,799.1 806.6,798.0 807.4,796.0 808.1,792.7 808.9,789.6 809.7,786.8 810.5,782.8 811.3,778.2 812.1,771.7 812.9,764.5 813.7,757.5 814.5,751.4 815.3,743.4 816.0,737.2 816.8,730.9 817.6,723.2 818.4,716.1 819.2,710.3 820.0,704.2 820.8,699.3 821.6,694.8 822.4,691.1 823.1,687.8 823.9,681.4 824.7,679.1 825.5,674.1 826.3,670.3 827.1,666.9 827.9,661.4 828.7,658.5 829.5,655.5 830.3,652.3 831.0,649.5 831.8,646.7 832.6,642.3 833.4,640.2 834.2,637.4 835.0,634.1 835.8,632.3 836.6,629.4 837.4,628.5 838.1,626.7 838.9,624.1 839.7,623.9 840.5,621.6 841.3,620.4 842.1,619.7 842.9,619.8 843.7,618.6 844.5,617.5 845.3,616.8 846.0,614.3 846.8,614.9 847.6,614.4 848.4,613.2 849.2,612.4 850.0,613.0 850.8,610.8 851.6,610.1 852.4,610.6 853.2,609.2 853.9,610.6 854.7,609.8 855.5,609.5 856.3,609.5 857.1,608.9 857.9,610.3 858.7,611.1 859.5,610.6 860.3,611.1 861.0,611.2 861.8,612.3 862.6,612.5 863.4,613.8 864.2,613.9 865.0,616.4 865.8,619.4 866.6,621.8 867.4,627.9 868.2,634.9 868.9,641.3 869.7,643.9 870.5,640.5 871.3,637.5 872.1,633.1 872.9,631.8 873.7,628.5 874.5,624.8 875.3,622.2 876.1,622.0 876.8,624.6 877.6,625.4 878.4,627.6 879.2,631.0 880.0,631.3 880.8,634.6 881.6,635.7 882.4,638.5 883.2,640.8 883.9,642.3 884.7,643.2 885.5,643.9 886.3,645.8 887.1,644.5 887.9,647.4 888.7,649.5 889.5,649.7 890.3,650.0 891.1,651.7 891.8,653.4 892.6,655.0 893.4,656.5 894.2,658.2 895.0,659.3 895.8,660.4 896.6,662.7 897.4,662.9 898.2,665.7 898.9,668.1 899.7,669.8 900.5,670.6 901.3,674.9 902.1,675.5 902.9,675.7 903.7,679.0 904.5,682.4 905.3,683.6 906.1,685.9 906.8,685.8 907.6,690.4 908.4,692.3 909.2,694.5 910.0,697.5 910.8,701.1 911.6,701.2 912.4,703.0 913.2,706.1 914.0,707.9 914.7,710.3 915.5,713.1 916.3,717.8 917.1,718.5 917.9,722.0 918.7,725.2 919.5,728.9 920.3,732.0 921.1,735.4 921.8,737.5 922.6,739.8 923.4,743.4 924.2,744.9 925.0,748.4 925.8,750.0 926.6,753.0 927.4,754.6 928.2,756.2 929.0,759.8 929.7,762.6 930.5,764.8 931.3,766.3 932.1,769.3 932.9,770.4 933.7,773.0 934.5,774.7 935.3,777.8 936.1,780.1 936.8,782.0 937.6,783.1 938.4,785.9 939.2,786.8 940.0,790.7 940.8,791.5 941.6,793.0 942.4,796.0 943.2,796.9 944.0,799.3 944.7,800.0 945.5,801.8 946.3,802.8 947.1,805.6 947.9,807.8 948.7,808.6 949.5,809.8 950.3,811.4 951.1,812.9 951.9,813.7 952.6,816.3 953.4,817.8 954.2,819.7 955.0,821.0 955.8,821.3 956.6,823.2 957.4,826.8 958.2,825.4 959.0,829.2 959.7,829.4 960.5,829.8 961.3,831.7 962.1,832.8 962.9,833.9 963.7,835.7 964.5,838.2 965.3,838.3 966.1,840.4 966.9,843.0 967.6,842.8 968.4,843.5 969.2,845.1 970.0,846.5 970.8,846.5 971.6,848.8 972.4,849.6 973.2,851.3 974.0,851.5 974.8,854.1 975.5,854.1 976.3,854.8 977.1,857.5 977.9,857.4 978.7,860.2 979.5,860.0 980.3,860.6 981.1,862.6 981.9,864.2 982.6,863.6 983.4,864.7 984.2,865.0 985.0,865.7 985.8,866.1 986.6,866.3 987.4,867.8 988.2,870.0 989.0,869.1 989.8,870.0 990.5,870.8 991.3,870.4 992.1,872.0 992.9,873.1 993.7,873.1 994.5,875.2 995.3,873.9 996.1,875.1 996.9,874.4 997.6,875.6 998.4,876.3 999.2,876.9 1000.0,878.3 1000.8,877.9 1001.6,878.0 1002.4,877.8 1003.2,878.5 1004.0,878.6 1004.8,878.9 1005.5,880.1 1006.3,879.7 1007.1,880.4 1007.9,881.4 1008.7,881.8 1009.5,880.3 1010.3,880.1 1011.1,880.3 1011.9,882.2 1012.7,880.7 1013.4,880.8 1014.2,882.7 1015.0,882.0 1015.8,881.3 1016.6,882.6 1017.4,882.0 1018.2,883.5 1019.0,883.4 1019.8,882.7 1020.5,883.6 1021.3,883.5 1022.1,883.7 1022.9,884.6 1023.7,882.9 1024.5,884.2 1025.3,884.5 1026.1,884.7 1026.9,884.4 1027.7,885.3 1028.4,884.1 1029.2,885.1 1030.0,884.4 1030.8,885.7 1031.6,885.9 1032.4,886.0 1033.2,885.2 1034.0,886.5 1034.8,885.0 1035.5,886.0 1036.3,885.2 1037.1,886.2 1037.9,885.4 1038.7,886.9 1039.5,887.0 1040.3,885.9 1041.1,886.8 1041.9,885.7 1042.7,887.1 1043.4,886.3 1044.2,887.3 1045.0,888.1 1045.8,885.8 1046.6,887.1 1047.4,886.3 1048.2,887.0 1049.0,888.4 1049.8,886.9 1050.6,886.5 1051.3,886.4 1052.1,886.2 1052.9,887.1 1053.7,887.5 1054.5,887.4 1055.3,888.4 1056.1,887.0 1056.9,887.0 1057.7,887.3 1058.4,888.2 1059.2,887.2 1060.0,888.1 1060.8,886.8 1061.6,888.2 1062.4,888.1 1063.2,888.0 1064.0,888.5 1064.8,888.5 1065.6,888.1 1066.3,889.7 1067.1,886.4 1067.9,887.6 1068.7,887.7 1069.5,888.6 1070.3,887.8 1071.1,888.0 1071.9,888.0 1072.7,889.1 1073.5,888.2 1074.2,889.5 1075.0,888.3 1075.8,888.8 1076.6,888.6 1077.4,888.4 1078.2,887.6 1079.0,887.3 1079.8,888.2 1080.6,889.1 1081.3,887.2 1082.1,889.4 1082.9,888.7 1083.7,888.5 1084.5,888.9 1085.3,887.4 1086.1,888.1 1086.9,887.6 1087.7,888.7 1088.5,887.8 1089.2,888.6 1090.0,888.6 1090.8,888.3 1091.6,888.3 1092.4,888.1 1093.2,888.7 1094.0,889.7 1094.8,888.9 1095.6,890.6 1096.3,888.9 1097.1,889.3 1097.9,888.1 1098.7,890.7 1099.5,887.2 1100.3,889.0 1101.1,889.9 1101.9,888.5 1102.7,888.4 1103.5,888.5 1104.2,887.2 1105.0,889.4 1105.8,888.6 1106.6,888.7 1107.4,889.4 1108.2,888.7 1109.0,888.0 1109.8,889.5 1110.6,888.6 1111.4,888.2 1112.1,888.5 1112.9,890.1 1113.7,888.8 1114.5,889.3 1115.3,888.1 1116.1,889.1 1116.9,887.6 1117.7,889.9 1118.5,888.7 1119.2,889.7 1120.0,887.7 1120.8,887.9 1121.6,889.7 1122.4,888.5 1123.2,889.1 1124.0,890.3 1124.8,889.9 1125.6,889.0 1126.4,888.7 1127.1,889.4 1127.9,888.9 1128.7,888.9 1129.5,888.9 1130.3,890.0 1131.1,889.1 1131.9,888.8 1132.7,890.3 1133.5,888.0 1134.2,888.1 1135.0,889.1 1135.8,887.6 1136.6,889.8 1137.4,889.9 1138.2,889.7 1139.0,889.7 1139.8,887.8 1140.6,889.2 1141.4,889.3 1142.1,889.0 1142.9,888.0 1143.7,889.1 1144.5,889.5 1145.3,889.0 1146.1,888.3 1146.9,889.4 1147.7,888.2 1148.5,889.0 1149.3,889.4 1150.0,888.9 1150.8,887.8 1151.6,889.4 1152.4,888.2 1153.2,888.8" stroke="#008080" stroke-width="1.30"/>
<polyline points="659.7,888.7 660.5,888.5 661.3,889.6 662.1,889.5 662.9,889.7 663.6,889.2 664.4,889.1 665.2,889.3 666.0,888.6 666.8,889.7 667.6,889.2 668.4,888.4 669.2,887.7 670.0,888.9 670.8,888.1 671.5,888.0 672.3,889.7 673.1,888.8 673.9,889.7 674.7,889.3 675.5,888.7 676.3,889.9 677.1,888.6 677.9,889.1 678.7,889.1 679.4,888.6 680.2,889.6 681.0,890.2 681.8,888.9 682.6,889.5 683.4,889.1 684.2,889.7 685.0,889.6 685.8,889.7 686.5,889.9 687.3,889.5 688.1,889.5 688.9,888.9 689.7,886.6 690.5,889.4 691.3,890.1 692.1,888.5 692.9,889.8 693.7,889.5 694.4,889.1 695.2,888.9 696.0,888.8 696.8,888.7 697.6,888.9 698.4,888.0 699.2,888.2 700.0,889.2 700.8,889.0 701.5,889.8 702.3,888.3 703.1,889.0 703.9,887.4 704.7,889.3 705.5,887.7 706.3,889.5 707.1,890.0 707.9,889.4 708.7,888.5 709.4,888.0 710.2,889.4 711.0,888.0 711.8,889.1 712.6,889.0 713.4,888.8 714.2,887.4 715.0,888.4 715.8,888.3 716.6,889.5 717.3,888.2 718.1,888.1 718.9,887.0 719.7,888.7 720.5,888.5 721.3,888.6 722.1,888.3 722.9,887.2 723.7,888.1 724.4,886.4 725.2,886.7 726.0,886.5 726.8,885.2 727.6,884.4 728.4,882.9 729.2,879.3 730.0,877.6 730.8,877.0 731.6,874.7 732.3,871.2 733.1,870.9 733.9,868.2 734.7,865.9 735.5,864.3 736.3,862.0 737.1,859.7 737.9,856.8 738.7,855.4 739.4,851.4 740.2,848.4 741.0,846.4 741.8,841.8 742.6,839.3 743.4,836.9 744.2,832.6 745.0,827.0 745.8,822.4 746.6,818.6 747.3,814.4 748.1,807.5 748.9,799.8 749.7,792.8 750.5,785.5 751.3,775.2 752.1,766.4 752.9,756.9 753.7,747.1 754.5,737.1 755.2,728.0 756.0,717.5 756.8,704.6 757.6,693.3 758.4,684.9 759.2,681.6 760.0,676.2 760.8,672.8 761.6,668.9 762.3,667.6 763.1,668.9 763.9,666.7 764.7,669.9 765.5,673.0 766.3,676.8 767.1,684.7 767.9,699.2 768.7,714.2 769.5,726.9 770.2,734.9 771.0,741.4 771.8,748.3 772.6,752.5 773.4,757.6 774.2,761.2 775.0,764.7 775.8,768.6 776.6,770.3 777.4,773.3 778.1,776.7 778.9,777.6 779.7,780.0 780.5,784.7 781.3,787.6 782.1,788.7 782.9,790.1 783.7,792.0 784.5,794.3 785.2,796.8 786.0,798.0 786.8,800.0 787.6,802.5 788.4,803.5 789.2,804.5 790.0,807.3 790.8,808.8 791.6,810.5 792.4,810.1 793.1,811.9 793.9,812.7 794.7,814.2 795.5,814.2 796.3,813.3 797.1,814.1 797.9,812.5 798.7,812.7 799.5,811.9 800.2,810.5 801.0,809.3 801.8,807.5 802.6,807.8 803.4,805.1 804.2,805.3 805.0,803.6 805.8,802.5 806.6,797.8 807.4,794.7 808.1,793.8 808.9,790.0 809.7,786.6 810.5,783.9 811.3,778.0 812.1,772.0 812.9,766.0 813.7,759.3 814.5,751.0 815.3,743.3 816.0,737.7 816.8,730.1 817.6,722.9 818.4,718.6 819.2,710.0 820.0,703.6 820.8,700.9 821.6,694.4 822.4,691.2 823.1,686.4 823.9,682.9 824.7,679.6 825.5,675.9 826.3,668.9 827.1,667.7 827.9,663.0 828.7,658.0 829.5,655.2 830.3,651.9 831.0,650.3 831.8,646.2 832.6,643.7 833.4,641.2 834.2,636.8 835.0,633.8 835.8,632.6 836.6,630.4 837.4,627.7 838.1,625.7 838.9,625.6 839.7,622.5 840.5,621.4 841.3,620.8 842.1,620.5 842.9,618.2 843.7,617.1 844.5,615.4 845.3,616.3 846.0,613.8 846.8,614.5 847.6,613.1 848.4,613.0 849.2,612.3 850.0,610.7 850.8,611.7 851.6,610.1 852.4,610.4 853.2,609.8 853.9,610.0 854.7,609.2 855.5,610.8 856.3,609.7 857.1,609.0 857.9,609.4 858.7,611.6 859.5,611.6 860.3,611.5 861.0,610.2 861.8,612.4 862.6,612.6 863.4,613.5 864.2,614.1 865.0,616.6 865.8,618.7 866.6,622.3 867.4,626.5 868.2,635.5 868.9,641.1 869.7,642.2 870.5,640.6 871.3,636.6 872.1,635.6 872.9,629.7 873.7,626.1 874.5,624.0 875.3,622.9 876.1,622.5 876.8,621.7 877.6,625.9 878.4,627.5 879.2,628.7 880.0,631.7 880.8,635.9 881.6,636.5 882.4,638.5 883.2,641.1 883.9,641.5 884.7,642.9 885.5,645.6 886.3,645.0 887.1,644.9 887.9,646.3 888.7,649.5 889.5,650.7 890.3,650.8 891.1,651.8 891.8,654.2 892.6,655.0 893.4,654.9 894.2,657.2 895.0,658.2 895.8,660.6 896.6,661.6 897.4,664.5 898.2,666.3 898.9,668.5 899.7,671.2 900.5,672.0 901.3,674.7 902.1,676.0 902.9,677.6 903.7,679.6 904.5,681.4 905.3,684.0 906.1,685.8 906.8,687.0 907.6,690.0 908.4,692.0 909.2,696.0 910.0,697.2 910.8,697.9 911.6,701.6 912.4,704.1 913.2,705.1 914.0,709.2 914.7,710.1 915.5,713.7 916.3,717.0 917.1,721.1 917.9,721.7 918.7,727.2 919.5,729.9 920.3,731.5 921.1,735.9 921.8,737.5 922.6,740.5 923.4,743.2 924.2,746.3 925.0,748.5 925.8,750.3 926.6,753.6 927.4,754.8 928.2,757.5 929.0,759.6 929.7,762.1 930.5,764.1 931.3,766.5 932.1,768.3 932.9,770.8 933.7,773.0 934.5,776.0 935.3,778.7 936.1,779.4 936.8,780.7 937.6,784.1 938.4,786.6 939.2,787.7 940.0,788.9 940.8,790.4 941.6,793.1 942.4,795.5 943.2,796.5 944.0,797.7 944.7,800.0 945.5,800.9 946.3,803.7 947.1,804.3 947.9,805.4 948.7,809.0 949.5,810.5 950.3,811.0 951.1,810.7 951.9,814.2 952.6,816.1 953.4,816.6 954.2,819.2 955.0,821.8 955.8,822.8 956.6,822.5 957.4,826.2 958.2,827.4 959.0,827.1 959.7,829.0 960.5,829.6 961.3,832.6 962.1,833.8 962.9,834.8 963.7,836.8 964.5,837.4 965.3,838.7 966.1,839.3 966.9,841.4 967.6,842.9 968.4,843.6 969.2,844.4 970.0,845.8 970.8,847.6 971.6,849.4 972.4,850.7 973.2,852.5 974.0,852.7 974.8,853.9 975.5,853.8 976.3,856.0 977.1,856.6 977.9,857.3 978.7,860.6 979.5,860.7 980.3,861.3 981.1,861.9 981.9,863.7 982.6,863.0 983.4,863.8 984.2,864.8 985.0,865.5 985.8,867.5 986.6,866.6 987.4,868.6 988.2,870.3 989.0,869.5 989.8,870.0 990.5,871.5 991.3,872.8 992.1,873.1 992.9,873.0 993.7,875.3 994.5,873.3 995.3,873.9 996.1,875.3 996.9,874.9 997.6,876.3 998.4,877.5 999.2,876.6 1000.0,877.1 1000.8,878.6 1001.6,879.3 1002.4,879.3 1003.2,878.0 1004.0,879.4 1004.8,877.4 1005.5,880.2 1006.3,879.6 1007.1,880.0 1007.9,880.7 1008.7,880.1 1009.5,881.6 1010.3,881.2 1011.1,882.3 1011.9,883.2 1012.7,881.8 1013.4,882.9 1014.2,883.2 1015.0,882.0 1015.8,882.7 1016.6,882.4 1017.4,881.6 1018.2,882.9 1019.0,882.9 1019.8,884.2 1020.5,882.9 1021.3,883.0 1022.1,884.6 1022.9,883.4 1023.7,883.8 1024.5,884.3 1025.3,884.2 1026.1,882.6 1026.9,885.0 1027.7,884.9 1028.4,884.7 1029.2,885.0 1030.0,886.4 1030.8,884.6 1031.6,884.5 1032.4,884.1 1033.2,885.9 1034.0,886.5 1034.8,885.2 1035.5,886.5 1036.3,885.9 1037.1,886.3 1037.9,885.9 1038.7,886.5 1039.5,885.7 1040.3,887.0 1041.1,884.7 1041.9,886.0 1042.7,887.1 1043.4,887.4 1044.2,886.9 1045.0,887.2 1045.8,887.5 1046.6,886.0 1047.4,886.3 1048.2,887.9 1049.0,886.8 1049.8,887.2 1050.6,886.7 1051.3,887.8 1052.1,885.8 1052.9,887.4 1053.7,886.0 1054.5,887.9 1055.3,886.5 1056.1,887.6 1056.9,886.3 1057.7,887.7 1058.4,888.4 1059.2,888.5 1060.0,888.2 1060.8,887.3 1061.6,887.5 1062.4,887.7 1063.2,887.0 1064.0,886.6 1064.8,888.6 1065.6,887.1 1066.3,886.2 1067.1,888.4 1067.9,888.4 1068.7,887.7 1069.5,887.8 1070.3,888.4 1071.1,888.1 1071.9,886.9 1072.7,887.4 1073.5,888.7 1074.2,889.4 1075.0,889.0 1075.8,888.0 1076.6,888.8 1077.4,888.8 1078.2,887.7 1079.0,888.5 1079.8,888.6 1080.6,888.1 1081.3,887.2 1082.1,888.1 1082.9,887.8 1083.7,888.3 1084.5,887.2 1085.3,889.3 1086.1,889.3 1086.9,888.8 1087.7,887.0 1088.5,887.3 1089.2,889.3 1090.0,888.9 1090.8,888.1 1091.6,888.5 1092.4,887.9 1093.2,889.0 1094.0,889.8 1094.8,888.2 1095.6,887.7 1096.3,889.8 1097.1,890.1 1097.9,889.0 1098.7,890.1 1099.5,888.4 1100.3,889.6 1101.1,888.2 1101.9,889.0 1102.7,888.7 1103.5,888.3 1104.2,889.0 1105.0,889.6 1105.8,888.2 1106.6,889.9 1107.4,887.8 1108.2,889.3 1109.0,889.3 1109.8,888.6 1110.6,888.6 1111.4,888.5 1112.1,890.0 1112.9,889.6 1113.7,888.7 1114.5,888.7 1115.3,889.1 1116.1,888.0 1116.9,889.1 1117.7,888.3 1118.5,888.2 1119.2,888.8 1120.0,889.2 1120.8,888.5 1121.6,888.7 1122.4,888.6 1123.2,889.7 1124.0,888.7 1124.8,887.9 1125.6,889.3 1126.4,889.0 1127.1,889.3 1127.9,888.5 1128.7,890.7 1129.5,888.0 1130.3,888.8 1131.1,889.3 1131.9,889.0 1132.7,888.3 1133.5,888.9 1134.2,888.7 1135.0,888.3 1135.8,889.1 1136.6,888.6 1137.4,888.1 1138.2,888.8 1139.0,889.7 1139.8,888.6 1140.6,887.7 1141.4,889.4 1142.1,888.9 1142.9,888.9 1143.7,888.6 1144.5,889.5 1145.3,889.2 1146.1,887.8 1146.9,888.7 1147.7,889.7 1148.5,888.6 1149.3,889.2 1150.0,888.1 1150.8,890.4 1151.6,889.2 1152.4,888.5 1153.2,890.2" stroke="#ff00ff" stroke-width="1.30"/>
<polyline points="659.7,888.8 660.5,890.0 661.3,889.6 662.1,887.7 662.9,889.5 663.6,888.7 664.4,889.0 665.2,888.3 666.0,888.7 666.8,888.7 667.6,888.1 668.4,888.7 669.2,890.2 670.0,889.5 670.8,887.9 671.5,888.2 672.3,889.1 673.1,890.1 673.9,889.5 674.7,887.4 675.5,888.1 676.3,888.1 677.1,890.1 677.9,890.0 678.7,889.4 679.4,889.9 680.2,888.9 681.0,889.7 681.8,888.6 682.6,889.1 683.4,889.3 684.2,888.4 685.0,888.6 685.8,888.8 686.5,889.2 687.3,888.9 688.1,890.3 688.9,890.3 689.7,889.4 690.5,888.8 691.3,887.6 692.1,888.6 692.9,889.6 693.7,889.2 694.4,889.8 695.2,888.9 696.0,888.9 696.8,888.9 697.6,888.6 698.4,888.1 699.2,888.3 700.0,889.7 700.8,888.2 701.5,889.5 702.3,888.5 703.1,888.7 703.9,887.5 704.7,888.8 705.5,888.8 706.3,888.9 707.1,888.1 707.9,888.5 708.7,888.9 709.4,888.1 710.2,887.1 711.0,887.5 711.8,887.5 712.6,889.0 713.4,888.6 714.2,888.4 715.0,889.7 715.8,887.1 716.6,889.4 717.3,887.9 718.1,889.1 718.9,888.0 719.7,887.3 720.5,887.5 721.3,888.4 722.1,888.1 722.9,886.8 723.7,887.4 724.4,886.9 725.2,885.7 726.0,887.3 726.8,883.9 727.6,881.7 728.4,879.5 729.2,878.4 730.0,877.3 730.8,873.9 731.6,870.9 732.3,870.5 733.1,868.3 733.9,865.6 734.7,863.5 735.5,862.2 736.3,859.9 737.1,856.4 737.9,853.0 738.7,849.2 739.4,846.8 740.2,842.9 741.0,838.5 741.8,833.6 742.6,831.2 743.4,828.4 744.2,822.6 745.0,818.7 745.8,813.6 746.6,808.0 747.3,802.5 748.1,797.2 748.9,789.3 749.7,779.5 750.5,769.7 751.3,758.6 752.1,749.2 752.9,739.2 753.7,728.3 754.5,717.5 755.2,707.1 756.0,694.5 756.8,680.0 757.6,666.9 758.4,658.9 759.2,652.6 760.0,647.6 760.8,643.1 761.6,639.8 762.3,637.0 763.1,636.6 763.9,639.5 764.7,639.5 765.5,642.9 766.3,647.4 767.1,656.2 767.9,673.0 768.7,690.4 769.5,705.7 770.2,713.6 771.0,721.5 771.8,729.6 772.6,735.1 773.4,739.3 774.2,744.0 775.0,748.3 775.8,752.8 776.6,755.8 777.4,758.3 778.1,761.0 778.9,764.0 779.7,767.3 780.5,769.5 781.3,772.4 782.1,775.5 782.9,778.0 783.7,780.3 784.5,783.2 785.2,784.0 786.0,786.0 786.8,787.9 787.6,791.0 788.4,792.7 789.2,793.8 790.0,796.1 790.8,797.8 791.6,799.4 792.4,801.9 793.1,801.1 793.9,804.1 794.7,805.0 795.5,803.6 796.3,804.9 797.1,803.0 797.9,803.0 798.7,802.2 799.5,801.8 800.2,801.5 801.0,800.1 801.8,797.9 802.6,796.7 803.4,796.1 804.2,794.3 805.0,792.0 805.8,789.0 806.6,786.0 807.4,782.6 808.1,780.3 808.9,775.4 809.7,772.2 810.5,767.4 811.3,763.8 812.1,756.1 812.9,748.3 813.7,742.3 814.5,732.0 815.3,724.0 816.0,715.6 816.8,708.6 817.6,700.2 818.4,693.7 819.2,686.7 820.0,679.6 820.8,674.0 821.6,670.3 822.4,663.6 823.1,658.9 823.9,654.4 824.7,651.1 825.5,645.0 826.3,641.0 827.1,636.2 827.9,632.5 828.7,628.5 829.5,624.6 830.3,620.7 831.0,616.0 831.8,613.7 832.6,610.2 833.4,606.2 834.2,603.5 835.0,601.8 835.8,598.1 836.6,595.4 837.4,591.9 838.1,590.6 838.9,590.1 839.7,588.5 840.5,586.6 841.3,584.7 842.1,584.1 842.9,582.0 843.7,582.3 844.5,579.9 845.3,578.3 846.0,580.2 846.8,577.4 847.6,576.4 848.4,575.5 849.2,575.1 850.0,574.6 850.8,573.8 851.6,573.3 852.4,572.8 853.2,571.2 853.9,571.3 854.7,571.2 855.5,572.3 856.3,572.4 857.1,571.5 857.9,573.4 858.7,572.3 859.5,574.5 860.3,572.4 861.0,573.5 861.8,575.3 862.6,575.9 863.4,577.9 864.2,577.5 865.0,578.5 865.8,582.3 866.6,587.1 867.4,590.7 868.2,600.4 868.9,608.3 869.7,611.0 870.5,607.5 871.3,601.5 872.1,599.3 872.9,597.3 873.7,592.3 874.5,588.1 875.3,586.8 876.1,587.9 876.8,588.1 877.6,591.1 878.4,591.7 879.2,595.3 880.0,597.8 880.8,600.6 881.6,603.3 882.4,604.0 883.2,606.0 883.9,608.8 884.7,610.0 885.5,610.3 886.3,613.0 887.1,614.3 887.9,615.8 888.7,615.3 889.5,617.5 890.3,618.9 891.1,620.5 891.8,622.2 892.6,622.4 893.4,625.2 894.2,626.7 895.0,629.3 895.8,630.8 896.6,632.3 897.4,634.3 898.2,637.1 898.9,638.6 899.7,640.5 900.5,644.5 901.3,644.4 902.1,647.3 902.9,650.3 903.7,651.8 904.5,653.6 905.3,656.2 906.1,658.5 906.8,660.9 907.6,662.8 908.4,666.6 909.2,668.5 910.0,670.3 910.8,673.2 911.6,676.6 912.4,678.7 913.2,681.7 914.0,684.0 914.7,688.1 915.5,691.2 916.3,694.4 917.1,696.9 917.9,698.6 918.7,703.2 919.5,706.6 920.3,711.0 921.1,713.2 921.8,717.3 922.6,720.5 923.4,722.7 924.2,727.2 925.0,730.7 925.8,732.8 926.6,733.6 927.4,736.7 928.2,739.9 929.0,742.8 929.7,745.4 930.5,747.5 931.3,751.0 932.1,752.3 932.9,756.0 933.7,756.7 934.5,760.3 935.3,763.1 936.1,765.0 936.8,767.7 937.6,769.4 938.4,772.8 939.2,774.0 940.0,775.7 940.8,777.6 941.6,780.2 942.4,781.1 943.2,785.2 944.0,786.2 944.7,788.3 945.5,789.9 946.3,792.0 947.1,792.7 947.9,795.6 948.7,798.1 949.5,797.5 950.3,801.0 951.1,803.0 951.9,804.0 952.6,806.8 953.4,808.2 954.2,809.1 955.0,812.3 955.8,813.4 956.6,814.0 957.4,815.0 958.2,818.0 959.0,819.6 959.7,820.3 960.5,823.7 961.3,824.7 962.1,826.3 962.9,828.8 963.7,830.9 964.5,830.6 965.3,831.2 966.1,832.9 966.9,834.0 967.6,838.4 968.4,838.0 969.2,838.4 970.0,841.5 970.8,843.2 971.6,843.5 972.4,845.1 973.2,846.0 974.0,847.9 974.8,848.3 975.5,850.0 976.3,851.5 977.1,853.2 977.9,853.6 978.7,855.7 979.5,855.7 980.3,856.6 981.1,857.7 981.9,860.3 982.6,859.9 983.4,860.9 984.2,861.4 985.0,864.0 985.8,864.2 986.6,864.6 987.4,864.4 988.2,866.6 989.0,866.3 989.8,867.7 990.5,867.1 991.3,869.0 992.1,871.2 992.9,870.9 993.7,871.2 994.5,871.1 995.3,872.2 996.1,873.5 996.9,874.8 997.6,874.4 998.4,875.0 999.2,874.5 1000.0,875.3 1000.8,877.4 1001.6,878.5 1002.4,877.5 1003.2,877.3 1004.0,878.6 1004.8,878.6 1005.5,877.6 1006.3,878.3 1007.1,880.3 1007.9,879.1 1008.7,879.5 1009.5,880.0 1010.3,879.7 1011.1,880.0 1011.9,878.8 1012.7,880.7 1013.4,881.6 1014.2,881.6 1015.0,881.0 1015.8,880.3 1016.6,881.4 1017.4,881.7 1018.2,882.0 1019.0,882.7 1019.8,882.5 1020.5,883.6 1021.3,882.4 1022.1,882.7 1022.9,883.1 1023.7,884.0 1024.5,883.7 1025.3,884.1 1026.1,883.6 1026.9,884.1 1027.7,883.8 1028.4,883.5 1029.2,883.4 1030.0,885.2 1030.8,884.8 1031.6,885.5 1032.4,883.9 1033.2,885.6 1034.0,884.1 1034.8,885.6 1035.5,884.6 1036.3,885.8 1037.1,885.7 1037.9,885.6 1038.7,885.7 1039.5,886.0 1040.3,885.5 1041.1,885.2 1041.9,885.6 1042.7,886.6 1043.4,887.7 1044.2,886.4 1045.0,888.6 1045.8,886.2 1046.6,886.3 1047.4,887.7 1048.2,886.4 1049.0,887.4 1049.8,886.1 1050.6,887.6 1051.3,887.7 1052.1,887.6 1052.9,887.0 1053.7,888.0 1054.5,885.6 1055.3,887.6 1056.1,886.1 1056.9,887.6 1057.7,887.6 1058.4,888.0 1059.2,888.0 1060.0,887.2 1060.8,886.7 1061.6,887.5 1062.4,888.2 1063.2,887.5 1064.0,888.2 1064.8,889.6 1065.6,887.6 1066.3,889.0 1067.1,888.2 1067.9,887.8 1068.7,888.1 1069.5,888.0 1070.3,886.7 1071.1,887.2 1071.9,886.8 1072.7,887.8 1073.5,887.8 1074.2,886.7 1075.0,888.5 1075.8,887.8 1076.6,888.0 1077.4,887.9 1078.2,887.7 1079.0,888.1 1079.8,887.6 1080.6,888.8 1081.3,887.9 1082.1,889.0 1082.9,887.5 1083.7,887.6 1084.5,888.5 1085.3,888.7 1086.1,888.4 1086.9,888.0 1087.7,889.5 1088.5,889.2 1089.2,887.8 1090.0,888.6 1090.8,889.4 1091.6,890.1 1092.4,888.8 1093.2,889.8 1094.0,888.5 1094.8,888.6 1095.6,887.3 1096.3,889.5 1097.1,888.2 1097.9,889.5 1098.7,889.4 1099.5,888.9 1100.3,889.3 1101.1,887.4 1101.9,888.8 1102.7,889.3 1103.5,887.1 1104.2,889.4 1105.0,889.1 1105.8,889.0 1106.6,889.4 1107.4,888.4 1108.2,888.0 1109.0,889.8 1109.8,889.3 1110.6,889.2 1111.4,890.0 1112.1,889.9 1112.9,889.2 1113.7,889.6 1114.5,888.8 1115.3,888.4 1116.1,888.9 1116.9,888.8 1117.7,889.7 1118.5,889.5 1119.2,888.8 1120.0,888.7 1120.8,889.2 1121.6,888.7 1122.4,889.3 1123.2,890.0 1124.0,888.9 1124.8,889.5 1125.6,890.4 1126.4,888.6 1127.1,888.9 1127.9,888.7 1128.7,889.5 1129.5,888.1 1130.3,888.9 1131.1,888.5 1131.9,889.7 1132.7,889.5 1133.5,888.3 1134.2,889.3 1135.0,889.2 1135.8,888.2 1136.6,888.4 1137.4,889.1 1138.2,887.9 1139.0,890.3 1139.8,889.3 1140.6,889.7 1141.4,888.2 1142.1,888.2 1142.9,889.6 1143.7,889.2 1144.5,888.6 1145.3,888.9 1146.1,889.1 1146.9,888.6 1147.7,887.9 1148.5,889.2 1149.3,890.1 1150.0,889.4 1150.8,889.3 1151.6,889.6 1152.4,888.8 1153.2,888.8" stroke="#808000" stroke-width="1.30"/>
<polyline points="659.7,889.4 660.5,889.9 661.3,888.7 662.1,889.2 662.9,889.1 663.6,888.5 664.4,889.3 665.2,888.0 666.0,888.0 666.8,890.0 667.6,887.7 668.4,889.4 669.2,889.7 670.0,889.3 670.8,890.3 671.5,888.7 672.3,887.8 673.1,890.5 673.9,888.6 674.7,888.4 675.5,888.4 676.3,888.4 677.1,888.6 677.9,889.5 678.7,888.1 679.4,888.7 680.2,888.2 681.0,888.7 681.8,889.2 682.6,889.0 683.4,888.4 684.2,887.9 685.0,890.9 685.8,890.2 686.5,890.6 687.3,889.5 688.1,889.6 688.9,888.7 689.7,889.2 690.5,887.6 691.3,889.5 692.1,889.6 692.9,889.7 693.7,889.2 694.4,888.7 695.2,889.4 696.0,889.8 696.8,890.2 697.6,888.7 698.4,889.4 699.2,889.8 700.0,889.1 700.8,888.5 701.5,886.8 702.3,887.2 703.1,889.7 703.9,889.3 704.7,890.7 705.5,890.7 706.3,890.6 707.1,887.9 707.9,888.9 708.7,890.2 709.4,889.4 710.2,889.2 711.0,889.4 711.8,887.2 712.6,890.5 713.4,889.0 714.2,888.3 715.0,888.0 715.8,890.6 716.6,888.2 717.3,889.5 718.1,888.7 718.9,889.6 719.7,887.2 720.5,884.7 721.3,886.7 722.1,887.9 722.9,889.2 723.7,886.4 724.4,885.8 725.2,887.4 726.0,884.3 726.8,885.6 727.6,883.5 728.4,880.2 729.2,879.6 730.0,875.2 730.8,872.2 731.6,871.1 732.3,868.3 733.1,864.8 733.9,863.4 734.7,860.1 735.5,857.4 736.3,857.1 737.1,850.9 737.9,848.9 738.7,846.7 739.4,842.6 740.2,839.5 741.0,835.8 741.8,833.0 742.6,828.2 743.4,823.7 744.2,817.6 745.0,813.3 745.8,808.2 746.6,803.2 747.3,795.8 748.1,792.2 748.9,782.3 749.7,771.1 750.5,762.3 751.3,750.5 752.1,738.3 752.9,727.5 753.7,718.0 754.5,705.1 755.2,694.4 756.0,679.2 756.8,663.7 757.6,651.5 758.4,641.5 759.2,636.1 760.0,628.4 760.8,625.4 761.6,621.6 762.3,618.9 763.1,617.7 763.9,619.0 764.7,622.1 765.5,625.5 766.3,629.2 767.1,639.2 767.9,657.5 768.7,676.9 769.5,692.2 770.2,701.2 771.0,710.3 771.8,718.2 772.6,723.8 773.4,729.6 774.2,733.4 775.0,738.8 775.8,742.5 776.6,743.8 777.4,748.4 778.1,752.8 778.9,753.6 779.7,757.9 780.5,761.2 781.3,762.5 782.1,767.3 782.9,768.6 783.7,770.6 784.5,772.9 785.2,776.5 786.0,778.7 786.8,780.4 787.6,781.1 788.4,785.8 789.2,785.1 790.0,787.5 790.8,788.3 791.6,792.5 792.4,791.8 793.1,795.2 793.9,795.1 794.7,796.6 795.5,799.0 796.3,796.5 797.1,795.7 797.9,794.6 798.7,795.2 799.5,794.7 800.2,791.7 801.0,791.4 801.8,788.6 802.6,786.8 803.4,786.9 804.2,784.9 805.0,783.2 805.8,781.8 806.6,776.9 807.4,772.9 808.1,769.0 808.9,766.2 809.7,760.2 810.5,758.0 811.3,751.6 812.1,745.0 812.9,736.7 813.7,727.7 814.5,719.0 815.3,709.6 816.0,700.1 816.8,692.1 817.6,684.9 818.4,675.0 819.2,668.5 820.0,660.6 820.8,654.8 821.6,651.1 822.4,644.9 823.1,637.7 823.9,634.3 824.7,629.3 825.5,624.1 826.3,618.6 827.1,613.2 827.9,609.3 828.7,602.6 829.5,600.4 830.3,596.1 831.0,591.9 831.8,587.7 832.6,582.7 833.4,578.2 834.2,577.4 835.0,574.0 835.8,570.3 836.6,568.3 837.4,565.0 838.1,564.9 838.9,561.1 839.7,562.3 840.5,558.0 841.3,556.3 842.1,553.1 842.9,555.2 843.7,552.3 844.5,551.2 845.3,551.7 846.0,549.5 846.8,549.7 847.6,549.1 848.4,548.7 849.2,546.7 850.0,546.8 850.8,547.2 851.6,544.2 852.4,545.6 853.2,542.7 853.9,542.8 854.7,543.6 855.5,544.4 856.3,543.9 857.1,544.6 857.9,544.1 858.7,544.5 859.5,542.1 860.3,547.2 861.0,546.1 861.8,545.6 862.6,545.8 863.4,546.4 864.2,549.9 865.0,550.2 865.8,557.6 866.6,559.5 867.4,564.2 868.2,573.7 868.9,584.3 869.7,586.1 870.5,584.3 871.3,577.9 872.1,574.5 872.9,569.0 873.7,566.1 874.5,561.4 875.3,560.2 876.1,560.2 876.8,559.1 877.6,561.4 878.4,566.3 879.2,566.3 880.0,569.9 880.8,572.4 881.6,576.2 882.4,581.0 883.2,581.6 883.9,585.4 884.7,586.0 885.5,586.8 886.3,586.2 887.1,588.8 887.9,589.9 888.7,590.7 889.5,593.7 890.3,593.1 891.1,595.4 891.8,598.1 892.6,599.3 893.4,600.7 894.2,601.6 895.0,602.8 895.8,606.6 896.6,608.6 897.4,608.8 898.2,609.6 898.9,613.4 899.7,617.4 900.5,620.4 901.3,621.8 902.1,624.6 902.9,628.2 903.7,628.5 904.5,629.8 905.3,635.7 906.1,638.2 906.8,640.5 907.6,643.9 908.4,644.4 909.2,649.3 910.0,649.9 910.8,653.0 911.6,655.5 912.4,660.7 913.2,662.0 914.0,665.0 914.7,667.5 915.5,671.5 916.3,676.1 917.1,678.1 917.9,681.7 918.7,685.6 919.5,691.6 920.3,694.1 921.1,699.3 921.8,702.1 922.6,704.4 923.4,709.8 924.2,708.6 925.0,713.2 925.8,718.3 926.6,721.1 927.4,723.5 928.2,726.5 929.0,730.5 929.7,732.2 930.5,736.5 931.3,738.3 932.1,738.5 932.9,743.1 933.7,746.1 934.5,746.7 935.3,750.5 936.1,752.7 936.8,756.4 937.6,757.2 938.4,761.0 939.2,762.2 940.0,764.7 940.8,765.9 941.6,768.9 942.4,772.2 943.2,775.5 944.0,776.9 944.7,779.4 945.5,779.2 946.3,783.4 947.1,787.3 947.9,786.6 948.7,788.2 949.5,792.0 950.3,792.3 951.1,796.3 951.9,796.6 952.6,798.9 953.4,800.3 954.2,802.0 955.0,805.0 955.8,805.3 956.6,808.4 957.4,809.6 958.2,810.0 959.0,814.1 959.7,814.8 960.5,814.9 961.3,817.0 962.1,820.6 962.9,822.2 963.7,822.7 964.5,825.6 965.3,826.5 966.1,829.7 966.9,829.3 967.6,833.2 968.4,833.1 969.2,834.1 970.0,837.1 970.8,839.6 971.6,840.9 972.4,843.1 973.2,840.7 974.0,846.1 974.8,846.8 975.5,846.6 976.3,848.2 977.1,848.6 977.9,849.5 978.7,851.7 979.5,853.4 980.3,855.1 981.1,855.8 981.9,855.7 982.6,857.0 983.4,857.9 984.2,861.3 985.0,861.3 985.8,862.1 986.6,862.9 987.4,864.3 988.2,863.4 989.0,863.9 989.8,863.9 990.5,867.2 991.3,867.6 992.1,868.1 992.9,869.0 993.7,870.6 994.5,869.6 995.3,873.3 996.1,872.3 996.9,874.5 997.6,872.4 998.4,875.1 999.2,875.4 1000.0,874.7 1000.8,876.3 1001.6,875.4 1002.4,876.5 1003.2,874.4 1004.0,878.1 1004.8,878.0 1005.5,876.9 1006.3,877.7 1007.1,877.7 1007.9,878.8 1008.7,877.8 1009.5,878.7 1010.3,877.9 1011.1,881.0 1011.9,879.6 1012.7,880.3 1013.4,879.9 1014.2,881.5 1015.0,879.9 1015.8,882.4 1016.6,880.3 1017.4,880.9 1018.2,883.5 1019.0,881.4 1019.8,884.0 1020.5,881.6 1021.3,884.0 1022.1,882.6 1022.9,883.0 1023.7,884.5 1024.5,884.9 1025.3,882.6 1026.1,883.8 1026.9,882.3 1027.7,883.6 1028.4,880.9 1029.2,883.7 1030.0,882.2 1030.8,883.8 1031.6,884.2 1032.4,883.9 1033.2,885.4 1034.0,885.4 1034.8,883.1 1035.5,885.2 1036.3,886.3 1037.1,884.7 1037.9,886.2 1038.7,885.4 1039.5,884.4 1040.3,884.4 1041.1,883.9 1041.9,884.7 1042.7,885.3 1043.4,885.5 1044.2,885.9 1045.0,886.3 1045.8,884.0 1046.6,886.6 1047.4,884.8 1048.2,886.8 1049.0,885.4 1049.8,889.8 1050.6,886.7 1051.3,887.6 1052.1,885.3 1052.9,885.4 1053.7,887.7 1054.5,887.2 1055.3,886.2 1056.1,886.8 1056.9,887.1 1057.7,886.2 1058.4,888.6 1059.2,885.6 1060.0,886.8 1060.8,890.4 1061.6,888.3 1062.4,887.5 1063.2,885.0 1064.0,887.5 1064.8,889.1 1065.6,886.1 1066.3,887.1 1067.1,887.6 1067.9,886.5 1068.7,888.0 1069.5,887.8 1070.3,886.6 1071.1,887.2 1071.9,886.7 1072.7,888.1 1073.5,886.0 1074.2,889.3 1075.0,889.3 1075.8,887.3 1076.6,888.2 1077.4,887.7 1078.2,887.9 1079.0,888.1 1079.8,889.1 1080.6,887.7 1081.3,886.7 1082.1,888.9 1082.9,886.1 1083.7,886.5 1084.5,889.0 1085.3,887.3 1086.1,889.3 1086.9,888.3 1087.7,889.4 1088.5,888.8 1089.2,890.2 1090.0,888.4 1090.8,889.4 1091.6,889.3 1092.4,890.4 1093.2,888.3 1094.0,886.4 1094.8,888.8 1095.6,888.6 1096.3,889.6 1097.1,889.0 1097.9,889.4 1098.7,890.1 1099.5,889.5 1100.3,889.1 1101.1,888.2 1101.9,888.9 1102.7,888.3 1103.5,887.3 1104.2,887.7 1105.0,889.1 1105.8,890.5 1106.6,888.9 1107.4,888.6 1108.2,887.7 1109.0,888.6 1109.8,885.9 1110.6,889.1 1111.4,888.1 1112.1,889.8 1112.9,889.9 1113.7,889.2 1114.5,888.6 1115.3,888.2 1116.1,892.2 1116.9,887.7 1117.7,887.4 1118.5,887.5 1119.2,888.1 1120.0,889.1 1120.8,888.4 1121.6,887.6 1122.4,890.0 1123.2,888.3 1124.0,888.5 1124.8,889.2 1125.6,887.2 1126.4,889.8 1127.1,890.1 1127.9,889.1 1128.7,889.7 1129.5,887.7 1130.3,890.8 1131.1,890.5 1131.9,888.8 1132.7,888.3 1133.5,890.4 1134.2,887.8 1135.0,891.2 1135.8,888.1 1136.6,890.1 1137.4,889.7 1138.2,887.3 1139.0,889.2 1139.8,889.9 1140.6,888.9 1141.4,887.2 1142.1,889.1 1142.9,890.0 1143.7,889.0 1144.5,890.5 1145.3,889.9 1146.1,889.8 1146.9,888.6 1147.7,889.7 1148.5,888.7 1149.3,888.0 1150.0,887.6 1150.8,891.0 1151.6,889.3 1152.4,890.4 1153.2,888.6" stroke="#000080" stroke-width="1.30"/>
<polyline points="659.7,890.0 660.5,888.4 661.3,889.1 662.1,888.9 662.9,888.8 663.6,888.5 664.4,887.8 665.2,889.1 666.0,888.6 666.8,889.9 667.6,889.2 668.4,889.4 669.2,889.3 670.0,888.3 670.8,888.9 671.5,888.9 672.3,888.9 673.1,889.1 673.9,889.1 674.7,889.3 675.5,889.3 676.3,889.2 677.1,889.0 677.9,890.0 678.7,888.9 679.4,888.9 680.2,888.7 681.0,889.6 681.8,889.5 682.6,888.4 683.4,889.3 684.2,888.6 685.0,889.3 685.8,889.6 686.5,889.8 687.3,889.2 688.1,889.2 688.9,889.6 689.7,888.0 690.5,888.9 691.3,889.4 692.1,888.0 692.9,888.4 693.7,889.3 694.4,889.4 695.2,888.9 696.0,888.4 696.8,889.6 697.6,888.1 698.4,889.0 699.2,888.3 700.0,888.9 700.8,888.5 701.5,888.4 702.3,888.0 703.1,889.2 703.9,887.6 704.7,889.5 705.5,888.5 706.3,888.3 707.1,888.7 707.9,888.2 708.7,889.6 709.4,888.7 710.2,888.1 711.0,888.6 711.8,889.2 712.6,888.5 713.4,888.4 714.2,889.0 715.0,887.6 715.8,888.6 716.6,888.9 717.3,888.1 718.1,888.5 718.9,888.1 719.7,887.7 720.5,888.0 721.3,887.3 722.1,887.3 722.9,886.6 723.7,887.8 724.4,886.9 725.2,886.1 726.0,885.0 726.8,885.1 727.6,882.9 728.4,880.2 729.2,878.0 730.0,876.1 730.8,873.7 731.6,870.7 732.3,869.2 733.1,867.1 733.9,863.4 734.7,861.5 735.5,859.3 736.3,856.9 737.1,852.7 737.9,850.8 738.7,848.0 739.4,843.4 740.2,841.5 741.0,837.0 741.8,832.6 742.6,829.0 743.4,824.8 744.2,819.6 745.0,815.7 745.8,810.0 746.6,804.1 747.3,799.2 748.1,790.6 748.9,783.3 749.7,774.0 750.5,764.3 751.3,753.1 752.1,742.7 752.9,730.9 753.7,718.8 754.5,707.3 755.2,697.5 756.0,682.5 756.8,668.9 757.6,655.2 758.4,646.2 759.2,640.1 760.0,635.2 760.8,629.7 761.6,625.8 762.3,624.4 763.1,623.4 763.9,623.9 764.7,626.1 765.5,629.9 766.3,634.1 767.1,643.8 767.9,661.3 768.7,679.8 769.5,695.6 770.2,705.0 771.0,714.3 771.8,721.2 772.6,726.1 773.4,731.4 774.2,736.4 775.0,740.8 775.8,744.8 776.6,747.8 777.4,751.5 778.1,754.2 778.9,756.1 779.7,760.6 780.5,762.9 781.3,765.4 782.1,769.1 782.9,771.2 783.7,772.4 784.5,775.2 785.2,777.9 786.0,779.2 786.8,782.6 787.6,782.8 788.4,785.7 789.2,787.8 790.0,788.7 790.8,790.8 791.6,792.7 792.4,794.5 793.1,796.8 793.9,798.0 794.7,797.5 795.5,797.3 796.3,798.3 797.1,797.4 797.9,797.7 798.7,796.9 799.5,795.0 800.2,793.4 801.0,792.0 801.8,790.4 802.6,790.1 803.4,788.2 804.2,785.8 805.0,784.6 805.8,781.6 806.6,778.5 807.4,775.3 808.1,771.3 808.9,767.7 809.7,764.1 810.5,760.8 811.3,753.1 812.1,745.9 812.9,738.2 813.7,729.6 814.5,720.5 815.3,711.1 816.0,703.5 816.8,695.1 817.6,687.4 818.4,678.7 819.2,671.4 820.0,664.8 820.8,659.5 821.6,652.8 822.4,646.8 823.1,644.1 823.9,636.7 824.7,632.5 825.5,627.9 826.3,622.5 827.1,617.9 827.9,613.1 828.7,607.7 829.5,604.0 830.3,599.7 831.0,596.2 831.8,592.4 832.6,589.2 833.4,585.1 834.2,582.1 835.0,577.8 835.8,575.7 836.6,572.5 837.4,569.9 838.1,568.0 838.9,567.1 839.7,564.0 840.5,564.5 841.3,561.0 842.1,561.9 842.9,559.7 843.7,558.0 844.5,557.2 845.3,557.0 846.0,555.6 846.8,553.7 847.6,554.0 848.4,551.8 849.2,550.8 850.0,550.0 850.8,550.0 851.6,549.5 852.4,549.1 853.2,546.8 853.9,547.4 854.7,547.5 855.5,547.7 856.3,547.4 857.1,549.5 857.9,548.2 858.7,549.5 859.5,551.0 860.3,549.4 861.0,551.0 861.8,550.9 862.6,552.3 863.4,553.0 864.2,552.9 865.0,555.7 865.8,559.3 866.6,565.0 867.4,569.2 868.2,579.4 868.9,587.1 869.7,590.3 870.5,586.4 871.3,581.4 872.1,578.6 872.9,573.7 873.7,570.6 874.5,566.1 875.3,564.6 876.1,564.7 876.8,563.9 877.6,566.9 878.4,569.9 879.2,571.9 880.0,575.2 880.8,577.5 881.6,581.8 882.4,582.6 883.2,586.0 883.9,587.6 884.7,589.4 885.5,590.7 886.3,590.7 887.1,593.1 887.9,595.2 888.7,595.9 889.5,597.0 890.3,597.9 891.1,600.1 891.8,601.2 892.6,601.2 893.4,604.7 894.2,606.4 895.0,609.1 895.8,609.8 896.6,612.8 897.4,613.6 898.2,616.2 898.9,618.7 899.7,621.8 900.5,624.1 901.3,626.6 902.1,628.7 902.9,631.4 903.7,634.0 904.5,636.1 905.3,638.6 906.1,641.3 906.8,643.1 907.6,645.5 908.4,649.1 909.2,650.1 910.0,653.9 910.8,656.1 911.6,658.5 912.4,663.4 913.2,665.2 914.0,668.0 914.7,670.9 915.5,674.6 916.3,678.0 917.1,683.2 917.9,686.7 918.7,689.6 919.5,695.0 920.3,697.8 921.1,701.3 921.8,704.4 922.6,707.3 923.4,710.8 924.2,714.5 925.0,717.6 925.8,719.8 926.6,722.6 927.4,725.7 928.2,728.7 929.0,731.5 929.7,735.2 930.5,737.1 931.3,739.4 932.1,743.2 932.9,744.9 933.7,747.4 934.5,748.9 935.3,752.9 936.1,755.5 936.8,758.5 937.6,760.8 938.4,763.5 939.2,766.0 940.0,766.8 940.8,769.5 941.6,771.5 942.4,774.8 943.2,777.2 944.0,779.2 944.7,779.4 945.5,781.7 946.3,785.2 947.1,786.4 947.9,788.4 948.7,791.1 949.5,792.8 950.3,793.8 951.1,795.9 951.9,797.6 952.6,799.9 953.4,801.8 954.2,803.4 955.0,805.6 955.8,806.3 956.6,808.9 957.4,810.5 958.2,812.6 959.0,814.6 959.7,816.0 960.5,817.8 961.3,819.7 962.1,820.4 962.9,821.4 963.7,824.0 964.5,825.9 965.3,827.9 966.1,830.0 966.9,830.4 967.6,832.0 968.4,834.5 969.2,835.5 970.0,837.7 970.8,837.9 971.6,840.2 972.4,841.5 973.2,842.2 974.0,846.0 974.8,845.9 975.5,847.3 976.3,849.0 977.1,850.1 977.9,850.7 978.7,853.0 979.5,854.2 980.3,853.9 981.1,855.4 981.9,856.8 982.6,857.6 983.4,858.9 984.2,860.1 985.0,860.9 985.8,861.6 986.6,862.9 987.4,864.5 988.2,864.5 989.0,865.1 989.8,866.2 990.5,866.5 991.3,867.6 992.1,867.9 992.9,869.2 993.7,870.1 994.5,870.4 995.3,870.9 996.1,872.3 996.9,873.2 997.6,872.5 998.4,874.1 999.2,874.2 1000.0,875.2 1000.8,875.2 1001.6,875.0 1002.4,875.2 1003.2,877.4 1004.0,877.8 1004.8,879.3 1005.5,877.3 1006.3,877.0 1007.1,878.1 1007.9,878.7 1008.7,878.4 1009.5,879.7 1010.3,879.0 1011.1,878.9 1011.9,879.2 1012.7,879.8 1013.4,880.7 1014.2,880.8 1015.0,881.4 1015.8,880.0 1016.6,880.6 1017.4,881.5 1018.2,881.7 1019.0,881.7 1019.8,882.4 1020.5,881.9 1021.3,882.1 1022.1,882.3 1022.9,882.7 1023.7,884.3 1024.5,883.1 1025.3,884.0 1026.1,884.3 1026.9,882.2 1027.7,883.9 1028.4,883.9 1029.2,884.1 1030.0,884.6 1030.8,883.3 1031.6,885.4 1032.4,884.2 1033.2,885.0 1034.0,884.0 1034.8,884.4 1035.5,885.0 1036.3,886.0 1037.1,884.8 1037.9,884.8 1038.7,885.1 1039.5,885.8 1040.3,885.4 1041.1,886.3 1041.9,885.8 1042.7,885.8 1043.4,886.3 1044.2,886.8 1045.0,886.5 1045.8,887.0 1046.6,887.2 1047.4,886.0 1048.2,886.8 1049.0,887.1 1049.8,887.1 1050.6,886.6 1051.3,887.1 1052.1,887.4 1052.9,886.9 1053.7,887.0 1054.5,887.7 1055.3,887.8 1056.1,886.4 1056.9,887.4 1057.7,886.6 1058.4,887.0 1059.2,887.4 1060.0,887.5 1060.8,886.4 1061.6,887.8 1062.4,887.7 1063.2,888.0 1064.0,887.6 1064.8,888.1 1065.6,887.5 1066.3,888.4 1067.1,887.3 1067.9,887.5 1068.7,887.6 1069.5,888.1 1070.3,887.0 1071.1,886.6 1071.9,887.9 1072.7,888.3 1073.5,887.5 1074.2,888.0 1075.0,887.8 1075.8,887.6 1076.6,888.8 1077.4,887.6 1078.2,888.7 1079.0,888.8 1079.8,888.3 1080.6,887.3 1081.3,888.5 1082.1,887.9 1082.9,888.7 1083.7,887.8 1084.5,888.1 1085.3,887.6 1086.1,888.2 1086.9,888.3 1087.7,889.4 1088.5,888.2 1089.2,887.9 1090.0,888.3 1090.8,888.3 1091.6,888.1 1092.4,888.0 1093.2,889.0 1094.0,888.5 1094.8,888.3 1095.6,888.4 1096.3,889.1 1097.1,889.8 1097.9,888.4 1098.7,888.2 1099.5,887.7 1100.3,888.4 1101.1,889.2 1101.9,888.4 1102.7,888.8 1103.5,889.1 1104.2,889.6 1105.0,889.8 1105.8,889.2 1106.6,889.0 1107.4,888.8 1108.2,888.8 1109.0,888.7 1109.8,887.7 1110.6,888.9 1111.4,888.1 1112.1,889.4 1112.9,889.4 1113.7,889.2 1114.5,890.0 1115.3,888.0 1116.1,888.8 1116.9,888.6 1117.7,888.0 1118.5,888.8 1119.2,888.1 1120.0,890.4 1120.8,888.3 1121.6,888.9 1122.4,889.4 1123.2,888.4 1124.0,889.1 1124.8,889.5 1125.6,890.3 1126.4,888.1 1127.1,890.7 1127.9,889.1 1128.7,888.2 1129.5,888.8 1130.3,889.5 1131.1,889.3 1131.9,889.5 1132.7,889.0 1133.5,889.2 1134.2,890.0 1135.0,890.1 1135.8,888.5 1136.6,890.0 1137.4,889.9 1138.2,887.9 1139.0,889.7 1139.8,890.0 1140.6,889.8 1141.4,888.8 1142.1,889.7 1142.9,889.4 1143.7,890.6 1144.5,889.6 1145.3,889.3 1146.1,889.3 1146.9,888.4 1147.7,889.0 1148.5,891.0 1149.3,890.3 1150.0,889.8 1150.8,889.5 1151.6,889.3 1152.4,888.9 1153.2,890.3" stroke="#800000" stroke-width="3.50"/>
<polyline points="659.7,889.6 660.5,889.3 661.3,889.7 662.1,889.7 662.9,888.4 663.6,889.7 664.4,888.8 665.2,888.9 666.0,889.2 666.8,887.6 667.6,889.8 668.4,887.5 669.2,889.6 670.0,889.2 670.8,888.8 671.5,888.3 672.3,888.6 673.1,889.2 673.9,889.2 674.7,888.3 675.5,888.1 676.3,889.3 677.1,888.3 677.9,888.6 678.7,888.8 679.4,889.6 680.2,889.7 681.0,888.7 681.8,890.6 682.6,889.3 683.4,888.7 684.2,889.9 685.0,888.0 685.8,887.9 686.5,889.6 687.3,889.0 688.1,889.0 688.9,889.2 689.7,889.2 690.5,888.6 691.3,887.9 692.1,888.8 692.9,888.8 693.7,888.8 694.4,889.3 695.2,888.5 696.0,889.1 696.8,889.4 697.6,888.4 698.4,889.9 699.2,889.1 700.0,889.0 700.8,888.9 701.5,889.7 702.3,889.4 703.1,888.9 703.9,888.4 704.7,888.8 705.5,888.9 706.3,889.2 707.1,888.7 707.9,890.4 708.7,888.3 709.4,888.1 710.2,888.7 711.0,889.2 711.8,887.8 712.6,889.0 713.4,887.8 714.2,888.7 715.0,888.9 715.8,888.5 716.6,888.7 717.3,888.3 718.1,887.8 718.9,888.2 719.7,888.2 720.5,887.8 721.3,887.5 722.1,887.6 722.9,887.1 723.7,886.9 724.4,886.8 725.2,885.9 726.0,885.3 726.8,883.3 727.6,882.1 728.4,880.0 729.2,878.6 730.0,877.1 730.8,874.3 731.6,871.6 732.3,869.1 733.1,866.9 733.9,863.7 734.7,862.9 735.5,860.6 736.3,857.0 737.1,854.5 737.9,851.1 738.7,847.5 739.4,843.0 740.2,841.9 741.0,838.1 741.8,833.6 742.6,830.3 743.4,825.6 744.2,819.8 745.0,815.8 745.8,810.8 746.6,804.8 747.3,800.5 748.1,792.4 748.9,784.3 749.7,775.0 750.5,765.9 751.3,755.1 752.1,744.0 752.9,732.2 753.7,721.7 754.5,709.5 755.2,699.8 756.0,685.1 756.8,670.4 757.6,658.3 758.4,648.9 759.2,642.8 760.0,637.2 760.8,632.0 761.6,628.9 762.3,626.9 763.1,626.2 763.9,626.9 764.7,628.9 765.5,632.5 766.3,637.1 767.1,646.7 767.9,663.9 768.7,682.6 769.5,697.6 770.2,707.0 771.0,714.3 771.8,722.5 772.6,728.0 773.4,734.1 774.2,737.7 775.0,742.2 775.8,745.4 776.6,749.2 777.4,753.2 778.1,755.5 778.9,758.7 779.7,761.4 780.5,764.4 781.3,766.7 782.1,769.1 782.9,771.6 783.7,772.8 784.5,776.7 785.2,778.9 786.0,781.2 786.8,783.3 787.6,785.2 788.4,786.7 789.2,788.6 790.0,789.9 790.8,791.9 791.6,794.3 792.4,795.3 793.1,796.5 793.9,797.9 794.7,798.6 795.5,798.9 796.3,798.4 797.1,798.3 797.9,798.1 798.7,797.0 799.5,795.2 800.2,795.3 801.0,793.1 801.8,792.2 802.6,788.6 803.4,788.8 804.2,787.2 805.0,785.1 805.8,783.4 806.6,779.9 807.4,775.3 808.1,772.8 808.9,769.3 809.7,765.1 810.5,760.7 811.3,755.5 812.1,747.9 812.9,739.7 813.7,732.2 814.5,722.6 815.3,715.2 816.0,706.0 816.8,696.6 817.6,688.1 818.4,679.6 819.2,673.9 820.0,666.6 820.8,660.8 821.6,654.5 822.4,649.7 823.1,644.8 823.9,639.6 824.7,635.3 825.5,629.6 826.3,625.5 827.1,619.9 827.9,615.7 828.7,611.1 829.5,607.6 830.3,603.7 831.0,599.8 831.8,595.0 832.6,592.8 833.4,587.3 834.2,584.9 835.0,582.3 835.8,578.5 836.6,576.8 837.4,573.8 838.1,571.9 838.9,569.2 839.7,567.7 840.5,566.0 841.3,565.3 842.1,563.0 842.9,562.5 843.7,561.2 844.5,559.9 845.3,558.9 846.0,558.8 846.8,556.8 847.6,557.2 848.4,555.2 849.2,554.9 850.0,554.1 850.8,554.1 851.6,552.3 852.4,552.4 853.2,551.3 853.9,551.9 854.7,551.7 855.5,551.2 856.3,550.9 857.1,552.5 857.9,552.4 858.7,552.8 859.5,553.1 860.3,553.7 861.0,553.3 861.8,554.1 862.6,555.2 863.4,555.6 864.2,556.6 865.0,559.6 865.8,563.2 866.6,566.9 867.4,571.7 868.2,583.4 868.9,590.7 869.7,592.2 870.5,590.1 871.3,584.3 872.1,580.7 872.9,577.7 873.7,573.5 874.5,569.8 875.3,568.6 876.1,567.6 876.8,568.7 877.6,570.7 878.4,572.6 879.2,575.8 880.0,578.3 880.8,582.0 881.6,583.4 882.4,586.9 883.2,588.1 883.9,589.2 884.7,591.1 885.5,593.4 886.3,594.7 887.1,596.2 887.9,597.3 888.7,599.2 889.5,601.1 890.3,601.2 891.1,602.7 891.8,603.3 892.6,604.7 893.4,608.2 894.2,609.8 895.0,610.7 895.8,612.5 896.6,615.1 897.4,617.3 898.2,620.6 898.9,620.6 899.7,624.6 900.5,626.2 901.3,628.8 902.1,631.9 902.9,633.3 903.7,635.4 904.5,638.7 905.3,641.0 906.1,643.2 906.8,645.5 907.6,648.1 908.4,651.6 909.2,654.3 910.0,656.7 910.8,660.7 911.6,662.7 912.4,664.9 913.2,668.1 914.0,671.2 914.7,673.3 915.5,677.0 916.3,680.2 917.1,684.5 917.9,688.4 918.7,692.4 919.5,695.6 920.3,700.4 921.1,703.5 921.8,706.1 922.6,709.1 923.4,712.7 924.2,716.4 925.0,718.4 925.8,722.1 926.6,724.7 927.4,728.0 928.2,729.3 929.0,732.3 929.7,736.4 930.5,739.3 931.3,741.4 932.1,743.6 932.9,745.9 933.7,749.2 934.5,752.4 935.3,754.0 936.1,756.5 936.8,760.0 937.6,761.6 938.4,764.0 939.2,766.7 940.0,768.3 940.8,770.1 941.6,772.3 942.4,775.5 943.2,777.5 944.0,778.9 944.7,781.6 945.5,783.7 946.3,784.2 947.1,789.0 947.9,789.9 948.7,791.9 949.5,793.4 950.3,794.4 951.1,797.3 951.9,799.3 952.6,800.9 953.4,802.9 954.2,804.4 955.0,804.9 955.8,808.5 956.6,810.0 957.4,811.6 958.2,814.5 959.0,814.7 959.7,816.7 960.5,819.5 961.3,820.1 962.1,821.5 962.9,823.7 963.7,824.2 964.5,826.8 965.3,829.0 966.1,829.3 966.9,831.4 967.6,832.9 968.4,835.5 969.2,836.9 970.0,838.3 970.8,839.3 971.6,840.8 972.4,841.5 973.2,842.8 974.0,845.1 974.8,846.6 975.5,846.9 976.3,849.2 977.1,850.0 977.9,852.1 978.7,853.1 979.5,854.4 980.3,855.7 981.1,856.2 981.9,857.9 982.6,858.4 983.4,859.1 984.2,859.1 985.0,862.3 985.8,862.0 986.6,862.6 987.4,864.0 988.2,864.2 989.0,865.2 989.8,866.1 990.5,867.4 991.3,868.1 992.1,868.9 992.9,870.1 993.7,870.1 994.5,871.5 995.3,872.1 996.1,873.0 996.9,872.2 997.6,873.8 998.4,874.5 999.2,874.1 1000.0,875.3 1000.8,875.4 1001.6,876.1 1002.4,876.2 1003.2,876.7 1004.0,878.4 1004.8,876.6 1005.5,877.2 1006.3,878.9 1007.1,877.9 1007.9,878.8 1008.7,878.9 1009.5,878.6 1010.3,879.0 1011.1,879.3 1011.9,878.9 1012.7,879.7 1013.4,880.9 1014.2,881.5 1015.0,880.5 1015.8,882.2 1016.6,881.6 1017.4,881.8 1018.2,882.2 1019.0,881.2 1019.8,882.0 1020.5,882.5 1021.3,882.0 1022.1,882.9 1022.9,882.1 1023.7,881.8 1024.5,883.2 1025.3,883.4 1026.1,882.8 1026.9,884.7 1027.7,884.4 1028.4,884.4 1029.2,884.9 1030.0,884.2 1030.8,884.1 1031.6,884.4 1032.4,884.6 1033.2,884.2 1034.0,884.2 1034.8,884.3 1035.5,885.2 1036.3,885.2 1037.1,884.5 1037.9,885.2 1038.7,884.8 1039.5,886.0 1040.3,885.8 1041.1,886.3 1041.9,886.0 1042.7,885.9 1043.4,886.5 1044.2,885.2 1045.0,887.2 1045.8,886.0 1046.6,887.2 1047.4,886.5 1048.2,887.2 1049.0,886.8 1049.8,886.8 1050.6,887.4 1051.3,887.7 1052.1,887.5 1052.9,887.1 1053.7,886.7 1054.5,886.3 1055.3,888.2 1056.1,887.0 1056.9,887.5 1057.7,887.3 1058.4,887.2 1059.2,886.9 1060.0,887.2 1060.8,887.5 1061.6,886.6 1062.4,887.3 1063.2,887.5 1064.0,886.9 1064.8,888.2 1065.6,888.2 1066.3,886.8 1067.1,887.8 1067.9,888.7 1068.7,887.3 1069.5,887.1 1070.3,888.2 1071.1,888.6 1071.9,887.9 1072.7,887.7 1073.5,888.3 1074.2,888.5 1075.0,887.7 1075.8,887.7 1076.6,888.9 1077.4,888.7 1078.2,888.3 1079.0,888.5 1079.8,888.0 1080.6,887.9 1081.3,887.1 1082.1,888.0 1082.9,887.7 1083.7,889.1 1084.5,888.7 1085.3,887.7 1086.1,889.1 1086.9,887.6 1087.7,888.1 1088.5,888.3 1089.2,888.5 1090.0,889.1 1090.8,889.1 1091.6,888.8 1092.4,888.7 1093.2,887.8 1094.0,889.1 1094.8,888.9 1095.6,889.6 1096.3,888.5 1097.1,888.6 1097.9,888.0 1098.7,887.6 1099.5,888.4 1100.3,889.2 1101.1,888.6 1101.9,888.6 1102.7,888.8 1103.5,889.4 1104.2,888.6 1105.0,889.5 1105.8,888.9 1106.6,889.0 1107.4,890.3 1108.2,888.5 1109.0,887.7 1109.8,889.1 1110.6,889.3 1111.4,888.4 1112.1,889.7 1112.9,888.9 1113.7,888.8 1114.5,889.3 1115.3,889.0 1116.1,889.5 1116.9,889.3 1117.7,888.7 1118.5,889.5 1119.2,889.4 1120.0,889.5 1120.8,888.8 1121.6,889.3 1122.4,889.6 1123.2,888.9 1124.0,890.3 1124.8,890.2 1125.6,889.0 1126.4,888.1 1127.1,889.4 1127.9,889.0 1128.7,890.0 1129.5,889.1 1130.3,889.1 1131.1,888.9 1131.9,889.6 1132.7,888.1 1133.5,889.8 1134.2,888.4 1135.0,889.8 1135.8,888.8 1136.6,888.5 1137.4,888.0 1138.2,889.3 1139.0,890.2 1139.8,888.8 1140.6,889.7 1141.4,889.9 1142.1,889.6 1142.9,889.8 1143.7,888.9 1144.5,889.2 1145.3,888.9 1146.1,888.8 1146.9,889.5 1147.7,888.9 1148.5,888.6 1149.3,888.3 1150.0,889.2 1150.8,889.5 1151.6,889.8 1152.4,889.5 1153.2,889.3" stroke="#ff0000" stroke-width="3.50" stroke-opacity="0.90"/>
</g>
<path d="M980.0 550.0H1021.9" stroke="#ff0000" stroke-width="3.8" stroke-linecap="round"/>
<path d="M980.0 573.9H1021.9" stroke="#700000" stroke-width="3.8" stroke-linecap="round"/>
<path d="M978.9 598.3H1023.0" stroke="#1a1a8c" stroke-width="1.6" stroke-linecap="round"/>
<path d="M979.1 622.1H1022.8" stroke="#808000" stroke-width="2.0" stroke-linecap="round"/>
<path d="M979.1 645.8H1022.8" stroke="#ff33ff" stroke-width="2.0" stroke-linecap="round"/>
<path d="M979.1 670.6H1022.8" stroke="#008080" stroke-width="2.0" stroke-linecap="round"/>
<path d="M979.1 694.4H1022.8" stroke="#0000ff" stroke-width="2.0" stroke-linecap="round"/>
<path d="M979.7 718.4H1022.2" stroke="#ff0000" stroke-width="3.2" stroke-linecap="round"/>
<path d="M979.4 742.4H1022.5" stroke="#000000" stroke-width="2.6" stroke-linecap="round"/>
<g font-family="Liberation Sans, Arial, sans-serif" fill="#000">
<text transform="translate(1027.50 555.60) scale(1.040 1.000)" font-size="19">8 hours</text>
<text transform="translate(1027.50 579.50) scale(1.040 1.000)" font-size="19">7 hours</text>
<text transform="translate(1027.50 603.90) scale(1.040 1.000)" font-size="19">6 hours</text>
<text transform="translate(1027.50 627.70) scale(1.040 1.000)" font-size="19">4 hours</text>
<text transform="translate(1027.50 651.40) scale(1.040 1.000)" font-size="19">2 hours</text>
<text transform="translate(1027.50 676.20) scale(1.040 1.000)" font-size="19">1.5 hour</text>
<text transform="translate(1027.50 700.00) scale(1.040 1.000)" font-size="19">1 hour</text>
<text transform="translate(1027.50 724.00) scale(1.040 1.000)" font-size="19">0.5 hour</text>
<text transform="translate(1027.50 748.00) scale(1.040 1.000)" font-size="19">Start</text>
<text transform="translate(906.50 954.80) scale(1.059 1.000)" font-size="20" text-anchor="middle">Wavelength (nm)</text>
<text transform="translate(578.20 717.35) scale(1.060 1.020) rotate(-90)" font-size="21" text-anchor="middle">Transmittance Intensity</text>
</g>
<g stroke="#111" stroke-width="1.6" fill="none">
<path d="M1338.6 898.1V532.0"/>
<path d="M1337.8 897.3H1833.1"/>
<path d="M1331.1 897.3H1338.6M1331.1 860.8H1338.6M1331.1 824.2H1338.6M1331.1 787.7H1338.6M1331.1 751.2H1338.6M1331.1 714.6H1338.6M1331.1 678.1H1338.6M1331.1 641.6H1338.6M1331.1 605.1H1338.6M1331.1 568.5H1338.6M1331.1 532.0H1338.6M1334.6 879.0H1338.6M1334.6 842.5H1338.6M1334.6 806.0H1338.6M1334.6 769.4H1338.6M1334.6 732.9H1338.6M1334.6 696.4H1338.6M1334.6 659.9H1338.6M1334.6 623.3H1338.6M1334.6 586.8H1338.6M1334.6 550.3H1338.6M1388.0 897.3V904.8M1486.9 897.3V904.8M1585.8 897.3V904.8M1684.8 897.3V904.8M1783.6 897.3V904.8M1338.6 897.3V901.3M1437.5 897.3V901.3M1536.4 897.3V901.3M1635.3 897.3V901.3M1734.2 897.3V901.3M1833.1 897.3V901.3"/>
</g>
<g font-family="Liberation Sans, Arial, sans-serif" fill="#000">
<text transform="translate(1326.00 902.20) scale(1.050 1.000)" font-size="17" text-anchor="end">0.0</text>
<text transform="translate(1326.00 865.67) scale(1.050 1.000)" font-size="17" text-anchor="end">0.1</text>
<text transform="translate(1326.00 829.14) scale(1.050 1.000)" font-size="17" text-anchor="end">0.2</text>
<text transform="translate(1326.00 792.61) scale(1.050 1.000)" font-size="17" text-anchor="end">0.3</text>
<text transform="translate(1326.00 756.08) scale(1.050 1.000)" font-size="17" text-anchor="end">0.4</text>
<text transform="translate(1326.00 719.55) scale(1.050 1.000)" font-size="17" text-anchor="end">0.5</text>
<text transform="translate(1326.00 683.02) scale(1.050 1.000)" font-size="17" text-anchor="end">0.6</text>
<text transform="translate(1326.00 646.49) scale(1.050 1.000)" font-size="17" text-anchor="end">0.7</text>
<text transform="translate(1326.00 609.96) scale(1.050 1.000)" font-size="17" text-anchor="end">0.8</text>
<text transform="translate(1326.00 573.43) scale(1.050 1.000)" font-size="17" text-anchor="end">0.9</text>
<text transform="translate(1326.00 536.90) scale(1.050 1.000)" font-size="17" text-anchor="end">1.0</text>
<text transform="translate(1388.05 923.60) scale(1.040 1.000)" font-size="17" text-anchor="middle">400</text>
<text transform="translate(1486.95 923.60) scale(1.040 1.000)" font-size="17" text-anchor="middle">500</text>
<text transform="translate(1585.85 923.60) scale(1.040 1.000)" font-size="17" text-anchor="middle">600</text>
<text transform="translate(1684.75 923.60) scale(1.040 1.000)" font-size="17" text-anchor="middle">700</text>
<text transform="translate(1783.65 923.60) scale(1.040 1.000)" font-size="17" text-anchor="middle">800</text>
</g>
<g fill="none" stroke-linejoin="round">
<polyline points="1338.6,879.6 1339.4,879.7 1340.2,873.1 1341.0,882.2 1341.8,872.2 1342.6,882.9 1343.3,874.0 1344.1,883.1 1344.9,867.3 1345.7,870.3 1346.5,866.2 1347.3,881.3 1348.1,884.6 1348.9,884.6 1349.7,877.0 1350.5,868.1 1351.3,870.6 1352.1,870.8 1352.8,884.0 1353.6,867.9 1354.4,870.4 1355.2,879.2 1356.0,893.1 1356.8,881.0 1357.6,876.4 1358.4,864.5 1359.2,874.0 1360.0,875.9 1360.8,864.4 1361.5,864.7 1362.3,872.8 1363.1,871.1 1363.9,866.8 1364.7,880.4 1365.5,872.6 1366.3,878.4 1367.1,882.2 1367.9,872.0 1368.7,867.8 1369.5,862.4 1370.2,870.0 1371.0,867.5 1371.8,876.7 1372.6,885.9 1373.4,879.8 1374.2,872.6 1375.0,879.5 1375.8,862.1 1376.6,866.9 1377.4,876.8 1378.2,863.3 1379.0,870.9 1379.7,864.0 1380.5,876.6 1381.3,869.9 1382.1,877.0 1382.9,875.3 1383.7,867.4 1384.5,862.0 1385.3,874.5 1386.1,873.3 1386.9,881.5 1387.7,876.8 1388.4,871.9 1389.2,884.0 1390.0,878.3 1390.8,883.0 1391.6,873.7 1392.4,868.7 1393.2,872.4 1394.0,876.6 1394.8,881.5 1395.6,885.5 1396.4,873.8 1397.1,863.1 1397.9,875.3 1398.7,873.6 1399.5,875.9 1400.3,880.3 1401.1,864.6 1401.9,866.7 1402.7,881.5 1403.5,879.4 1404.3,861.0 1405.1,876.0 1405.9,869.7 1406.6,876.0 1407.4,866.1 1408.2,873.2 1409.0,871.0 1409.8,873.4 1410.6,851.0 1411.4,844.4 1412.2,859.2 1413.0,854.0 1413.8,852.5 1414.6,854.2 1415.3,852.4 1416.1,851.9 1416.9,841.4 1417.7,853.0 1418.5,847.6 1419.3,833.8 1420.1,845.3 1420.9,820.8 1421.7,830.4 1422.5,823.3 1423.3,811.4 1424.0,817.0 1424.8,811.7 1425.6,812.7 1426.4,800.6 1427.2,794.6 1428.0,800.4 1428.8,783.7 1429.6,774.8 1430.4,770.0 1431.2,766.6 1432.0,740.0 1432.8,720.7 1433.5,717.0 1434.3,710.5 1435.1,688.8 1435.9,672.7 1436.7,653.9 1437.5,645.6 1438.3,640.9 1439.1,642.4 1439.9,625.0 1440.7,622.0 1441.5,621.8 1442.2,623.2 1443.0,603.8 1443.8,623.8 1444.6,606.1 1445.4,602.0 1446.2,622.7 1447.0,637.1 1447.8,645.6 1448.6,655.9 1449.4,657.1 1450.2,660.1 1451.0,679.6 1451.7,683.4 1452.5,691.8 1453.3,684.6 1454.1,690.7 1454.9,708.0 1455.7,708.5 1456.5,709.1 1457.3,726.6 1458.1,721.1 1458.9,719.5 1459.7,733.1 1460.4,724.4 1461.2,728.0 1462.0,734.6 1462.8,725.6 1463.6,741.5 1464.4,734.0 1465.2,740.8 1466.0,733.2 1466.8,748.3 1467.6,740.6 1468.4,742.6 1469.1,741.3 1469.9,740.2 1470.7,764.5 1471.5,756.5 1472.3,765.6 1473.1,752.8 1473.9,751.5 1474.7,764.1 1475.5,760.7 1476.3,753.0 1477.1,759.5 1477.9,759.9 1478.6,767.8 1479.4,758.0 1480.2,742.4 1481.0,755.8 1481.8,739.5 1482.6,736.0 1483.4,733.8 1484.2,724.6 1485.0,732.0 1485.8,713.6 1486.6,722.9 1487.3,709.0 1488.1,716.2 1488.9,706.0 1489.7,705.5 1490.5,686.0 1491.3,697.7 1492.1,686.5 1492.9,664.1 1493.7,663.5 1494.5,665.8 1495.3,664.1 1496.0,668.4 1496.8,658.5 1497.6,651.7 1498.4,643.5 1499.2,643.3 1500.0,637.7 1500.8,643.4 1501.6,649.2 1502.4,644.9 1503.2,629.8 1504.0,637.8 1504.8,626.7 1505.5,645.8 1506.3,636.2 1507.1,636.5 1507.9,627.2 1508.7,632.7 1509.5,634.7 1510.3,624.1 1511.1,638.0 1511.9,624.3 1512.7,615.4 1513.5,624.9 1514.2,615.5 1515.0,619.8 1515.8,614.4 1516.6,608.8 1517.4,605.6 1518.2,604.4 1519.0,611.3 1519.8,593.8 1520.6,600.9 1521.4,606.4 1522.2,591.0 1522.9,602.0 1523.7,584.1 1524.5,590.8 1525.3,596.3 1526.1,597.8 1526.9,599.2 1527.7,597.7 1528.5,593.0 1529.3,580.3 1530.1,587.4 1530.9,588.1 1531.7,583.3 1532.4,587.3 1533.2,592.5 1534.0,592.7 1534.8,570.4 1535.6,581.0 1536.4,566.1 1537.2,562.5 1538.0,572.8 1538.8,568.2 1539.6,575.4 1540.4,573.2 1541.1,571.4 1541.9,572.4 1542.7,563.2 1543.5,577.2 1544.3,573.3 1545.1,582.5 1545.9,582.7 1546.7,577.7 1547.5,605.2 1548.3,588.4 1549.1,602.9 1549.9,597.6 1550.6,600.9 1551.4,600.7 1552.2,605.4 1553.0,612.8 1553.8,576.2 1554.6,583.3 1555.4,589.6 1556.2,599.9 1557.0,580.8 1557.8,573.5 1558.6,581.1 1559.3,596.0 1560.1,586.8 1560.9,580.6 1561.7,582.6 1562.5,573.5 1563.3,587.9 1564.1,584.9 1564.9,597.5 1565.7,570.5 1566.5,573.1 1567.3,579.5 1568.0,587.7 1568.8,566.4 1569.6,580.7 1570.4,577.2 1571.2,579.3 1572.0,573.0 1572.8,566.8 1573.6,565.2 1574.4,546.7 1575.2,547.1 1576.0,549.6 1576.8,552.2 1577.5,545.9 1578.3,552.8 1579.1,537.8 1579.9,545.3 1580.7,540.3 1581.5,532.6 1582.3,540.5 1583.1,543.9 1583.9,532.0 1584.7,547.2 1585.5,544.9 1586.2,545.3 1587.0,543.4 1587.8,540.7 1588.6,565.0 1589.4,546.9 1590.2,534.9 1591.0,538.4 1591.8,543.1 1592.6,553.2 1593.4,554.6 1594.2,564.1 1594.9,576.4 1595.7,565.8 1596.5,564.6 1597.3,574.4 1598.1,580.6 1598.9,578.1 1599.7,586.2 1600.5,584.6 1601.3,600.3 1602.1,614.7 1602.9,602.2 1603.7,603.5 1604.4,619.9 1605.2,616.4 1606.0,616.6 1606.8,645.6 1607.6,610.7 1608.4,626.0 1609.2,636.0 1610.0,645.7 1610.8,651.2 1611.6,617.3 1612.4,646.6 1613.1,641.2 1613.9,653.4 1614.7,653.1 1615.5,648.0 1616.3,662.1 1617.1,658.0 1617.9,661.3 1618.7,658.7 1619.5,658.5 1620.3,668.8 1621.1,659.8 1621.8,676.5 1622.6,678.6 1623.4,677.8 1624.2,683.1 1625.0,678.2 1625.8,707.9 1626.6,702.6 1627.4,708.3 1628.2,684.4 1629.0,691.3 1629.8,705.1 1630.6,699.6 1631.3,718.2 1632.1,709.9 1632.9,699.1 1633.7,707.8 1634.5,699.3 1635.3,721.3 1636.1,711.6 1636.9,721.8 1637.7,722.6 1638.5,725.5 1639.3,724.1 1640.0,722.3 1640.8,734.1 1641.6,734.0 1642.4,739.9 1643.2,739.3 1644.0,749.7 1644.8,738.4 1645.6,742.8 1646.4,747.7 1647.2,752.4 1648.0,759.3 1648.8,763.5 1649.5,766.8 1650.3,766.5 1651.1,755.8 1651.9,761.5 1652.7,777.3 1653.5,775.9 1654.3,760.7 1655.1,760.1 1655.9,768.1 1656.7,760.5 1657.5,783.2 1658.2,776.6 1659.0,786.4 1659.8,766.8 1660.6,781.8 1661.4,783.5 1662.2,785.5 1663.0,794.9 1663.8,791.7 1664.6,809.8 1665.4,797.6 1666.2,803.2 1666.9,791.3 1667.7,788.7 1668.5,798.0 1669.3,809.0 1670.1,810.9 1670.9,798.5 1671.7,807.4 1672.5,808.6 1673.3,816.0 1674.1,807.4 1674.9,809.0 1675.7,805.9 1676.4,820.0 1677.2,814.6 1678.0,826.2 1678.8,815.2 1679.6,818.1 1680.4,822.2 1681.2,814.1 1682.0,831.5 1682.8,811.8 1683.6,821.7 1684.4,821.8 1685.1,825.3 1685.9,834.0 1686.7,834.3 1687.5,824.4 1688.3,832.9 1689.1,831.8 1689.9,838.1 1690.7,830.6 1691.5,833.3 1692.3,849.0 1693.1,826.1 1693.8,834.1 1694.6,836.9 1695.4,841.8 1696.2,845.8 1697.0,840.1 1697.8,828.4 1698.6,849.2 1699.4,857.7 1700.2,850.7 1701.0,850.8 1701.8,845.0 1702.6,862.0 1703.3,856.8 1704.1,856.6 1704.9,847.7 1705.7,847.3 1706.5,854.7 1707.3,848.9 1708.1,856.6 1708.9,857.2 1709.7,875.5 1710.5,865.8 1711.3,868.1 1712.0,856.9 1712.8,860.2 1713.6,869.3 1714.4,861.5 1715.2,863.3 1716.0,859.9 1716.8,867.4 1717.6,869.0 1718.4,855.1 1719.2,866.5 1720.0,857.4 1720.7,871.9 1721.5,867.4 1722.3,868.4 1723.1,873.6 1723.9,861.4 1724.7,876.9 1725.5,865.6 1726.3,883.3 1727.1,862.8 1727.9,867.8 1728.7,860.1 1729.5,853.8 1730.2,873.9 1731.0,869.1 1731.8,878.9 1732.6,873.0 1733.4,869.4 1734.2,869.8 1735.0,864.5 1735.8,866.9 1736.6,863.6 1737.4,876.0 1738.2,870.2 1738.9,879.1 1739.7,872.9 1740.5,891.9 1741.3,872.8 1742.1,871.9 1742.9,875.8 1743.7,875.6 1744.5,885.3 1745.3,877.8 1746.1,877.5 1746.9,871.7 1747.7,870.1 1748.4,876.9 1749.2,874.8 1750.0,871.3 1750.8,880.6 1751.6,866.8 1752.4,859.4 1753.2,871.7 1754.0,878.1 1754.8,873.1 1755.6,866.2 1756.4,865.6 1757.1,884.8 1757.9,872.7 1758.7,880.5 1759.5,878.4 1760.3,873.3 1761.1,871.4 1761.9,877.5 1762.7,881.7 1763.5,877.0 1764.3,883.2 1765.1,863.0 1765.8,887.2 1766.6,871.5 1767.4,875.1 1768.2,875.9 1769.0,883.7 1769.8,879.7 1770.6,878.7 1771.4,880.2 1772.2,878.1 1773.0,875.6 1773.8,879.7 1774.6,873.3 1775.3,871.3 1776.1,880.6 1776.9,871.4 1777.7,876.4 1778.5,880.9 1779.3,873.5 1780.1,868.9 1780.9,879.3 1781.7,890.4 1782.5,871.5 1783.3,869.9 1784.0,885.4 1784.8,878.3 1785.6,874.0 1786.4,894.7 1787.2,871.8 1788.0,872.3 1788.8,871.7 1789.6,866.8 1790.4,885.4 1791.2,870.9 1792.0,861.2 1792.7,894.3 1793.5,880.6 1794.3,872.9 1795.1,883.3 1795.9,891.4 1796.7,875.8 1797.5,876.9 1798.3,883.5 1799.1,876.5 1799.9,871.6 1800.7,871.0 1801.5,875.3 1802.2,887.5 1803.0,880.7 1803.8,895.2 1804.6,886.3 1805.4,877.4 1806.2,874.7 1807.0,878.9 1807.8,878.8 1808.6,893.1 1809.4,888.2 1810.2,887.3 1810.9,883.2 1811.7,883.3 1812.5,863.0 1813.3,871.6 1814.1,886.5 1814.9,883.9 1815.7,883.1 1816.5,883.4 1817.3,882.9 1818.1,894.1 1818.9,870.6 1819.6,874.2 1820.4,874.5 1821.2,878.5 1822.0,875.9 1822.8,881.9 1823.6,893.7 1824.4,878.4 1825.2,879.1 1826.0,889.0 1826.8,895.8 1827.6,871.0 1828.4,886.8 1829.1,880.9 1829.9,884.5 1830.7,867.1 1831.5,890.3 1832.3,871.7 1833.1,897.3" stroke="#ff0000" stroke-width="1.30"/>
<polyline points="1338.6,887.0 1339.4,895.5 1340.2,884.7 1341.0,886.8 1341.8,884.0 1342.6,894.3 1343.3,890.8 1344.1,891.9 1344.9,885.9 1345.7,889.5 1346.5,892.1 1347.3,879.0 1348.1,889.5 1348.9,880.5 1349.7,881.9 1350.5,890.5 1351.3,896.6 1352.1,885.4 1352.8,882.7 1353.6,880.0 1354.4,884.3 1355.2,884.0 1356.0,889.8 1356.8,890.3 1357.6,868.6 1358.4,880.0 1359.2,893.6 1360.0,884.5 1360.8,883.6 1361.5,896.0 1362.3,887.7 1363.1,883.0 1363.9,876.9 1364.7,877.1 1365.5,887.9 1366.3,887.7 1367.1,888.4 1367.9,884.6 1368.7,881.1 1369.5,891.5 1370.2,886.7 1371.0,888.9 1371.8,889.9 1372.6,888.4 1373.4,875.5 1374.2,875.9 1375.0,877.4 1375.8,894.6 1376.6,883.7 1377.4,872.1 1378.2,883.0 1379.0,889.2 1379.7,881.9 1380.5,886.6 1381.3,887.3 1382.1,883.7 1382.9,882.4 1383.7,885.9 1384.5,885.0 1385.3,890.6 1386.1,885.1 1386.9,880.9 1387.7,884.2 1388.4,885.7 1389.2,892.7 1390.0,878.4 1390.8,891.0 1391.6,880.8 1392.4,886.5 1393.2,880.0 1394.0,878.6 1394.8,886.0 1395.6,897.3 1396.4,895.5 1397.1,889.5 1397.9,889.1 1398.7,882.3 1399.5,872.9 1400.3,880.1 1401.1,884.5 1401.9,876.2 1402.7,884.6 1403.5,878.7 1404.3,881.3 1405.1,894.0 1405.9,877.8 1406.6,873.3 1407.4,884.8 1408.2,878.6 1409.0,879.8 1409.8,884.0 1410.6,884.5 1411.4,876.7 1412.2,885.6 1413.0,884.8 1413.8,876.9 1414.6,876.2 1415.3,872.4 1416.1,883.9 1416.9,887.6 1417.7,873.6 1418.5,887.5 1419.3,880.5 1420.1,878.5 1420.9,866.9 1421.7,875.2 1422.5,880.9 1423.3,873.1 1424.0,864.3 1424.8,880.2 1425.6,876.0 1426.4,861.5 1427.2,864.8 1428.0,868.8 1428.8,861.4 1429.6,856.5 1430.4,859.6 1431.2,852.6 1432.0,837.5 1432.8,839.6 1433.5,830.3 1434.3,831.4 1435.1,828.9 1435.9,818.6 1436.7,820.0 1437.5,808.0 1438.3,807.3 1439.1,802.8 1439.9,798.0 1440.7,797.0 1441.5,779.7 1442.2,791.5 1443.0,778.7 1443.8,784.5 1444.6,771.3 1445.4,778.2 1446.2,780.1 1447.0,784.3 1447.8,790.4 1448.6,794.7 1449.4,795.8 1450.2,797.7 1451.0,803.7 1451.7,804.2 1452.5,805.1 1453.3,809.0 1454.1,809.2 1454.9,800.2 1455.7,816.5 1456.5,800.4 1457.3,813.7 1458.1,808.4 1458.9,812.8 1459.7,814.7 1460.4,811.4 1461.2,805.9 1462.0,816.5 1462.8,816.6 1463.6,819.9 1464.4,806.2 1465.2,811.4 1466.0,812.1 1466.8,818.5 1467.6,829.5 1468.4,816.8 1469.1,829.6 1469.9,823.5 1470.7,815.0 1471.5,823.7 1472.3,824.4 1473.1,832.4 1473.9,816.8 1474.7,818.2 1475.5,822.8 1476.3,817.6 1477.1,827.7 1477.9,823.2 1478.6,816.1 1479.4,811.2 1480.2,815.1 1481.0,820.5 1481.8,815.2 1482.6,804.9 1483.4,812.2 1484.2,805.0 1485.0,801.1 1485.8,803.2 1486.6,796.5 1487.3,802.8 1488.1,792.3 1488.9,785.1 1489.7,778.0 1490.5,770.5 1491.3,776.1 1492.1,766.3 1492.9,764.7 1493.7,763.2 1494.5,758.0 1495.3,749.1 1496.0,743.9 1496.8,743.6 1497.6,720.4 1498.4,732.1 1499.2,725.5 1500.0,728.0 1500.8,709.0 1501.6,734.3 1502.4,722.0 1503.2,717.1 1504.0,709.7 1504.8,714.6 1505.5,717.8 1506.3,701.7 1507.1,704.4 1507.9,707.1 1508.7,704.6 1509.5,702.1 1510.3,697.3 1511.1,705.0 1511.9,692.2 1512.7,693.7 1513.5,685.0 1514.2,683.3 1515.0,688.2 1515.8,672.5 1516.6,673.2 1517.4,679.8 1518.2,678.3 1519.0,674.0 1519.8,666.1 1520.6,659.0 1521.4,668.8 1522.2,666.2 1522.9,657.3 1523.7,658.6 1524.5,656.9 1525.3,655.5 1526.1,654.9 1526.9,641.9 1527.7,644.5 1528.5,650.0 1529.3,639.7 1530.1,634.5 1530.9,640.5 1531.7,639.7 1532.4,642.1 1533.2,636.6 1534.0,633.8 1534.8,625.6 1535.6,635.5 1536.4,637.0 1537.2,628.7 1538.0,622.1 1538.8,633.4 1539.6,622.3 1540.4,624.7 1541.1,626.0 1541.9,619.6 1542.7,615.6 1543.5,631.9 1544.3,626.3 1545.1,631.6 1545.9,629.9 1546.7,635.6 1547.5,640.1 1548.3,631.6 1549.1,633.1 1549.9,639.3 1550.6,642.3 1551.4,632.5 1552.2,624.4 1553.0,617.9 1553.8,621.8 1554.6,617.4 1555.4,621.8 1556.2,611.4 1557.0,605.6 1557.8,607.2 1558.6,602.8 1559.3,606.1 1560.1,604.4 1560.9,596.8 1561.7,605.6 1562.5,595.9 1563.3,588.4 1564.1,596.7 1564.9,594.9 1565.7,595.1 1566.5,595.8 1567.3,589.4 1568.0,589.9 1568.8,580.3 1569.6,577.7 1570.4,576.3 1571.2,565.2 1572.0,555.2 1572.8,551.7 1573.6,553.3 1574.4,548.2 1575.2,550.6 1576.0,543.9 1576.8,537.7 1577.5,536.3 1578.3,532.3 1579.1,547.1 1579.9,532.0 1580.7,535.5 1581.5,532.0 1582.3,536.4 1583.1,532.0 1583.9,535.6 1584.7,540.8 1585.5,533.0 1586.2,537.2 1587.0,534.5 1587.8,532.0 1588.6,532.0 1589.4,532.0 1590.2,532.0 1591.0,543.6 1591.8,532.0 1592.6,542.6 1593.4,539.6 1594.2,544.6 1594.9,551.2 1595.7,542.8 1596.5,556.0 1597.3,556.4 1598.1,548.4 1598.9,571.5 1599.7,571.3 1600.5,560.0 1601.3,570.9 1602.1,568.3 1602.9,576.7 1603.7,583.5 1604.4,581.5 1605.2,593.5 1606.0,596.9 1606.8,596.8 1607.6,607.9 1608.4,613.3 1609.2,617.9 1610.0,607.1 1610.8,604.9 1611.6,612.0 1612.4,625.0 1613.1,627.3 1613.9,632.9 1614.7,630.6 1615.5,628.0 1616.3,637.1 1617.1,640.1 1617.9,660.8 1618.7,645.0 1619.5,656.8 1620.3,655.3 1621.1,655.8 1621.8,660.9 1622.6,661.4 1623.4,660.9 1624.2,685.4 1625.0,685.2 1625.8,671.4 1626.6,681.5 1627.4,691.8 1628.2,693.2 1629.0,695.5 1629.8,693.6 1630.6,704.8 1631.3,706.7 1632.1,717.5 1632.9,705.5 1633.7,714.2 1634.5,722.2 1635.3,729.6 1636.1,724.9 1636.9,722.3 1637.7,716.8 1638.5,721.0 1639.3,735.5 1640.0,737.7 1640.8,742.6 1641.6,736.6 1642.4,745.1 1643.2,739.6 1644.0,742.8 1644.8,744.2 1645.6,753.7 1646.4,744.1 1647.2,753.4 1648.0,760.9 1648.8,756.4 1649.5,757.2 1650.3,759.8 1651.1,756.9 1651.9,757.4 1652.7,753.4 1653.5,768.3 1654.3,763.1 1655.1,785.9 1655.9,763.3 1656.7,775.6 1657.5,770.4 1658.2,780.6 1659.0,778.2 1659.8,779.7 1660.6,788.4 1661.4,790.1 1662.2,804.7 1663.0,787.7 1663.8,793.7 1664.6,796.1 1665.4,790.1 1666.2,797.0 1666.9,799.7 1667.7,813.5 1668.5,804.3 1669.3,808.8 1670.1,803.9 1670.9,814.1 1671.7,820.1 1672.5,816.6 1673.3,807.1 1674.1,824.0 1674.9,814.0 1675.7,823.8 1676.4,835.8 1677.2,822.9 1678.0,814.9 1678.8,826.9 1679.6,836.7 1680.4,833.4 1681.2,838.4 1682.0,819.0 1682.8,833.0 1683.6,850.4 1684.4,834.0 1685.1,837.3 1685.9,846.6 1686.7,845.5 1687.5,843.7 1688.3,834.9 1689.1,848.4 1689.9,850.8 1690.7,842.4 1691.5,852.2 1692.3,855.5 1693.1,851.5 1693.8,847.1 1694.6,851.8 1695.4,855.6 1696.2,846.5 1697.0,847.6 1697.8,864.9 1698.6,863.3 1699.4,862.8 1700.2,859.7 1701.0,858.3 1701.8,860.3 1702.6,860.2 1703.3,858.8 1704.1,869.0 1704.9,874.5 1705.7,861.5 1706.5,856.9 1707.3,863.3 1708.1,867.3 1708.9,862.5 1709.7,867.9 1710.5,873.9 1711.3,869.4 1712.0,863.6 1712.8,866.6 1713.6,865.1 1714.4,872.1 1715.2,866.8 1716.0,862.5 1716.8,872.6 1717.6,874.0 1718.4,864.9 1719.2,871.5 1720.0,878.9 1720.7,875.1 1721.5,866.0 1722.3,871.5 1723.1,863.6 1723.9,870.6 1724.7,873.0 1725.5,868.8 1726.3,878.2 1727.1,869.2 1727.9,875.8 1728.7,876.9 1729.5,873.5 1730.2,878.5 1731.0,882.3 1731.8,881.2 1732.6,873.6 1733.4,875.0 1734.2,876.4 1735.0,873.1 1735.8,882.1 1736.6,879.6 1737.4,868.6 1738.2,882.9 1738.9,870.8 1739.7,879.4 1740.5,875.2 1741.3,877.0 1742.1,879.8 1742.9,877.9 1743.7,873.4 1744.5,882.6 1745.3,884.1 1746.1,874.3 1746.9,881.3 1747.7,880.2 1748.4,880.4 1749.2,881.8 1750.0,889.5 1750.8,880.3 1751.6,882.4 1752.4,887.3 1753.2,883.1 1754.0,878.9 1754.8,870.8 1755.6,883.3 1756.4,873.1 1757.1,883.0 1757.9,878.1 1758.7,882.1 1759.5,876.7 1760.3,880.1 1761.1,883.1 1761.9,889.5 1762.7,875.8 1763.5,889.4 1764.3,884.6 1765.1,871.8 1765.8,880.2 1766.6,881.1 1767.4,881.0 1768.2,880.4 1769.0,883.7 1769.8,880.1 1770.6,882.9 1771.4,883.9 1772.2,879.6 1773.0,878.8 1773.8,880.4 1774.6,877.3 1775.3,872.3 1776.1,873.2 1776.9,882.1 1777.7,888.7 1778.5,876.6 1779.3,882.3 1780.1,878.8 1780.9,885.0 1781.7,878.5 1782.5,889.3 1783.3,882.3 1784.0,890.7 1784.8,872.4 1785.6,884.9 1786.4,894.9 1787.2,876.7 1788.0,878.4 1788.8,876.3 1789.6,889.9 1790.4,881.9 1791.2,876.8 1792.0,885.0 1792.7,882.0 1793.5,885.3 1794.3,885.9 1795.1,876.8 1795.9,888.5 1796.7,884.2 1797.5,881.3 1798.3,884.3 1799.1,880.0 1799.9,895.4 1800.7,878.5 1801.5,891.2 1802.2,886.0 1803.0,886.7 1803.8,882.4 1804.6,886.0 1805.4,887.4 1806.2,881.4 1807.0,874.0 1807.8,888.5 1808.6,888.8 1809.4,888.5 1810.2,892.0 1810.9,892.0 1811.7,888.0 1812.5,881.7 1813.3,888.3 1814.1,890.1 1814.9,886.2 1815.7,890.0 1816.5,871.1 1817.3,877.5 1818.1,885.6 1818.9,895.0 1819.6,888.9 1820.4,890.8 1821.2,890.7 1822.0,897.3 1822.8,888.8 1823.6,889.3 1824.4,889.7 1825.2,893.0 1826.0,884.2 1826.8,890.8 1827.6,897.3 1828.4,891.7 1829.1,881.9 1829.9,879.8 1830.7,892.3 1831.5,887.1 1832.3,883.3 1833.1,881.3" stroke="#0000ff" stroke-width="1.30"/>
<polyline points="1338.6,891.3 1339.4,893.1 1340.2,892.2 1341.0,893.4 1341.8,894.6 1342.6,893.9 1343.3,892.5 1344.1,895.4 1344.9,890.3 1345.7,889.0 1346.5,895.8 1347.3,891.5 1348.1,893.9 1348.9,892.1 1349.7,892.8 1350.5,893.5 1351.3,891.6 1352.1,893.0 1352.8,890.6 1353.6,892.6 1354.4,895.8 1355.2,893.5 1356.0,893.2 1356.8,894.3 1357.6,895.4 1358.4,889.7 1359.2,893.4 1360.0,893.3 1360.8,895.8 1361.5,892.2 1362.3,893.5 1363.1,891.3 1363.9,890.2 1364.7,894.4 1365.5,894.5 1366.3,891.2 1367.1,891.3 1367.9,892.7 1368.7,891.9 1369.5,893.8 1370.2,893.3 1371.0,893.2 1371.8,895.8 1372.6,891.9 1373.4,891.8 1374.2,894.8 1375.0,894.1 1375.8,892.5 1376.6,891.7 1377.4,892.9 1378.2,893.7 1379.0,892.1 1379.7,892.6 1380.5,894.5 1381.3,893.3 1382.1,893.3 1382.9,891.4 1383.7,894.9 1384.5,893.9 1385.3,893.1 1386.1,892.3 1386.9,888.0 1387.7,892.5 1388.4,890.2 1389.2,890.6 1390.0,889.6 1390.8,888.7 1391.6,890.6 1392.4,893.2 1393.2,892.0 1394.0,888.5 1394.8,887.1 1395.6,888.5 1396.4,886.2 1397.1,889.0 1397.9,891.4 1398.7,889.4 1399.5,888.5 1400.3,886.7 1401.1,886.0 1401.9,888.2 1402.7,883.5 1403.5,885.6 1404.3,883.1 1405.1,881.3 1405.9,879.9 1406.6,878.9 1407.4,879.3 1408.2,876.9 1409.0,873.3 1409.8,874.0 1410.6,873.4 1411.4,873.8 1412.2,867.1 1413.0,866.4 1413.8,862.3 1414.6,861.3 1415.3,857.1 1416.1,853.6 1416.9,847.7 1417.7,847.2 1418.5,843.9 1419.3,837.3 1420.1,831.5 1420.9,829.6 1421.7,821.8 1422.5,817.1 1423.3,810.5 1424.0,808.8 1424.8,799.2 1425.6,793.5 1426.4,786.0 1427.2,780.5 1428.0,772.2 1428.8,768.3 1429.6,756.4 1430.4,745.5 1431.2,738.3 1432.0,728.7 1432.8,718.0 1433.5,706.2 1434.3,700.4 1435.1,692.0 1435.9,681.7 1436.7,673.4 1437.5,667.0 1438.3,661.3 1439.1,660.8 1439.9,659.9 1440.7,656.8 1441.5,657.6 1442.2,662.6 1443.0,662.6 1443.8,669.1 1444.6,674.8 1445.4,679.4 1446.2,686.5 1447.0,694.8 1447.8,702.1 1448.6,709.9 1449.4,719.0 1450.2,731.6 1451.0,741.6 1451.7,753.4 1452.5,760.3 1453.3,770.2 1454.1,775.6 1454.9,776.9 1455.7,783.0 1456.5,782.8 1457.3,788.1 1458.1,793.0 1458.9,796.0 1459.7,800.8 1460.4,796.9 1461.2,799.6 1462.0,796.9 1462.8,801.7 1463.6,807.0 1464.4,811.7 1465.2,815.1 1466.0,814.7 1466.8,816.0 1467.6,820.3 1468.4,817.8 1469.1,818.3 1469.9,822.6 1470.7,821.4 1471.5,823.4 1472.3,818.7 1473.1,821.8 1473.9,821.7 1474.7,822.7 1475.5,820.3 1476.3,820.4 1477.1,813.6 1477.9,812.4 1478.6,813.6 1479.4,810.7 1480.2,806.8 1481.0,804.2 1481.8,804.3 1482.6,797.9 1483.4,797.0 1484.2,792.1 1485.0,798.0 1485.8,792.3 1486.6,783.2 1487.3,778.1 1488.1,772.5 1488.9,767.3 1489.7,757.6 1490.5,753.2 1491.3,744.1 1492.1,738.9 1492.9,733.7 1493.7,733.2 1494.5,723.7 1495.3,715.4 1496.0,709.5 1496.8,704.7 1497.6,698.8 1498.4,696.0 1499.2,685.5 1500.0,678.4 1500.8,674.7 1501.6,668.2 1502.4,663.3 1503.2,656.3 1504.0,650.8 1504.8,642.9 1505.5,637.9 1506.3,634.4 1507.1,627.3 1507.9,620.4 1508.7,616.4 1509.5,610.1 1510.3,607.2 1511.1,603.0 1511.9,602.0 1512.7,596.7 1513.5,596.7 1514.2,593.5 1515.0,587.5 1515.8,585.6 1516.6,584.2 1517.4,577.7 1518.2,573.4 1519.0,571.2 1519.8,566.9 1520.6,564.4 1521.4,561.3 1522.2,561.8 1522.9,561.3 1523.7,556.4 1524.5,559.9 1525.3,553.3 1526.1,552.8 1526.9,549.0 1527.7,548.9 1528.5,545.9 1529.3,545.6 1530.1,542.3 1530.9,537.1 1531.7,540.1 1532.4,539.7 1533.2,532.2 1534.0,532.2 1534.8,533.2 1535.6,534.7 1536.4,535.3 1537.2,538.4 1538.0,536.8 1538.8,539.0 1539.6,539.0 1540.4,536.2 1541.1,537.9 1541.9,534.8 1542.7,537.6 1543.5,536.6 1544.3,538.4 1545.1,543.9 1545.9,545.7 1546.7,553.4 1547.5,559.7 1548.3,574.7 1549.1,580.3 1549.9,578.8 1550.6,578.2 1551.4,569.5 1552.2,563.7 1553.0,560.4 1553.8,558.1 1554.6,558.6 1555.4,557.3 1556.2,559.2 1557.0,561.8 1557.8,559.7 1558.6,564.9 1559.3,565.7 1560.1,569.9 1560.9,567.7 1561.7,568.0 1562.5,572.9 1563.3,569.2 1564.1,576.0 1564.9,576.7 1565.7,579.8 1566.5,582.1 1567.3,589.2 1568.0,585.3 1568.8,594.1 1569.6,591.2 1570.4,599.1 1571.2,601.8 1572.0,599.9 1572.8,610.0 1573.6,612.3 1574.4,617.6 1575.2,618.9 1576.0,620.8 1576.8,621.4 1577.5,631.7 1578.3,629.5 1579.1,630.6 1579.9,632.4 1580.7,637.8 1581.5,638.4 1582.3,637.4 1583.1,642.3 1583.9,641.4 1584.7,649.7 1585.5,651.2 1586.2,652.2 1587.0,656.6 1587.8,656.1 1588.6,661.9 1589.4,661.8 1590.2,667.9 1591.0,669.3 1591.8,670.0 1592.6,672.1 1593.4,677.7 1594.2,681.5 1594.9,680.4 1595.7,686.1 1596.5,686.3 1597.3,687.5 1598.1,691.5 1598.9,698.4 1599.7,696.3 1600.5,699.5 1601.3,705.7 1602.1,708.4 1602.9,708.0 1603.7,712.9 1604.4,715.6 1605.2,717.2 1606.0,720.9 1606.8,719.2 1607.6,724.4 1608.4,729.1 1609.2,731.6 1610.0,734.8 1610.8,734.4 1611.6,741.1 1612.4,739.6 1613.1,744.6 1613.9,749.2 1614.7,746.2 1615.5,749.5 1616.3,752.1 1617.1,755.6 1617.9,757.6 1618.7,761.3 1619.5,760.5 1620.3,763.3 1621.1,768.8 1621.8,771.5 1622.6,773.5 1623.4,774.6 1624.2,777.8 1625.0,780.9 1625.8,782.3 1626.6,783.0 1627.4,785.5 1628.2,787.7 1629.0,786.5 1629.8,789.9 1630.6,790.8 1631.3,795.9 1632.1,794.5 1632.9,797.9 1633.7,800.2 1634.5,802.9 1635.3,804.8 1636.1,806.5 1636.9,807.5 1637.7,809.8 1638.5,807.9 1639.3,812.5 1640.0,814.6 1640.8,816.9 1641.6,819.8 1642.4,821.3 1643.2,820.7 1644.0,825.7 1644.8,821.5 1645.6,823.1 1646.4,830.3 1647.2,827.0 1648.0,828.9 1648.8,830.3 1649.5,832.3 1650.3,831.6 1651.1,837.1 1651.9,837.3 1652.7,836.2 1653.5,838.0 1654.3,841.5 1655.1,838.1 1655.9,838.5 1656.7,841.5 1657.5,841.2 1658.2,840.9 1659.0,847.3 1659.8,845.3 1660.6,846.6 1661.4,846.0 1662.2,848.8 1663.0,849.6 1663.8,847.6 1664.6,845.4 1665.4,851.7 1666.2,847.2 1666.9,849.1 1667.7,849.7 1668.5,849.8 1669.3,853.7 1670.1,851.5 1670.9,857.0 1671.7,856.3 1672.5,854.9 1673.3,854.7 1674.1,859.3 1674.9,860.9 1675.7,857.3 1676.4,858.1 1677.2,857.9 1678.0,859.9 1678.8,862.8 1679.6,858.9 1680.4,860.1 1681.2,861.7 1682.0,858.6 1682.8,862.7 1683.6,860.9 1684.4,864.5 1685.1,870.1 1685.9,867.4 1686.7,870.9 1687.5,866.8 1688.3,864.7 1689.1,870.5 1689.9,866.6 1690.7,868.9 1691.5,867.2 1692.3,868.7 1693.1,871.7 1693.8,869.3 1694.6,870.9 1695.4,869.6 1696.2,868.2 1697.0,872.5 1697.8,869.6 1698.6,873.2 1699.4,872.3 1700.2,873.5 1701.0,875.5 1701.8,874.4 1702.6,875.9 1703.3,874.4 1704.1,877.7 1704.9,877.9 1705.7,875.0 1706.5,875.9 1707.3,876.2 1708.1,876.6 1708.9,876.1 1709.7,877.5 1710.5,877.0 1711.3,880.5 1712.0,878.4 1712.8,881.1 1713.6,882.3 1714.4,880.8 1715.2,879.5 1716.0,880.9 1716.8,878.0 1717.6,880.3 1718.4,881.0 1719.2,881.8 1720.0,884.7 1720.7,882.4 1721.5,882.7 1722.3,879.7 1723.1,884.6 1723.9,883.6 1724.7,884.8 1725.5,883.4 1726.3,887.0 1727.1,883.5 1727.9,884.1 1728.7,884.0 1729.5,879.6 1730.2,884.7 1731.0,883.8 1731.8,884.9 1732.6,883.0 1733.4,881.0 1734.2,882.2 1735.0,884.8 1735.8,887.9 1736.6,884.9 1737.4,888.9 1738.2,887.7 1738.9,887.3 1739.7,888.5 1740.5,886.7 1741.3,887.5 1742.1,888.4 1742.9,886.6 1743.7,888.8 1744.5,885.3 1745.3,886.7 1746.1,888.9 1746.9,887.5 1747.7,889.7 1748.4,889.8 1749.2,887.0 1750.0,891.9 1750.8,888.3 1751.6,885.7 1752.4,893.5 1753.2,885.1 1754.0,893.1 1754.8,893.8 1755.6,893.6 1756.4,892.0 1757.1,891.0 1757.9,893.5 1758.7,890.4 1759.5,888.6 1760.3,891.6 1761.1,890.0 1761.9,889.2 1762.7,887.1 1763.5,890.6 1764.3,889.1 1765.1,889.6 1765.8,890.5 1766.6,891.3 1767.4,890.0 1768.2,889.4 1769.0,893.2 1769.8,891.5 1770.6,890.2 1771.4,890.3 1772.2,890.3 1773.0,887.9 1773.8,889.1 1774.6,893.4 1775.3,888.1 1776.1,892.4 1776.9,892.7 1777.7,889.2 1778.5,891.8 1779.3,894.4 1780.1,890.1 1780.9,890.5 1781.7,890.3 1782.5,894.0 1783.3,889.9 1784.0,892.6 1784.8,889.8 1785.6,893.8 1786.4,893.3 1787.2,895.2 1788.0,893.0 1788.8,889.6 1789.6,891.2 1790.4,892.7 1791.2,889.1 1792.0,891.3 1792.7,890.3 1793.5,891.1 1794.3,892.0 1795.1,891.5 1795.9,891.0 1796.7,889.7 1797.5,890.7 1798.3,890.2 1799.1,894.0 1799.9,895.5 1800.7,891.4 1801.5,891.7 1802.2,891.2 1803.0,893.9 1803.8,891.8 1804.6,894.1 1805.4,891.9 1806.2,892.3 1807.0,892.5 1807.8,891.6 1808.6,893.1 1809.4,892.3 1810.2,890.9 1810.9,889.4 1811.7,891.5 1812.5,890.8 1813.3,891.2 1814.1,889.2 1814.9,888.4 1815.7,893.5 1816.5,891.1 1817.3,891.8 1818.1,889.4 1818.9,895.8 1819.6,893.6 1820.4,895.7 1821.2,889.9 1822.0,891.9 1822.8,891.2 1823.6,891.7 1824.4,891.9 1825.2,891.7 1826.0,893.3 1826.8,895.8 1827.6,891.9 1828.4,892.6 1829.1,893.6 1829.9,893.6 1830.7,890.1 1831.5,893.9 1832.3,894.5 1833.1,891.3" stroke="#000000" stroke-width="2.70"/>
</g>
<path d="M1652.5 488.2H1693.5" stroke="#000000" stroke-width="2.6"/>
<path d="M1652.5 510.4H1693.5" stroke="#ff0000" stroke-width="1.8"/>
<path d="M1652.5 532.8H1693.5" stroke="#0000ff" stroke-width="1.8"/>
<g font-family="Liberation Sans, Arial, sans-serif" fill="#000">
<text transform="translate(1697.50 493.80) scale(1.030 1.000)" font-size="17.5">LED</text>
<text transform="translate(1697.50 516.00) scale(1.030 1.000)" font-size="17.5">Reflectance (Start)</text>
<text transform="translate(1697.50 538.40) scale(1.030 1.000)" font-size="17.5">Transmittance (0.5 hour)</text>
<text transform="translate(1573.00 517.50) scale(1.050 1.000)" font-size="17.5">600 nm</text>
<text transform="translate(1585.35 956.90) scale(1.059 1.000)" font-size="20" text-anchor="middle">Wavelength (nm)</text>
<text transform="translate(1271.60 718.40) scale(1.060 1.000) rotate(-90)" font-size="21" text-anchor="middle">Normalized Intensity</text>
</g>
</svg></body></html>
